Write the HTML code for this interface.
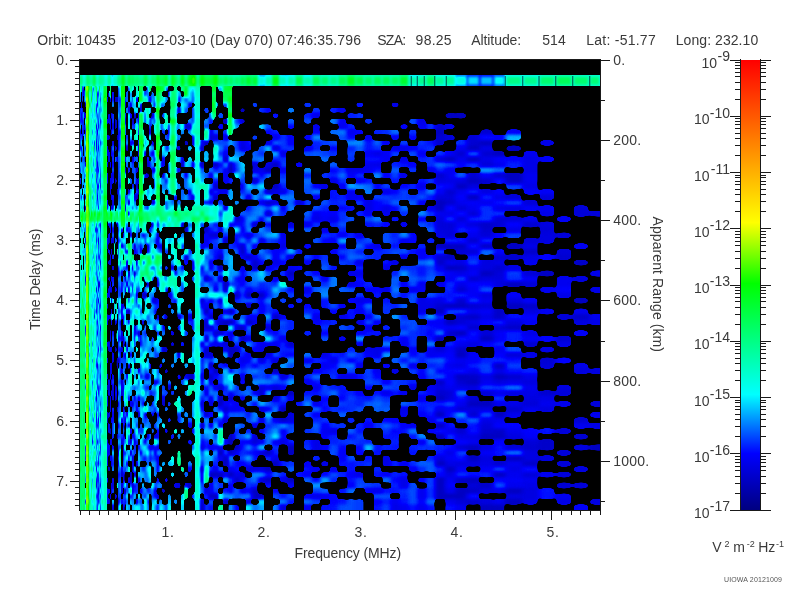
<!DOCTYPE html>
<html><head><meta charset="utf-8"><title>ionogram</title>
<style>html,body{margin:0;padding:0;background:#fff;overflow:hidden}svg{display:block}text{font-family:"Liberation Sans",sans-serif;fill:#3a3a3a;opacity:.999}.t{font-size:14px}.tk{font-size:14px;letter-spacing:.5px}.tr{font-size:14px;letter-spacing:.2px}.s{font-size:9px}.u{font-size:7px;fill:#555}.k{stroke:#1a1a1a;stroke-width:1;shape-rendering:crispEdges;fill:none}</style></head><body>
<svg width="800" height="600" viewBox="0 0 800 600">
<rect width="800" height="600" fill="#fff"/>
<text class="t" x="37.2" y="45.0" textLength="78.5" lengthAdjust="spacing">Orbit: 10435</text>
<text class="t" x="132.5" y="45.0" textLength="228.5" lengthAdjust="spacing">2012-03-10 (Day 070) 07:46:35.796</text>
<text class="t" x="377.2" y="45.0" textLength="29.0" lengthAdjust="spacing">SZA:</text>
<text class="t" x="415.6" y="45.0" textLength="36.0" lengthAdjust="spacing">98.25</text>
<text class="t" x="471.2" y="45.0" textLength="50.0" lengthAdjust="spacing">Altitude:</text>
<text class="t" x="542.2" y="45.0" textLength="23.5" lengthAdjust="spacing">514</text>
<text class="t" x="586.2" y="45.0" textLength="69.5" lengthAdjust="spacing">Lat: -51.77</text>
<text class="t" x="675.7" y="45.0" textLength="82.5" lengthAdjust="spacing">Long: 232.10</text>
<defs>
<filter id="f0" filterUnits="userSpaceOnUse" x="50" y="40" width="120" height="500" color-interpolation-filters="sRGB"><feGaussianBlur stdDeviation="0.45 1.40"/><feComponentTransfer><feFuncR type="table" tableValues="0 0 0 0 0 0 0 0 0 0 0 0 0 0 0 0 0 0.25 0.5 0.75 1"/><feFuncG type="table" tableValues="0 0 0 0 0 0.25 0.5 0.75 1 1 1 1 1 1 1 1 1 1 1 1 1"/><feFuncB type="table" tableValues="0.5 0.625 0.75 0.875 1 1 1 1 1 0.875 0.75 0.625 0.5 0.375 0.25 0.125 0 0 0 0 0"/><feFuncA type="table" tableValues="0 0 0 0 0 0 0 0 0 0 0 0 0 0 0 0 0 0 0 0 0 0 0 0 0.167 0.5 0.833 1 1 1 1 1 1 1 1 1 1 1 1 1 1 1 1 1 1 1 1 1 1 1 1"/></feComponentTransfer></filter>
<clipPath id="c0"><rect x="80" y="60" width="60" height="450"/></clipPath>
<filter id="f1" filterUnits="userSpaceOnUse" x="110" y="40" width="152" height="500" color-interpolation-filters="sRGB"><feGaussianBlur stdDeviation="0.95 1.40"/><feComponentTransfer><feFuncR type="table" tableValues="0 0 0 0 0 0 0 0 0 0 0 0 0 0 0 0 0 0.25 0.5 0.75 1"/><feFuncG type="table" tableValues="0 0 0 0 0 0.25 0.5 0.75 1 1 1 1 1 1 1 1 1 1 1 1 1"/><feFuncB type="table" tableValues="0.5 0.625 0.75 0.875 1 1 1 1 1 0.875 0.75 0.625 0.5 0.375 0.25 0.125 0 0 0 0 0"/><feFuncA type="table" tableValues="0 0 0 0 0 0 0 0 0 0 0 0 0 0 0 0 0 0 0 0 0 0 0 0 0 0 0.167 0.5 0.833 1 1 1 1 1 1 1 1 1 1 1 1 1 1 1 1 1 1 1 1 1 1"/></feComponentTransfer></filter>
<clipPath id="c1"><rect x="140" y="60" width="92" height="450"/></clipPath>
<filter id="f2" filterUnits="userSpaceOnUse" x="202" y="40" width="273" height="500" color-interpolation-filters="sRGB"><feGaussianBlur stdDeviation="1.90 1.40"/><feComponentTransfer><feFuncR type="table" tableValues="0 0 0 0 0 0 0 0 0 0 0 0 0 0 0 0 0 0.25 0.5 0.75 1"/><feFuncG type="table" tableValues="0 0 0 0 0 0.25 0.5 0.75 1 1 1 1 1 1 1 1 1 1 1 1 1"/><feFuncB type="table" tableValues="0.5 0.625 0.75 0.875 1 1 1 1 1 0.875 0.75 0.625 0.5 0.375 0.25 0.125 0 0 0 0 0"/><feFuncA type="table" tableValues="0 0 0 0 0 0 0 0 0 0 0 0 0 0 0 0 0 0 0 0 0 0 0 0 0 0 0 0.167 0.5 0.833 1 1 1 1 1 1 1 1 1 1 1 1 1 1 1 1 1 1 1 1 1"/></feComponentTransfer></filter>
<clipPath id="c2"><rect x="232" y="60" width="213" height="450"/></clipPath>
<filter id="f3" filterUnits="userSpaceOnUse" x="415" y="40" width="215" height="500" color-interpolation-filters="sRGB"><feGaussianBlur stdDeviation="3.00 1.80"/><feComponentTransfer><feFuncR type="table" tableValues="0 0 0 0 0 0 0 0 0 0 0 0 0 0 0 0 0 0.25 0.5 0.75 1"/><feFuncG type="table" tableValues="0 0 0 0 0 0.25 0.5 0.75 1 1 1 1 1 1 1 1 1 1 1 1 1"/><feFuncB type="table" tableValues="0.5 0.625 0.75 0.875 1 1 1 1 1 0.875 0.75 0.625 0.5 0.375 0.25 0.125 0 0 0 0 0"/><feFuncA type="table" tableValues="0 0 0 0 0 0 0 0 0 0 0 0 0 0 0 0 0 0 0 0 0.167 0.5 0.833 1 1 1 1 1 1 1 1 1 1 1 1 1 1 1 1 1 1 1 1 1 1 1 1 1 1 1 1"/></feComponentTransfer></filter>
<clipPath id="c3"><rect x="445" y="60" width="155" height="450"/></clipPath>
</defs>
<rect x="80" y="60" width="521" height="451" fill="#000"/>
<g clip-path="url(#c0)" filter="url(#f0)">
<path fill="rgb(27,27,27)" d="M85.2 102.2h0.8v5.4h-0.8zM85.2 162.0h0.8v5.4h-0.8zM85.2 205.5h0.8v5.4h-0.8zM85.2 238.1h0.8v5.4h-0.8zM85.2 276.2h0.8v5.4h-0.8zM85.2 325.1h0.8v5.4h-0.8zM85.2 444.8h0.8v5.4h-0.8zM85.2 455.6h0.8v5.4h-0.8zM85.2 499.1h0.8v5.4h-0.8zM86.0 107.6h0.8v5.4h-0.8zM86.0 134.8h0.8v5.4h-0.8zM86.0 183.8h0.8v5.4h-0.8zM86.0 352.3h0.8v5.4h-0.8zM86.0 384.9h0.8v5.4h-0.8zM86.0 439.3h0.8v10.9h-0.8zM86.0 455.6h0.8v5.4h-0.8zM86.8 91.3h0.8v5.4h-0.8zM86.8 107.6h0.8v5.4h-0.8zM86.8 194.6h0.8v5.4h-0.8zM86.8 221.8h0.8v5.4h-0.8zM86.8 238.1h0.8v10.9h-0.8zM86.8 287.1h0.8v5.4h-0.8zM86.8 390.4h0.8v5.4h-0.8zM86.8 450.2h0.8v5.4h-0.8zM86.8 482.8h0.8v5.4h-0.8zM87.7 167.4h0.9v5.4h-0.9zM87.7 232.7h0.9v5.4h-0.9zM87.7 265.3h0.9v5.4h-0.9zM87.7 287.1h0.9v5.4h-0.9zM87.7 303.4h0.9v5.4h-0.9zM87.7 341.4h0.9v5.4h-0.9zM87.7 439.3h0.9v5.4h-0.9zM87.7 461.1h0.9v5.4h-0.9zM88.5 91.3h0.9v10.9h-0.9zM88.5 151.1h0.9v5.4h-0.9zM88.5 238.1h0.9v5.4h-0.9zM88.5 276.2h0.9v5.4h-0.9zM88.5 341.4h0.9v10.9h-0.9zM88.5 368.6h0.9v5.4h-0.9zM88.5 406.7h0.9v5.4h-0.9zM101.3 102.2h1.1v5.4h-1.1zM101.3 265.3h1.1v5.4h-1.1zM102.4 319.7h1.1v5.4h-1.1zM103.6 91.3h1.2v5.4h-1.2zM103.6 189.2h1.2v5.4h-1.2zM104.7 357.8h1.2v5.4h-1.2zM105.9 417.6h1.2v5.4h-1.2zM107.2 384.9h1.2v5.4h-1.2zM107.2 417.6h1.2v5.4h-1.2zM108.4 91.3h1.3v5.4h-1.3zM108.4 238.1h1.3v5.4h-1.3zM108.4 384.9h1.3v5.4h-1.3zM108.4 466.5h1.3v5.4h-1.3zM109.7 428.4h1.3v5.4h-1.3zM111.0 145.7h1.3v5.4h-1.3zM115.1 96.8h1.5v5.4h-1.5zM115.1 118.5h1.5v10.9h-1.5zM115.1 145.7h1.5v5.4h-1.5zM115.1 178.3h1.5v5.4h-1.5zM115.1 346.9h1.5v5.4h-1.5zM115.1 384.9h1.5v5.4h-1.5zM115.1 395.8h1.5v5.4h-1.5zM116.5 96.8h1.5v5.4h-1.5zM116.5 134.8h1.5v5.4h-1.5zM116.5 156.6h1.5v5.4h-1.5zM116.5 189.2h1.5v5.4h-1.5zM116.5 221.8h1.5v5.4h-1.5zM116.5 357.8h1.5v5.4h-1.5zM116.5 406.7h1.5v5.4h-1.5zM116.5 433.9h1.5v5.4h-1.5zM118.0 357.8h1.5v5.4h-1.5zM118.0 499.1h1.5v5.4h-1.5zM121.1 162.0h1.6v5.4h-1.6zM121.1 178.3h1.6v5.4h-1.6zM121.1 270.8h1.6v5.4h-1.6zM121.1 390.4h1.6v5.4h-1.6zM121.1 471.9h1.6v5.4h-1.6zM122.8 189.2h1.7v5.4h-1.7zM124.4 102.2h1.7v5.4h-1.7zM124.4 205.5h1.7v5.4h-1.7zM124.4 352.3h1.7v5.4h-1.7zM126.2 145.7h1.8v5.4h-1.8zM128.0 200.1h1.8v5.4h-1.8zM128.0 270.8h1.8v5.4h-1.8zM128.0 308.8h1.8v5.4h-1.8zM129.8 439.3h1.9v5.4h-1.9zM129.8 450.2h1.9v5.4h-1.9zM129.8 471.9h1.9v10.9h-1.9zM131.7 156.6h1.9v5.4h-1.9zM131.7 466.5h1.9v5.4h-1.9zM133.6 194.6h2.0v5.4h-2.0zM133.6 243.6h2.0v5.4h-2.0zM133.6 270.8h2.0v5.4h-2.0zM135.6 183.8h2.1v5.4h-2.1zM135.6 194.6h2.1v5.4h-2.1zM137.7 145.7h2.1v5.4h-2.1zM137.7 189.2h2.1v5.4h-2.1zM137.7 412.1h2.1v5.4h-2.1zM139.8 91.3h2.2v5.4h-2.2zM139.8 249.0h2.2v5.4h-2.2zM139.8 450.2h2.2v5.4h-2.2zM142.0 178.3h2.3v5.4h-2.3zM142.0 205.5h2.3v5.4h-2.3zM142.0 292.5h2.3v5.4h-2.3z"/>
<path fill="rgb(30,30,30)" d="M81.4 102.2h0.7v5.4h-0.7zM81.4 113.1h0.7v5.4h-0.7zM82.1 134.8h0.7v5.4h-0.7zM84.4 113.1h0.8v5.4h-0.8zM84.4 123.9h0.8v5.4h-0.8zM86.8 162.0h0.8v5.4h-0.8zM87.7 249.0h0.9v5.4h-0.9zM88.5 134.8h0.9v5.4h-0.9zM98.0 238.1h1.1v5.4h-1.1zM98.0 281.6h1.1v5.4h-1.1zM99.1 281.6h1.1v5.4h-1.1zM100.2 259.9h1.1v5.4h-1.1zM100.2 325.1h1.1v5.4h-1.1zM102.4 270.8h1.1v5.4h-1.1zM108.4 346.9h1.3v5.4h-1.3zM116.5 363.2h1.5v5.4h-1.5zM121.1 145.7h1.6v5.4h-1.6zM121.1 205.5h1.6v5.4h-1.6zM121.1 439.3h1.6v5.4h-1.6zM124.4 167.4h1.7v5.4h-1.7zM124.4 276.2h1.7v5.4h-1.7zM124.4 488.2h1.7v5.4h-1.7zM131.7 118.5h1.9v5.4h-1.9zM133.6 113.1h2.0v5.4h-2.0zM135.6 499.1h2.1v5.4h-2.1zM137.7 178.3h2.1v5.4h-2.1zM139.8 107.6h2.2v5.4h-2.2z"/>
<path fill="rgb(33,33,33)" d="M86.0 156.6h0.8v5.4h-0.8zM86.8 455.6h0.8v5.4h-0.8zM100.2 444.8h1.1v5.4h-1.1zM101.3 428.4h1.1v5.4h-1.1zM102.4 412.1h1.1v5.4h-1.1zM102.4 444.8h1.1v5.4h-1.1zM102.4 477.4h1.1v5.4h-1.1zM105.9 151.1h1.2v5.4h-1.2zM108.4 134.8h1.3v5.4h-1.3zM108.4 276.2h1.3v5.4h-1.3zM109.7 330.6h1.3v5.4h-1.3zM112.3 172.9h1.4v5.4h-1.4zM112.3 390.4h1.4v10.9h-1.4zM112.3 482.8h1.4v5.4h-1.4zM118.0 270.8h1.5v5.4h-1.5zM121.1 123.9h1.6v5.4h-1.6zM121.1 156.6h1.6v5.4h-1.6zM121.1 243.6h1.6v5.4h-1.6zM121.1 346.9h1.6v5.4h-1.6zM121.1 368.6h1.6v5.4h-1.6zM121.1 417.6h1.6v5.4h-1.6zM121.1 482.8h1.6v10.9h-1.6zM122.8 336.0h1.7v5.4h-1.7zM122.8 444.8h1.7v5.4h-1.7zM124.4 417.6h1.7v5.4h-1.7zM128.0 107.6h1.8v5.4h-1.8zM133.6 325.1h2.0v5.4h-2.0zM133.6 471.9h2.0v5.4h-2.0zM135.6 259.9h2.1v5.4h-2.1zM135.6 461.1h2.1v5.4h-2.1zM137.7 330.6h2.1v5.4h-2.1zM139.8 102.2h2.2v5.4h-2.2zM142.0 91.3h2.3v5.4h-2.3z"/>
<path fill="rgb(36,36,36)" d="M81.4 194.6h0.7v5.4h-0.7zM83.6 123.9h0.8v5.4h-0.8zM85.2 113.1h0.8v5.4h-0.8zM86.8 368.6h0.8v5.4h-0.8zM88.5 232.7h0.9v5.4h-0.9zM96.0 395.8h1.0v5.4h-1.0zM97.0 129.4h1.0v5.4h-1.0zM97.0 162.0h1.0v5.4h-1.0zM97.0 363.2h1.0v5.4h-1.0zM98.0 488.2h1.1v5.4h-1.1zM101.3 151.1h1.1v5.4h-1.1zM112.3 123.9h1.4v5.4h-1.4zM112.3 238.1h1.4v5.4h-1.4zM112.3 384.9h1.4v5.4h-1.4zM118.0 450.2h1.5v5.4h-1.5zM121.1 151.1h1.6v5.4h-1.6zM121.1 379.5h1.6v5.4h-1.6zM124.4 118.5h1.7v5.4h-1.7zM126.2 259.9h1.8v5.4h-1.8zM126.2 281.6h1.8v5.4h-1.8zM126.2 308.8h1.8v5.4h-1.8zM128.0 287.1h1.8v5.4h-1.8zM129.8 102.2h1.9v5.4h-1.9zM137.7 477.4h2.1v5.4h-2.1z"/>
<path fill="rgb(39,39,39)" d="M68.0 91.3h12.7v5.4h-12.7zM80.7 107.6h0.7v5.4h-0.7zM84.4 151.1h0.8v5.4h-0.8zM85.2 330.6h0.8v5.4h-0.8zM85.2 384.9h0.8v5.4h-0.8zM86.0 205.5h0.8v5.4h-0.8zM86.0 428.4h0.8v5.4h-0.8zM86.8 156.6h0.8v5.4h-0.8zM86.8 265.3h0.8v5.4h-0.8zM86.8 374.1h0.8v5.4h-0.8zM87.7 178.3h0.9v5.4h-0.9zM87.7 368.6h0.9v5.4h-0.9zM96.0 287.1h1.0v5.4h-1.0zM98.0 297.9h1.1v5.4h-1.1zM100.2 183.8h1.1v5.4h-1.1zM103.6 423.0h1.2v5.4h-1.2zM105.9 227.2h1.2v5.4h-1.2zM105.9 287.1h1.2v5.4h-1.2zM107.2 412.1h1.2v5.4h-1.2zM109.7 183.8h1.3v5.4h-1.3zM112.3 200.1h1.4v10.9h-1.4zM112.3 265.3h1.4v5.4h-1.4zM112.3 504.6h1.4v17.4h-1.4zM115.1 319.7h1.5v5.4h-1.5zM121.1 303.4h1.6v5.4h-1.6zM121.1 330.6h1.6v5.4h-1.6zM122.8 91.3h1.7v5.4h-1.7zM122.8 107.6h1.7v5.4h-1.7zM122.8 162.0h1.7v5.4h-1.7zM122.8 232.7h1.7v5.4h-1.7zM122.8 303.4h1.7v5.4h-1.7zM128.0 210.9h1.8v5.4h-1.8zM131.7 401.2h1.9v5.4h-1.9zM131.7 455.6h1.9v5.4h-1.9zM131.7 482.8h1.9v5.4h-1.9zM135.6 167.4h2.1v5.4h-2.1zM137.7 113.1h2.1v5.4h-2.1zM139.8 488.2h2.2v5.4h-2.2z"/>
<path fill="rgb(42,42,42)" d="M80.7 118.5h0.7v5.4h-0.7zM83.6 85.9h0.8v5.4h-0.8zM85.2 194.6h0.8v5.4h-0.8zM86.8 401.2h0.8v5.4h-0.8zM87.7 134.8h0.9v5.4h-0.9zM87.7 259.9h0.9v5.4h-0.9zM87.7 428.4h0.9v5.4h-0.9zM88.5 292.5h0.9v5.4h-0.9zM88.5 314.2h0.9v5.4h-0.9zM90.3 428.4h0.9v5.4h-0.9zM92.1 439.3h0.9v5.4h-0.9zM96.0 140.2h1.0v5.4h-1.0zM96.0 482.8h1.0v5.4h-1.0zM97.0 194.6h1.0v5.4h-1.0zM100.2 118.5h1.1v5.4h-1.1zM101.3 113.1h1.1v5.4h-1.1zM101.3 319.7h1.1v5.4h-1.1zM102.4 281.6h1.1v5.4h-1.1zM103.6 96.8h1.2v5.4h-1.2zM103.6 319.7h1.2v5.4h-1.2zM105.9 102.2h1.2v5.4h-1.2zM105.9 379.5h1.2v5.4h-1.2zM105.9 471.9h1.2v5.4h-1.2zM107.2 439.3h1.2v5.4h-1.2zM108.4 118.5h1.3v5.4h-1.3zM108.4 156.6h1.3v5.4h-1.3zM108.4 221.8h1.3v5.4h-1.3zM108.4 232.7h1.3v5.4h-1.3zM108.4 249.0h1.3v5.4h-1.3zM108.4 259.9h1.3v5.4h-1.3zM108.4 292.5h1.3v5.4h-1.3zM108.4 314.2h1.3v5.4h-1.3zM108.4 390.4h1.3v5.4h-1.3zM108.4 412.1h1.3v5.4h-1.3zM108.4 423.0h1.3v10.9h-1.3zM108.4 450.2h1.3v5.4h-1.3zM108.4 488.2h1.3v5.4h-1.3zM108.4 499.1h1.3v5.4h-1.3zM109.7 254.4h1.3v5.4h-1.3zM109.7 368.6h1.3v5.4h-1.3zM111.0 113.1h1.3v5.4h-1.3zM111.0 129.4h1.3v5.4h-1.3zM111.0 151.1h1.3v5.4h-1.3zM111.0 172.9h1.3v16.3h-1.3zM111.0 194.6h1.3v5.4h-1.3zM111.0 205.5h1.3v5.4h-1.3zM111.0 238.1h1.3v5.4h-1.3zM111.0 249.0h1.3v5.4h-1.3zM111.0 276.2h1.3v5.4h-1.3zM111.0 287.1h1.3v5.4h-1.3zM111.0 297.9h1.3v5.4h-1.3zM111.0 308.8h1.3v5.4h-1.3zM111.0 319.7h1.3v5.4h-1.3zM111.0 346.9h1.3v5.4h-1.3zM111.0 363.2h1.3v10.9h-1.3zM111.0 379.5h1.3v5.4h-1.3zM111.0 390.4h1.3v5.4h-1.3zM111.0 439.3h1.3v5.4h-1.3zM111.0 455.6h1.3v10.9h-1.3zM111.0 482.8h1.3v10.9h-1.3zM112.3 140.2h1.4v5.4h-1.4zM112.3 357.8h1.4v5.4h-1.4zM115.1 287.1h1.5v5.4h-1.5zM118.0 461.1h1.5v5.4h-1.5zM121.1 227.2h1.6v5.4h-1.6zM121.1 308.8h1.6v5.4h-1.6zM121.1 336.0h1.6v5.4h-1.6zM121.1 466.5h1.6v5.4h-1.6zM122.8 178.3h1.7v5.4h-1.7zM128.0 189.2h1.8v5.4h-1.8zM128.0 363.2h1.8v5.4h-1.8zM131.7 488.2h1.9v5.4h-1.9zM133.6 439.3h2.0v5.4h-2.0zM135.6 178.3h2.1v5.4h-2.1zM137.7 395.8h2.1v5.4h-2.1zM139.8 374.1h2.2v5.4h-2.2zM142.0 232.7h2.3v5.4h-2.3zM142.0 259.9h2.3v5.4h-2.3zM142.0 319.7h2.3v5.4h-2.3z"/>
<path fill="rgb(45,45,45)" d="M68.0 129.4h12.7v5.4h-12.7zM82.9 91.3h0.8v5.4h-0.8zM85.2 254.4h0.8v5.4h-0.8zM86.0 145.7h0.8v5.4h-0.8zM86.0 178.3h0.8v5.4h-0.8zM86.0 341.4h0.8v5.4h-0.8zM86.8 102.2h0.8v5.4h-0.8zM87.7 172.9h0.9v5.4h-0.9zM88.5 287.1h0.9v5.4h-0.9zM88.5 297.9h0.9v5.4h-0.9zM88.5 444.8h0.9v5.4h-0.9zM96.0 123.9h1.0v5.4h-1.0zM98.0 417.6h1.1v5.4h-1.1zM100.2 412.1h1.1v5.4h-1.1zM100.2 482.8h1.1v5.4h-1.1zM101.3 145.7h1.1v5.4h-1.1zM101.3 357.8h1.1v5.4h-1.1zM101.3 488.2h1.1v5.4h-1.1zM102.4 455.6h1.1v5.4h-1.1zM104.7 259.9h1.2v5.4h-1.2zM105.9 85.9h1.2v5.4h-1.2zM105.9 428.4h1.2v5.4h-1.2zM107.2 96.8h1.2v5.4h-1.2zM107.2 118.5h1.2v5.4h-1.2zM107.2 134.8h1.2v5.4h-1.2zM107.2 145.7h1.2v10.9h-1.2zM107.2 162.0h1.2v5.4h-1.2zM107.2 172.9h1.2v10.9h-1.2zM107.2 200.1h1.2v10.9h-1.2zM107.2 238.1h1.2v10.9h-1.2zM107.2 292.5h1.2v5.4h-1.2zM107.2 303.4h1.2v5.4h-1.2zM107.2 314.2h1.2v10.9h-1.2zM107.2 341.4h1.2v5.4h-1.2zM107.2 357.8h1.2v5.4h-1.2zM107.2 374.1h1.2v5.4h-1.2zM107.2 395.8h1.2v10.9h-1.2zM107.2 444.8h1.2v21.8h-1.2zM107.2 477.4h1.2v5.4h-1.2zM107.2 488.2h1.2v16.3h-1.2zM108.4 113.1h1.3v5.4h-1.3zM108.4 151.1h1.3v5.4h-1.3zM108.4 287.1h1.3v5.4h-1.3zM108.4 341.4h1.3v5.4h-1.3zM108.4 379.5h1.3v5.4h-1.3zM108.4 444.8h1.3v5.4h-1.3zM109.7 96.8h1.3v5.4h-1.3zM109.7 118.5h1.3v10.9h-1.3zM109.7 162.0h1.3v5.4h-1.3zM109.7 178.3h1.3v5.4h-1.3zM109.7 189.2h1.3v5.4h-1.3zM109.7 221.8h1.3v10.9h-1.3zM109.7 259.9h1.3v5.4h-1.3zM109.7 281.6h1.3v10.9h-1.3zM109.7 314.2h1.3v5.4h-1.3zM109.7 336.0h1.3v5.4h-1.3zM109.7 346.9h1.3v5.4h-1.3zM109.7 363.2h1.3v5.4h-1.3zM109.7 374.1h1.3v5.4h-1.3zM109.7 395.8h1.3v16.3h-1.3zM109.7 439.3h1.3v5.4h-1.3zM109.7 455.6h1.3v5.4h-1.3zM109.7 493.7h1.3v5.4h-1.3zM111.0 417.6h1.3v5.4h-1.3zM112.3 227.2h1.4v5.4h-1.4zM112.3 412.1h1.4v5.4h-1.4zM115.1 493.7h1.5v5.4h-1.5zM118.0 145.7h1.5v5.4h-1.5zM118.0 423.0h1.5v5.4h-1.5zM119.5 319.7h1.6v5.4h-1.6zM121.1 314.2h1.6v5.4h-1.6zM121.1 384.9h1.6v5.4h-1.6zM122.8 134.8h1.7v5.4h-1.7zM122.8 319.7h1.7v5.4h-1.7zM122.8 341.4h1.7v5.4h-1.7zM122.8 384.9h1.7v5.4h-1.7zM122.8 471.9h1.7v10.9h-1.7zM126.2 227.2h1.8v5.4h-1.8zM129.8 140.2h1.9v5.4h-1.9zM129.8 401.2h1.9v5.4h-1.9zM131.7 265.3h1.9v5.4h-1.9zM135.6 96.8h2.1v5.4h-2.1zM135.6 406.7h2.1v5.4h-2.1zM139.8 162.0h2.2v5.4h-2.2zM139.8 243.6h2.2v5.4h-2.2zM139.8 336.0h2.2v10.9h-2.2zM142.0 401.2h2.3v5.4h-2.3z"/>
<path fill="rgb(48,48,48)" d="M68.0 178.3h12.7v5.4h-12.7zM82.1 85.9h0.7v5.4h-0.7zM82.9 129.4h0.8v5.4h-0.8zM85.2 281.6h0.8v5.4h-0.8zM85.2 450.2h0.8v5.4h-0.8zM86.0 276.2h0.8v5.4h-0.8zM86.8 346.9h0.8v5.4h-0.8zM87.7 205.5h0.9v5.4h-0.9zM87.7 243.6h0.9v5.4h-0.9zM87.7 504.6h0.9v17.4h-0.9zM88.5 156.6h0.9v5.4h-0.9zM88.5 194.6h0.9v5.4h-0.9zM88.5 319.7h0.9v5.4h-0.9zM88.5 336.0h0.9v5.4h-0.9zM96.0 145.7h1.0v5.4h-1.0zM96.0 417.6h1.0v5.4h-1.0zM96.0 466.5h1.0v5.4h-1.0zM97.0 102.2h1.0v5.4h-1.0zM97.0 330.6h1.0v5.4h-1.0zM98.0 145.7h1.1v5.4h-1.1zM98.0 183.8h1.1v5.4h-1.1zM98.0 287.1h1.1v5.4h-1.1zM100.2 140.2h1.1v5.4h-1.1zM100.2 221.8h1.1v5.4h-1.1zM100.2 346.9h1.1v5.4h-1.1zM101.3 91.3h1.1v5.4h-1.1zM101.3 249.0h1.1v5.4h-1.1zM101.3 292.5h1.1v5.4h-1.1zM102.4 145.7h1.1v5.4h-1.1zM103.6 151.1h1.2v5.4h-1.2zM104.7 194.6h1.2v5.4h-1.2zM104.7 336.0h1.2v5.4h-1.2zM105.9 357.8h1.2v5.4h-1.2zM105.9 406.7h1.2v5.4h-1.2zM112.3 162.0h1.4v5.4h-1.4zM112.3 352.3h1.4v5.4h-1.4zM112.3 374.1h1.4v5.4h-1.4zM112.3 444.8h1.4v5.4h-1.4zM118.0 134.8h1.5v5.4h-1.5zM118.0 401.2h1.5v5.4h-1.5zM119.5 96.8h1.6v5.4h-1.6zM119.5 129.4h1.6v5.4h-1.6zM119.5 183.8h1.6v5.4h-1.6zM119.5 346.9h1.6v5.4h-1.6zM121.1 102.2h1.6v5.4h-1.6zM121.1 189.2h1.6v5.4h-1.6zM122.8 200.1h1.7v5.4h-1.7zM122.8 433.9h1.7v5.4h-1.7zM122.8 504.6h1.7v17.4h-1.7zM124.4 156.6h1.7v5.4h-1.7zM124.4 287.1h1.7v5.4h-1.7zM126.2 346.9h1.8v5.4h-1.8zM128.0 423.0h1.8v5.4h-1.8zM128.0 477.4h1.8v5.4h-1.8zM129.8 232.7h1.9v5.4h-1.9zM129.8 352.3h1.9v5.4h-1.9zM129.8 428.4h1.9v5.4h-1.9zM131.7 140.2h1.9v5.4h-1.9zM131.7 433.9h1.9v5.4h-1.9zM131.7 461.1h1.9v5.4h-1.9zM133.6 249.0h2.0v5.4h-2.0zM137.7 368.6h2.1v5.4h-2.1zM137.7 444.8h2.1v5.4h-2.1zM139.8 189.2h2.2v5.4h-2.2z"/>
<path fill="rgb(51,51,51)" d="M68.0 140.2h12.7v5.4h-12.7zM68.0 167.4h12.7v5.4h-12.7zM80.7 113.1h0.7v5.4h-0.7zM80.7 129.4h0.7v5.4h-0.7zM81.4 145.7h0.7v5.4h-0.7zM83.6 113.1h0.8v5.4h-0.8zM85.2 477.4h0.8v5.4h-0.8zM87.7 123.9h0.9v5.4h-0.9zM88.5 428.4h0.9v5.4h-0.9zM88.5 493.7h0.9v5.4h-0.9zM95.0 227.2h1.0v5.4h-1.0zM96.0 107.6h1.0v5.4h-1.0zM96.0 308.8h1.0v5.4h-1.0zM96.0 390.4h1.0v5.4h-1.0zM97.0 183.8h1.0v5.4h-1.0zM97.0 439.3h1.0v5.4h-1.0zM97.0 493.7h1.0v5.4h-1.0zM98.0 123.9h1.1v5.4h-1.1zM98.0 167.4h1.1v5.4h-1.1zM98.0 346.9h1.1v5.4h-1.1zM98.0 461.1h1.1v5.4h-1.1zM100.2 314.2h1.1v5.4h-1.1zM100.2 374.1h1.1v5.4h-1.1zM100.2 504.6h1.1v17.4h-1.1zM101.3 189.2h1.1v5.4h-1.1zM101.3 254.4h1.1v5.4h-1.1zM101.3 336.0h1.1v5.4h-1.1zM101.3 499.1h1.1v5.4h-1.1zM104.7 384.9h1.2v5.4h-1.2zM112.3 477.4h1.4v5.4h-1.4zM118.0 238.1h1.5v5.4h-1.5zM118.0 336.0h1.5v5.4h-1.5zM118.0 471.9h1.5v5.4h-1.5zM119.5 336.0h1.6v5.4h-1.6zM121.1 200.1h1.6v5.4h-1.6zM121.1 287.1h1.6v5.4h-1.6zM121.1 499.1h1.6v5.4h-1.6zM122.8 129.4h1.7v5.4h-1.7zM122.8 145.7h1.7v5.4h-1.7zM122.8 183.8h1.7v5.4h-1.7zM122.8 205.5h1.7v5.4h-1.7zM122.8 314.2h1.7v5.4h-1.7zM122.8 406.7h1.7v5.4h-1.7zM122.8 423.0h1.7v5.4h-1.7zM122.8 450.2h1.7v5.4h-1.7zM126.2 249.0h1.8v5.4h-1.8zM126.2 265.3h1.8v5.4h-1.8zM126.2 374.1h1.8v5.4h-1.8zM126.2 412.1h1.8v5.4h-1.8zM126.2 461.1h1.8v5.4h-1.8zM128.0 319.7h1.8v5.4h-1.8zM129.8 113.1h1.9v5.4h-1.9zM133.6 330.6h2.0v5.4h-2.0zM133.6 395.8h2.0v5.4h-2.0zM133.6 482.8h2.0v5.4h-2.0zM135.6 292.5h2.1v5.4h-2.1zM137.7 118.5h2.1v5.4h-2.1zM137.7 151.1h2.1v5.4h-2.1zM139.8 118.5h2.2v5.4h-2.2zM139.8 129.4h2.2v5.4h-2.2zM139.8 183.8h2.2v5.4h-2.2zM142.0 151.1h2.3v5.4h-2.3z"/>
<path fill="rgb(54,54,54)" d="M68.0 145.7h12.7v5.4h-12.7zM80.7 96.8h0.7v5.4h-0.7zM81.4 134.8h0.7v5.4h-0.7zM82.1 107.6h0.7v5.4h-0.7zM82.1 118.5h0.7v5.4h-0.7zM83.6 91.3h0.8v5.4h-0.8zM83.6 167.4h0.8v5.4h-0.8zM85.2 433.9h0.8v5.4h-0.8zM86.8 189.2h0.8v5.4h-0.8zM86.8 428.4h0.8v5.4h-0.8zM87.7 96.8h0.9v5.4h-0.9zM87.7 200.1h0.9v5.4h-0.9zM87.7 319.7h0.9v5.4h-0.9zM87.7 363.2h0.9v5.4h-0.9zM94.0 314.2h1.0v5.4h-1.0zM96.0 227.2h1.0v5.4h-1.0zM96.0 363.2h1.0v5.4h-1.0zM96.0 477.4h1.0v5.4h-1.0zM97.0 91.3h1.0v5.4h-1.0zM97.0 227.2h1.0v5.4h-1.0zM97.0 276.2h1.0v5.4h-1.0zM97.0 319.7h1.0v5.4h-1.0zM97.0 471.9h1.0v5.4h-1.0zM98.0 390.4h1.1v5.4h-1.1zM98.0 477.4h1.1v5.4h-1.1zM98.0 499.1h1.1v5.4h-1.1zM99.1 254.4h1.1v5.4h-1.1zM100.2 172.9h1.1v5.4h-1.1zM100.2 227.2h1.1v5.4h-1.1zM100.2 265.3h1.1v5.4h-1.1zM100.2 341.4h1.1v5.4h-1.1zM101.3 123.9h1.1v5.4h-1.1zM102.4 194.6h1.1v5.4h-1.1zM102.4 401.2h1.1v5.4h-1.1zM103.6 259.9h1.2v5.4h-1.2zM103.6 368.6h1.2v5.4h-1.2zM104.7 123.9h1.2v5.4h-1.2zM105.9 189.2h1.2v5.4h-1.2zM105.9 352.3h1.2v5.4h-1.2zM105.9 368.6h1.2v5.4h-1.2zM105.9 395.8h1.2v5.4h-1.2zM105.9 482.8h1.2v5.4h-1.2zM112.3 91.3h1.4v10.9h-1.4zM112.3 151.1h1.4v5.4h-1.4zM112.3 194.6h1.4v5.4h-1.4zM112.3 276.2h1.4v5.4h-1.4zM112.3 330.6h1.4v5.4h-1.4zM112.3 417.6h1.4v5.4h-1.4zM115.1 390.4h1.5v5.4h-1.5zM118.0 129.4h1.5v5.4h-1.5zM118.0 140.2h1.5v5.4h-1.5zM118.0 189.2h1.5v5.4h-1.5zM118.0 265.3h1.5v5.4h-1.5zM118.0 346.9h1.5v5.4h-1.5zM119.5 102.2h1.6v5.4h-1.6zM119.5 113.1h1.6v5.4h-1.6zM119.5 352.3h1.6v5.4h-1.6zM121.1 107.6h1.6v5.4h-1.6zM121.1 140.2h1.6v5.4h-1.6zM121.1 281.6h1.6v5.4h-1.6zM122.8 390.4h1.7v5.4h-1.7zM122.8 412.1h1.7v5.4h-1.7zM122.8 439.3h1.7v5.4h-1.7zM124.4 499.1h1.7v5.4h-1.7zM128.0 395.8h1.8v5.4h-1.8zM128.0 455.6h1.8v5.4h-1.8zM129.8 493.7h1.9v5.4h-1.9zM131.7 183.8h1.9v5.4h-1.9zM133.6 433.9h2.0v5.4h-2.0zM135.6 249.0h2.1v5.4h-2.1zM135.6 330.6h2.1v5.4h-2.1zM142.0 428.4h2.3v5.4h-2.3z"/>
<path fill="rgb(57,57,57)" d="M68.0 118.5h12.7v5.4h-12.7zM82.9 85.9h0.8v5.4h-0.8zM83.6 200.1h0.8v5.4h-0.8zM84.4 156.6h0.8v5.4h-0.8zM85.2 129.4h0.8v5.4h-0.8zM85.2 352.3h0.8v5.4h-0.8zM86.0 238.1h0.8v5.4h-0.8zM86.0 287.1h0.8v5.4h-0.8zM86.0 336.0h0.8v5.4h-0.8zM86.8 118.5h0.8v5.4h-0.8zM86.8 471.9h0.8v5.4h-0.8zM87.7 384.9h0.9v5.4h-0.9zM94.0 140.2h1.0v5.4h-1.0zM96.0 178.3h1.0v5.4h-1.0zM96.0 238.1h1.0v5.4h-1.0zM96.0 412.1h1.0v5.4h-1.0zM97.0 384.9h1.0v5.4h-1.0zM97.0 423.0h1.0v5.4h-1.0zM97.0 477.4h1.0v5.4h-1.0zM98.0 91.3h1.1v5.4h-1.1zM98.0 205.5h1.1v5.4h-1.1zM98.0 384.9h1.1v5.4h-1.1zM98.0 493.7h1.1v5.4h-1.1zM99.1 303.4h1.1v5.4h-1.1zM100.2 249.0h1.1v5.4h-1.1zM100.2 303.4h1.1v5.4h-1.1zM100.2 363.2h1.1v5.4h-1.1zM100.2 401.2h1.1v5.4h-1.1zM101.3 270.8h1.1v5.4h-1.1zM101.3 455.6h1.1v5.4h-1.1zM102.4 428.4h1.1v5.4h-1.1zM103.6 123.9h1.2v5.4h-1.2zM103.6 265.3h1.2v10.9h-1.2zM103.6 281.6h1.2v5.4h-1.2zM103.6 374.1h1.2v5.4h-1.2zM103.6 466.5h1.2v5.4h-1.2zM103.6 482.8h1.2v5.4h-1.2zM103.6 504.6h1.2v17.4h-1.2zM104.7 151.1h1.2v5.4h-1.2zM112.3 178.3h1.4v5.4h-1.4zM112.3 254.4h1.4v5.4h-1.4zM112.3 406.7h1.4v5.4h-1.4zM112.3 433.9h1.4v5.4h-1.4zM112.3 461.1h1.4v5.4h-1.4zM118.0 123.9h1.5v5.4h-1.5zM118.0 390.4h1.5v5.4h-1.5zM119.5 205.5h1.6v5.4h-1.6zM119.5 368.6h1.6v5.4h-1.6zM122.8 102.2h1.7v5.4h-1.7zM122.8 167.4h1.7v10.9h-1.7zM122.8 194.6h1.7v5.4h-1.7zM122.8 243.6h1.7v5.4h-1.7zM122.8 352.3h1.7v5.4h-1.7zM122.8 395.8h1.7v5.4h-1.7zM122.8 455.6h1.7v5.4h-1.7zM124.4 249.0h1.7v5.4h-1.7zM128.0 167.4h1.8v5.4h-1.8zM128.0 227.2h1.8v5.4h-1.8zM128.0 439.3h1.8v5.4h-1.8zM129.8 368.6h1.9v5.4h-1.9zM133.6 488.2h2.0v5.4h-2.0zM135.6 401.2h2.1v5.4h-2.1zM135.6 439.3h2.1v5.4h-2.1zM139.8 221.8h2.2v5.4h-2.2zM139.8 308.8h2.2v5.4h-2.2zM142.0 466.5h2.3v5.4h-2.3z"/>
<path fill="rgb(60,60,60)" d="M68.0 107.6h12.7v5.4h-12.7zM68.0 134.8h12.7v5.4h-12.7zM81.4 118.5h0.7v5.4h-0.7zM82.1 91.3h0.7v5.4h-0.7zM82.1 113.1h0.7v5.4h-0.7zM82.1 129.4h0.7v5.4h-0.7zM82.9 118.5h0.8v5.4h-0.8zM83.6 107.6h0.8v5.4h-0.8zM83.6 129.4h0.8v5.4h-0.8zM83.6 140.2h0.8v5.4h-0.8zM84.4 189.2h0.8v5.4h-0.8zM85.2 145.7h0.8v5.4h-0.8zM86.0 346.9h0.8v5.4h-0.8zM86.0 423.0h0.8v5.4h-0.8zM87.7 281.6h0.9v5.4h-0.9zM87.7 352.3h0.9v5.4h-0.9zM87.7 417.6h0.9v5.4h-0.9zM87.7 499.1h0.9v5.4h-0.9zM88.5 178.3h0.9v5.4h-0.9zM88.5 249.0h0.9v5.4h-0.9zM96.0 167.4h1.0v5.4h-1.0zM96.0 423.0h1.0v5.4h-1.0zM96.0 493.7h1.0v5.4h-1.0zM97.0 167.4h1.0v5.4h-1.0zM97.0 504.6h1.0v17.4h-1.0zM98.0 254.4h1.1v5.4h-1.1zM98.0 471.9h1.1v5.4h-1.1zM99.1 450.2h1.1v5.4h-1.1zM100.2 96.8h1.1v5.4h-1.1zM100.2 417.6h1.1v5.4h-1.1zM101.3 341.4h1.1v5.4h-1.1zM101.3 482.8h1.1v5.4h-1.1zM103.6 249.0h1.2v5.4h-1.2zM103.6 363.2h1.2v5.4h-1.2zM104.7 129.4h1.2v5.4h-1.2zM104.7 183.8h1.2v5.4h-1.2zM104.7 308.8h1.2v5.4h-1.2zM105.9 303.4h1.2v5.4h-1.2zM112.3 113.1h1.4v10.9h-1.4zM112.3 156.6h1.4v5.4h-1.4zM112.3 281.6h1.4v5.4h-1.4zM112.3 423.0h1.4v5.4h-1.4zM118.0 118.5h1.5v5.4h-1.5zM118.0 167.4h1.5v5.4h-1.5zM118.0 227.2h1.5v5.4h-1.5zM118.0 433.9h1.5v5.4h-1.5zM118.0 444.8h1.5v5.4h-1.5zM118.0 477.4h1.5v5.4h-1.5zM119.5 178.3h1.6v5.4h-1.6zM119.5 292.5h1.6v5.4h-1.6zM119.5 325.1h1.6v5.4h-1.6zM119.5 357.8h1.6v5.4h-1.6zM119.5 471.9h1.6v5.4h-1.6zM119.5 493.7h1.6v5.4h-1.6zM122.8 85.9h1.7v5.4h-1.7zM122.8 118.5h1.7v5.4h-1.7zM124.4 113.1h1.7v5.4h-1.7zM124.4 450.2h1.7v5.4h-1.7zM126.2 134.8h1.8v5.4h-1.8zM133.6 123.9h2.0v5.4h-2.0zM133.6 336.0h2.0v5.4h-2.0zM133.6 444.8h2.0v5.4h-2.0zM135.6 297.9h2.1v5.4h-2.1zM135.6 482.8h2.1v10.9h-2.1zM137.7 129.4h2.1v5.4h-2.1zM137.7 140.2h2.1v5.4h-2.1zM137.7 428.4h2.1v5.4h-2.1zM139.8 85.9h2.2v5.4h-2.2zM142.0 194.6h2.3v5.4h-2.3zM142.0 395.8h2.3v5.4h-2.3zM142.0 455.6h2.3v5.4h-2.3z"/>
<path fill="rgb(63,63,63)" d="M80.7 221.8h0.7v5.4h-0.7zM82.1 96.8h0.7v5.4h-0.7zM82.1 156.6h0.7v5.4h-0.7zM82.9 123.9h0.8v5.4h-0.8zM82.9 194.6h0.8v5.4h-0.8zM85.2 471.9h0.8v5.4h-0.8zM86.8 183.8h0.8v5.4h-0.8zM86.8 259.9h0.8v5.4h-0.8zM86.8 281.6h0.8v5.4h-0.8zM86.8 297.9h0.8v5.4h-0.8zM87.7 162.0h0.9v5.4h-0.9zM87.7 390.4h0.9v5.4h-0.9zM90.3 151.1h0.9v5.4h-0.9zM92.1 379.5h0.9v5.4h-0.9zM96.0 102.2h1.0v5.4h-1.0zM96.0 254.4h1.0v5.4h-1.0zM96.0 297.9h1.0v5.4h-1.0zM97.0 172.9h1.0v5.4h-1.0zM97.0 292.5h1.0v5.4h-1.0zM98.0 118.5h1.1v5.4h-1.1zM98.0 423.0h1.1v5.4h-1.1zM98.0 455.6h1.1v5.4h-1.1zM100.2 297.9h1.1v5.4h-1.1zM100.2 493.7h1.1v5.4h-1.1zM101.3 259.9h1.1v5.4h-1.1zM101.3 374.1h1.1v5.4h-1.1zM102.4 140.2h1.1v5.4h-1.1zM102.4 308.8h1.1v5.4h-1.1zM102.4 466.5h1.1v5.4h-1.1zM103.6 134.8h1.2v5.4h-1.2zM103.6 194.6h1.2v5.4h-1.2zM103.6 308.8h1.2v5.4h-1.2zM103.6 488.2h1.2v5.4h-1.2zM104.7 134.8h1.2v5.4h-1.2zM104.7 325.1h1.2v5.4h-1.2zM104.7 482.8h1.2v5.4h-1.2zM105.9 107.6h1.2v5.4h-1.2zM105.9 270.8h1.2v5.4h-1.2zM105.9 374.1h1.2v5.4h-1.2zM112.3 379.5h1.4v5.4h-1.4zM112.3 428.4h1.4v5.4h-1.4zM112.3 455.6h1.4v5.4h-1.4zM118.0 91.3h1.5v10.9h-1.5zM118.0 162.0h1.5v5.4h-1.5zM118.0 172.9h1.5v5.4h-1.5zM118.0 183.8h1.5v5.4h-1.5zM118.0 287.1h1.5v5.4h-1.5zM118.0 308.8h1.5v5.4h-1.5zM118.0 330.6h1.5v5.4h-1.5zM118.0 341.4h1.5v5.4h-1.5zM118.0 412.1h1.5v5.4h-1.5zM118.0 488.2h1.5v5.4h-1.5zM119.5 134.8h1.6v5.4h-1.6zM119.5 287.1h1.6v5.4h-1.6zM119.5 374.1h1.6v10.9h-1.6zM119.5 395.8h1.6v5.4h-1.6zM121.1 433.9h1.6v5.4h-1.6zM122.8 140.2h1.7v5.4h-1.7zM122.8 363.2h1.7v5.4h-1.7zM122.8 379.5h1.7v5.4h-1.7zM122.8 417.6h1.7v5.4h-1.7zM122.8 493.7h1.7v10.9h-1.7zM124.4 96.8h1.7v5.4h-1.7zM124.4 194.6h1.7v5.4h-1.7zM124.4 265.3h1.7v5.4h-1.7zM124.4 357.8h1.7v5.4h-1.7zM124.4 466.5h1.7v5.4h-1.7zM126.2 482.8h1.8v5.4h-1.8zM129.8 227.2h1.9v5.4h-1.9zM129.8 482.8h1.9v5.4h-1.9zM131.7 162.0h1.9v5.4h-1.9zM131.7 281.6h1.9v10.9h-1.9zM131.7 493.7h1.9v5.4h-1.9zM133.6 450.2h2.0v5.4h-2.0zM137.7 287.1h2.1v5.4h-2.1zM139.8 423.0h2.2v5.4h-2.2z"/>
<path fill="rgb(66,66,66)" d="M68.0 113.1h12.7v5.4h-12.7zM82.1 123.9h0.7v5.4h-0.7zM82.1 151.1h0.7v5.4h-0.7zM83.6 102.2h0.8v5.4h-0.8zM83.6 249.0h0.8v5.4h-0.8zM84.4 91.3h0.8v5.4h-0.8zM85.2 134.8h0.8v5.4h-0.8zM86.8 276.2h0.8v5.4h-0.8zM86.8 303.4h0.8v5.4h-0.8zM86.8 319.7h0.8v5.4h-0.8zM86.8 352.3h0.8v5.4h-0.8zM86.8 406.7h0.8v5.4h-0.8zM87.7 330.6h0.9v5.4h-0.9zM88.5 471.9h0.9v5.4h-0.9zM90.3 265.3h0.9v5.4h-0.9zM92.1 341.4h0.9v5.4h-0.9zM93.0 85.9h1.0v5.4h-1.0zM95.0 461.1h1.0v5.4h-1.0zM96.0 156.6h1.0v5.4h-1.0zM97.0 113.1h1.0v5.4h-1.0zM97.0 461.1h1.0v5.4h-1.0zM97.0 488.2h1.0v5.4h-1.0zM97.0 499.1h1.0v5.4h-1.0zM98.0 140.2h1.1v5.4h-1.1zM98.0 243.6h1.1v5.4h-1.1zM99.1 221.8h1.1v5.4h-1.1zM100.2 178.3h1.1v5.4h-1.1zM100.2 238.1h1.1v5.4h-1.1zM100.2 330.6h1.1v5.4h-1.1zM100.2 379.5h1.1v5.4h-1.1zM100.2 477.4h1.1v5.4h-1.1zM101.3 107.6h1.1v5.4h-1.1zM101.3 200.1h1.1v5.4h-1.1zM101.3 227.2h1.1v5.4h-1.1zM101.3 395.8h1.1v5.4h-1.1zM102.4 129.4h1.1v5.4h-1.1zM102.4 189.2h1.1v5.4h-1.1zM102.4 254.4h1.1v5.4h-1.1zM102.4 287.1h1.1v5.4h-1.1zM103.6 493.7h1.2v5.4h-1.2zM104.7 145.7h1.2v5.4h-1.2zM104.7 379.5h1.2v5.4h-1.2zM104.7 466.5h1.2v5.4h-1.2zM105.9 96.8h1.2v5.4h-1.2zM105.9 493.7h1.2v5.4h-1.2zM112.3 167.4h1.4v5.4h-1.4zM112.3 336.0h1.4v10.9h-1.4zM112.3 488.2h1.4v5.4h-1.4zM118.0 178.3h1.5v5.4h-1.5zM118.0 194.6h1.5v5.4h-1.5zM118.0 281.6h1.5v5.4h-1.5zM118.0 292.5h1.5v5.4h-1.5zM118.0 406.7h1.5v5.4h-1.5zM118.0 455.6h1.5v5.4h-1.5zM118.0 493.7h1.5v5.4h-1.5zM119.5 433.9h1.6v5.4h-1.6zM121.1 357.8h1.6v5.4h-1.6zM122.8 113.1h1.7v5.4h-1.7zM122.8 357.8h1.7v5.4h-1.7zM122.8 461.1h1.7v5.4h-1.7zM122.8 482.8h1.7v5.4h-1.7zM126.2 341.4h1.8v5.4h-1.8zM126.2 423.0h1.8v5.4h-1.8zM126.2 488.2h1.8v5.4h-1.8zM128.0 85.9h1.8v5.4h-1.8zM128.0 102.2h1.8v5.4h-1.8zM128.0 276.2h1.8v5.4h-1.8zM129.8 292.5h1.9v5.4h-1.9zM131.7 123.9h1.9v5.4h-1.9zM131.7 167.4h1.9v5.4h-1.9zM131.7 406.7h1.9v5.4h-1.9zM133.6 156.6h2.0v5.4h-2.0zM133.6 172.9h2.0v5.4h-2.0zM133.6 357.8h2.0v5.4h-2.0zM133.6 401.2h2.0v5.4h-2.0zM135.6 189.2h2.1v5.4h-2.1zM135.6 232.7h2.1v5.4h-2.1zM135.6 287.1h2.1v5.4h-2.1zM135.6 395.8h2.1v5.4h-2.1zM135.6 423.0h2.1v5.4h-2.1zM137.7 243.6h2.1v5.4h-2.1zM137.7 303.4h2.1v5.4h-2.1zM137.7 406.7h2.1v5.4h-2.1zM139.8 428.4h2.2v5.4h-2.2zM139.8 499.1h2.2v5.4h-2.2z"/>
<path fill="rgb(69,69,69)" d="M82.1 183.8h0.7v5.4h-0.7zM82.9 156.6h0.8v5.4h-0.8zM83.6 178.3h0.8v5.4h-0.8zM85.2 221.8h0.8v5.4h-0.8zM85.2 259.9h0.8v5.4h-0.8zM85.2 270.8h0.8v5.4h-0.8zM86.0 314.2h0.8v5.4h-0.8zM86.0 466.5h0.8v5.4h-0.8zM86.8 145.7h0.8v5.4h-0.8zM86.8 270.8h0.8v5.4h-0.8zM86.8 292.5h0.8v5.4h-0.8zM86.8 341.4h0.8v5.4h-0.8zM86.8 444.8h0.8v5.4h-0.8zM86.8 477.4h0.8v5.4h-0.8zM87.7 118.5h0.9v5.4h-0.9zM87.7 140.2h0.9v5.4h-0.9zM87.7 227.2h0.9v5.4h-0.9zM87.7 276.2h0.9v5.4h-0.9zM87.7 412.1h0.9v5.4h-0.9zM88.5 200.1h0.9v5.4h-0.9zM88.5 227.2h0.9v5.4h-0.9zM88.5 363.2h0.9v5.4h-0.9zM88.5 417.6h0.9v5.4h-0.9zM88.5 455.6h0.9v5.4h-0.9zM90.3 379.5h0.9v5.4h-0.9zM92.1 129.4h0.9v5.4h-0.9zM92.1 357.8h0.9v5.4h-0.9zM92.1 433.9h0.9v5.4h-0.9zM96.0 134.8h1.0v5.4h-1.0zM96.0 270.8h1.0v5.4h-1.0zM96.0 303.4h1.0v5.4h-1.0zM96.0 357.8h1.0v5.4h-1.0zM96.0 444.8h1.0v5.4h-1.0zM96.0 461.1h1.0v5.4h-1.0zM97.0 96.8h1.0v5.4h-1.0zM97.0 151.1h1.0v5.4h-1.0zM97.0 189.2h1.0v5.4h-1.0zM97.0 303.4h1.0v5.4h-1.0zM97.0 352.3h1.0v5.4h-1.0zM97.0 379.5h1.0v5.4h-1.0zM97.0 406.7h1.0v5.4h-1.0zM98.0 482.8h1.1v5.4h-1.1zM99.1 178.3h1.1v5.4h-1.1zM99.1 384.9h1.1v5.4h-1.1zM100.2 336.0h1.1v5.4h-1.1zM100.2 450.2h1.1v5.4h-1.1zM100.2 461.1h1.1v5.4h-1.1zM101.3 140.2h1.1v5.4h-1.1zM101.3 243.6h1.1v5.4h-1.1zM101.3 314.2h1.1v5.4h-1.1zM101.3 390.4h1.1v5.4h-1.1zM101.3 417.6h1.1v10.9h-1.1zM102.4 336.0h1.1v5.4h-1.1zM102.4 357.8h1.1v5.4h-1.1zM102.4 488.2h1.1v10.9h-1.1zM103.6 232.7h1.2v10.9h-1.2zM103.6 346.9h1.2v5.4h-1.2zM103.6 401.2h1.2v5.4h-1.2zM104.7 102.2h1.2v5.4h-1.2zM104.7 314.2h1.2v5.4h-1.2zM104.7 477.4h1.2v5.4h-1.2zM105.9 167.4h1.2v5.4h-1.2zM115.1 156.6h1.5v5.4h-1.5zM115.1 238.1h1.5v5.4h-1.5zM118.0 85.9h1.5v5.4h-1.5zM118.0 107.6h1.5v5.4h-1.5zM118.0 156.6h1.5v5.4h-1.5zM118.0 243.6h1.5v5.4h-1.5zM119.5 140.2h1.6v5.4h-1.6zM119.5 172.9h1.6v5.4h-1.6zM119.5 194.6h1.6v5.4h-1.6zM119.5 259.9h1.6v5.4h-1.6zM119.5 270.8h1.6v5.4h-1.6zM119.5 308.8h1.6v5.4h-1.6zM119.5 363.2h1.6v5.4h-1.6zM119.5 444.8h1.6v5.4h-1.6zM119.5 466.5h1.6v5.4h-1.6zM119.5 477.4h1.6v5.4h-1.6zM122.8 265.3h1.7v5.4h-1.7zM122.8 281.6h1.7v5.4h-1.7zM122.8 466.5h1.7v5.4h-1.7zM124.4 363.2h1.7v5.4h-1.7zM124.4 412.1h1.7v5.4h-1.7zM124.4 493.7h1.7v5.4h-1.7zM126.2 91.3h1.8v5.4h-1.8zM126.2 194.6h1.8v5.4h-1.8zM128.0 297.9h1.8v5.4h-1.8zM129.8 178.3h1.9v5.4h-1.9zM129.8 308.8h1.9v5.4h-1.9zM133.6 167.4h2.0v5.4h-2.0zM133.6 341.4h2.0v5.4h-2.0zM133.6 384.9h2.0v5.4h-2.0zM133.6 428.4h2.0v5.4h-2.0zM135.6 118.5h2.1v5.4h-2.1zM135.6 156.6h2.1v5.4h-2.1zM135.6 325.1h2.1v5.4h-2.1zM137.7 227.2h2.1v5.4h-2.1zM137.7 265.3h2.1v5.4h-2.1zM137.7 336.0h2.1v5.4h-2.1zM137.7 499.1h2.1v5.4h-2.1zM139.8 140.2h2.2v5.4h-2.2zM139.8 363.2h2.2v5.4h-2.2zM142.0 96.8h2.3v5.4h-2.3zM142.0 330.6h2.3v5.4h-2.3zM142.0 488.2h2.3v5.4h-2.3zM142.0 504.6h2.3v17.4h-2.3z"/>
<path fill="rgb(72,72,72)" d="M68.0 156.6h12.7v5.4h-12.7zM80.7 183.8h0.7v5.4h-0.7zM80.7 200.1h0.7v5.4h-0.7zM81.4 151.1h0.7v5.4h-0.7zM84.4 96.8h0.8v5.4h-0.8zM84.4 145.7h0.8v5.4h-0.8zM84.4 172.9h0.8v5.4h-0.8zM84.4 227.2h0.8v5.4h-0.8zM86.0 172.9h0.8v5.4h-0.8zM86.0 417.6h0.8v5.4h-0.8zM87.7 423.0h0.9v5.4h-0.9zM87.7 450.2h0.9v5.4h-0.9zM90.3 167.4h0.9v5.4h-0.9zM90.3 319.7h0.9v5.4h-0.9zM90.3 488.2h0.9v5.4h-0.9zM92.1 91.3h0.9v5.4h-0.9zM93.0 417.6h1.0v5.4h-1.0zM95.0 167.4h1.0v5.4h-1.0zM95.0 395.8h1.0v5.4h-1.0zM96.0 162.0h1.0v5.4h-1.0zM96.0 232.7h1.0v5.4h-1.0zM96.0 259.9h1.0v5.4h-1.0zM96.0 433.9h1.0v5.4h-1.0zM96.0 455.6h1.0v5.4h-1.0zM97.0 80.4h1.0v5.4h-1.0zM97.0 200.1h1.0v5.4h-1.0zM97.0 482.8h1.0v5.4h-1.0zM98.0 249.0h1.1v5.4h-1.1zM98.0 265.3h1.1v5.4h-1.1zM98.0 325.1h1.1v5.4h-1.1zM99.1 270.8h1.1v5.4h-1.1zM99.1 308.8h1.1v5.4h-1.1zM99.1 488.2h1.1v5.4h-1.1zM99.1 499.1h1.1v5.4h-1.1zM100.2 167.4h1.1v5.4h-1.1zM100.2 384.9h1.1v5.4h-1.1zM102.4 423.0h1.1v5.4h-1.1zM102.4 482.8h1.1v5.4h-1.1zM102.4 504.6h1.1v17.4h-1.1zM103.6 314.2h1.2v5.4h-1.2zM103.6 330.6h1.2v5.4h-1.2zM104.7 178.3h1.2v5.4h-1.2zM104.7 297.9h1.2v5.4h-1.2zM104.7 461.1h1.2v5.4h-1.2zM105.9 134.8h1.2v5.4h-1.2zM105.9 145.7h1.2v5.4h-1.2zM105.9 249.0h1.2v5.4h-1.2zM112.3 129.4h1.4v5.4h-1.4zM112.3 232.7h1.4v5.4h-1.4zM118.0 102.2h1.5v5.4h-1.5zM118.0 303.4h1.5v5.4h-1.5zM118.0 314.2h1.5v10.9h-1.5zM118.0 379.5h1.5v5.4h-1.5zM118.0 466.5h1.5v5.4h-1.5zM119.5 145.7h1.6v5.4h-1.6zM119.5 423.0h1.6v10.9h-1.6zM119.5 499.1h1.6v5.4h-1.6zM122.8 428.4h1.7v5.4h-1.7zM124.4 129.4h1.7v5.4h-1.7zM126.2 96.8h1.8v5.4h-1.8zM126.2 162.0h1.8v5.4h-1.8zM126.2 499.1h1.8v5.4h-1.8zM128.0 433.9h1.8v5.4h-1.8zM129.8 281.6h1.9v5.4h-1.9zM131.7 96.8h1.9v5.4h-1.9zM131.7 395.8h1.9v5.4h-1.9zM135.6 243.6h2.1v5.4h-2.1zM135.6 270.8h2.1v5.4h-2.1zM137.7 162.0h2.1v5.4h-2.1zM137.7 249.0h2.1v5.4h-2.1zM139.8 368.6h2.2v5.4h-2.2zM142.0 346.9h2.3v5.4h-2.3zM142.0 439.3h2.3v5.4h-2.3z"/>
<path fill="rgb(75,75,75)" d="M80.7 123.9h0.7v5.4h-0.7zM80.7 134.8h0.7v5.4h-0.7zM80.7 151.1h0.7v5.4h-0.7zM80.7 178.3h0.7v5.4h-0.7zM81.4 107.6h0.7v5.4h-0.7zM83.6 162.0h0.8v5.4h-0.8zM83.6 172.9h0.8v5.4h-0.8zM84.4 162.0h0.8v5.4h-0.8zM85.2 379.5h0.8v5.4h-0.8zM86.0 297.9h0.8v5.4h-0.8zM86.8 178.3h0.8v5.4h-0.8zM88.5 379.5h0.9v5.4h-0.9zM90.3 412.1h0.9v5.4h-0.9zM92.1 172.9h0.9v5.4h-0.9zM94.0 145.7h1.0v5.4h-1.0zM94.0 308.8h1.0v5.4h-1.0zM96.0 129.4h1.0v5.4h-1.0zM96.0 172.9h1.0v5.4h-1.0zM96.0 221.8h1.0v5.4h-1.0zM96.0 319.7h1.0v5.4h-1.0zM97.0 134.8h1.0v5.4h-1.0zM97.0 156.6h1.0v5.4h-1.0zM97.0 297.9h1.0v5.4h-1.0zM97.0 308.8h1.0v5.4h-1.0zM97.0 325.1h1.0v5.4h-1.0zM97.0 368.6h1.0v10.9h-1.0zM98.0 368.6h1.1v5.4h-1.1zM99.1 107.6h1.1v5.4h-1.1zM99.1 292.5h1.1v5.4h-1.1zM99.1 314.2h1.1v5.4h-1.1zM99.1 482.8h1.1v5.4h-1.1zM100.2 123.9h1.1v5.4h-1.1zM100.2 439.3h1.1v5.4h-1.1zM101.3 276.2h1.1v5.4h-1.1zM101.3 471.9h1.1v5.4h-1.1zM102.4 227.2h1.1v10.9h-1.1zM102.4 292.5h1.1v5.4h-1.1zM102.4 368.6h1.1v5.4h-1.1zM102.4 499.1h1.1v5.4h-1.1zM103.6 243.6h1.2v5.4h-1.2zM103.6 357.8h1.2v5.4h-1.2zM103.6 471.9h1.2v5.4h-1.2zM104.7 227.2h1.2v5.4h-1.2zM104.7 303.4h1.2v5.4h-1.2zM105.9 129.4h1.2v5.4h-1.2zM105.9 140.2h1.2v5.4h-1.2zM105.9 162.0h1.2v5.4h-1.2zM105.9 319.7h1.2v5.4h-1.2zM105.9 433.9h1.2v5.4h-1.2zM105.9 499.1h1.2v5.4h-1.2zM112.3 145.7h1.4v5.4h-1.4zM112.3 221.8h1.4v5.4h-1.4zM112.3 466.5h1.4v5.4h-1.4zM118.0 232.7h1.5v5.4h-1.5zM118.0 249.0h1.5v5.4h-1.5zM118.0 428.4h1.5v5.4h-1.5zM118.0 482.8h1.5v5.4h-1.5zM119.5 107.6h1.6v5.4h-1.6zM119.5 118.5h1.6v5.4h-1.6zM119.5 156.6h1.6v10.9h-1.6zM119.5 200.1h1.6v5.4h-1.6zM119.5 238.1h1.6v5.4h-1.6zM119.5 330.6h1.6v5.4h-1.6zM119.5 406.7h1.6v5.4h-1.6zM122.8 276.2h1.7v5.4h-1.7zM124.4 200.1h1.7v5.4h-1.7zM124.4 243.6h1.7v5.4h-1.7zM126.2 107.6h1.8v5.4h-1.8zM129.8 162.0h1.9v5.4h-1.9zM131.7 205.5h1.9v5.4h-1.9zM131.7 243.6h1.9v5.4h-1.9zM131.7 450.2h1.9v5.4h-1.9zM133.6 406.7h2.0v5.4h-2.0zM137.7 379.5h2.1v5.4h-2.1zM139.8 395.8h2.2v5.4h-2.2zM139.8 455.6h2.2v5.4h-2.2zM142.0 374.1h2.3v5.4h-2.3zM142.0 417.6h2.3v5.4h-2.3zM142.0 493.7h2.3v5.4h-2.3z"/>
<path fill="rgb(78,78,78)" d="M80.7 156.6h0.7v5.4h-0.7zM82.1 167.4h0.7v5.4h-0.7zM82.9 167.4h0.8v5.4h-0.8zM82.9 205.5h0.8v5.4h-0.8zM82.9 221.8h0.8v5.4h-0.8zM85.2 123.9h0.8v5.4h-0.8zM85.2 227.2h0.8v5.4h-0.8zM86.0 140.2h0.8v5.4h-0.8zM86.0 151.1h0.8v5.4h-0.8zM86.8 232.7h0.8v5.4h-0.8zM86.8 412.1h0.8v5.4h-0.8zM87.7 151.1h0.9v5.4h-0.9zM87.7 325.1h0.9v5.4h-0.9zM87.7 406.7h0.9v5.4h-0.9zM88.5 172.9h0.9v5.4h-0.9zM88.5 357.8h0.9v5.4h-0.9zM90.3 471.9h0.9v5.4h-0.9zM92.1 194.6h0.9v5.4h-0.9zM92.1 477.4h0.9v5.4h-0.9zM93.0 162.0h1.0v5.4h-1.0zM93.0 254.4h1.0v5.4h-1.0zM94.0 444.8h1.0v5.4h-1.0zM96.0 200.1h1.0v5.4h-1.0zM96.0 330.6h1.0v5.4h-1.0zM96.0 379.5h1.0v5.4h-1.0zM96.0 406.7h1.0v5.4h-1.0zM96.0 439.3h1.0v5.4h-1.0zM96.0 504.6h1.0v17.4h-1.0zM98.0 113.1h1.1v5.4h-1.1zM98.0 134.8h1.1v5.4h-1.1zM98.0 200.1h1.1v5.4h-1.1zM98.0 406.7h1.1v10.9h-1.1zM98.0 439.3h1.1v5.4h-1.1zM99.1 113.1h1.1v5.4h-1.1zM99.1 390.4h1.1v5.4h-1.1zM99.1 439.3h1.1v5.4h-1.1zM100.2 91.3h1.1v5.4h-1.1zM100.2 194.6h1.1v5.4h-1.1zM100.2 232.7h1.1v5.4h-1.1zM100.2 243.6h1.1v5.4h-1.1zM100.2 352.3h1.1v5.4h-1.1zM100.2 428.4h1.1v5.4h-1.1zM101.3 368.6h1.1v5.4h-1.1zM101.3 439.3h1.1v5.4h-1.1zM102.4 167.4h1.1v5.4h-1.1zM102.4 178.3h1.1v5.4h-1.1zM102.4 221.8h1.1v5.4h-1.1zM103.6 406.7h1.2v5.4h-1.2zM104.7 243.6h1.2v10.9h-1.2zM105.9 113.1h1.2v5.4h-1.2zM105.9 254.4h1.2v5.4h-1.2zM112.3 102.2h1.4v5.4h-1.4zM118.0 151.1h1.5v5.4h-1.5zM118.0 200.1h1.5v5.4h-1.5zM118.0 276.2h1.5v5.4h-1.5zM118.0 325.1h1.5v5.4h-1.5zM118.0 417.6h1.5v5.4h-1.5zM119.5 167.4h1.6v5.4h-1.6zM119.5 276.2h1.6v10.9h-1.6zM119.5 401.2h1.6v5.4h-1.6zM119.5 482.8h1.6v5.4h-1.6zM122.8 151.1h1.7v5.4h-1.7zM122.8 368.6h1.7v5.4h-1.7zM124.4 123.9h1.7v5.4h-1.7zM124.4 336.0h1.7v5.4h-1.7zM124.4 374.1h1.7v5.4h-1.7zM124.4 439.3h1.7v5.4h-1.7zM126.2 140.2h1.8v5.4h-1.8zM126.2 200.1h1.8v5.4h-1.8zM126.2 221.8h1.8v5.4h-1.8zM131.7 384.9h1.9v5.4h-1.9zM131.7 499.1h1.9v5.4h-1.9zM133.6 178.3h2.0v5.4h-2.0zM133.6 200.1h2.0v5.4h-2.0zM133.6 276.2h2.0v5.4h-2.0zM135.6 205.5h2.1v5.4h-2.1zM135.6 265.3h2.1v5.4h-2.1zM135.6 384.9h2.1v5.4h-2.1zM139.8 134.8h2.2v5.4h-2.2zM139.8 145.7h2.2v5.4h-2.2zM139.8 232.7h2.2v5.4h-2.2zM139.8 504.6h2.2v17.4h-2.2zM142.0 341.4h2.3v5.4h-2.3zM142.0 384.9h2.3v5.4h-2.3z"/>
<path fill="rgb(81,81,81)" d="M68.0 96.8h12.7v5.4h-12.7zM68.0 194.6h12.7v5.4h-12.7zM80.7 194.6h0.7v5.4h-0.7zM82.1 75.0h0.7v10.9h-0.7zM82.9 162.0h0.8v5.4h-0.8zM83.6 243.6h0.8v5.4h-0.8zM83.6 265.3h0.8v5.4h-0.8zM84.4 75.0h0.8v10.9h-0.8zM85.2 172.9h0.8v5.4h-0.8zM85.2 183.8h0.8v5.4h-0.8zM85.2 232.7h0.8v5.4h-0.8zM86.0 243.6h0.8v5.4h-0.8zM86.0 368.6h0.8v5.4h-0.8zM86.0 477.4h0.8v5.4h-0.8zM86.0 488.2h0.8v5.4h-0.8zM86.8 325.1h0.8v5.4h-0.8zM87.7 85.9h0.9v10.9h-0.9zM87.7 238.1h0.9v5.4h-0.9zM87.7 270.8h0.9v5.4h-0.9zM87.7 308.8h0.9v5.4h-0.9zM87.7 401.2h0.9v5.4h-0.9zM88.5 270.8h0.9v5.4h-0.9zM88.5 433.9h0.9v5.4h-0.9zM90.3 270.8h0.9v5.4h-0.9zM90.3 450.2h0.9v5.4h-0.9zM92.1 85.9h0.9v5.4h-0.9zM92.1 96.8h0.9v5.4h-0.9zM92.1 140.2h0.9v5.4h-0.9zM92.1 417.6h0.9v5.4h-0.9zM93.0 466.5h1.0v5.4h-1.0zM95.0 308.8h1.0v5.4h-1.0zM96.0 265.3h1.0v5.4h-1.0zM96.0 336.0h1.0v5.4h-1.0zM96.0 401.2h1.0v5.4h-1.0zM96.0 428.4h1.0v5.4h-1.0zM97.0 118.5h1.0v5.4h-1.0zM97.0 238.1h1.0v5.4h-1.0zM97.0 450.2h1.0v5.4h-1.0zM98.0 162.0h1.1v5.4h-1.1zM98.0 336.0h1.1v5.4h-1.1zM98.0 363.2h1.1v5.4h-1.1zM98.0 401.2h1.1v5.4h-1.1zM99.1 123.9h1.1v5.4h-1.1zM99.1 134.8h1.1v5.4h-1.1zM99.1 151.1h1.1v5.4h-1.1zM99.1 330.6h1.1v5.4h-1.1zM99.1 374.1h1.1v5.4h-1.1zM99.1 433.9h1.1v5.4h-1.1zM100.2 102.2h1.1v10.9h-1.1zM100.2 287.1h1.1v5.4h-1.1zM100.2 368.6h1.1v5.4h-1.1zM100.2 406.7h1.1v5.4h-1.1zM100.2 471.9h1.1v5.4h-1.1zM101.3 194.6h1.1v5.4h-1.1zM101.3 232.7h1.1v5.4h-1.1zM102.4 265.3h1.1v5.4h-1.1zM102.4 330.6h1.1v5.4h-1.1zM102.4 439.3h1.1v5.4h-1.1zM102.4 471.9h1.1v5.4h-1.1zM103.6 254.4h1.2v5.4h-1.2zM103.6 352.3h1.2v5.4h-1.2zM103.6 428.4h1.2v5.4h-1.2zM104.7 172.9h1.2v5.4h-1.2zM104.7 189.2h1.2v5.4h-1.2zM104.7 270.8h1.2v5.4h-1.2zM104.7 401.2h1.2v5.4h-1.2zM105.9 314.2h1.2v5.4h-1.2zM105.9 336.0h1.2v5.4h-1.2zM105.9 461.1h1.2v5.4h-1.2zM105.9 488.2h1.2v5.4h-1.2zM111.0 75.0h1.3v10.9h-1.3zM118.0 221.8h1.5v5.4h-1.5zM118.0 254.4h1.5v5.4h-1.5zM118.0 504.6h1.5v17.4h-1.5zM119.5 151.1h1.6v5.4h-1.6zM126.2 319.7h1.8v5.4h-1.8zM126.2 466.5h1.8v5.4h-1.8zM128.0 406.7h1.8v5.4h-1.8zM128.0 488.2h1.8v5.4h-1.8zM129.8 91.3h1.9v5.4h-1.9zM129.8 151.1h1.9v5.4h-1.9zM129.8 189.2h1.9v5.4h-1.9zM129.8 314.2h1.9v5.4h-1.9zM131.7 102.2h1.9v5.4h-1.9zM131.7 270.8h1.9v5.4h-1.9zM131.7 292.5h1.9v5.4h-1.9zM131.7 346.9h1.9v5.4h-1.9zM133.6 314.2h2.0v5.4h-2.0zM133.6 374.1h2.0v5.4h-2.0zM135.6 227.2h2.1v5.4h-2.1zM135.6 238.1h2.1v5.4h-2.1zM135.6 303.4h2.1v5.4h-2.1zM135.6 417.6h2.1v5.4h-2.1zM137.7 450.2h2.1v5.4h-2.1zM139.8 352.3h2.2v5.4h-2.2zM139.8 401.2h2.2v5.4h-2.2zM139.8 466.5h2.2v5.4h-2.2zM142.0 113.1h2.3v5.4h-2.3zM142.0 243.6h2.3v5.4h-2.3zM101.3 189.2h2.1v5.4h-2.1z"/>
<path fill="rgb(84,84,84)" d="M81.4 140.2h0.7v5.4h-0.7zM81.4 162.0h0.7v5.4h-0.7zM81.4 205.5h0.7v5.4h-0.7zM82.1 162.0h0.7v5.4h-0.7zM82.9 178.3h0.8v5.4h-0.8zM85.2 308.8h0.8v5.4h-0.8zM86.0 189.2h0.8v5.4h-0.8zM86.0 270.8h0.8v5.4h-0.8zM86.0 390.4h0.8v5.4h-0.8zM86.0 450.2h0.8v5.4h-0.8zM86.0 482.8h0.8v5.4h-0.8zM88.5 352.3h0.9v5.4h-0.9zM89.4 352.3h0.9v5.4h-0.9zM90.3 287.1h0.9v5.4h-0.9zM90.3 461.1h0.9v5.4h-0.9zM91.2 303.4h0.9v5.4h-0.9zM92.1 183.8h0.9v5.4h-0.9zM92.1 384.9h0.9v5.4h-0.9zM92.1 412.1h0.9v5.4h-0.9zM93.0 439.3h1.0v5.4h-1.0zM94.0 406.7h1.0v5.4h-1.0zM96.0 113.1h1.0v5.4h-1.0zM96.0 189.2h1.0v5.4h-1.0zM96.0 243.6h1.0v5.4h-1.0zM97.0 178.3h1.0v5.4h-1.0zM97.0 270.8h1.0v5.4h-1.0zM97.0 314.2h1.0v5.4h-1.0zM97.0 341.4h1.0v5.4h-1.0zM97.0 357.8h1.0v5.4h-1.0zM97.0 401.2h1.0v5.4h-1.0zM97.0 417.6h1.0v5.4h-1.0zM98.0 276.2h1.1v5.4h-1.1zM98.0 352.3h1.1v5.4h-1.1zM98.0 428.4h1.1v5.4h-1.1zM99.1 194.6h1.1v5.4h-1.1zM99.1 336.0h1.1v5.4h-1.1zM99.1 352.3h1.1v5.4h-1.1zM100.2 200.1h1.1v5.4h-1.1zM101.3 346.9h1.1v5.4h-1.1zM101.3 461.1h1.1v10.9h-1.1zM103.6 118.5h1.2v5.4h-1.2zM103.6 183.8h1.2v5.4h-1.2zM103.6 200.1h1.2v5.4h-1.2zM103.6 395.8h1.2v5.4h-1.2zM104.7 107.6h1.2v5.4h-1.2zM104.7 162.0h1.2v5.4h-1.2zM104.7 254.4h1.2v5.4h-1.2zM104.7 319.7h1.2v5.4h-1.2zM104.7 341.4h1.2v5.4h-1.2zM104.7 423.0h1.2v5.4h-1.2zM105.9 200.1h1.2v5.4h-1.2zM105.9 232.7h1.2v5.4h-1.2zM105.9 308.8h1.2v5.4h-1.2zM105.9 384.9h1.2v5.4h-1.2zM105.9 455.6h1.2v5.4h-1.2zM118.0 352.3h1.5v5.4h-1.5zM118.0 395.8h1.5v5.4h-1.5zM119.5 123.9h1.6v5.4h-1.6zM119.5 412.1h1.6v5.4h-1.6zM119.5 439.3h1.6v5.4h-1.6zM119.5 488.2h1.6v5.4h-1.6zM126.2 276.2h1.8v5.4h-1.8zM126.2 357.8h1.8v5.4h-1.8zM126.2 450.2h1.8v5.4h-1.8zM128.0 156.6h1.8v5.4h-1.8zM128.0 504.6h1.8v17.4h-1.8zM129.8 341.4h1.9v10.9h-1.9zM133.6 297.9h2.0v5.4h-2.0zM133.6 417.6h2.0v5.4h-2.0zM137.7 123.9h2.1v5.4h-2.1zM137.7 221.8h2.1v5.4h-2.1zM137.7 384.9h2.1v5.4h-2.1zM137.7 461.1h2.1v5.4h-2.1zM139.8 238.1h2.2v5.4h-2.2zM139.8 444.8h2.2v5.4h-2.2zM139.8 477.4h2.2v5.4h-2.2zM142.0 412.1h2.3v5.4h-2.3z"/>
<path fill="rgb(87,87,87)" d="M68.0 232.7h12.7v5.4h-12.7zM80.7 172.9h0.7v5.4h-0.7zM81.4 227.2h0.7v5.4h-0.7zM82.1 145.7h0.7v5.4h-0.7zM82.1 172.9h0.7v5.4h-0.7zM82.1 227.2h0.7v10.9h-0.7zM83.6 145.7h0.8v5.4h-0.8zM83.6 303.4h0.8v5.4h-0.8zM85.2 249.0h0.8v5.4h-0.8zM85.2 297.9h0.8v5.4h-0.8zM85.2 341.4h0.8v5.4h-0.8zM85.2 357.8h0.8v5.4h-0.8zM85.2 488.2h0.8v5.4h-0.8zM86.0 113.1h0.8v5.4h-0.8zM86.0 167.4h0.8v5.4h-0.8zM86.8 96.8h0.8v5.4h-0.8zM86.8 423.0h0.8v5.4h-0.8zM86.8 488.2h0.8v5.4h-0.8zM87.7 292.5h0.9v5.4h-0.9zM88.5 107.6h0.9v5.4h-0.9zM88.5 167.4h0.9v5.4h-0.9zM88.5 330.6h0.9v5.4h-0.9zM88.5 401.2h0.9v5.4h-0.9zM90.3 433.9h0.9v5.4h-0.9zM91.2 455.6h0.9v5.4h-0.9zM92.1 221.8h0.9v5.4h-0.9zM92.1 232.7h0.9v10.9h-0.9zM92.1 303.4h0.9v5.4h-0.9zM92.1 368.6h0.9v5.4h-0.9zM92.1 482.8h0.9v5.4h-0.9zM93.0 232.7h1.0v5.4h-1.0zM94.0 118.5h1.0v5.4h-1.0zM94.0 292.5h1.0v5.4h-1.0zM94.0 374.1h1.0v5.4h-1.0zM94.0 401.2h1.0v5.4h-1.0zM95.0 129.4h1.0v5.4h-1.0zM95.0 270.8h1.0v5.4h-1.0zM96.0 325.1h1.0v5.4h-1.0zM96.0 341.4h1.0v5.4h-1.0zM97.0 140.2h1.0v10.9h-1.0zM97.0 259.9h1.0v5.4h-1.0zM97.0 346.9h1.0v5.4h-1.0zM97.0 395.8h1.0v5.4h-1.0zM98.0 221.8h1.1v5.4h-1.1zM98.0 232.7h1.1v5.4h-1.1zM98.0 330.6h1.1v5.4h-1.1zM98.0 374.1h1.1v5.4h-1.1zM98.0 450.2h1.1v5.4h-1.1zM99.1 162.0h1.1v5.4h-1.1zM99.1 189.2h1.1v5.4h-1.1zM99.1 243.6h1.1v5.4h-1.1zM99.1 341.4h1.1v5.4h-1.1zM99.1 363.2h1.1v10.9h-1.1zM99.1 395.8h1.1v5.4h-1.1zM99.1 412.1h1.1v5.4h-1.1zM99.1 461.1h1.1v5.4h-1.1zM99.1 493.7h1.1v5.4h-1.1zM100.2 292.5h1.1v5.4h-1.1zM100.2 395.8h1.1v5.4h-1.1zM100.2 466.5h1.1v5.4h-1.1zM101.3 183.8h1.1v5.4h-1.1zM101.3 379.5h1.1v5.4h-1.1zM101.3 401.2h1.1v5.4h-1.1zM101.3 444.8h1.1v5.4h-1.1zM102.4 85.9h1.1v5.4h-1.1zM102.4 249.0h1.1v5.4h-1.1zM102.4 303.4h1.1v5.4h-1.1zM102.4 346.9h1.1v5.4h-1.1zM102.4 406.7h1.1v5.4h-1.1zM103.6 85.9h1.2v5.4h-1.2zM103.6 156.6h1.2v5.4h-1.2zM103.6 303.4h1.2v5.4h-1.2zM103.6 412.1h1.2v5.4h-1.2zM103.6 455.6h1.2v5.4h-1.2zM104.7 276.2h1.2v5.4h-1.2zM105.9 91.3h1.2v5.4h-1.2zM105.9 183.8h1.2v5.4h-1.2zM113.7 303.4h1.4v10.9h-1.4zM113.7 423.0h1.4v10.9h-1.4zM118.0 113.1h1.5v5.4h-1.5zM118.0 205.5h1.5v5.4h-1.5zM118.0 297.9h1.5v5.4h-1.5zM118.0 384.9h1.5v5.4h-1.5zM118.0 439.3h1.5v5.4h-1.5zM119.5 390.4h1.6v5.4h-1.6zM124.4 281.6h1.7v5.4h-1.7zM124.4 461.1h1.7v5.4h-1.7zM126.2 379.5h1.8v5.4h-1.8zM128.0 281.6h1.8v5.4h-1.8zM128.0 390.4h1.8v5.4h-1.8zM129.8 384.9h1.9v10.9h-1.9zM129.8 455.6h1.9v5.4h-1.9zM131.7 504.6h1.9v17.4h-1.9zM133.6 292.5h2.0v5.4h-2.0zM133.6 303.4h2.0v5.4h-2.0zM133.6 352.3h2.0v5.4h-2.0zM133.6 368.6h2.0v5.4h-2.0zM133.6 493.7h2.0v5.4h-2.0zM135.6 433.9h2.1v5.4h-2.1zM137.7 281.6h2.1v5.4h-2.1zM139.8 390.4h2.2v5.4h-2.2zM139.8 471.9h2.2v5.4h-2.2zM142.0 406.7h2.3v5.4h-2.3zM142.0 482.8h2.3v5.4h-2.3zM101.3 346.9h2.1v5.4h-2.1z"/>
<path fill="rgb(90,90,90)" d="M68.0 162.0h12.7v5.4h-12.7zM80.7 167.4h0.7v5.4h-0.7zM80.7 189.2h0.7v5.4h-0.7zM81.4 167.4h0.7v5.4h-0.7zM81.4 232.7h0.7v5.4h-0.7zM81.4 249.0h0.7v5.4h-0.7zM82.1 249.0h0.7v5.4h-0.7zM82.9 172.9h0.8v5.4h-0.8zM83.6 183.8h0.8v5.4h-0.8zM84.4 183.8h0.8v5.4h-0.8zM85.2 292.5h0.8v5.4h-0.8zM85.2 336.0h0.8v5.4h-0.8zM85.2 346.9h0.8v5.4h-0.8zM85.2 423.0h0.8v5.4h-0.8zM86.0 129.4h0.8v5.4h-0.8zM86.0 412.1h0.8v5.4h-0.8zM86.0 504.6h0.8v17.4h-0.8zM87.7 433.9h0.9v5.4h-0.9zM88.5 183.8h0.9v5.4h-0.9zM88.5 395.8h0.9v5.4h-0.9zM88.5 412.1h0.9v5.4h-0.9zM91.2 243.6h0.9v5.4h-0.9zM92.1 113.1h0.9v5.4h-0.9zM92.1 205.5h0.9v5.4h-0.9zM92.1 254.4h0.9v5.4h-0.9zM92.1 297.9h0.9v5.4h-0.9zM93.0 156.6h1.0v5.4h-1.0zM93.0 297.9h1.0v5.4h-1.0zM94.0 151.1h1.0v5.4h-1.0zM95.0 243.6h1.0v5.4h-1.0zM95.0 259.9h1.0v5.4h-1.0zM95.0 281.6h1.0v5.4h-1.0zM96.0 194.6h1.0v5.4h-1.0zM96.0 276.2h1.0v5.4h-1.0zM96.0 374.1h1.0v5.4h-1.0zM96.0 499.1h1.0v5.4h-1.0zM97.0 232.7h1.0v5.4h-1.0zM97.0 254.4h1.0v5.4h-1.0zM97.0 281.6h1.0v5.4h-1.0zM98.0 151.1h1.1v10.9h-1.1zM98.0 172.9h1.1v10.9h-1.1zM98.0 189.2h1.1v5.4h-1.1zM98.0 308.8h1.1v5.4h-1.1zM98.0 341.4h1.1v5.4h-1.1zM98.0 395.8h1.1v5.4h-1.1zM98.0 444.8h1.1v5.4h-1.1zM99.1 145.7h1.1v5.4h-1.1zM99.1 156.6h1.1v5.4h-1.1zM99.1 319.7h1.1v5.4h-1.1zM99.1 401.2h1.1v5.4h-1.1zM99.1 477.4h1.1v5.4h-1.1zM100.2 145.7h1.1v5.4h-1.1zM100.2 276.2h1.1v5.4h-1.1zM100.2 357.8h1.1v5.4h-1.1zM100.2 433.9h1.1v5.4h-1.1zM101.3 238.1h1.1v5.4h-1.1zM102.4 102.2h1.1v5.4h-1.1zM102.4 276.2h1.1v5.4h-1.1zM102.4 325.1h1.1v5.4h-1.1zM102.4 374.1h1.1v5.4h-1.1zM102.4 417.6h1.1v5.4h-1.1zM103.6 276.2h1.2v5.4h-1.2zM103.6 477.4h1.2v5.4h-1.2zM104.7 118.5h1.2v5.4h-1.2zM104.7 346.9h1.2v5.4h-1.2zM104.7 368.6h1.2v10.9h-1.2zM104.7 412.1h1.2v5.4h-1.2zM104.7 433.9h1.2v5.4h-1.2zM105.9 118.5h1.2v5.4h-1.2zM105.9 156.6h1.2v5.4h-1.2zM105.9 238.1h1.2v5.4h-1.2zM105.9 276.2h1.2v5.4h-1.2zM105.9 297.9h1.2v5.4h-1.2zM105.9 444.8h1.2v5.4h-1.2zM112.3 499.1h1.4v5.4h-1.4zM116.5 205.5h1.5v5.4h-1.5zM118.0 374.1h1.5v5.4h-1.5zM119.5 341.4h1.6v5.4h-1.6zM121.1 265.3h1.6v5.4h-1.6zM122.8 123.9h1.7v5.4h-1.7zM122.8 287.1h1.7v10.9h-1.7zM124.4 189.2h1.7v5.4h-1.7zM124.4 401.2h1.7v5.4h-1.7zM124.4 455.6h1.7v5.4h-1.7zM126.2 156.6h1.8v5.4h-1.8zM126.2 395.8h1.8v5.4h-1.8zM128.0 346.9h1.8v5.4h-1.8zM128.0 417.6h1.8v5.4h-1.8zM129.8 134.8h1.9v5.4h-1.9zM129.8 270.8h1.9v10.9h-1.9zM129.8 499.1h1.9v5.4h-1.9zM131.7 303.4h1.9v5.4h-1.9zM133.6 102.2h2.0v5.4h-2.0zM135.6 368.6h2.1v5.4h-2.1zM137.7 455.6h2.1v5.4h-2.1zM142.0 336.0h2.3v5.4h-2.3zM142.0 471.9h2.3v5.4h-2.3zM101.3 107.6h2.1v5.4h-2.1zM101.3 118.5h2.1v5.4h-2.1zM101.3 140.2h2.1v5.4h-2.1zM101.3 281.6h2.1v5.4h-2.1zM101.3 406.7h2.1v5.4h-2.1z"/>
<path fill="rgb(93,93,93)" d="M68.0 123.9h12.7v5.4h-12.7zM68.0 189.2h12.7v5.4h-12.7zM81.4 270.8h0.7v10.9h-0.7zM82.9 113.1h0.8v5.4h-0.8zM82.9 249.0h0.8v5.4h-0.8zM83.6 259.9h0.8v5.4h-0.8zM84.4 134.8h0.8v5.4h-0.8zM84.4 249.0h0.8v5.4h-0.8zM85.2 243.6h0.8v5.4h-0.8zM86.0 406.7h0.8v5.4h-0.8zM86.8 439.3h0.8v5.4h-0.8zM87.7 113.1h0.9v5.4h-0.9zM87.7 455.6h0.9v5.4h-0.9zM88.5 488.2h0.9v5.4h-0.9zM90.3 178.3h0.9v5.4h-0.9zM90.3 368.6h0.9v5.4h-0.9zM91.2 102.2h0.9v5.4h-0.9zM92.1 107.6h0.9v5.4h-0.9zM92.1 395.8h0.9v5.4h-0.9zM93.0 183.8h1.0v10.9h-1.0zM93.0 504.6h1.0v17.4h-1.0zM94.0 189.2h1.0v5.4h-1.0zM94.0 243.6h1.0v5.4h-1.0zM95.0 107.6h1.0v10.9h-1.0zM95.0 292.5h1.0v5.4h-1.0zM95.0 423.0h1.0v5.4h-1.0zM96.0 151.1h1.0v5.4h-1.0zM97.0 75.0h1.0v5.4h-1.0zM97.0 123.9h1.0v5.4h-1.0zM97.0 265.3h1.0v5.4h-1.0zM97.0 287.1h1.0v5.4h-1.0zM98.0 96.8h1.1v10.9h-1.1zM99.1 96.8h1.1v5.4h-1.1zM99.1 129.4h1.1v5.4h-1.1zM99.1 259.9h1.1v5.4h-1.1zM99.1 287.1h1.1v5.4h-1.1zM99.1 379.5h1.1v5.4h-1.1zM99.1 428.4h1.1v5.4h-1.1zM100.2 162.0h1.1v5.4h-1.1zM100.2 254.4h1.1v5.4h-1.1zM100.2 281.6h1.1v5.4h-1.1zM100.2 499.1h1.1v5.4h-1.1zM101.3 287.1h1.1v5.4h-1.1zM101.3 330.6h1.1v5.4h-1.1zM101.3 384.9h1.1v5.4h-1.1zM101.3 406.7h1.1v5.4h-1.1zM102.4 183.8h1.1v5.4h-1.1zM102.4 200.1h1.1v5.4h-1.1zM102.4 243.6h1.1v5.4h-1.1zM102.4 314.2h1.1v5.4h-1.1zM104.7 140.2h1.2v5.4h-1.2zM104.7 156.6h1.2v5.4h-1.2zM104.7 450.2h1.2v5.4h-1.2zM105.9 292.5h1.2v5.4h-1.2zM105.9 330.6h1.2v5.4h-1.2zM105.9 423.0h1.2v5.4h-1.2zM112.3 450.2h1.4v5.4h-1.4zM121.1 238.1h1.6v5.4h-1.6zM124.4 238.1h1.7v5.4h-1.7zM126.2 504.6h1.8v17.4h-1.8zM128.0 450.2h1.8v5.4h-1.8zM129.8 96.8h1.9v5.4h-1.9zM129.8 357.8h1.9v5.4h-1.9zM129.8 444.8h1.9v5.4h-1.9zM131.7 221.8h1.9v5.4h-1.9zM131.7 259.9h1.9v5.4h-1.9zM131.7 308.8h1.9v5.4h-1.9zM131.7 336.0h1.9v5.4h-1.9zM131.7 357.8h1.9v5.4h-1.9zM131.7 412.1h1.9v5.4h-1.9zM133.6 423.0h2.0v5.4h-2.0zM133.6 466.5h2.0v5.4h-2.0zM137.7 471.9h2.1v5.4h-2.1zM139.8 314.2h2.2v5.4h-2.2zM142.0 129.4h2.3v5.4h-2.3zM142.0 368.6h2.3v5.4h-2.3zM142.0 450.2h2.3v5.4h-2.3zM101.3 129.4h2.1v5.4h-2.1zM101.3 156.6h2.1v5.4h-2.1zM101.3 395.8h2.1v10.9h-2.1z"/>
<path fill="rgb(96,96,96)" d="M68.0 259.9h12.7v5.4h-12.7zM68.0 303.4h12.7v5.4h-12.7zM82.1 178.3h0.7v5.4h-0.7zM82.9 227.2h0.8v5.4h-0.8zM84.4 276.2h0.8v5.4h-0.8zM85.2 406.7h0.8v5.4h-0.8zM86.0 227.2h0.8v5.4h-0.8zM86.0 303.4h0.8v5.4h-0.8zM86.8 167.4h0.8v5.4h-0.8zM86.8 417.6h0.8v5.4h-0.8zM87.7 156.6h0.9v5.4h-0.9zM87.7 395.8h0.9v5.4h-0.9zM89.4 341.4h0.9v5.4h-0.9zM89.4 406.7h0.9v5.4h-0.9zM91.2 113.1h0.9v5.4h-0.9zM91.2 172.9h0.9v5.4h-0.9zM92.1 102.2h0.9v5.4h-0.9zM92.1 259.9h0.9v5.4h-0.9zM92.1 276.2h0.9v10.9h-0.9zM92.1 319.7h0.9v5.4h-0.9zM92.1 450.2h0.9v5.4h-0.9zM92.1 488.2h0.9v5.4h-0.9zM92.1 499.1h0.9v5.4h-0.9zM93.0 221.8h1.0v5.4h-1.0zM93.0 249.0h1.0v5.4h-1.0zM93.0 319.7h1.0v5.4h-1.0zM93.0 346.9h1.0v5.4h-1.0zM93.0 374.1h1.0v5.4h-1.0zM94.0 167.4h1.0v5.4h-1.0zM94.0 183.8h1.0v5.4h-1.0zM94.0 303.4h1.0v5.4h-1.0zM94.0 352.3h1.0v5.4h-1.0zM95.0 200.1h1.0v5.4h-1.0zM95.0 249.0h1.0v5.4h-1.0zM95.0 363.2h1.0v5.4h-1.0zM95.0 401.2h1.0v5.4h-1.0zM96.0 205.5h1.0v5.4h-1.0zM96.0 450.2h1.0v5.4h-1.0zM96.0 471.9h1.0v5.4h-1.0zM96.0 488.2h1.0v5.4h-1.0zM98.0 107.6h1.1v5.4h-1.1zM98.0 194.6h1.1v5.4h-1.1zM98.0 227.2h1.1v5.4h-1.1zM98.0 319.7h1.1v5.4h-1.1zM98.0 466.5h1.1v5.4h-1.1zM99.1 118.5h1.1v5.4h-1.1zM99.1 232.7h1.1v10.9h-1.1zM99.1 249.0h1.1v5.4h-1.1zM100.2 151.1h1.1v5.4h-1.1zM100.2 189.2h1.1v5.4h-1.1zM101.3 297.9h1.1v5.4h-1.1zM101.3 412.1h1.1v5.4h-1.1zM102.4 379.5h1.1v5.4h-1.1zM102.4 395.8h1.1v5.4h-1.1zM102.4 433.9h1.1v5.4h-1.1zM103.6 172.9h1.2v5.4h-1.2zM103.6 439.3h1.2v5.4h-1.2zM103.6 450.2h1.2v5.4h-1.2zM104.7 232.7h1.2v5.4h-1.2zM104.7 330.6h1.2v5.4h-1.2zM104.7 428.4h1.2v5.4h-1.2zM104.7 455.6h1.2v5.4h-1.2zM105.9 265.3h1.2v5.4h-1.2zM105.9 439.3h1.2v5.4h-1.2zM112.3 75.0h1.4v10.9h-1.4zM118.0 368.6h1.5v5.4h-1.5zM119.5 91.3h1.6v5.4h-1.6zM119.5 265.3h1.6v5.4h-1.6zM119.5 384.9h1.6v5.4h-1.6zM124.4 308.8h1.7v10.9h-1.7zM126.2 390.4h1.8v5.4h-1.8zM126.2 493.7h1.8v5.4h-1.8zM128.0 118.5h1.8v5.4h-1.8zM128.0 379.5h1.8v5.4h-1.8zM129.8 221.8h1.9v5.4h-1.9zM131.7 330.6h1.9v5.4h-1.9zM131.7 417.6h1.9v10.9h-1.9zM131.7 439.3h1.9v5.4h-1.9zM133.6 504.6h2.0v17.4h-2.0zM135.6 281.6h2.1v5.4h-2.1zM135.6 314.2h2.1v5.4h-2.1zM137.7 238.1h2.1v5.4h-2.1zM137.7 390.4h2.1v5.4h-2.1zM137.7 433.9h2.1v5.4h-2.1zM139.8 325.1h2.2v5.4h-2.2zM142.0 352.3h2.3v5.4h-2.3zM142.0 433.9h2.3v5.4h-2.3zM142.0 444.8h2.3v5.4h-2.3zM101.3 493.7h2.1v5.4h-2.1z"/>
<path fill="rgb(99,99,99)" d="M80.7 205.5h0.7v5.4h-0.7zM80.7 270.8h0.7v5.4h-0.7zM81.4 221.8h0.7v5.4h-0.7zM82.1 287.1h0.7v5.4h-0.7zM83.6 134.8h0.8v5.4h-0.8zM84.4 140.2h0.8v5.4h-0.8zM85.2 151.1h0.8v5.4h-0.8zM86.8 172.9h0.8v5.4h-0.8zM87.7 254.4h0.9v5.4h-0.9zM87.7 488.2h0.9v5.4h-0.9zM88.5 450.2h0.9v5.4h-0.9zM89.4 276.2h0.9v5.4h-0.9zM90.3 238.1h0.9v5.4h-0.9zM90.3 297.9h0.9v10.9h-0.9zM90.3 363.2h0.9v5.4h-0.9zM90.3 406.7h0.9v5.4h-0.9zM90.3 439.3h0.9v5.4h-0.9zM90.3 482.8h0.9v5.4h-0.9zM91.2 471.9h0.9v5.4h-0.9zM92.1 151.1h0.9v5.4h-0.9zM92.1 292.5h0.9v5.4h-0.9zM92.1 314.2h0.9v5.4h-0.9zM92.1 390.4h0.9v5.4h-0.9zM92.1 461.1h0.9v5.4h-0.9zM93.0 96.8h1.0v5.4h-1.0zM93.0 113.1h1.0v5.4h-1.0zM93.0 140.2h1.0v5.4h-1.0zM93.0 265.3h1.0v5.4h-1.0zM93.0 352.3h1.0v5.4h-1.0zM93.0 384.9h1.0v5.4h-1.0zM94.0 162.0h1.0v5.4h-1.0zM94.0 172.9h1.0v5.4h-1.0zM94.0 232.7h1.0v5.4h-1.0zM94.0 249.0h1.0v5.4h-1.0zM94.0 270.8h1.0v5.4h-1.0zM94.0 297.9h1.0v5.4h-1.0zM94.0 368.6h1.0v5.4h-1.0zM94.0 390.4h1.0v5.4h-1.0zM95.0 102.2h1.0v5.4h-1.0zM95.0 417.6h1.0v5.4h-1.0zM95.0 499.1h1.0v5.4h-1.0zM96.0 183.8h1.0v5.4h-1.0zM96.0 292.5h1.0v5.4h-1.0zM96.0 368.6h1.0v5.4h-1.0zM97.0 249.0h1.0v5.4h-1.0zM98.0 85.9h1.1v5.4h-1.1zM98.0 129.4h1.1v5.4h-1.1zM98.0 303.4h1.1v5.4h-1.1zM98.0 433.9h1.1v5.4h-1.1zM99.1 200.1h1.1v5.4h-1.1zM99.1 297.9h1.1v5.4h-1.1zM99.1 455.6h1.1v5.4h-1.1zM99.1 471.9h1.1v5.4h-1.1zM100.2 85.9h1.1v5.4h-1.1zM100.2 113.1h1.1v5.4h-1.1zM100.2 319.7h1.1v5.4h-1.1zM100.2 455.6h1.1v5.4h-1.1zM101.3 156.6h1.1v5.4h-1.1zM101.3 477.4h1.1v5.4h-1.1zM102.4 134.8h1.1v5.4h-1.1zM102.4 238.1h1.1v5.4h-1.1zM102.4 259.9h1.1v5.4h-1.1zM103.6 325.1h1.2v5.4h-1.2zM104.7 238.1h1.2v5.4h-1.2zM105.9 325.1h1.2v5.4h-1.2zM105.9 341.4h1.2v5.4h-1.2zM105.9 363.2h1.2v5.4h-1.2zM105.9 477.4h1.2v5.4h-1.2zM119.5 189.2h1.6v5.4h-1.6zM124.4 172.9h1.7v5.4h-1.7zM124.4 227.2h1.7v5.4h-1.7zM126.2 336.0h1.8v5.4h-1.8zM128.0 194.6h1.8v5.4h-1.8zM129.8 205.5h1.9v5.4h-1.9zM129.8 265.3h1.9v5.4h-1.9zM133.6 107.6h2.0v5.4h-2.0zM133.6 205.5h2.0v5.4h-2.0zM133.6 238.1h2.0v5.4h-2.0zM135.6 107.6h2.1v5.4h-2.1zM135.6 390.4h2.1v5.4h-2.1zM137.7 270.8h2.1v5.4h-2.1zM137.7 314.2h2.1v5.4h-2.1zM137.7 493.7h2.1v5.4h-2.1zM137.7 504.6h2.1v17.4h-2.1zM139.8 303.4h2.2v5.4h-2.2zM101.3 477.4h2.1v5.4h-2.1z"/>
<path fill="rgb(102,102,102)" d="M83.6 75.0h0.8v10.9h-0.8zM83.6 151.1h0.8v5.4h-0.8zM84.4 238.1h0.8v5.4h-0.8zM86.0 118.5h0.8v10.9h-0.8zM86.8 113.1h0.8v5.4h-0.8zM86.8 254.4h0.8v5.4h-0.8zM87.7 357.8h0.9v5.4h-0.9zM88.5 162.0h0.9v5.4h-0.9zM88.5 325.1h0.9v5.4h-0.9zM88.5 423.0h0.9v5.4h-0.9zM89.4 107.6h0.9v5.4h-0.9zM90.3 91.3h0.9v10.9h-0.9zM90.3 129.4h0.9v5.4h-0.9zM90.3 145.7h0.9v5.4h-0.9zM90.3 336.0h0.9v5.4h-0.9zM90.3 493.7h0.9v5.4h-0.9zM91.2 227.2h0.9v5.4h-0.9zM92.1 118.5h0.9v5.4h-0.9zM92.1 178.3h0.9v5.4h-0.9zM92.1 287.1h0.9v5.4h-0.9zM92.1 336.0h0.9v5.4h-0.9zM92.1 493.7h0.9v5.4h-0.9zM93.0 178.3h1.0v5.4h-1.0zM93.0 461.1h1.0v5.4h-1.0zM94.0 178.3h1.0v5.4h-1.0zM95.0 330.6h1.0v5.4h-1.0zM95.0 357.8h1.0v5.4h-1.0zM95.0 488.2h1.0v5.4h-1.0zM96.0 75.0h1.0v10.9h-1.0zM96.0 118.5h1.0v5.4h-1.0zM96.0 346.9h1.0v5.4h-1.0zM97.0 205.5h1.0v5.4h-1.0zM97.0 336.0h1.0v5.4h-1.0zM97.0 428.4h1.0v5.4h-1.0zM98.0 259.9h1.1v5.4h-1.1zM98.0 379.5h1.1v5.4h-1.1zM98.0 504.6h1.1v17.4h-1.1zM99.1 140.2h1.1v5.4h-1.1zM99.1 167.4h1.1v5.4h-1.1zM99.1 276.2h1.1v5.4h-1.1zM99.1 325.1h1.1v5.4h-1.1zM100.2 129.4h1.1v5.4h-1.1zM100.2 156.6h1.1v5.4h-1.1zM100.2 423.0h1.1v5.4h-1.1zM101.3 281.6h1.1v5.4h-1.1zM103.6 129.4h1.2v5.4h-1.2zM103.6 145.7h1.2v5.4h-1.2zM103.6 461.1h1.2v5.4h-1.2zM104.7 265.3h1.2v5.4h-1.2zM104.7 363.2h1.2v5.4h-1.2zM104.7 444.8h1.2v5.4h-1.2zM108.4 205.5h1.3v5.4h-1.3zM112.3 297.9h1.4v5.4h-1.4zM116.5 308.8h1.5v5.4h-1.5zM116.5 336.0h1.5v5.4h-1.5zM119.5 85.9h1.6v5.4h-1.6zM121.1 254.4h1.6v5.4h-1.6zM124.4 232.7h1.7v5.4h-1.7zM124.4 482.8h1.7v5.4h-1.7zM126.2 352.3h1.8v5.4h-1.8zM126.2 417.6h1.8v5.4h-1.8zM126.2 455.6h1.8v5.4h-1.8zM128.0 113.1h1.8v5.4h-1.8zM128.0 123.9h1.8v5.4h-1.8zM128.0 412.1h1.8v5.4h-1.8zM129.8 200.1h1.9v5.4h-1.9zM133.6 281.6h2.0v5.4h-2.0zM135.6 379.5h2.1v5.4h-2.1zM137.7 325.1h2.1v5.4h-2.1zM139.8 384.9h2.2v5.4h-2.2zM139.8 406.7h2.2v5.4h-2.2zM142.0 221.8h2.3v5.4h-2.3zM142.0 314.2h2.3v5.4h-2.3zM101.3 167.4h2.1v5.4h-2.1zM101.3 488.2h2.1v5.4h-2.1z"/>
<path fill="rgb(105,105,105)" d="M80.7 238.1h0.7v5.4h-0.7zM81.4 243.6h0.7v5.4h-0.7zM82.1 194.6h0.7v5.4h-0.7zM82.1 270.8h0.7v5.4h-0.7zM82.9 243.6h0.8v5.4h-0.8zM83.6 189.2h0.8v5.4h-0.8zM85.2 96.8h0.8v5.4h-0.8zM85.2 140.2h0.8v5.4h-0.8zM86.0 471.9h0.8v5.4h-0.8zM86.0 499.1h0.8v5.4h-0.8zM87.7 183.8h0.9v5.4h-0.9zM88.5 129.4h0.9v5.4h-0.9zM89.4 243.6h0.9v5.4h-0.9zM89.4 395.8h0.9v5.4h-0.9zM90.3 259.9h0.9v5.4h-0.9zM90.3 292.5h0.9v5.4h-0.9zM90.3 417.6h0.9v5.4h-0.9zM90.3 444.8h0.9v5.4h-0.9zM91.2 75.0h0.9v5.4h-0.9zM91.2 390.4h0.9v5.4h-0.9zM91.2 499.1h0.9v5.4h-0.9zM92.1 156.6h0.9v5.4h-0.9zM93.0 91.3h1.0v5.4h-1.0zM93.0 129.4h1.0v5.4h-1.0zM94.0 156.6h1.0v5.4h-1.0zM95.0 91.3h1.0v5.4h-1.0zM95.0 374.1h1.0v5.4h-1.0zM95.0 406.7h1.0v5.4h-1.0zM95.0 433.9h1.0v5.4h-1.0zM96.0 249.0h1.0v5.4h-1.0zM96.0 281.6h1.0v5.4h-1.0zM97.0 433.9h1.0v5.4h-1.0zM97.0 466.5h1.0v5.4h-1.0zM99.1 227.2h1.1v5.4h-1.1zM99.1 417.6h1.1v5.4h-1.1zM100.2 134.8h1.1v5.4h-1.1zM100.2 308.8h1.1v5.4h-1.1zM101.3 134.8h1.1v5.4h-1.1zM101.3 162.0h1.1v5.4h-1.1zM101.3 303.4h1.1v5.4h-1.1zM101.3 433.9h1.1v5.4h-1.1zM102.4 118.5h1.1v5.4h-1.1zM103.6 140.2h1.2v5.4h-1.2zM104.7 395.8h1.2v5.4h-1.2zM104.7 406.7h1.2v5.4h-1.2zM105.9 178.3h1.2v5.4h-1.2zM105.9 281.6h1.2v5.4h-1.2zM105.9 346.9h1.2v5.4h-1.2zM119.5 417.6h1.6v5.4h-1.6zM122.8 308.8h1.7v5.4h-1.7zM124.4 221.8h1.7v5.4h-1.7zM124.4 319.7h1.7v5.4h-1.7zM124.4 384.9h1.7v5.4h-1.7zM126.2 270.8h1.8v5.4h-1.8zM129.8 194.6h1.9v5.4h-1.9zM131.7 85.9h1.9v5.4h-1.9zM135.6 145.7h2.1v5.4h-2.1zM135.6 221.8h2.1v5.4h-2.1zM135.6 504.6h2.1v17.4h-2.1zM137.7 91.3h2.1v5.4h-2.1zM137.7 276.2h2.1v5.4h-2.1zM137.7 374.1h2.1v5.4h-2.1zM139.8 287.1h2.2v5.4h-2.2zM139.8 346.9h2.2v5.4h-2.2zM142.0 265.3h2.3v5.4h-2.3zM142.0 281.6h2.3v5.4h-2.3zM101.3 85.9h2.1v10.9h-2.1zM101.3 162.0h2.1v5.4h-2.1zM101.3 270.8h2.1v5.4h-2.1zM101.3 384.9h2.1v5.4h-2.1zM101.3 450.2h2.1v5.4h-2.1z"/>
<path fill="rgb(108,108,108)" d="M80.7 140.2h0.7v5.4h-0.7zM81.4 189.2h0.7v5.4h-0.7zM82.1 259.9h0.7v5.4h-0.7zM83.6 232.7h0.8v5.4h-0.8zM83.6 254.4h0.8v5.4h-0.8zM84.4 167.4h0.8v5.4h-0.8zM85.2 118.5h0.8v5.4h-0.8zM85.2 504.6h0.8v17.4h-0.8zM86.0 319.7h0.8v5.4h-0.8zM86.0 357.8h0.8v5.4h-0.8zM86.0 401.2h0.8v5.4h-0.8zM86.8 85.9h0.8v5.4h-0.8zM87.7 145.7h0.9v5.4h-0.9zM87.7 379.5h0.9v5.4h-0.9zM88.5 281.6h0.9v5.4h-0.9zM89.4 156.6h0.9v5.4h-0.9zM89.4 401.2h0.9v5.4h-0.9zM90.3 113.1h0.9v10.9h-0.9zM90.3 254.4h0.9v5.4h-0.9zM90.3 276.2h0.9v5.4h-0.9zM91.2 276.2h0.9v5.4h-0.9zM91.2 374.1h0.9v10.9h-0.9zM92.1 134.8h0.9v5.4h-0.9zM92.1 270.8h0.9v5.4h-0.9zM92.1 308.8h0.9v5.4h-0.9zM92.1 444.8h0.9v5.4h-0.9zM93.0 107.6h1.0v5.4h-1.0zM93.0 172.9h1.0v5.4h-1.0zM93.0 238.1h1.0v5.4h-1.0zM93.0 292.5h1.0v5.4h-1.0zM93.0 303.4h1.0v5.4h-1.0zM93.0 412.1h1.0v5.4h-1.0zM94.0 205.5h1.0v5.4h-1.0zM94.0 325.1h1.0v10.9h-1.0zM94.0 395.8h1.0v5.4h-1.0zM94.0 417.6h1.0v5.4h-1.0zM94.0 466.5h1.0v5.4h-1.0zM95.0 96.8h1.0v5.4h-1.0zM95.0 341.4h1.0v5.4h-1.0zM95.0 352.3h1.0v5.4h-1.0zM95.0 379.5h1.0v5.4h-1.0zM95.0 493.7h1.0v5.4h-1.0zM96.0 314.2h1.0v5.4h-1.0zM97.0 455.6h1.0v5.4h-1.0zM98.0 270.8h1.1v5.4h-1.1zM98.0 292.5h1.1v5.4h-1.1zM98.0 314.2h1.1v5.4h-1.1zM99.1 102.2h1.1v5.4h-1.1zM99.1 172.9h1.1v5.4h-1.1zM99.1 205.5h1.1v5.4h-1.1zM99.1 357.8h1.1v5.4h-1.1zM101.3 352.3h1.1v5.4h-1.1zM101.3 493.7h1.1v5.4h-1.1zM102.4 96.8h1.1v5.4h-1.1zM102.4 113.1h1.1v5.4h-1.1zM102.4 123.9h1.1v5.4h-1.1zM102.4 390.4h1.1v5.4h-1.1zM103.6 287.1h1.2v5.4h-1.2zM103.6 336.0h1.2v5.4h-1.2zM103.6 417.6h1.2v5.4h-1.2zM104.7 471.9h1.2v5.4h-1.2zM105.9 75.0h1.2v10.9h-1.2zM105.9 450.2h1.2v5.4h-1.2zM105.9 504.6h1.2v17.4h-1.2zM109.7 297.9h1.3v5.4h-1.3zM111.0 314.2h1.3v5.4h-1.3zM113.7 205.5h1.4v5.4h-1.4zM119.5 75.0h1.6v10.9h-1.6zM119.5 221.8h1.6v10.9h-1.6zM126.2 303.4h1.8v5.4h-1.8zM126.2 325.1h1.8v5.4h-1.8zM126.2 384.9h1.8v5.4h-1.8zM128.0 178.3h1.8v5.4h-1.8zM131.7 314.2h1.9v5.4h-1.9zM135.6 134.8h2.1v5.4h-2.1zM135.6 346.9h2.1v5.4h-2.1zM137.7 102.2h2.1v5.4h-2.1zM139.8 357.8h2.2v5.4h-2.2zM101.3 178.3h2.1v5.4h-2.1zM101.3 303.4h2.1v5.4h-2.1zM101.3 363.2h2.1v5.4h-2.1zM101.3 390.4h2.1v5.4h-2.1zM101.3 428.4h2.1v5.4h-2.1zM101.3 504.6h2.1v17.4h-2.1z"/>
<path fill="rgb(111,111,111)" d="M68.0 151.1h12.7v5.4h-12.7zM82.9 189.2h0.8v5.4h-0.8zM85.2 390.4h0.8v5.4h-0.8zM85.2 401.2h0.8v5.4h-0.8zM85.2 466.5h0.8v5.4h-0.8zM86.0 232.7h0.8v5.4h-0.8zM86.0 395.8h0.8v5.4h-0.8zM86.8 200.1h0.8v5.4h-0.8zM86.8 357.8h0.8v5.4h-0.8zM88.5 374.1h0.9v5.4h-0.9zM90.3 232.7h0.9v5.4h-0.9zM91.2 140.2h0.9v5.4h-0.9zM91.2 194.6h0.9v5.4h-0.9zM91.2 281.6h0.9v5.4h-0.9zM91.2 395.8h0.9v5.4h-0.9zM92.1 401.2h0.9v5.4h-0.9zM93.0 123.9h1.0v5.4h-1.0zM93.0 227.2h1.0v5.4h-1.0zM93.0 428.4h1.0v5.4h-1.0zM93.0 444.8h1.0v5.4h-1.0zM93.0 471.9h1.0v5.4h-1.0zM94.0 96.8h1.0v5.4h-1.0zM94.0 194.6h1.0v5.4h-1.0zM94.0 265.3h1.0v5.4h-1.0zM94.0 341.4h1.0v5.4h-1.0zM94.0 471.9h1.0v5.4h-1.0zM95.0 221.8h1.0v5.4h-1.0zM95.0 254.4h1.0v5.4h-1.0zM95.0 325.1h1.0v5.4h-1.0zM95.0 384.9h1.0v5.4h-1.0zM95.0 428.4h1.0v5.4h-1.0zM95.0 444.8h1.0v5.4h-1.0zM95.0 466.5h1.0v5.4h-1.0zM96.0 384.9h1.0v5.4h-1.0zM97.0 107.6h1.0v5.4h-1.0zM97.0 390.4h1.0v5.4h-1.0zM97.0 444.8h1.0v5.4h-1.0zM99.1 406.7h1.1v5.4h-1.1zM100.2 205.5h1.1v5.4h-1.1zM100.2 390.4h1.1v5.4h-1.1zM100.2 488.2h1.1v5.4h-1.1zM101.3 178.3h1.1v5.4h-1.1zM104.7 75.0h1.2v10.9h-1.2zM104.7 439.3h1.2v5.4h-1.2zM105.9 205.5h1.2v5.4h-1.2zM116.5 297.9h1.5v5.4h-1.5zM119.5 297.9h1.6v5.4h-1.6zM122.8 238.1h1.7v5.4h-1.7zM124.4 210.9h1.7v5.4h-1.7zM126.2 287.1h1.8v5.4h-1.8zM126.2 428.4h1.8v5.4h-1.8zM128.0 384.9h1.8v5.4h-1.8zM133.6 308.8h2.0v5.4h-2.0zM135.6 357.8h2.1v5.4h-2.1zM137.7 205.5h2.1v5.4h-2.1zM137.7 308.8h2.1v5.4h-2.1zM137.7 357.8h2.1v5.4h-2.1zM139.8 412.1h2.2v5.4h-2.2zM101.3 243.6h2.1v5.4h-2.1zM101.3 357.8h2.1v5.4h-2.1zM101.3 439.3h2.1v5.4h-2.1zM101.3 461.1h2.1v5.4h-2.1zM103.4 444.8h3.5v5.4h-3.5z"/>
<path fill="rgb(114,114,114)" d="M68.0 276.2h12.7v5.4h-12.7zM80.7 232.7h0.7v5.4h-0.7zM81.4 75.0h0.7v10.9h-0.7zM81.4 200.1h0.7v5.4h-0.7zM81.4 254.4h0.7v5.4h-0.7zM81.4 281.6h0.7v5.4h-0.7zM82.1 200.1h0.7v5.4h-0.7zM85.2 75.0h0.8v10.9h-0.8zM85.2 319.7h0.8v5.4h-0.8zM86.0 308.8h0.8v5.4h-0.8zM86.0 374.1h0.8v5.4h-0.8zM88.5 189.2h0.9v5.4h-0.9zM88.5 303.4h0.9v10.9h-0.9zM89.4 297.9h0.9v5.4h-0.9zM89.4 450.2h0.9v5.4h-0.9zM90.3 172.9h0.9v5.4h-0.9zM90.3 346.9h0.9v5.4h-0.9zM90.3 466.5h0.9v5.4h-0.9zM90.3 477.4h0.9v5.4h-0.9zM91.2 134.8h0.9v5.4h-0.9zM91.2 292.5h0.9v5.4h-0.9zM91.2 384.9h0.9v5.4h-0.9zM92.1 162.0h0.9v5.4h-0.9zM92.1 200.1h0.9v5.4h-0.9zM92.1 346.9h0.9v5.4h-0.9zM92.1 363.2h0.9v5.4h-0.9zM92.1 428.4h0.9v5.4h-0.9zM93.0 102.2h1.0v5.4h-1.0zM93.0 270.8h1.0v5.4h-1.0zM93.0 287.1h1.0v5.4h-1.0zM93.0 390.4h1.0v5.4h-1.0zM93.0 499.1h1.0v5.4h-1.0zM94.0 227.2h1.0v5.4h-1.0zM94.0 336.0h1.0v5.4h-1.0zM94.0 423.0h1.0v5.4h-1.0zM96.0 352.3h1.0v5.4h-1.0zM99.1 346.9h1.1v5.4h-1.1zM101.3 325.1h1.1v5.4h-1.1zM101.3 450.2h1.1v5.4h-1.1zM102.4 91.3h1.1v5.4h-1.1zM103.6 107.6h1.2v5.4h-1.2zM103.6 162.0h1.2v5.4h-1.2zM103.6 384.9h1.2v5.4h-1.2zM103.6 433.9h1.2v5.4h-1.2zM104.7 113.1h1.2v5.4h-1.2zM104.7 287.1h1.2v5.4h-1.2zM105.9 172.9h1.2v5.4h-1.2zM105.9 194.6h1.2v5.4h-1.2zM116.5 330.6h1.5v5.4h-1.5zM119.5 303.4h1.6v5.4h-1.6zM119.5 314.2h1.6v5.4h-1.6zM128.0 303.4h1.8v5.4h-1.8zM129.8 297.9h1.9v10.9h-1.9zM131.7 189.2h1.9v5.4h-1.9zM131.7 227.2h1.9v5.4h-1.9zM131.7 325.1h1.9v5.4h-1.9zM135.6 428.4h2.1v5.4h-2.1zM139.8 439.3h2.2v5.4h-2.2zM142.0 238.1h2.3v5.4h-2.3zM101.3 96.8h2.1v5.4h-2.1zM101.3 265.3h2.1v5.4h-2.1zM101.3 292.5h2.1v5.4h-2.1zM101.3 308.8h2.1v5.4h-2.1zM101.3 423.0h2.1v5.4h-2.1zM101.3 466.5h2.1v5.4h-2.1z"/>
<path fill="rgb(117,117,117)" d="M68.0 85.9h12.7v5.4h-12.7zM68.0 200.1h12.7v5.4h-12.7zM81.4 238.1h0.7v5.4h-0.7zM81.4 297.9h0.7v5.4h-0.7zM82.1 265.3h0.7v5.4h-0.7zM82.1 281.6h0.7v5.4h-0.7zM82.9 200.1h0.8v5.4h-0.8zM84.4 221.8h0.8v5.4h-0.8zM86.0 259.9h0.8v5.4h-0.8zM86.8 205.5h0.8v5.4h-0.8zM86.8 330.6h0.8v5.4h-0.8zM86.8 384.9h0.8v5.4h-0.8zM86.8 395.8h0.8v5.4h-0.8zM88.5 113.1h0.9v5.4h-0.9zM88.5 145.7h0.9v5.4h-0.9zM88.5 466.5h0.9v5.4h-0.9zM88.5 482.8h0.9v5.4h-0.9zM89.4 134.8h0.9v10.9h-0.9zM89.4 178.3h0.9v5.4h-0.9zM89.4 265.3h0.9v5.4h-0.9zM90.3 281.6h0.9v5.4h-0.9zM90.3 357.8h0.9v5.4h-0.9zM91.2 151.1h0.9v5.4h-0.9zM91.2 221.8h0.9v5.4h-0.9zM91.2 254.4h0.9v5.4h-0.9zM92.1 123.9h0.9v5.4h-0.9zM92.1 325.1h0.9v5.4h-0.9zM93.0 167.4h1.0v5.4h-1.0zM93.0 368.6h1.0v5.4h-1.0zM93.0 477.4h1.0v5.4h-1.0zM93.0 488.2h1.0v5.4h-1.0zM94.0 113.1h1.0v5.4h-1.0zM94.0 129.4h1.0v5.4h-1.0zM94.0 238.1h1.0v5.4h-1.0zM94.0 281.6h1.0v5.4h-1.0zM94.0 363.2h1.0v5.4h-1.0zM94.0 455.6h1.0v5.4h-1.0zM94.0 488.2h1.0v5.4h-1.0zM94.0 504.6h1.0v17.4h-1.0zM95.0 151.1h1.0v5.4h-1.0zM95.0 232.7h1.0v5.4h-1.0zM95.0 297.9h1.0v10.9h-1.0zM95.0 314.2h1.0v10.9h-1.0zM95.0 368.6h1.0v5.4h-1.0zM99.1 183.8h1.1v5.4h-1.1zM101.3 129.4h1.1v5.4h-1.1zM101.3 221.8h1.1v5.4h-1.1zM102.4 156.6h1.1v5.4h-1.1zM103.6 102.2h1.2v5.4h-1.2zM104.7 221.8h1.2v5.4h-1.2zM105.9 221.8h1.2v5.4h-1.2zM105.9 259.9h1.2v5.4h-1.2zM115.1 75.0h1.5v10.9h-1.5zM116.5 75.0h1.5v10.9h-1.5zM118.0 210.9h1.5v5.4h-1.5zM122.8 249.0h1.7v5.4h-1.7zM124.4 330.6h1.7v5.4h-1.7zM126.2 433.9h1.8v5.4h-1.8zM128.0 374.1h1.8v5.4h-1.8zM129.8 287.1h1.9v5.4h-1.9zM131.7 200.1h1.9v5.4h-1.9zM131.7 363.2h1.9v5.4h-1.9zM133.6 259.9h2.0v5.4h-2.0zM133.6 379.5h2.0v5.4h-2.0zM135.6 276.2h2.1v5.4h-2.1zM135.6 336.0h2.1v5.4h-2.1zM142.0 363.2h2.3v5.4h-2.3zM101.3 123.9h2.1v5.4h-2.1zM101.3 200.1h2.1v5.4h-2.1zM101.3 238.1h2.1v5.4h-2.1zM101.3 297.9h2.1v5.4h-2.1zM101.3 471.9h2.1v5.4h-2.1zM101.3 482.8h2.1v5.4h-2.1z"/>
<path fill="rgb(120,120,120)" d="M80.7 276.2h0.7v5.4h-0.7zM82.9 276.2h0.8v5.4h-0.8zM84.4 265.3h0.8v5.4h-0.8zM86.0 96.8h0.8v5.4h-0.8zM87.7 102.2h0.9v5.4h-0.9zM87.7 346.9h0.9v5.4h-0.9zM89.4 363.2h0.9v5.4h-0.9zM89.4 417.6h0.9v5.4h-0.9zM90.3 140.2h0.9v5.4h-0.9zM90.3 183.8h0.9v5.4h-0.9zM90.3 330.6h0.9v5.4h-0.9zM90.3 384.9h0.9v5.4h-0.9zM90.3 401.2h0.9v5.4h-0.9zM91.2 123.9h0.9v5.4h-0.9zM91.2 162.0h0.9v5.4h-0.9zM91.2 183.8h0.9v5.4h-0.9zM91.2 238.1h0.9v5.4h-0.9zM91.2 297.9h0.9v5.4h-0.9zM92.1 227.2h0.9v5.4h-0.9zM93.0 134.8h1.0v5.4h-1.0zM94.0 134.8h1.0v5.4h-1.0zM94.0 200.1h1.0v5.4h-1.0zM94.0 346.9h1.0v5.4h-1.0zM94.0 379.5h1.0v5.4h-1.0zM94.0 433.9h1.0v5.4h-1.0zM94.0 482.8h1.0v5.4h-1.0zM94.0 499.1h1.0v5.4h-1.0zM95.0 238.1h1.0v5.4h-1.0zM95.0 276.2h1.0v5.4h-1.0zM95.0 346.9h1.0v5.4h-1.0zM95.0 471.9h1.0v5.4h-1.0zM95.0 504.6h1.0v17.4h-1.0zM97.0 85.9h1.0v5.4h-1.0zM98.0 357.8h1.1v5.4h-1.1zM99.1 466.5h1.1v5.4h-1.1zM99.1 504.6h1.1v17.4h-1.1zM100.2 270.8h1.1v5.4h-1.1zM101.3 167.4h1.1v5.4h-1.1zM102.4 107.6h1.1v5.4h-1.1zM103.6 227.2h1.2v5.4h-1.2zM115.1 314.2h1.5v5.4h-1.5zM116.5 482.8h1.5v5.4h-1.5zM119.5 232.7h1.6v5.4h-1.6zM119.5 461.1h1.6v5.4h-1.6zM119.5 504.6h1.6v17.4h-1.6zM122.8 221.8h1.7v5.4h-1.7zM126.2 232.7h1.8v5.4h-1.8zM126.2 439.3h1.8v5.4h-1.8zM128.0 466.5h1.8v5.4h-1.8zM129.8 319.7h1.9v5.4h-1.9zM131.7 194.6h1.9v5.4h-1.9zM133.6 227.2h2.0v5.4h-2.0zM135.6 123.9h2.1v5.4h-2.1zM137.7 259.9h2.1v5.4h-2.1zM139.8 379.5h2.2v5.4h-2.2zM101.3 134.8h2.1v5.4h-2.1zM101.3 210.9h2.1v10.9h-2.1zM101.3 249.0h2.1v5.4h-2.1zM101.3 287.1h2.1v5.4h-2.1zM101.3 325.1h2.1v5.4h-2.1zM101.3 341.4h2.1v5.4h-2.1zM101.3 412.1h2.1v5.4h-2.1zM101.3 444.8h2.1v5.4h-2.1zM103.4 499.1h3.5v5.4h-3.5z"/>
<path fill="rgb(123,123,123)" d="M68.0 205.5h12.7v5.4h-12.7zM68.0 281.6h12.7v5.4h-12.7zM80.7 287.1h0.7v5.4h-0.7zM80.7 303.4h0.7v5.4h-0.7zM85.2 189.2h0.8v5.4h-0.8zM85.2 363.2h0.8v5.4h-0.8zM86.0 265.3h0.8v5.4h-0.8zM87.7 194.6h0.9v5.4h-0.9zM87.7 477.4h0.9v5.4h-0.9zM89.4 281.6h0.9v5.4h-0.9zM89.4 461.1h0.9v5.4h-0.9zM89.4 482.8h0.9v5.4h-0.9zM93.0 243.6h1.0v5.4h-1.0zM93.0 308.8h1.0v5.4h-1.0zM93.0 325.1h1.0v5.4h-1.0zM94.0 123.9h1.0v5.4h-1.0zM95.0 287.1h1.0v5.4h-1.0zM95.0 390.4h1.0v5.4h-1.0zM95.0 412.1h1.0v5.4h-1.0zM95.0 455.6h1.0v5.4h-1.0zM95.0 477.4h1.0v5.4h-1.0zM99.1 91.3h1.1v5.4h-1.1zM102.4 151.1h1.1v5.4h-1.1zM102.4 162.0h1.1v5.4h-1.1zM103.6 113.1h1.2v5.4h-1.2zM103.6 167.4h1.2v5.4h-1.2zM104.7 493.7h1.2v5.4h-1.2zM107.2 75.0h1.2v10.9h-1.2zM112.3 314.2h1.4v5.4h-1.4zM113.7 243.6h1.4v5.4h-1.4zM121.1 412.1h1.6v5.4h-1.6zM128.0 259.9h1.8v5.4h-1.8zM128.0 330.6h1.8v5.4h-1.8zM129.8 412.1h1.9v5.4h-1.9zM131.7 341.4h1.9v5.4h-1.9zM135.6 91.3h2.1v5.4h-2.1zM137.7 319.7h2.1v5.4h-2.1zM101.3 75.0h2.1v5.4h-2.1zM101.3 102.2h2.1v5.4h-2.1zM101.3 151.1h2.1v5.4h-2.1zM101.3 254.4h2.1v5.4h-2.1zM101.3 314.2h2.1v5.4h-2.1zM101.3 368.6h2.1v5.4h-2.1zM101.3 417.6h2.1v5.4h-2.1zM101.3 455.6h2.1v5.4h-2.1zM103.4 488.2h3.5v5.4h-3.5z"/>
<path fill="rgb(126,126,126)" d="M68.0 75.0h12.7v10.9h-12.7zM68.0 249.0h12.7v5.4h-12.7zM68.0 265.3h12.7v10.9h-12.7zM82.1 254.4h0.7v5.4h-0.7zM82.1 308.8h0.7v5.4h-0.7zM82.9 270.8h0.8v5.4h-0.8zM84.4 287.1h0.8v5.4h-0.8zM84.4 303.4h0.8v5.4h-0.8zM85.2 265.3h0.8v5.4h-0.8zM85.2 368.6h0.8v5.4h-0.8zM85.2 493.7h0.8v5.4h-0.8zM86.0 162.0h0.8v5.4h-0.8zM86.8 433.9h0.8v5.4h-0.8zM87.7 297.9h0.9v5.4h-0.9zM89.4 412.1h0.9v5.4h-0.9zM90.3 75.0h0.9v10.9h-0.9zM90.3 123.9h0.9v5.4h-0.9zM90.3 134.8h0.9v5.4h-0.9zM90.3 200.1h0.9v5.4h-0.9zM90.3 210.9h0.9v5.4h-0.9zM90.3 221.8h0.9v5.4h-0.9zM90.3 341.4h0.9v5.4h-0.9zM90.3 395.8h0.9v5.4h-0.9zM91.2 259.9h0.9v10.9h-0.9zM91.2 314.2h0.9v5.4h-0.9zM91.2 433.9h0.9v21.8h-0.9zM92.1 330.6h0.9v5.4h-0.9zM92.1 455.6h0.9v5.4h-0.9zM92.1 504.6h0.9v17.4h-0.9zM93.0 118.5h1.0v5.4h-1.0zM93.0 205.5h1.0v5.4h-1.0zM93.0 281.6h1.0v5.4h-1.0zM93.0 336.0h1.0v5.4h-1.0zM93.0 406.7h1.0v5.4h-1.0zM94.0 91.3h1.0v5.4h-1.0zM94.0 319.7h1.0v5.4h-1.0zM95.0 134.8h1.0v10.9h-1.0zM95.0 178.3h1.0v5.4h-1.0zM95.0 265.3h1.0v5.4h-1.0zM97.0 412.1h1.0v5.4h-1.0zM99.1 423.0h1.1v5.4h-1.1zM101.3 85.9h1.1v5.4h-1.1zM102.4 205.5h1.1v5.4h-1.1zM102.4 363.2h1.1v5.4h-1.1zM102.4 461.1h1.1v5.4h-1.1zM103.6 75.0h1.2v10.9h-1.2zM104.7 292.5h1.2v5.4h-1.2zM105.9 401.2h1.2v5.4h-1.2zM121.1 172.9h1.6v5.4h-1.6zM126.2 205.5h1.8v5.4h-1.8zM128.0 254.4h1.8v5.4h-1.8zM129.8 129.4h1.9v5.4h-1.9zM133.6 96.8h2.0v5.4h-2.0zM133.6 265.3h2.0v5.4h-2.0zM133.6 287.1h2.0v5.4h-2.0zM133.6 477.4h2.0v5.4h-2.0zM139.8 167.4h2.2v5.4h-2.2zM139.8 297.9h2.2v5.4h-2.2zM101.3 80.4h2.1v5.4h-2.1zM101.3 145.7h2.1v5.4h-2.1zM101.3 227.2h2.1v5.4h-2.1zM101.3 319.7h2.1v5.4h-2.1zM101.3 336.0h2.1v5.4h-2.1zM101.3 374.1h2.1v10.9h-2.1zM103.4 482.8h3.5v5.4h-3.5z"/>
<path fill="rgb(129,129,129)" d="M68.0 227.2h12.7v5.4h-12.7zM68.0 243.6h12.7v5.4h-12.7zM80.7 249.0h0.7v5.4h-0.7zM80.7 265.3h0.7v5.4h-0.7zM82.1 276.2h0.7v5.4h-0.7zM82.1 292.5h0.7v5.4h-0.7zM86.8 134.8h0.8v5.4h-0.8zM86.8 249.0h0.8v5.4h-0.8zM86.8 336.0h0.8v5.4h-0.8zM89.4 113.1h0.9v5.4h-0.9zM89.4 172.9h0.9v5.4h-0.9zM89.4 504.6h0.9v17.4h-0.9zM90.3 107.6h0.9v5.4h-0.9zM90.3 249.0h0.9v5.4h-0.9zM90.3 455.6h0.9v5.4h-0.9zM90.3 499.1h0.9v5.4h-0.9zM91.2 357.8h0.9v5.4h-0.9zM91.2 412.1h0.9v5.4h-0.9zM91.2 504.6h0.9v17.4h-0.9zM92.1 167.4h0.9v5.4h-0.9zM92.1 466.5h0.9v5.4h-0.9zM93.0 200.1h1.0v5.4h-1.0zM93.0 379.5h1.0v5.4h-1.0zM93.0 423.0h1.0v5.4h-1.0zM93.0 433.9h1.0v5.4h-1.0zM93.0 450.2h1.0v5.4h-1.0zM93.0 482.8h1.0v5.4h-1.0zM94.0 102.2h1.0v5.4h-1.0zM94.0 477.4h1.0v5.4h-1.0zM95.0 194.6h1.0v5.4h-1.0zM95.0 336.0h1.0v5.4h-1.0zM101.3 75.0h1.1v10.9h-1.1zM101.3 308.8h1.1v5.4h-1.1zM102.4 297.9h1.1v5.4h-1.1zM103.6 292.5h1.2v5.4h-1.2zM104.7 488.2h1.2v5.4h-1.2zM118.0 259.9h1.5v5.4h-1.5zM121.1 259.9h1.6v5.4h-1.6zM124.4 395.8h1.7v5.4h-1.7zM124.4 444.8h1.7v5.4h-1.7zM126.2 254.4h1.8v5.4h-1.8zM129.8 238.1h1.9v5.4h-1.9zM129.8 374.1h1.9v5.4h-1.9zM131.7 145.7h1.9v5.4h-1.9zM133.6 210.9h2.0v5.4h-2.0zM135.6 85.9h2.1v5.4h-2.1zM135.6 129.4h2.1v5.4h-2.1zM137.7 216.4h2.1v5.4h-2.1zM142.0 227.2h2.3v5.4h-2.3zM101.3 221.8h2.1v5.4h-2.1zM101.3 259.9h2.1v5.4h-2.1zM101.3 276.2h2.1v5.4h-2.1zM101.3 330.6h2.1v5.4h-2.1zM103.4 466.5h3.5v5.4h-3.5zM103.4 477.4h3.5v5.4h-3.5zM103.4 493.7h3.5v5.4h-3.5zM103.4 504.6h3.5v17.4h-3.5z"/>
<path fill="rgb(132,132,132)" d="M82.9 292.5h0.8v5.4h-0.8zM84.4 270.8h0.8v5.4h-0.8zM85.2 395.8h0.8v5.4h-0.8zM85.2 439.3h0.8v5.4h-0.8zM86.8 123.9h0.8v5.4h-0.8zM88.5 461.1h0.9v5.4h-0.9zM89.4 123.9h0.9v5.4h-0.9zM89.4 194.6h0.9v5.4h-0.9zM89.4 325.1h0.9v5.4h-0.9zM90.3 162.0h0.9v5.4h-0.9zM90.3 227.2h0.9v5.4h-0.9zM90.3 243.6h0.9v5.4h-0.9zM90.3 325.1h0.9v5.4h-0.9zM90.3 504.6h0.9v17.4h-0.9zM91.2 200.1h0.9v5.4h-0.9zM91.2 270.8h0.9v5.4h-0.9zM91.2 319.7h0.9v5.4h-0.9zM91.2 336.0h0.9v5.4h-0.9zM91.2 363.2h0.9v5.4h-0.9zM91.2 477.4h0.9v5.4h-0.9zM92.1 145.7h0.9v5.4h-0.9zM92.1 406.7h0.9v5.4h-0.9zM93.0 401.2h1.0v5.4h-1.0zM93.0 493.7h1.0v5.4h-1.0zM94.0 85.9h1.0v5.4h-1.0zM95.0 183.8h1.0v5.4h-1.0zM95.0 205.5h1.0v5.4h-1.0zM97.0 221.8h1.0v5.4h-1.0zM99.1 265.3h1.1v5.4h-1.1zM101.3 96.8h1.1v5.4h-1.1zM102.4 172.9h1.1v5.4h-1.1zM105.9 390.4h1.2v5.4h-1.2zM113.7 75.0h1.4v10.9h-1.4zM115.1 303.4h1.5v5.4h-1.5zM116.5 249.0h1.5v5.4h-1.5zM119.5 254.4h1.6v5.4h-1.6zM126.2 75.0h1.8v10.9h-1.8zM128.0 205.5h1.8v5.4h-1.8zM129.8 254.4h1.9v5.4h-1.9zM129.8 379.5h1.9v5.4h-1.9zM131.7 276.2h1.9v5.4h-1.9zM131.7 319.7h1.9v5.4h-1.9zM131.7 368.6h1.9v5.4h-1.9zM135.6 308.8h2.1v5.4h-2.1zM142.0 357.8h2.3v5.4h-2.3zM101.3 183.8h2.1v5.4h-2.1zM101.3 205.5h2.1v5.4h-2.1zM103.4 471.9h3.5v5.4h-3.5z"/>
<path fill="rgb(135,135,135)" d="M80.7 243.6h0.7v5.4h-0.7zM80.7 314.2h0.7v5.4h-0.7zM81.4 287.1h0.7v10.9h-0.7zM82.9 232.7h0.8v5.4h-0.8zM82.9 281.6h0.8v5.4h-0.8zM82.9 297.9h0.8v5.4h-0.8zM84.4 297.9h0.8v5.4h-0.8zM89.4 145.7h0.9v10.9h-0.9zM89.4 221.8h0.9v5.4h-0.9zM89.4 254.4h0.9v5.4h-0.9zM89.4 314.2h0.9v5.4h-0.9zM89.4 357.8h0.9v5.4h-0.9zM90.3 308.8h0.9v10.9h-0.9zM90.3 352.3h0.9v5.4h-0.9zM90.3 374.1h0.9v5.4h-0.9zM91.2 205.5h0.9v5.4h-0.9zM91.2 249.0h0.9v5.4h-0.9zM91.2 308.8h0.9v5.4h-0.9zM91.2 330.6h0.9v5.4h-0.9zM91.2 401.2h0.9v5.4h-0.9zM91.2 417.6h0.9v5.4h-0.9zM92.1 374.1h0.9v5.4h-0.9zM92.1 471.9h0.9v5.4h-0.9zM93.0 314.2h1.0v5.4h-1.0zM93.0 341.4h1.0v5.4h-1.0zM94.0 75.0h1.0v10.9h-1.0zM94.0 287.1h1.0v5.4h-1.0zM94.0 384.9h1.0v5.4h-1.0zM94.0 493.7h1.0v5.4h-1.0zM95.0 118.5h1.0v5.4h-1.0zM95.0 145.7h1.0v5.4h-1.0zM95.0 156.6h1.0v5.4h-1.0zM97.0 243.6h1.0v5.4h-1.0zM104.7 96.8h1.2v5.4h-1.2zM104.7 205.5h1.2v5.4h-1.2zM113.7 210.9h1.4v5.4h-1.4zM126.2 297.9h1.8v5.4h-1.8zM128.0 325.1h1.8v5.4h-1.8zM128.0 357.8h1.8v5.4h-1.8zM133.6 134.8h2.0v5.4h-2.0zM133.6 221.8h2.0v5.4h-2.0zM137.7 297.9h2.1v5.4h-2.1zM101.3 172.9h2.1v5.4h-2.1zM101.3 232.7h2.1v5.4h-2.1zM103.4 390.4h3.5v5.4h-3.5zM103.4 439.3h3.5v5.4h-3.5zM103.4 450.2h3.5v5.4h-3.5z"/>
<path fill="rgb(138,138,138)" d="M68.0 297.9h12.7v5.4h-12.7zM68.0 314.2h12.7v10.9h-12.7zM80.7 297.9h0.7v5.4h-0.7zM82.1 205.5h0.7v5.4h-0.7zM83.6 314.2h0.8v5.4h-0.8zM84.4 254.4h0.8v10.9h-0.8zM84.4 281.6h0.8v5.4h-0.8zM85.2 303.4h0.8v5.4h-0.8zM86.0 194.6h0.8v5.4h-0.8zM86.0 254.4h0.8v5.4h-0.8zM86.0 281.6h0.8v5.4h-0.8zM86.8 140.2h0.8v5.4h-0.8zM88.5 439.3h0.9v5.4h-0.9zM89.4 205.5h0.9v5.4h-0.9zM89.4 270.8h0.9v5.4h-0.9zM89.4 292.5h0.9v5.4h-0.9zM89.4 439.3h0.9v5.4h-0.9zM89.4 471.9h0.9v10.9h-0.9zM90.3 156.6h0.9v5.4h-0.9zM90.3 423.0h0.9v5.4h-0.9zM91.2 118.5h0.9v5.4h-0.9zM91.2 129.4h0.9v5.4h-0.9zM91.2 145.7h0.9v5.4h-0.9zM91.2 423.0h0.9v5.4h-0.9zM91.2 461.1h0.9v5.4h-0.9zM92.1 189.2h0.9v5.4h-0.9zM93.0 151.1h1.0v5.4h-1.0zM93.0 455.6h1.0v5.4h-1.0zM94.0 254.4h1.0v5.4h-1.0zM94.0 439.3h1.0v5.4h-1.0zM95.0 123.9h1.0v5.4h-1.0zM95.0 162.0h1.0v5.4h-1.0zM99.1 444.8h1.1v5.4h-1.1zM103.6 178.3h1.2v5.4h-1.2zM119.5 243.6h1.6v10.9h-1.6zM119.5 455.6h1.6v5.4h-1.6zM139.8 75.0h2.2v10.9h-2.2zM139.8 205.5h2.2v5.4h-2.2zM101.3 194.6h2.1v5.4h-2.1zM101.3 352.3h2.1v5.4h-2.1zM103.4 417.6h3.5v5.4h-3.5zM103.4 428.4h3.5v5.4h-3.5z"/>
<path fill="rgb(141,141,141)" d="M80.7 319.7h0.7v5.4h-0.7zM82.1 243.6h0.7v5.4h-0.7zM82.1 319.7h0.7v5.4h-0.7zM83.6 297.9h0.8v5.4h-0.8zM85.2 200.1h0.8v5.4h-0.8zM86.8 314.2h0.8v5.4h-0.8zM86.8 379.5h0.8v5.4h-0.8zM87.7 75.0h0.9v10.9h-0.9zM88.5 221.8h0.9v5.4h-0.9zM89.4 118.5h0.9v5.4h-0.9zM89.4 162.0h0.9v5.4h-0.9zM89.4 232.7h0.9v5.4h-0.9zM89.4 374.1h0.9v5.4h-0.9zM89.4 384.9h0.9v5.4h-0.9zM90.3 102.2h0.9v5.4h-0.9zM90.3 205.5h0.9v5.4h-0.9zM91.2 107.6h0.9v5.4h-0.9zM91.2 189.2h0.9v5.4h-0.9zM91.2 232.7h0.9v5.4h-0.9zM91.2 352.3h0.9v5.4h-0.9zM92.1 352.3h0.9v5.4h-0.9zM93.0 276.2h1.0v5.4h-1.0zM93.0 363.2h1.0v5.4h-1.0zM94.0 107.6h1.0v5.4h-1.0zM94.0 259.9h1.0v5.4h-1.0zM94.0 276.2h1.0v5.4h-1.0zM95.0 85.9h1.0v5.4h-1.0zM99.1 75.0h1.1v10.9h-1.1zM109.7 75.0h1.3v10.9h-1.3zM113.7 249.0h1.4v5.4h-1.4zM119.5 450.2h1.6v5.4h-1.6zM124.4 216.4h1.7v5.4h-1.7zM124.4 254.4h1.7v5.4h-1.7zM124.4 346.9h1.7v5.4h-1.7zM129.8 249.0h1.9v5.4h-1.9zM139.8 265.3h2.2v5.4h-2.2zM101.3 433.9h2.1v5.4h-2.1zM101.3 499.1h2.1v5.4h-2.1zM103.4 433.9h3.5v5.4h-3.5zM103.4 455.6h3.5v10.9h-3.5z"/>
<path fill="rgb(144,144,144)" d="M68.0 287.1h12.7v5.4h-12.7zM68.0 390.4h12.7v10.9h-12.7zM68.0 450.2h12.7v5.4h-12.7zM68.0 504.6h12.7v17.4h-12.7zM80.7 254.4h0.7v5.4h-0.7zM80.7 292.5h0.7v5.4h-0.7zM81.4 259.9h0.7v5.4h-0.7zM81.4 308.8h0.7v5.4h-0.7zM81.4 319.7h0.7v5.4h-0.7zM81.4 368.6h0.7v5.4h-0.7zM82.1 221.8h0.7v5.4h-0.7zM82.1 499.1h0.7v5.4h-0.7zM82.9 287.1h0.8v5.4h-0.8zM82.9 357.8h0.8v5.4h-0.8zM82.9 423.0h0.8v5.4h-0.8zM83.6 281.6h0.8v5.4h-0.8zM83.6 292.5h0.8v5.4h-0.8zM84.4 319.7h0.8v10.9h-0.8zM85.2 178.3h0.8v5.4h-0.8zM86.8 151.1h0.8v5.4h-0.8zM86.8 504.6h0.8v17.4h-0.8zM87.7 482.8h0.9v5.4h-0.9zM89.4 91.3h0.9v5.4h-0.9zM89.4 319.7h0.9v5.4h-0.9zM89.4 346.9h0.9v5.4h-0.9zM89.4 433.9h0.9v5.4h-0.9zM91.2 178.3h0.9v5.4h-0.9zM91.2 346.9h0.9v5.4h-0.9zM92.1 75.0h0.9v10.9h-0.9zM92.1 243.6h0.9v10.9h-0.9zM92.1 423.0h0.9v5.4h-0.9zM93.0 259.9h1.0v5.4h-1.0zM93.0 330.6h1.0v5.4h-1.0zM93.0 357.8h1.0v5.4h-1.0zM94.0 428.4h1.0v5.4h-1.0zM94.0 461.1h1.0v5.4h-1.0zM95.0 439.3h1.0v5.4h-1.0zM95.0 450.2h1.0v5.4h-1.0zM95.0 482.8h1.0v5.4h-1.0zM102.4 210.9h1.1v5.4h-1.1zM103.6 221.8h1.2v5.4h-1.2zM103.6 379.5h1.2v5.4h-1.2zM104.7 499.1h1.2v5.4h-1.2zM108.4 210.9h1.3v5.4h-1.3zM124.4 390.4h1.7v5.4h-1.7zM128.0 249.0h1.8v5.4h-1.8zM128.0 428.4h1.8v5.4h-1.8zM133.6 75.0h2.0v10.9h-2.0zM139.8 216.4h2.2v5.4h-2.2zM139.8 281.6h2.2v5.4h-2.2zM103.4 384.9h3.5v5.4h-3.5zM103.4 406.7h3.5v5.4h-3.5zM103.4 423.0h3.5v5.4h-3.5z"/>
<path fill="rgb(147,147,147)" d="M68.0 308.8h12.7v5.4h-12.7zM68.0 336.0h12.7v5.4h-12.7zM80.7 471.9h0.7v5.4h-0.7zM82.1 303.4h0.7v5.4h-0.7zM82.1 384.9h0.7v5.4h-0.7zM82.1 412.1h0.7v5.4h-0.7zM82.9 368.6h0.8v5.4h-0.8zM82.9 455.6h0.8v5.4h-0.8zM83.6 270.8h0.8v5.4h-0.8zM83.6 325.1h0.8v5.4h-0.8zM83.6 357.8h0.8v5.4h-0.8zM84.4 314.2h0.8v5.4h-0.8zM84.4 423.0h0.8v5.4h-0.8zM86.0 216.4h0.8v5.4h-0.8zM86.0 330.6h0.8v5.4h-0.8zM89.4 249.0h0.9v5.4h-0.9zM89.4 308.8h0.9v5.4h-0.9zM91.2 287.1h0.9v5.4h-0.9zM91.2 488.2h0.9v10.9h-0.9zM94.0 221.8h1.0v5.4h-1.0zM94.0 357.8h1.0v5.4h-1.0zM94.0 450.2h1.0v5.4h-1.0zM95.0 189.2h1.0v5.4h-1.0zM96.0 210.9h1.0v5.4h-1.0zM98.0 75.0h1.1v10.9h-1.1zM102.4 75.0h1.1v10.9h-1.1zM103.6 297.9h1.2v5.4h-1.2zM104.7 200.1h1.2v5.4h-1.2zM112.3 216.4h1.4v5.4h-1.4zM121.1 210.9h1.6v5.4h-1.6zM126.2 243.6h1.8v5.4h-1.8zM129.8 75.0h1.9v16.3h-1.9zM135.6 210.9h2.1v5.4h-2.1zM142.0 210.9h2.3v5.4h-2.3zM142.0 390.4h2.3v5.4h-2.3zM101.3 113.1h2.1v5.4h-2.1zM103.4 379.5h3.5v5.4h-3.5z"/>
<path fill="rgb(150,150,150)" d="M68.0 325.1h12.7v5.4h-12.7zM68.0 368.6h12.7v5.4h-12.7zM80.7 85.9h0.7v5.4h-0.7zM80.7 325.1h0.7v5.4h-0.7zM80.7 357.8h0.7v5.4h-0.7zM80.7 390.4h0.7v5.4h-0.7zM81.4 303.4h0.7v5.4h-0.7zM81.4 325.1h0.7v5.4h-0.7zM81.4 336.0h0.7v5.4h-0.7zM81.4 395.8h0.7v5.4h-0.7zM81.4 423.0h0.7v5.4h-0.7zM81.4 471.9h0.7v10.9h-0.7zM81.4 488.2h0.7v5.4h-0.7zM82.1 368.6h0.7v5.4h-0.7zM82.1 401.2h0.7v5.4h-0.7zM82.1 417.6h0.7v5.4h-0.7zM82.9 384.9h0.8v5.4h-0.8zM82.9 499.1h0.8v5.4h-0.8zM83.6 368.6h0.8v5.4h-0.8zM84.4 292.5h0.8v5.4h-0.8zM84.4 330.6h0.8v5.4h-0.8zM84.4 352.3h0.8v5.4h-0.8zM84.4 417.6h0.8v5.4h-0.8zM84.4 444.8h0.8v5.4h-0.8zM84.4 466.5h0.8v5.4h-0.8zM85.2 287.1h0.8v5.4h-0.8zM86.0 210.9h0.8v5.4h-0.8zM86.8 216.4h0.8v5.4h-0.8zM88.5 75.0h0.9v10.9h-0.9zM88.5 205.5h0.9v5.4h-0.9zM89.4 330.6h0.9v5.4h-0.9zM89.4 368.6h0.9v5.4h-0.9zM89.4 455.6h0.9v5.4h-0.9zM89.4 488.2h0.9v5.4h-0.9zM91.2 80.4h0.9v5.4h-0.9zM91.2 325.1h0.9v5.4h-0.9zM91.2 368.6h0.9v5.4h-0.9zM91.2 406.7h0.9v5.4h-0.9zM92.1 265.3h0.9v5.4h-0.9zM112.3 210.9h1.4v5.4h-1.4zM124.4 259.9h1.7v5.4h-1.7zM126.2 401.2h1.8v5.4h-1.8zM129.8 488.2h1.9v5.4h-1.9zM131.7 216.4h1.9v5.4h-1.9zM137.7 75.0h2.1v10.9h-2.1zM142.0 75.0h2.3v10.9h-2.3z"/>
<path fill="rgb(153,153,153)" d="M68.0 292.5h12.7v5.4h-12.7zM68.0 357.8h12.7v5.4h-12.7zM68.0 374.1h12.7v5.4h-12.7zM68.0 401.2h12.7v5.4h-12.7zM68.0 412.1h12.7v5.4h-12.7zM68.0 428.4h12.7v5.4h-12.7zM80.7 281.6h0.7v5.4h-0.7zM80.7 341.4h0.7v5.4h-0.7zM80.7 374.1h0.7v5.4h-0.7zM80.7 450.2h0.7v10.9h-0.7zM81.4 314.2h0.7v5.4h-0.7zM81.4 346.9h0.7v5.4h-0.7zM81.4 357.8h0.7v5.4h-0.7zM81.4 390.4h0.7v5.4h-0.7zM81.4 417.6h0.7v5.4h-0.7zM82.1 325.1h0.7v10.9h-0.7zM82.1 352.3h0.7v5.4h-0.7zM82.1 423.0h0.7v5.4h-0.7zM82.1 482.8h0.7v5.4h-0.7zM82.1 504.6h0.7v17.4h-0.7zM82.9 352.3h0.8v5.4h-0.8zM82.9 379.5h0.8v5.4h-0.8zM82.9 390.4h0.8v10.9h-0.8zM82.9 412.1h0.8v5.4h-0.8zM82.9 466.5h0.8v10.9h-0.8zM82.9 482.8h0.8v5.4h-0.8zM83.6 308.8h0.8v5.4h-0.8zM83.6 346.9h0.8v5.4h-0.8zM83.6 363.2h0.8v5.4h-0.8zM83.6 390.4h0.8v5.4h-0.8zM83.6 493.7h0.8v5.4h-0.8zM84.4 357.8h0.8v5.4h-0.8zM84.4 374.1h0.8v5.4h-0.8zM84.4 390.4h0.8v10.9h-0.8zM84.4 461.1h0.8v5.4h-0.8zM84.4 499.1h0.8v5.4h-0.8zM85.2 167.4h0.8v5.4h-0.8zM86.0 249.0h0.8v5.4h-0.8zM86.0 292.5h0.8v5.4h-0.8zM86.0 433.9h0.8v5.4h-0.8zM89.4 129.4h0.9v5.4h-0.9zM89.4 200.1h0.9v5.4h-0.9zM89.4 238.1h0.9v5.4h-0.9zM89.4 259.9h0.9v5.4h-0.9zM89.4 444.8h0.9v5.4h-0.9zM90.3 85.9h0.9v5.4h-0.9zM90.3 189.2h0.9v5.4h-0.9zM91.2 91.3h0.9v5.4h-0.9zM100.2 75.0h1.1v10.9h-1.1zM118.0 216.4h1.5v5.4h-1.5zM124.4 75.0h1.7v10.9h-1.7zM133.6 216.4h2.0v5.4h-2.0zM103.4 395.8h3.5v5.4h-3.5zM103.4 412.1h3.5v5.4h-3.5z"/>
<path fill="rgb(156,156,156)" d="M68.0 423.0h12.7v5.4h-12.7zM68.0 471.9h12.7v5.4h-12.7zM80.7 210.9h0.7v5.4h-0.7zM80.7 352.3h0.7v5.4h-0.7zM80.7 406.7h0.7v5.4h-0.7zM80.7 433.9h0.7v5.4h-0.7zM80.7 444.8h0.7v5.4h-0.7zM80.7 493.7h0.7v5.4h-0.7zM81.4 374.1h0.7v5.4h-0.7zM81.4 384.9h0.7v5.4h-0.7zM81.4 406.7h0.7v10.9h-0.7zM81.4 455.6h0.7v5.4h-0.7zM81.4 499.1h0.7v5.4h-0.7zM82.1 238.1h0.7v5.4h-0.7zM82.1 314.2h0.7v5.4h-0.7zM82.1 439.3h0.7v5.4h-0.7zM82.1 466.5h0.7v5.4h-0.7zM82.9 75.0h0.8v10.9h-0.8zM82.9 319.7h0.8v10.9h-0.8zM82.9 346.9h0.8v5.4h-0.8zM82.9 488.2h0.8v5.4h-0.8zM83.6 384.9h0.8v5.4h-0.8zM83.6 395.8h0.8v5.4h-0.8zM83.6 412.1h0.8v5.4h-0.8zM83.6 439.3h0.8v5.4h-0.8zM83.6 450.2h0.8v5.4h-0.8zM83.6 499.1h0.8v5.4h-0.8zM84.4 308.8h0.8v5.4h-0.8zM84.4 363.2h0.8v5.4h-0.8zM84.4 504.6h0.8v17.4h-0.8zM86.8 493.7h0.8v5.4h-0.8zM87.7 493.7h0.9v5.4h-0.9zM89.4 96.8h0.9v10.9h-0.9zM89.4 379.5h0.9v5.4h-0.9zM91.2 156.6h0.9v5.4h-0.9zM93.0 194.6h1.0v5.4h-1.0zM93.0 395.8h1.0v5.4h-1.0zM103.6 205.5h1.2v5.4h-1.2zM108.4 75.0h1.3v10.9h-1.3zM115.1 210.9h1.5v5.4h-1.5zM119.5 216.4h1.6v5.4h-1.6zM122.8 259.9h1.7v5.4h-1.7zM126.2 216.4h1.8v5.4h-1.8zM129.8 243.6h1.9v5.4h-1.9zM131.7 297.9h1.9v5.4h-1.9zM135.6 75.0h2.1v10.9h-2.1zM139.8 270.8h2.2v5.4h-2.2zM142.0 270.8h2.3v5.4h-2.3z"/>
<path fill="rgb(159,159,159)" d="M68.0 341.4h12.7v10.9h-12.7zM68.0 363.2h12.7v5.4h-12.7zM68.0 439.3h12.7v10.9h-12.7zM68.0 455.6h12.7v10.9h-12.7zM68.0 477.4h12.7v5.4h-12.7zM80.7 363.2h0.7v10.9h-0.7zM81.4 330.6h0.7v5.4h-0.7zM81.4 379.5h0.7v5.4h-0.7zM81.4 401.2h0.7v5.4h-0.7zM81.4 444.8h0.7v10.9h-0.7zM81.4 461.1h0.7v10.9h-0.7zM81.4 482.8h0.7v5.4h-0.7zM82.1 341.4h0.7v5.4h-0.7zM82.1 357.8h0.7v5.4h-0.7zM82.1 379.5h0.7v5.4h-0.7zM82.1 395.8h0.7v5.4h-0.7zM82.1 450.2h0.7v5.4h-0.7zM82.9 406.7h0.8v5.4h-0.8zM82.9 428.4h0.8v5.4h-0.8zM82.9 450.2h0.8v5.4h-0.8zM83.6 276.2h0.8v5.4h-0.8zM83.6 319.7h0.8v5.4h-0.8zM83.6 330.6h0.8v5.4h-0.8zM83.6 341.4h0.8v5.4h-0.8zM83.6 417.6h0.8v5.4h-0.8zM83.6 433.9h0.8v5.4h-0.8zM83.6 471.9h0.8v5.4h-0.8zM83.6 488.2h0.8v5.4h-0.8zM84.4 428.4h0.8v5.4h-0.8zM85.2 85.9h0.8v10.9h-0.8zM87.7 107.6h0.9v5.4h-0.9zM88.5 265.3h0.9v5.4h-0.9zM89.4 303.4h0.9v5.4h-0.9zM89.4 390.4h0.9v5.4h-0.9zM89.4 428.4h0.9v5.4h-0.9zM89.4 493.7h0.9v5.4h-0.9zM91.2 167.4h0.9v5.4h-0.9zM91.2 341.4h0.9v5.4h-0.9zM91.2 466.5h0.9v5.4h-0.9zM95.0 172.9h1.0v5.4h-1.0zM96.0 91.3h1.0v5.4h-1.0zM100.2 216.4h1.1v5.4h-1.1zM103.6 216.4h1.2v5.4h-1.2zM103.6 390.4h1.2v5.4h-1.2zM121.1 249.0h1.6v5.4h-1.6zM128.0 216.4h1.8v5.4h-1.8zM129.8 210.9h1.9v5.4h-1.9zM139.8 254.4h2.2v5.4h-2.2zM142.0 216.4h2.3v5.4h-2.3zM103.4 281.6h3.5v5.4h-3.5zM103.4 374.1h3.5v5.4h-3.5zM103.4 401.2h3.5v5.4h-3.5z"/>
<path fill="rgb(162,162,162)" d="M68.0 379.5h12.7v5.4h-12.7zM68.0 433.9h12.7v5.4h-12.7zM68.0 493.7h12.7v5.4h-12.7zM80.7 91.3h0.7v5.4h-0.7zM80.7 346.9h0.7v5.4h-0.7zM80.7 401.2h0.7v5.4h-0.7zM80.7 439.3h0.7v5.4h-0.7zM80.7 461.1h0.7v5.4h-0.7zM80.7 482.8h0.7v5.4h-0.7zM80.7 499.1h0.7v22.9h-0.7zM81.4 341.4h0.7v5.4h-0.7zM81.4 363.2h0.7v5.4h-0.7zM81.4 504.6h0.7v17.4h-0.7zM82.1 336.0h0.7v5.4h-0.7zM82.1 346.9h0.7v5.4h-0.7zM82.1 390.4h0.7v5.4h-0.7zM82.1 406.7h0.7v5.4h-0.7zM82.1 428.4h0.7v5.4h-0.7zM82.1 444.8h0.7v5.4h-0.7zM82.1 455.6h0.7v5.4h-0.7zM82.1 471.9h0.7v10.9h-0.7zM82.1 488.2h0.7v5.4h-0.7zM82.9 308.8h0.8v5.4h-0.8zM82.9 330.6h0.8v10.9h-0.8zM82.9 401.2h0.8v5.4h-0.8zM82.9 433.9h0.8v10.9h-0.8zM82.9 477.4h0.8v5.4h-0.8zM82.9 493.7h0.8v5.4h-0.8zM82.9 504.6h0.8v17.4h-0.8zM83.6 210.9h0.8v5.4h-0.8zM83.6 336.0h0.8v5.4h-0.8zM83.6 444.8h0.8v5.4h-0.8zM83.6 455.6h0.8v16.3h-0.8zM84.4 368.6h0.8v5.4h-0.8zM84.4 401.2h0.8v5.4h-0.8zM84.4 412.1h0.8v5.4h-0.8zM84.4 450.2h0.8v10.9h-0.8zM84.4 477.4h0.8v5.4h-0.8zM84.4 493.7h0.8v5.4h-0.8zM87.7 221.8h0.9v5.4h-0.9zM89.4 167.4h0.9v5.4h-0.9zM89.4 287.1h0.9v5.4h-0.9zM93.0 145.7h1.0v5.4h-1.0zM94.0 412.1h1.0v5.4h-1.0zM95.0 216.4h1.0v5.4h-1.0zM100.2 210.9h1.1v5.4h-1.1zM101.3 216.4h1.1v5.4h-1.1zM105.9 466.5h1.2v5.4h-1.2zM115.1 216.4h1.5v5.4h-1.5zM139.8 210.9h2.2v5.4h-2.2zM103.4 238.1h3.5v5.4h-3.5zM139.0 221.8h4.0v5.4h-4.0z"/>
<path fill="rgb(165,165,165)" d="M68.0 384.9h12.7v5.4h-12.7zM68.0 406.7h12.7v5.4h-12.7zM68.0 417.6h12.7v5.4h-12.7zM68.0 482.8h12.7v10.9h-12.7zM68.0 499.1h12.7v5.4h-12.7zM80.7 330.6h0.7v5.4h-0.7zM80.7 379.5h0.7v10.9h-0.7zM80.7 417.6h0.7v16.3h-0.7zM80.7 466.5h0.7v5.4h-0.7zM80.7 488.2h0.7v5.4h-0.7zM81.4 428.4h0.7v5.4h-0.7zM81.4 439.3h0.7v5.4h-0.7zM82.1 363.2h0.7v5.4h-0.7zM82.1 374.1h0.7v5.4h-0.7zM82.1 461.1h0.7v5.4h-0.7zM82.9 303.4h0.8v5.4h-0.8zM82.9 341.4h0.8v5.4h-0.8zM82.9 363.2h0.8v5.4h-0.8zM83.6 287.1h0.8v5.4h-0.8zM83.6 379.5h0.8v5.4h-0.8zM83.6 401.2h0.8v5.4h-0.8zM83.6 477.4h0.8v10.9h-0.8zM84.4 210.9h0.8v5.4h-0.8zM84.4 336.0h0.8v5.4h-0.8zM84.4 346.9h0.8v5.4h-0.8zM84.4 379.5h0.8v10.9h-0.8zM84.4 406.7h0.8v5.4h-0.8zM84.4 433.9h0.8v10.9h-0.8zM84.4 482.8h0.8v5.4h-0.8zM86.0 102.2h0.8v5.4h-0.8zM86.8 75.0h0.8v10.9h-0.8zM87.7 466.5h0.9v5.4h-0.9zM89.4 75.0h0.9v10.9h-0.9zM89.4 423.0h0.9v5.4h-0.9zM89.4 499.1h0.9v5.4h-0.9zM90.3 194.6h0.9v5.4h-0.9zM90.3 390.4h0.9v5.4h-0.9zM91.2 482.8h0.9v5.4h-0.9zM96.0 216.4h1.0v5.4h-1.0zM109.7 85.9h1.3v5.4h-1.3zM116.5 216.4h1.5v5.4h-1.5zM122.8 210.9h1.7v10.9h-1.7zM129.8 259.9h1.9v5.4h-1.9zM103.4 183.8h3.5v5.4h-3.5zM103.4 368.6h3.5v5.4h-3.5z"/>
<path fill="rgb(168,168,168)" d="M68.0 216.4h12.7v5.4h-12.7zM68.0 330.6h12.7v5.4h-12.7zM68.0 352.3h12.7v5.4h-12.7zM80.7 336.0h0.7v5.4h-0.7zM80.7 412.1h0.7v5.4h-0.7zM81.4 85.9h0.7v5.4h-0.7zM81.4 433.9h0.7v5.4h-0.7zM81.4 493.7h0.7v5.4h-0.7zM82.1 493.7h0.7v5.4h-0.7zM82.9 374.1h0.8v5.4h-0.8zM82.9 461.1h0.8v5.4h-0.8zM83.6 374.1h0.8v5.4h-0.8zM83.6 406.7h0.8v5.4h-0.8zM86.0 75.0h0.8v10.9h-0.8zM89.4 216.4h0.9v5.4h-0.9zM89.4 227.2h0.9v5.4h-0.9zM91.2 428.4h0.9v5.4h-0.9zM93.0 210.9h1.0v5.4h-1.0zM94.0 216.4h1.0v5.4h-1.0zM113.7 216.4h1.4v5.4h-1.4zM131.7 210.9h1.9v5.4h-1.9zM131.7 254.4h1.9v5.4h-1.9zM103.4 113.1h3.5v5.4h-3.5zM103.4 297.9h3.5v5.4h-3.5zM103.4 346.9h3.5v5.4h-3.5zM139.0 129.4h4.0v5.4h-4.0z"/>
<path fill="rgb(171,171,171)" d="M80.7 216.4h0.7v5.4h-0.7zM80.7 395.8h0.7v5.4h-0.7zM80.7 477.4h0.7v5.4h-0.7zM81.4 352.3h0.7v5.4h-0.7zM82.1 433.9h0.7v5.4h-0.7zM82.9 210.9h0.8v5.4h-0.8zM82.9 314.2h0.8v5.4h-0.8zM82.9 444.8h0.8v5.4h-0.8zM83.6 216.4h0.8v5.4h-0.8zM83.6 428.4h0.8v5.4h-0.8zM83.6 504.6h0.8v17.4h-0.8zM84.4 216.4h0.8v5.4h-0.8zM84.4 341.4h0.8v5.4h-0.8zM89.4 466.5h0.9v5.4h-0.9zM96.0 96.8h1.0v5.4h-1.0zM102.4 216.4h1.1v5.4h-1.1zM105.9 216.4h1.2v5.4h-1.2zM119.5 210.9h1.6v5.4h-1.6zM131.7 75.0h1.9v10.9h-1.9zM135.6 216.4h2.1v5.4h-2.1zM139.8 276.2h2.2v5.4h-2.2zM103.4 107.6h3.5v5.4h-3.5zM103.4 243.6h3.5v5.4h-3.5zM103.4 363.2h3.5v5.4h-3.5zM120.9 140.2h4.1v5.4h-4.1z"/>
<path fill="rgb(174,174,174)" d="M82.9 216.4h0.8v5.4h-0.8zM82.9 417.6h0.8v5.4h-0.8zM83.6 423.0h0.8v5.4h-0.8zM84.4 471.9h0.8v5.4h-0.8zM84.4 488.2h0.8v5.4h-0.8zM87.7 210.9h0.9v5.4h-0.9zM88.5 216.4h0.9v5.4h-0.9zM89.4 85.9h0.9v5.4h-0.9zM89.4 183.8h0.9v5.4h-0.9zM89.4 336.0h0.9v5.4h-0.9zM99.1 216.4h1.1v5.4h-1.1zM116.5 210.9h1.5v5.4h-1.5zM129.8 216.4h1.9v5.4h-1.9zM103.4 129.4h3.5v5.4h-3.5zM103.4 178.3h3.5v5.4h-3.5zM103.4 259.9h3.5v5.4h-3.5zM103.4 352.3h3.5v5.4h-3.5zM139.0 85.9h4.0v5.4h-4.0zM139.0 162.0h4.0v5.4h-4.0zM139.0 210.9h4.0v5.4h-4.0z"/>
<path fill="rgb(177,177,177)" d="M68.0 210.9h12.7v5.4h-12.7zM85.2 210.9h0.8v5.4h-0.8zM86.8 466.5h0.8v5.4h-0.8zM89.4 189.2h0.9v5.4h-0.9zM92.1 210.9h0.9v5.4h-0.9zM93.0 216.4h1.0v5.4h-1.0zM96.0 85.9h1.0v5.4h-1.0zM97.0 210.9h1.0v5.4h-1.0zM104.7 210.9h1.2v5.4h-1.2zM118.0 75.0h1.5v10.9h-1.5zM121.1 216.4h1.6v5.4h-1.6zM126.2 210.9h1.8v5.4h-1.8zM103.4 80.4h3.5v5.4h-3.5zM103.4 319.7h3.5v10.9h-3.5zM120.9 194.6h4.1v5.4h-4.1zM139.0 118.5h4.0v5.4h-4.0z"/>
<path fill="rgb(180,180,180)" d="M68.0 466.5h12.7v5.4h-12.7zM80.7 308.8h0.7v5.4h-0.7zM81.4 210.9h0.7v5.4h-0.7zM82.1 297.9h0.7v5.4h-0.7zM83.6 352.3h0.8v5.4h-0.8zM86.0 91.3h0.8v5.4h-0.8zM88.5 504.6h0.9v17.4h-0.9zM89.4 210.9h0.9v5.4h-0.9zM92.1 216.4h0.9v5.4h-0.9zM99.1 85.9h1.1v5.4h-1.1zM101.3 210.9h1.1v5.4h-1.1zM104.7 216.4h1.2v5.4h-1.2zM108.4 216.4h1.3v5.4h-1.3zM128.0 243.6h1.8v5.4h-1.8zM137.7 210.9h2.1v5.4h-2.1zM103.4 189.2h3.5v5.4h-3.5zM103.4 200.1h3.5v5.4h-3.5zM103.4 210.9h3.5v5.4h-3.5zM103.4 270.8h3.5v5.4h-3.5zM103.4 357.8h3.5v5.4h-3.5zM120.9 113.1h4.1v5.4h-4.1zM120.9 189.2h4.1v5.4h-4.1zM120.9 205.5h4.1v5.4h-4.1zM139.0 80.4h4.0v5.4h-4.0zM139.0 183.8h4.0v5.4h-4.0zM139.0 194.6h4.0v5.4h-4.0z"/>
<path fill="rgb(183,183,183)" d="M82.1 216.4h0.7v5.4h-0.7zM88.5 499.1h0.9v5.4h-0.9zM91.2 216.4h0.9v5.4h-0.9zM98.0 216.4h1.1v5.4h-1.1zM107.2 216.4h1.2v5.4h-1.2zM128.0 75.0h1.8v10.9h-1.8zM103.4 85.9h3.5v5.4h-3.5zM103.4 102.2h3.5v5.4h-3.5zM103.4 134.8h3.5v16.3h-3.5zM103.4 172.9h3.5v5.4h-3.5zM103.4 216.4h3.5v5.4h-3.5zM103.4 227.2h3.5v5.4h-3.5zM103.4 336.0h3.5v5.4h-3.5zM139.0 75.0h4.0v5.4h-4.0zM139.0 172.9h4.0v5.4h-4.0z"/>
<path fill="rgb(186,186,186)" d="M91.2 85.9h0.9v5.4h-0.9zM95.0 210.9h1.0v5.4h-1.0zM103.6 210.9h1.2v5.4h-1.2zM104.7 85.9h1.2v5.4h-1.2zM107.2 210.9h1.2v5.4h-1.2zM109.7 91.3h1.3v5.4h-1.3zM109.7 216.4h1.3v5.4h-1.3zM111.0 216.4h1.3v5.4h-1.3zM122.8 75.0h1.7v10.9h-1.7zM142.0 254.4h2.3v5.4h-2.3zM103.4 249.0h3.5v5.4h-3.5zM103.4 265.3h3.5v5.4h-3.5zM103.4 287.1h3.5v5.4h-3.5zM103.4 330.6h3.5v5.4h-3.5zM120.9 75.0h4.1v5.4h-4.1zM120.9 107.6h4.1v5.4h-4.1zM120.9 221.8h4.1v5.4h-4.1zM139.0 113.1h4.0v5.4h-4.0zM139.0 123.9h4.0v5.4h-4.0zM139.0 167.4h4.0v5.4h-4.0z"/>
<path fill="rgb(189,189,189)" d="M87.7 216.4h0.9v5.4h-0.9zM97.0 216.4h1.0v5.4h-1.0zM98.0 210.9h1.1v5.4h-1.1zM103.4 151.1h3.5v5.4h-3.5zM103.4 232.7h3.5v5.4h-3.5zM103.4 303.4h3.5v10.9h-3.5zM120.9 118.5h4.1v5.4h-4.1zM120.9 156.6h4.1v5.4h-4.1zM120.9 172.9h4.1v5.4h-4.1zM139.0 134.8h4.0v5.4h-4.0z"/>
<path fill="rgb(192,192,192)" d="M85.2 216.4h0.8v5.4h-0.8zM86.8 210.9h0.8v5.4h-0.8zM90.3 216.4h0.9v5.4h-0.9zM104.7 91.3h1.2v5.4h-1.2zM105.9 210.9h1.2v5.4h-1.2zM109.7 210.9h1.3v5.4h-1.3zM103.4 75.0h3.5v5.4h-3.5zM103.4 91.3h3.5v5.4h-3.5zM103.4 254.4h3.5v5.4h-3.5zM103.4 314.2h3.5v5.4h-3.5zM103.4 341.4h3.5v5.4h-3.5zM120.9 183.8h4.1v5.4h-4.1zM139.0 145.7h4.0v5.4h-4.0zM139.0 200.1h4.0v5.4h-4.0zM139.0 216.4h4.0v5.4h-4.0z"/>
<path fill="rgb(195,195,195)" d="M82.1 210.9h0.7v5.4h-0.7zM103.4 276.2h3.5v5.4h-3.5zM120.9 145.7h4.1v5.4h-4.1zM120.9 216.4h4.1v5.4h-4.1zM139.0 96.8h4.0v5.4h-4.0z"/>
<path fill="rgb(198,198,198)" d="M93.0 75.0h1.0v10.9h-1.0zM94.0 210.9h1.0v5.4h-1.0zM99.1 210.9h1.1v5.4h-1.1zM121.1 75.0h1.6v10.9h-1.6zM103.4 118.5h3.5v5.4h-3.5zM103.4 156.6h3.5v5.4h-3.5zM103.4 194.6h3.5v5.4h-3.5zM103.4 205.5h3.5v5.4h-3.5zM103.4 292.5h3.5v5.4h-3.5zM120.9 96.8h4.1v5.4h-4.1zM120.9 129.4h4.1v5.4h-4.1zM120.9 178.3h4.1v5.4h-4.1zM139.0 91.3h4.0v5.4h-4.0z"/>
<path fill="rgb(201,201,201)" d="M86.0 85.9h0.8v5.4h-0.8zM91.2 96.8h0.9v5.4h-0.9zM103.4 123.9h3.5v5.4h-3.5zM103.4 162.0h3.5v10.9h-3.5zM103.4 221.8h3.5v5.4h-3.5zM120.9 85.9h4.1v5.4h-4.1zM120.9 102.2h4.1v5.4h-4.1zM120.9 210.9h4.1v5.4h-4.1zM139.0 178.3h4.0v5.4h-4.0z"/>
<path fill="rgb(204,204,204)" d="M91.2 210.9h0.9v5.4h-0.9zM95.0 75.0h1.0v10.9h-1.0zM111.0 210.9h1.3v5.4h-1.3zM139.8 259.9h2.2v5.4h-2.2zM120.9 80.4h4.1v5.4h-4.1zM120.9 134.8h4.1v5.4h-4.1zM120.9 200.1h4.1v5.4h-4.1zM139.0 156.6h4.0v5.4h-4.0zM139.0 189.2h4.0v5.4h-4.0z"/>
<path fill="rgb(207,207,207)" d="M120.9 91.3h4.1v5.4h-4.1zM120.9 151.1h4.1v5.4h-4.1zM120.9 167.4h4.1v5.4h-4.1z"/>
<path fill="rgb(210,210,210)" d="M88.5 210.9h0.9v5.4h-0.9zM120.9 123.9h4.1v5.4h-4.1zM120.9 162.0h4.1v5.4h-4.1z"/>
<path fill="rgb(213,213,213)" d="M80.7 75.0h0.7v10.9h-0.7zM139.0 140.2h4.0v5.4h-4.0zM139.0 205.5h4.0v5.4h-4.0z"/>
<path fill="rgb(216,216,216)" d="M86.0 200.1h0.8v5.4h-0.8zM86.0 91.3h2.8v5.4h-2.8zM86.0 123.9h2.8v5.4h-2.8zM103.4 96.8h3.5v5.4h-3.5zM139.0 151.1h4.0v5.4h-4.0z"/>
<path fill="rgb(219,219,219)" d="M86.0 368.6h2.8v5.4h-2.8zM86.0 390.4h2.8v5.4h-2.8zM86.0 439.3h2.8v5.4h-2.8zM86.0 504.6h2.8v17.4h-2.8z"/>
<path fill="rgb(222,222,222)" d="M86.0 162.0h2.8v5.4h-2.8zM86.0 210.9h2.8v5.4h-2.8zM86.0 346.9h2.8v5.4h-2.8zM86.0 482.8h2.8v5.4h-2.8z"/>
<path fill="rgb(225,225,225)" d="M86.0 172.9h2.8v5.4h-2.8zM86.0 200.1h2.8v5.4h-2.8zM86.0 216.4h2.8v5.4h-2.8zM86.0 238.1h2.8v5.4h-2.8zM86.0 303.4h2.8v5.4h-2.8zM86.0 319.7h2.8v5.4h-2.8zM86.0 341.4h2.8v5.4h-2.8zM86.0 401.2h2.8v5.4h-2.8zM86.0 466.5h2.8v10.9h-2.8zM86.0 493.7h2.8v5.4h-2.8z"/>
<path fill="rgb(228,228,228)" d="M88.5 102.2h0.9v5.4h-0.9zM86.0 80.4h2.8v5.4h-2.8zM86.0 102.2h2.8v10.9h-2.8zM86.0 118.5h2.8v5.4h-2.8zM86.0 129.4h2.8v10.9h-2.8zM86.0 151.1h2.8v10.9h-2.8zM86.0 243.6h2.8v5.4h-2.8zM86.0 265.3h2.8v10.9h-2.8zM86.0 281.6h2.8v21.8h-2.8zM86.0 308.8h2.8v5.4h-2.8zM86.0 330.6h2.8v5.4h-2.8zM86.0 357.8h2.8v10.9h-2.8zM86.0 379.5h2.8v10.9h-2.8zM86.0 406.7h2.8v5.4h-2.8zM86.0 488.2h2.8v5.4h-2.8z"/>
<path fill="rgb(231,231,231)" d="M81.4 216.4h0.7v5.4h-0.7zM86.0 75.0h2.8v5.4h-2.8zM86.0 113.1h2.8v5.4h-2.8zM86.0 140.2h2.8v10.9h-2.8zM86.0 183.8h2.8v5.4h-2.8zM86.0 194.6h2.8v5.4h-2.8zM86.0 227.2h2.8v10.9h-2.8zM86.0 254.4h2.8v5.4h-2.8zM86.0 325.1h2.8v5.4h-2.8zM86.0 336.0h2.8v5.4h-2.8zM86.0 374.1h2.8v5.4h-2.8zM86.0 423.0h2.8v5.4h-2.8zM86.0 444.8h2.8v5.4h-2.8zM86.0 461.1h2.8v5.4h-2.8zM86.0 477.4h2.8v5.4h-2.8z"/>
<path fill="rgb(234,234,234)" d="M86.0 85.9h2.8v5.4h-2.8zM86.0 178.3h2.8v5.4h-2.8zM86.0 259.9h2.8v5.4h-2.8zM86.0 314.2h2.8v5.4h-2.8zM86.0 352.3h2.8v5.4h-2.8zM86.0 395.8h2.8v5.4h-2.8zM86.0 455.6h2.8v5.4h-2.8zM86.0 499.1h2.8v5.4h-2.8z"/>
<path fill="rgb(237,237,237)" d="M86.0 96.8h2.8v5.4h-2.8zM86.0 167.4h2.8v5.4h-2.8zM86.0 205.5h2.8v5.4h-2.8zM86.0 249.0h2.8v5.4h-2.8zM86.0 412.1h2.8v10.9h-2.8zM86.0 428.4h2.8v10.9h-2.8zM86.0 450.2h2.8v5.4h-2.8z"/>
<path fill="rgb(240,240,240)" d="M86.0 189.2h2.8v5.4h-2.8zM86.0 221.8h2.8v5.4h-2.8zM86.0 276.2h2.8v5.4h-2.8z"/>
</g>
<g clip-path="url(#c1)" filter="url(#f1)">
<path fill="rgb(27,27,27)" d="M133.6 194.6h2.0v5.4h-2.0zM133.6 243.6h2.0v5.4h-2.0zM133.6 270.8h2.0v5.4h-2.0zM135.6 183.8h2.1v5.4h-2.1zM135.6 194.6h2.1v5.4h-2.1zM137.7 145.7h2.1v5.4h-2.1zM137.7 189.2h2.1v5.4h-2.1zM137.7 412.1h2.1v5.4h-2.1zM139.8 91.3h2.2v5.4h-2.2zM139.8 249.0h2.2v5.4h-2.2zM139.8 450.2h2.2v5.4h-2.2zM142.0 178.3h2.3v5.4h-2.3zM142.0 205.5h2.3v5.4h-2.3zM142.0 292.5h2.3v5.4h-2.3zM144.3 292.5h2.3v5.4h-2.3zM144.3 412.1h2.3v5.4h-2.3zM146.6 162.0h2.4v5.4h-2.4zM146.6 172.9h2.4v5.4h-2.4zM146.6 243.6h2.4v5.4h-2.4zM146.6 281.6h2.4v5.4h-2.4zM146.6 374.1h2.4v5.4h-2.4zM146.6 433.9h2.4v5.4h-2.4zM151.4 113.1h2.5v5.4h-2.5zM151.4 221.8h2.5v5.4h-2.5zM154.0 102.2h2.6v5.4h-2.6zM154.0 167.4h2.6v5.4h-2.6zM154.0 297.9h2.6v5.4h-2.6zM154.0 433.9h2.6v5.4h-2.6zM156.6 167.4h2.7v5.4h-2.7zM156.6 189.2h2.7v5.4h-2.7zM156.6 221.8h2.7v5.4h-2.7zM156.6 232.7h2.7v10.9h-2.7zM156.6 281.6h2.7v5.4h-2.7zM156.6 314.2h2.7v5.4h-2.7zM162.1 488.2h2.9v5.4h-2.9zM164.9 314.2h2.9v5.4h-2.9zM167.8 123.9h3.0v5.4h-3.0zM170.9 113.1h3.2v5.4h-3.2zM174.0 140.2h3.3v5.4h-3.3zM177.3 107.6h3.4v5.4h-3.4zM180.7 162.0h3.5v5.4h-3.5zM180.7 221.8h3.5v5.4h-3.5zM184.3 140.2h3.7v5.4h-3.7zM184.3 227.2h3.7v5.4h-3.7zM184.3 254.4h3.7v5.4h-3.7zM188.0 123.9h3.8v5.4h-3.8zM188.0 482.8h3.8v5.4h-3.8zM191.8 140.2h4.0v5.4h-4.0zM191.8 162.0h4.0v5.4h-4.0zM191.8 194.6h4.0v5.4h-4.0zM191.8 374.1h4.0v5.4h-4.0zM199.9 162.0h4.3v5.4h-4.3zM199.9 423.0h4.3v5.4h-4.3zM199.9 504.6h4.3v17.4h-4.3zM204.2 140.2h4.5v5.4h-4.5zM204.2 276.2h4.5v5.4h-4.5zM204.2 308.8h4.5v5.4h-4.5zM204.2 346.9h4.5v5.4h-4.5zM208.7 363.2h4.7v5.4h-4.7zM208.7 471.9h4.7v5.4h-4.7zM208.7 493.7h4.7v5.4h-4.7zM213.3 162.0h4.8v5.4h-4.8zM213.3 183.8h4.8v5.4h-4.8zM213.3 368.6h4.8v5.4h-4.8zM213.3 471.9h4.8v5.4h-4.8zM213.3 493.7h4.8v5.4h-4.8zM218.2 254.4h5.0v5.4h-5.0zM218.2 265.3h5.0v5.4h-5.0zM218.2 395.8h5.0v5.4h-5.0zM218.2 450.2h5.0v5.4h-5.0zM218.2 471.9h5.0v5.4h-5.0zM223.2 118.5h5.2v5.4h-5.2zM223.2 156.6h5.2v5.4h-5.2zM223.2 238.1h5.2v5.4h-5.2zM223.2 281.6h5.2v5.4h-5.2zM223.2 319.7h5.2v5.4h-5.2zM223.2 461.1h5.2v5.4h-5.2zM228.4 118.5h5.4v5.4h-5.4zM228.4 167.4h5.4v5.4h-5.4zM228.4 308.8h5.4v5.4h-5.4zM228.4 319.7h5.4v5.4h-5.4zM228.4 346.9h5.4v10.9h-5.4zM228.4 433.9h5.4v10.9h-5.4zM228.4 471.9h5.4v5.4h-5.4zM233.9 216.4h5.7v5.4h-5.7zM233.9 292.5h5.7v5.4h-5.7zM233.9 346.9h5.7v5.4h-5.7zM233.9 444.8h5.7v5.4h-5.7zM233.9 477.4h5.7v5.4h-5.7z"/>
<path fill="rgb(30,30,30)" d="M133.6 113.1h2.0v5.4h-2.0zM135.6 499.1h2.1v5.4h-2.1zM137.7 178.3h2.1v5.4h-2.1zM139.8 107.6h2.2v5.4h-2.2zM144.3 151.1h2.3v5.4h-2.3zM149.0 96.8h2.5v5.4h-2.5zM151.4 151.1h2.5v5.4h-2.5zM154.0 156.6h2.6v5.4h-2.6zM162.1 346.9h2.9v5.4h-2.9zM162.1 401.2h2.9v5.4h-2.9zM167.8 292.5h3.0v5.4h-3.0zM177.3 314.2h3.4v5.4h-3.4zM184.3 123.9h3.7v5.4h-3.7zM188.0 314.2h3.8v5.4h-3.8zM188.0 374.1h3.8v5.4h-3.8zM191.8 259.9h4.0v5.4h-4.0zM199.9 466.5h4.3v5.4h-4.3zM204.2 227.2h4.5v5.4h-4.5zM204.2 336.0h4.5v5.4h-4.5zM208.7 314.2h4.7v5.4h-4.7zM208.7 374.1h4.7v5.4h-4.7zM213.3 194.6h4.8v5.4h-4.8zM218.2 401.2h5.0v5.4h-5.0zM223.2 287.1h5.2v5.4h-5.2zM223.2 455.6h5.2v5.4h-5.2zM223.2 499.1h5.2v5.4h-5.2zM228.4 162.0h5.4v5.4h-5.4zM228.4 450.2h5.4v5.4h-5.4z"/>
<path fill="rgb(33,33,33)" d="M133.6 325.1h2.0v5.4h-2.0zM133.6 471.9h2.0v5.4h-2.0zM135.6 259.9h2.1v5.4h-2.1zM135.6 461.1h2.1v5.4h-2.1zM137.7 330.6h2.1v5.4h-2.1zM139.8 102.2h2.2v5.4h-2.2zM142.0 91.3h2.3v5.4h-2.3zM144.3 439.3h2.3v5.4h-2.3zM151.4 254.4h2.5v5.4h-2.5zM156.6 444.8h2.7v5.4h-2.7zM156.6 493.7h2.7v5.4h-2.7zM164.9 368.6h2.9v5.4h-2.9zM167.8 384.9h3.0v5.4h-3.0zM177.3 352.3h3.4v5.4h-3.4zM191.8 265.3h4.0v5.4h-4.0zM199.9 145.7h4.3v5.4h-4.3zM204.2 319.7h4.5v10.9h-4.5zM204.2 412.1h4.5v5.4h-4.5zM208.7 325.1h4.7v5.4h-4.7zM213.3 232.7h4.8v5.4h-4.8zM213.3 330.6h4.8v5.4h-4.8zM218.2 276.2h5.0v5.4h-5.0zM218.2 330.6h5.0v5.4h-5.0zM218.2 384.9h5.0v5.4h-5.0zM223.2 406.7h5.2v5.4h-5.2z"/>
<path fill="rgb(36,36,36)" d="M137.7 477.4h2.1v5.4h-2.1zM151.4 200.1h2.5v5.4h-2.5zM154.0 379.5h2.6v5.4h-2.6zM154.0 450.2h2.6v5.4h-2.6zM154.0 488.2h2.6v5.4h-2.6zM156.6 455.6h2.7v5.4h-2.7zM162.1 172.9h2.9v5.4h-2.9zM164.9 346.9h2.9v5.4h-2.9zM167.8 129.4h3.0v5.4h-3.0zM170.9 189.2h3.2v5.4h-3.2zM170.9 341.4h3.2v5.4h-3.2zM199.9 297.9h4.3v5.4h-4.3zM199.9 341.4h4.3v5.4h-4.3zM199.9 374.1h4.3v5.4h-4.3zM199.9 401.2h4.3v5.4h-4.3zM199.9 499.1h4.3v5.4h-4.3zM204.2 352.3h4.5v5.4h-4.5zM208.7 134.8h4.7v5.4h-4.7zM208.7 232.7h4.7v5.4h-4.7zM208.7 352.3h4.7v5.4h-4.7zM213.3 134.8h4.8v5.4h-4.8zM218.2 319.7h5.0v5.4h-5.0zM223.2 205.5h5.2v5.4h-5.2zM223.2 341.4h5.2v5.4h-5.2zM223.2 417.6h5.2v5.4h-5.2zM228.4 395.8h5.4v5.4h-5.4zM233.9 325.1h5.7v5.4h-5.7z"/>
<path fill="rgb(39,39,39)" d="M135.6 167.4h2.1v5.4h-2.1zM137.7 113.1h2.1v5.4h-2.1zM139.8 488.2h2.2v5.4h-2.2zM149.0 129.4h2.5v5.4h-2.5zM151.4 444.8h2.5v5.4h-2.5zM154.0 183.8h2.6v5.4h-2.6zM156.6 466.5h2.7v5.4h-2.7zM170.9 96.8h3.2v5.4h-3.2zM170.9 265.3h3.2v5.4h-3.2zM177.3 482.8h3.4v5.4h-3.4zM180.7 156.6h3.5v5.4h-3.5zM184.3 374.1h3.7v5.4h-3.7zM188.0 423.0h3.8v5.4h-3.8zM199.9 444.8h4.3v5.4h-4.3zM204.2 488.2h4.5v5.4h-4.5zM208.7 189.2h4.7v5.4h-4.7zM208.7 401.2h4.7v5.4h-4.7zM223.2 134.8h5.2v5.4h-5.2zM223.2 308.8h5.2v5.4h-5.2z"/>
<path fill="rgb(42,42,42)" d="M133.6 439.3h2.0v5.4h-2.0zM135.6 178.3h2.1v5.4h-2.1zM137.7 395.8h2.1v5.4h-2.1zM139.8 374.1h2.2v5.4h-2.2zM142.0 232.7h2.3v5.4h-2.3zM142.0 259.9h2.3v5.4h-2.3zM142.0 319.7h2.3v5.4h-2.3zM149.0 363.2h2.5v5.4h-2.5zM149.0 444.8h2.5v5.4h-2.5zM151.4 276.2h2.5v5.4h-2.5zM151.4 297.9h2.5v5.4h-2.5zM162.1 395.8h2.9v5.4h-2.9zM170.9 330.6h3.2v5.4h-3.2zM174.0 270.8h3.3v5.4h-3.3zM174.0 482.8h3.3v5.4h-3.3zM177.3 145.7h3.4v5.4h-3.4zM188.0 102.2h3.8v5.4h-3.8zM188.0 189.2h3.8v5.4h-3.8zM191.8 134.8h4.0v5.4h-4.0zM191.8 428.4h4.0v5.4h-4.0zM199.9 243.6h4.3v5.4h-4.3zM204.2 390.4h4.5v5.4h-4.5zM208.7 172.9h4.7v5.4h-4.7zM208.7 379.5h4.7v5.4h-4.7zM208.7 423.0h4.7v5.4h-4.7zM213.3 287.1h4.8v5.4h-4.8zM213.3 384.9h4.8v5.4h-4.8zM218.2 297.9h5.0v5.4h-5.0zM218.2 423.0h5.0v5.4h-5.0zM223.2 471.9h5.2v5.4h-5.2zM228.4 129.4h5.4v5.4h-5.4zM228.4 330.6h5.4v5.4h-5.4z"/>
<path fill="rgb(45,45,45)" d="M135.6 96.8h2.1v5.4h-2.1zM135.6 406.7h2.1v5.4h-2.1zM139.8 162.0h2.2v5.4h-2.2zM139.8 243.6h2.2v5.4h-2.2zM139.8 336.0h2.2v10.9h-2.2zM142.0 401.2h2.3v5.4h-2.3zM144.3 238.1h2.3v5.4h-2.3zM146.6 205.5h2.4v5.4h-2.4zM146.6 249.0h2.4v5.4h-2.4zM149.0 118.5h2.5v5.4h-2.5zM151.4 140.2h2.5v5.4h-2.5zM154.0 200.1h2.6v5.4h-2.6zM156.6 118.5h2.7v5.4h-2.7zM156.6 433.9h2.7v5.4h-2.7zM156.6 461.1h2.7v5.4h-2.7zM159.3 243.6h2.8v5.4h-2.8zM162.1 156.6h2.9v10.9h-2.9zM162.1 325.1h2.9v5.4h-2.9zM167.8 91.3h3.0v5.4h-3.0zM174.0 167.4h3.3v5.4h-3.3zM177.3 96.8h3.4v5.4h-3.4zM184.3 172.9h3.7v5.4h-3.7zM184.3 482.8h3.7v5.4h-3.7zM188.0 466.5h3.8v5.4h-3.8zM199.9 477.4h4.3v5.4h-4.3zM204.2 238.1h4.5v5.4h-4.5zM204.2 303.4h4.5v5.4h-4.5zM208.7 129.4h4.7v5.4h-4.7zM208.7 259.9h4.7v5.4h-4.7zM208.7 395.8h4.7v5.4h-4.7zM208.7 444.8h4.7v5.4h-4.7zM208.7 482.8h4.7v5.4h-4.7zM213.3 341.4h4.8v5.4h-4.8zM213.3 444.8h4.8v5.4h-4.8zM213.3 466.5h4.8v5.4h-4.8zM218.2 189.2h5.0v5.4h-5.0zM218.2 227.2h5.0v5.4h-5.0zM218.2 341.4h5.0v5.4h-5.0zM218.2 444.8h5.0v5.4h-5.0zM218.2 455.6h5.0v5.4h-5.0zM223.2 151.1h5.2v5.4h-5.2zM223.2 172.9h5.2v5.4h-5.2zM223.2 189.2h5.2v5.4h-5.2zM223.2 346.9h5.2v5.4h-5.2zM228.4 406.7h5.4v5.4h-5.4zM233.9 401.2h5.7v10.9h-5.7zM233.9 471.9h5.7v5.4h-5.7z"/>
<path fill="rgb(48,48,48)" d="M133.6 249.0h2.0v5.4h-2.0zM137.7 368.6h2.1v5.4h-2.1zM137.7 444.8h2.1v5.4h-2.1zM139.8 189.2h2.2v5.4h-2.2zM144.3 374.1h2.3v5.4h-2.3zM144.3 455.6h2.3v5.4h-2.3zM146.6 499.1h2.4v5.4h-2.4zM149.0 227.2h2.5v5.4h-2.5zM151.4 167.4h2.5v5.4h-2.5zM151.4 412.1h2.5v5.4h-2.5zM154.0 118.5h2.6v5.4h-2.6zM154.0 325.1h2.6v5.4h-2.6zM154.0 493.7h2.6v5.4h-2.6zM156.6 276.2h2.7v5.4h-2.7zM156.6 428.4h2.7v5.4h-2.7zM156.6 477.4h2.7v5.4h-2.7zM164.9 178.3h2.9v5.4h-2.9zM164.9 287.1h2.9v5.4h-2.9zM164.9 428.4h2.9v5.4h-2.9zM167.8 134.8h3.0v5.4h-3.0zM199.9 140.2h4.3v5.4h-4.3zM199.9 303.4h4.3v5.4h-4.3zM199.9 471.9h4.3v5.4h-4.3zM204.2 232.7h4.5v5.4h-4.5zM208.7 200.1h4.7v5.4h-4.7zM208.7 265.3h4.7v5.4h-4.7zM208.7 297.9h4.7v5.4h-4.7zM208.7 488.2h4.7v5.4h-4.7zM223.2 167.4h5.2v5.4h-5.2zM223.2 178.3h5.2v5.4h-5.2zM223.2 401.2h5.2v5.4h-5.2zM223.2 439.3h5.2v5.4h-5.2zM228.4 221.8h5.4v5.4h-5.4zM228.4 336.0h5.4v5.4h-5.4zM228.4 466.5h5.4v5.4h-5.4zM228.4 488.2h5.4v5.4h-5.4zM233.9 450.2h5.7v5.4h-5.7zM233.9 504.6h5.7v17.4h-5.7z"/>
<path fill="rgb(51,51,51)" d="M133.6 330.6h2.0v5.4h-2.0zM133.6 395.8h2.0v5.4h-2.0zM133.6 482.8h2.0v5.4h-2.0zM135.6 292.5h2.1v5.4h-2.1zM137.7 118.5h2.1v5.4h-2.1zM137.7 151.1h2.1v5.4h-2.1zM139.8 118.5h2.2v5.4h-2.2zM139.8 129.4h2.2v5.4h-2.2zM139.8 183.8h2.2v5.4h-2.2zM142.0 151.1h2.3v5.4h-2.3zM144.3 172.9h2.3v5.4h-2.3zM144.3 493.7h2.3v5.4h-2.3zM146.6 488.2h2.4v5.4h-2.4zM149.0 390.4h2.5v5.4h-2.5zM149.0 450.2h2.5v10.9h-2.5zM151.4 401.2h2.5v5.4h-2.5zM154.0 308.8h2.6v5.4h-2.6zM154.0 406.7h2.6v5.4h-2.6zM156.6 243.6h2.7v5.4h-2.7zM156.6 379.5h2.7v5.4h-2.7zM156.6 412.1h2.7v5.4h-2.7zM156.6 504.6h2.7v17.4h-2.7zM159.3 363.2h2.8v5.4h-2.8zM164.9 477.4h2.9v5.4h-2.9zM167.8 167.4h3.0v5.4h-3.0zM174.0 194.6h3.3v5.4h-3.3zM174.0 297.9h3.3v5.4h-3.3zM177.3 325.1h3.4v5.4h-3.4zM177.3 374.1h3.4v5.4h-3.4zM180.7 265.3h3.5v5.4h-3.5zM184.3 259.9h3.7v5.4h-3.7zM191.8 319.7h4.0v10.9h-4.0zM191.8 493.7h4.0v5.4h-4.0zM199.9 265.3h4.3v5.4h-4.3zM199.9 379.5h4.3v5.4h-4.3zM199.9 406.7h4.3v5.4h-4.3zM199.9 439.3h4.3v5.4h-4.3zM204.2 243.6h4.5v5.4h-4.5zM204.2 384.9h4.5v5.4h-4.5zM208.7 276.2h4.7v5.4h-4.7zM208.7 341.4h4.7v5.4h-4.7zM208.7 368.6h4.7v5.4h-4.7zM208.7 412.1h4.7v5.4h-4.7zM213.3 254.4h4.8v5.4h-4.8zM213.3 374.1h4.8v5.4h-4.8zM218.2 123.9h5.0v5.4h-5.0zM218.2 162.0h5.0v5.4h-5.0zM218.2 249.0h5.0v5.4h-5.0zM223.2 363.2h5.2v5.4h-5.2zM223.2 412.1h5.2v5.4h-5.2zM228.4 390.4h5.4v5.4h-5.4zM228.4 482.8h5.4v5.4h-5.4zM233.9 221.8h5.7v5.4h-5.7zM233.9 238.1h5.7v5.4h-5.7zM233.9 276.2h5.7v5.4h-5.7zM233.9 287.1h5.7v5.4h-5.7zM233.9 461.1h5.7v5.4h-5.7z"/>
<path fill="rgb(54,54,54)" d="M133.6 433.9h2.0v5.4h-2.0zM135.6 249.0h2.1v5.4h-2.1zM135.6 330.6h2.1v5.4h-2.1zM142.0 428.4h2.3v5.4h-2.3zM144.3 390.4h2.3v5.4h-2.3zM146.6 156.6h2.4v5.4h-2.4zM146.6 384.9h2.4v5.4h-2.4zM154.0 444.8h2.6v5.4h-2.6zM156.6 297.9h2.7v5.4h-2.7zM156.6 330.6h2.7v5.4h-2.7zM159.3 123.9h2.8v5.4h-2.8zM159.3 162.0h2.8v5.4h-2.8zM170.9 433.9h3.2v5.4h-3.2zM174.0 113.1h3.3v5.4h-3.3zM174.0 129.4h3.3v5.4h-3.3zM177.3 167.4h3.4v5.4h-3.4zM180.7 341.4h3.5v5.4h-3.5zM188.0 439.3h3.8v5.4h-3.8zM204.2 200.1h4.5v5.4h-4.5zM204.2 444.8h4.5v5.4h-4.5zM208.7 118.5h4.7v5.4h-4.7zM208.7 227.2h4.7v5.4h-4.7zM208.7 308.8h4.7v5.4h-4.7zM208.7 504.6h4.7v17.4h-4.7zM213.3 178.3h4.8v5.4h-4.8zM213.3 221.8h4.8v5.4h-4.8zM213.3 249.0h4.8v5.4h-4.8zM213.3 281.6h4.8v5.4h-4.8zM213.3 319.7h4.8v5.4h-4.8zM218.2 314.2h5.0v5.4h-5.0zM218.2 406.7h5.0v5.4h-5.0zM223.2 330.6h5.2v5.4h-5.2zM223.2 488.2h5.2v5.4h-5.2zM228.4 368.6h5.4v5.4h-5.4zM228.4 401.2h5.4v5.4h-5.4zM233.9 232.7h5.7v5.4h-5.7zM233.9 243.6h5.7v5.4h-5.7zM233.9 466.5h5.7v5.4h-5.7z"/>
<path fill="rgb(57,57,57)" d="M133.6 488.2h2.0v5.4h-2.0zM135.6 401.2h2.1v5.4h-2.1zM135.6 439.3h2.1v5.4h-2.1zM139.8 221.8h2.2v5.4h-2.2zM139.8 308.8h2.2v5.4h-2.2zM142.0 466.5h2.3v5.4h-2.3zM144.3 113.1h2.3v10.9h-2.3zM144.3 330.6h2.3v10.9h-2.3zM144.3 417.6h2.3v5.4h-2.3zM146.6 85.9h2.4v5.4h-2.4zM149.0 162.0h2.5v5.4h-2.5zM154.0 96.8h2.6v5.4h-2.6zM154.0 455.6h2.6v5.4h-2.6zM156.6 123.9h2.7v5.4h-2.7zM156.6 303.4h2.7v5.4h-2.7zM162.1 129.4h2.9v5.4h-2.9zM164.9 145.7h2.9v5.4h-2.9zM167.8 417.6h3.0v5.4h-3.0zM177.3 417.6h3.4v5.4h-3.4zM188.0 194.6h3.8v5.4h-3.8zM199.9 270.8h4.3v5.4h-4.3zM199.9 357.8h4.3v5.4h-4.3zM199.9 368.6h4.3v5.4h-4.3zM199.9 395.8h4.3v5.4h-4.3zM204.2 297.9h4.5v5.4h-4.5zM204.2 314.2h4.5v5.4h-4.5zM204.2 439.3h4.5v5.4h-4.5zM204.2 493.7h4.5v5.4h-4.5zM208.7 238.1h4.7v5.4h-4.7zM208.7 466.5h4.7v5.4h-4.7zM213.3 167.4h4.8v5.4h-4.8zM213.3 189.2h4.8v5.4h-4.8zM213.3 336.0h4.8v5.4h-4.8zM213.3 461.1h4.8v5.4h-4.8zM218.2 303.4h5.0v5.4h-5.0zM218.2 363.2h5.0v5.4h-5.0zM218.2 417.6h5.0v5.4h-5.0zM223.2 145.7h5.2v5.4h-5.2zM223.2 384.9h5.2v5.4h-5.2zM228.4 178.3h5.4v5.4h-5.4zM233.9 281.6h5.7v5.4h-5.7zM233.9 297.9h5.7v5.4h-5.7z"/>
<path fill="rgb(60,60,60)" d="M133.6 123.9h2.0v5.4h-2.0zM133.6 336.0h2.0v5.4h-2.0zM133.6 444.8h2.0v5.4h-2.0zM135.6 297.9h2.1v5.4h-2.1zM135.6 482.8h2.1v10.9h-2.1zM137.7 129.4h2.1v5.4h-2.1zM137.7 140.2h2.1v5.4h-2.1zM137.7 428.4h2.1v5.4h-2.1zM139.8 85.9h2.2v5.4h-2.2zM142.0 194.6h2.3v5.4h-2.3zM142.0 395.8h2.3v5.4h-2.3zM142.0 455.6h2.3v5.4h-2.3zM144.3 232.7h2.3v5.4h-2.3zM146.6 314.2h2.4v5.4h-2.4zM149.0 123.9h2.5v5.4h-2.5zM151.4 336.0h2.5v5.4h-2.5zM154.0 423.0h2.6v5.4h-2.6zM154.0 482.8h2.6v5.4h-2.6zM156.6 200.1h2.7v5.4h-2.7zM162.1 113.1h2.9v5.4h-2.9zM164.9 205.5h2.9v5.4h-2.9zM164.9 249.0h2.9v5.4h-2.9zM164.9 265.3h2.9v5.4h-2.9zM164.9 504.6h2.9v17.4h-2.9zM167.8 162.0h3.0v5.4h-3.0zM167.8 189.2h3.0v5.4h-3.0zM167.8 401.2h3.0v5.4h-3.0zM170.9 292.5h3.2v5.4h-3.2zM170.9 390.4h3.2v5.4h-3.2zM174.0 123.9h3.3v5.4h-3.3zM177.3 412.1h3.4v5.4h-3.4zM180.7 243.6h3.5v5.4h-3.5zM184.3 330.6h3.7v5.4h-3.7zM188.0 249.0h3.8v5.4h-3.8zM188.0 319.7h3.8v5.4h-3.8zM191.8 107.6h4.0v10.9h-4.0zM191.8 276.2h4.0v5.4h-4.0zM199.9 363.2h4.3v5.4h-4.3zM199.9 461.1h4.3v5.4h-4.3zM204.2 504.6h4.5v17.4h-4.5zM213.3 243.6h4.8v5.4h-4.8zM213.3 325.1h4.8v5.4h-4.8zM218.2 151.1h5.0v5.4h-5.0zM218.2 200.1h5.0v5.4h-5.0zM218.2 374.1h5.0v10.9h-5.0zM218.2 482.8h5.0v5.4h-5.0zM223.2 129.4h5.2v5.4h-5.2zM223.2 232.7h5.2v5.4h-5.2zM223.2 390.4h5.2v5.4h-5.2zM223.2 450.2h5.2v5.4h-5.2zM228.4 243.6h5.4v5.4h-5.4zM228.4 477.4h5.4v5.4h-5.4zM233.9 319.7h5.7v5.4h-5.7zM233.9 341.4h5.7v5.4h-5.7zM233.9 384.9h5.7v5.4h-5.7zM233.9 428.4h5.7v5.4h-5.7z"/>
<path fill="rgb(63,63,63)" d="M133.6 450.2h2.0v5.4h-2.0zM137.7 287.1h2.1v5.4h-2.1zM139.8 423.0h2.2v5.4h-2.2zM144.3 368.6h2.3v5.4h-2.3zM144.3 384.9h2.3v5.4h-2.3zM151.4 390.4h2.5v5.4h-2.5zM151.4 455.6h2.5v5.4h-2.5zM154.0 178.3h2.6v5.4h-2.6zM154.0 303.4h2.6v5.4h-2.6zM154.0 352.3h2.6v5.4h-2.6zM156.6 129.4h2.7v5.4h-2.7zM156.6 140.2h2.7v5.4h-2.7zM156.6 352.3h2.7v5.4h-2.7zM159.3 249.0h2.8v5.4h-2.8zM162.1 384.9h2.9v5.4h-2.9zM164.9 390.4h2.9v5.4h-2.9zM167.8 303.4h3.0v5.4h-3.0zM170.9 145.7h3.2v5.4h-3.2zM170.9 297.9h3.2v5.4h-3.2zM174.0 156.6h3.3v5.4h-3.3zM174.0 178.3h3.3v5.4h-3.3zM180.7 287.1h3.5v5.4h-3.5zM180.7 314.2h3.5v5.4h-3.5zM180.7 379.5h3.5v5.4h-3.5zM191.8 96.8h4.0v5.4h-4.0zM191.8 118.5h4.0v5.4h-4.0zM191.8 444.8h4.0v5.4h-4.0zM199.9 221.8h4.3v5.4h-4.3zM199.9 482.8h4.3v5.4h-4.3zM204.2 107.6h4.5v5.4h-4.5zM204.2 270.8h4.5v5.4h-4.5zM204.2 330.6h4.5v5.4h-4.5zM208.7 194.6h4.7v5.4h-4.7zM208.7 249.0h4.7v5.4h-4.7zM208.7 281.6h4.7v5.4h-4.7zM208.7 330.6h4.7v5.4h-4.7zM208.7 357.8h4.7v5.4h-4.7zM213.3 102.2h4.8v5.4h-4.8zM213.3 227.2h4.8v5.4h-4.8zM213.3 238.1h4.8v5.4h-4.8zM213.3 297.9h4.8v5.4h-4.8zM213.3 417.6h4.8v5.4h-4.8zM213.3 433.9h4.8v5.4h-4.8zM213.3 455.6h4.8v5.4h-4.8zM213.3 477.4h4.8v5.4h-4.8zM213.3 488.2h4.8v5.4h-4.8zM218.2 167.4h5.0v5.4h-5.0zM218.2 210.9h5.0v5.4h-5.0zM223.2 102.2h5.2v5.4h-5.2zM228.4 281.6h5.4v5.4h-5.4zM228.4 461.1h5.4v5.4h-5.4zM233.9 140.2h5.7v5.4h-5.7zM233.9 167.4h5.7v5.4h-5.7zM233.9 357.8h5.7v5.4h-5.7zM233.9 390.4h5.7v5.4h-5.7z"/>
<path fill="rgb(66,66,66)" d="M133.6 156.6h2.0v5.4h-2.0zM133.6 172.9h2.0v5.4h-2.0zM133.6 357.8h2.0v5.4h-2.0zM133.6 401.2h2.0v5.4h-2.0zM135.6 189.2h2.1v5.4h-2.1zM135.6 232.7h2.1v5.4h-2.1zM135.6 287.1h2.1v5.4h-2.1zM135.6 395.8h2.1v5.4h-2.1zM135.6 423.0h2.1v5.4h-2.1zM137.7 243.6h2.1v5.4h-2.1zM137.7 303.4h2.1v5.4h-2.1zM137.7 406.7h2.1v5.4h-2.1zM139.8 428.4h2.2v5.4h-2.2zM139.8 499.1h2.2v5.4h-2.2zM144.3 91.3h2.3v5.4h-2.3zM144.3 466.5h2.3v10.9h-2.3zM146.6 444.8h2.4v5.4h-2.4zM149.0 488.2h2.5v5.4h-2.5zM151.4 172.9h2.5v5.4h-2.5zM151.4 265.3h2.5v5.4h-2.5zM151.4 493.7h2.5v5.4h-2.5zM154.0 238.1h2.6v5.4h-2.6zM154.0 270.8h2.6v5.4h-2.6zM154.0 346.9h2.6v5.4h-2.6zM154.0 390.4h2.6v5.4h-2.6zM156.6 368.6h2.7v5.4h-2.7zM159.3 265.3h2.8v5.4h-2.8zM164.9 85.9h2.9v5.4h-2.9zM174.0 134.8h3.3v5.4h-3.3zM184.3 107.6h3.7v5.4h-3.7zM199.9 281.6h4.3v5.4h-4.3zM199.9 308.8h4.3v5.4h-4.3zM199.9 346.9h4.3v5.4h-4.3zM199.9 433.9h4.3v5.4h-4.3zM204.2 123.9h4.5v5.4h-4.5zM204.2 395.8h4.5v5.4h-4.5zM208.7 384.9h4.7v5.4h-4.7zM208.7 499.1h4.7v5.4h-4.7zM213.3 129.4h4.8v5.4h-4.8zM213.3 265.3h4.8v5.4h-4.8zM218.2 113.1h5.0v5.4h-5.0zM218.2 140.2h5.0v5.4h-5.0zM218.2 270.8h5.0v5.4h-5.0zM218.2 466.5h5.0v5.4h-5.0zM223.2 140.2h5.2v5.4h-5.2zM233.9 118.5h5.7v5.4h-5.7zM233.9 145.7h5.7v5.4h-5.7zM233.9 162.0h5.7v5.4h-5.7zM233.9 433.9h5.7v5.4h-5.7zM233.9 493.7h5.7v5.4h-5.7z"/>
<path fill="rgb(69,69,69)" d="M133.6 167.4h2.0v5.4h-2.0zM133.6 341.4h2.0v5.4h-2.0zM133.6 384.9h2.0v5.4h-2.0zM133.6 428.4h2.0v5.4h-2.0zM135.6 118.5h2.1v5.4h-2.1zM135.6 156.6h2.1v5.4h-2.1zM135.6 325.1h2.1v5.4h-2.1zM137.7 227.2h2.1v5.4h-2.1zM137.7 265.3h2.1v5.4h-2.1zM137.7 336.0h2.1v5.4h-2.1zM137.7 499.1h2.1v5.4h-2.1zM139.8 140.2h2.2v5.4h-2.2zM139.8 363.2h2.2v5.4h-2.2zM142.0 96.8h2.3v5.4h-2.3zM142.0 330.6h2.3v5.4h-2.3zM142.0 488.2h2.3v5.4h-2.3zM142.0 504.6h2.3v17.4h-2.3zM144.3 287.1h2.3v5.4h-2.3zM146.6 189.2h2.4v5.4h-2.4zM146.6 461.1h2.4v5.4h-2.4zM146.6 477.4h2.4v5.4h-2.4zM146.6 504.6h2.4v17.4h-2.4zM149.0 151.1h2.5v5.4h-2.5zM149.0 406.7h2.5v5.4h-2.5zM149.0 423.0h2.5v5.4h-2.5zM151.4 341.4h2.5v5.4h-2.5zM151.4 428.4h2.5v5.4h-2.5zM162.1 314.2h2.9v5.4h-2.9zM162.1 390.4h2.9v5.4h-2.9zM164.9 134.8h2.9v5.4h-2.9zM164.9 200.1h2.9v5.4h-2.9zM164.9 276.2h2.9v5.4h-2.9zM167.8 145.7h3.0v5.4h-3.0zM167.8 439.3h3.0v5.4h-3.0zM177.3 200.1h3.4v5.4h-3.4zM180.7 189.2h3.5v5.4h-3.5zM180.7 281.6h3.5v5.4h-3.5zM184.3 96.8h3.7v5.4h-3.7zM184.3 471.9h3.7v5.4h-3.7zM188.0 417.6h3.8v5.4h-3.8zM191.8 232.7h4.0v5.4h-4.0zM199.9 167.4h4.3v5.4h-4.3zM199.9 450.2h4.3v5.4h-4.3zM204.2 172.9h4.5v5.4h-4.5zM204.2 254.4h4.5v5.4h-4.5zM204.2 357.8h4.5v5.4h-4.5zM208.7 113.1h4.7v5.4h-4.7zM208.7 221.8h4.7v5.4h-4.7zM208.7 254.4h4.7v5.4h-4.7zM213.3 303.4h4.8v5.4h-4.8zM213.3 482.8h4.8v5.4h-4.8zM218.2 281.6h5.0v5.4h-5.0zM228.4 412.1h5.4v5.4h-5.4zM233.9 308.8h5.7v5.4h-5.7zM233.9 412.1h5.7v5.4h-5.7z"/>
<path fill="rgb(72,72,72)" d="M135.6 243.6h2.1v5.4h-2.1zM135.6 270.8h2.1v5.4h-2.1zM137.7 162.0h2.1v5.4h-2.1zM137.7 249.0h2.1v5.4h-2.1zM139.8 368.6h2.2v5.4h-2.2zM142.0 346.9h2.3v5.4h-2.3zM142.0 439.3h2.3v5.4h-2.3zM146.6 417.6h2.4v5.4h-2.4zM149.0 249.0h2.5v5.4h-2.5zM149.0 319.7h2.5v5.4h-2.5zM149.0 346.9h2.5v5.4h-2.5zM149.0 374.1h2.5v5.4h-2.5zM151.4 91.3h2.5v5.4h-2.5zM154.0 287.1h2.6v5.4h-2.6zM154.0 384.9h2.6v5.4h-2.6zM154.0 395.8h2.6v5.4h-2.6zM156.6 374.1h2.7v5.4h-2.7zM156.6 417.6h2.7v5.4h-2.7zM159.3 102.2h2.8v5.4h-2.8zM159.3 450.2h2.8v5.4h-2.8zM162.1 221.8h2.9v5.4h-2.9zM162.1 330.6h2.9v5.4h-2.9zM164.9 406.7h2.9v5.4h-2.9zM167.8 379.5h3.0v5.4h-3.0zM170.9 200.1h3.2v5.4h-3.2zM180.7 194.6h3.5v5.4h-3.5zM184.3 178.3h3.7v10.9h-3.7zM188.0 221.8h3.8v5.4h-3.8zM191.8 91.3h4.0v5.4h-4.0zM191.8 336.0h4.0v5.4h-4.0zM199.9 412.1h4.3v5.4h-4.3zM199.9 488.2h4.3v5.4h-4.3zM204.2 341.4h4.5v5.4h-4.5zM208.7 167.4h4.7v5.4h-4.7zM208.7 183.8h4.7v5.4h-4.7zM213.3 140.2h4.8v5.4h-4.8zM213.3 276.2h4.8v5.4h-4.8zM213.3 390.4h4.8v5.4h-4.8zM213.3 406.7h4.8v5.4h-4.8zM218.2 287.1h5.0v5.4h-5.0zM233.9 249.0h5.7v5.4h-5.7zM233.9 488.2h5.7v5.4h-5.7z"/>
<path fill="rgb(75,75,75)" d="M133.6 406.7h2.0v5.4h-2.0zM137.7 379.5h2.1v5.4h-2.1zM139.8 395.8h2.2v5.4h-2.2zM139.8 455.6h2.2v5.4h-2.2zM142.0 374.1h2.3v5.4h-2.3zM142.0 417.6h2.3v5.4h-2.3zM142.0 493.7h2.3v5.4h-2.3zM144.3 341.4h2.3v5.4h-2.3zM144.3 423.0h2.3v5.4h-2.3zM146.6 91.3h2.4v5.4h-2.4zM151.4 292.5h2.5v5.4h-2.5zM156.6 216.4h2.7v5.4h-2.7zM159.3 346.9h2.8v5.4h-2.8zM159.3 482.8h2.8v5.4h-2.8zM159.3 499.1h2.8v5.4h-2.8zM162.1 102.2h2.9v5.4h-2.9zM162.1 183.8h2.9v5.4h-2.9zM164.9 96.8h2.9v5.4h-2.9zM164.9 183.8h2.9v5.4h-2.9zM170.9 363.2h3.2v5.4h-3.2zM177.3 265.3h3.4v5.4h-3.4zM180.7 232.7h3.5v5.4h-3.5zM188.0 254.4h3.8v5.4h-3.8zM188.0 308.8h3.8v5.4h-3.8zM188.0 461.1h3.8v5.4h-3.8zM199.9 276.2h4.3v5.4h-4.3zM199.9 314.2h4.3v5.4h-4.3zM199.9 390.4h4.3v5.4h-4.3zM199.9 455.6h4.3v5.4h-4.3zM208.7 270.8h4.7v5.4h-4.7zM208.7 390.4h4.7v5.4h-4.7zM213.3 395.8h4.8v5.4h-4.8zM213.3 439.3h4.8v5.4h-4.8zM218.2 145.7h5.0v5.4h-5.0zM218.2 238.1h5.0v5.4h-5.0zM223.2 162.0h5.2v5.4h-5.2zM223.2 249.0h5.2v5.4h-5.2zM223.2 259.9h5.2v5.4h-5.2zM228.4 314.2h5.4v5.4h-5.4zM228.4 455.6h5.4v5.4h-5.4zM233.9 368.6h5.7v5.4h-5.7zM233.9 423.0h5.7v5.4h-5.7z"/>
<path fill="rgb(78,78,78)" d="M133.6 178.3h2.0v5.4h-2.0zM133.6 200.1h2.0v5.4h-2.0zM133.6 276.2h2.0v5.4h-2.0zM135.6 205.5h2.1v5.4h-2.1zM135.6 265.3h2.1v5.4h-2.1zM135.6 384.9h2.1v5.4h-2.1zM139.8 134.8h2.2v5.4h-2.2zM139.8 145.7h2.2v5.4h-2.2zM139.8 232.7h2.2v5.4h-2.2zM139.8 504.6h2.2v17.4h-2.2zM142.0 341.4h2.3v5.4h-2.3zM142.0 384.9h2.3v5.4h-2.3zM144.3 477.4h2.3v5.4h-2.3zM146.6 319.7h2.4v5.4h-2.4zM146.6 368.6h2.4v5.4h-2.4zM149.0 238.1h2.5v5.4h-2.5zM149.0 292.5h2.5v5.4h-2.5zM149.0 308.8h2.5v5.4h-2.5zM149.0 379.5h2.5v5.4h-2.5zM149.0 433.9h2.5v5.4h-2.5zM151.4 145.7h2.5v5.4h-2.5zM151.4 406.7h2.5v5.4h-2.5zM151.4 488.2h2.5v5.4h-2.5zM154.0 461.1h2.6v16.3h-2.6zM154.0 504.6h2.6v17.4h-2.6zM156.6 319.7h2.7v5.4h-2.7zM156.6 482.8h2.7v5.4h-2.7zM162.1 357.8h2.9v5.4h-2.9zM170.9 259.9h3.2v5.4h-3.2zM170.9 308.8h3.2v5.4h-3.2zM174.0 499.1h3.3v5.4h-3.3zM177.3 134.8h3.4v5.4h-3.4zM177.3 433.9h3.4v5.4h-3.4zM180.7 129.4h3.5v5.4h-3.5zM180.7 406.7h3.5v5.4h-3.5zM184.3 390.4h3.7v5.4h-3.7zM184.3 412.1h3.7v5.4h-3.7zM188.0 118.5h3.8v5.4h-3.8zM188.0 129.4h3.8v5.4h-3.8zM191.8 346.9h4.0v5.4h-4.0zM191.8 412.1h4.0v5.4h-4.0zM204.2 118.5h4.5v5.4h-4.5zM204.2 259.9h4.5v5.4h-4.5zM204.2 281.6h4.5v5.4h-4.5zM204.2 417.6h4.5v10.9h-4.5zM204.2 433.9h4.5v5.4h-4.5zM213.3 450.2h4.8v5.4h-4.8zM228.4 493.7h5.4v5.4h-5.4zM228.4 504.6h5.4v17.4h-5.4zM233.9 151.1h5.7v5.4h-5.7zM233.9 200.1h5.7v5.4h-5.7z"/>
<path fill="rgb(81,81,81)" d="M133.6 314.2h2.0v5.4h-2.0zM133.6 374.1h2.0v5.4h-2.0zM135.6 227.2h2.1v5.4h-2.1zM135.6 238.1h2.1v5.4h-2.1zM135.6 303.4h2.1v5.4h-2.1zM135.6 417.6h2.1v5.4h-2.1zM137.7 450.2h2.1v5.4h-2.1zM139.8 352.3h2.2v5.4h-2.2zM139.8 401.2h2.2v5.4h-2.2zM139.8 466.5h2.2v5.4h-2.2zM142.0 113.1h2.3v5.4h-2.3zM142.0 243.6h2.3v5.4h-2.3zM144.3 140.2h2.3v5.4h-2.3zM144.3 325.1h2.3v5.4h-2.3zM144.3 379.5h2.3v5.4h-2.3zM144.3 450.2h2.3v5.4h-2.3zM146.6 423.0h2.4v5.4h-2.4zM146.6 455.6h2.4v5.4h-2.4zM149.0 107.6h2.5v5.4h-2.5zM149.0 352.3h2.5v5.4h-2.5zM151.4 227.2h2.5v5.4h-2.5zM151.4 308.8h2.5v5.4h-2.5zM154.0 151.1h2.6v5.4h-2.6zM154.0 265.3h2.6v5.4h-2.6zM156.6 450.2h2.7v5.4h-2.7zM159.3 178.3h2.8v5.4h-2.8zM159.3 379.5h2.8v5.4h-2.8zM162.1 178.3h2.9v5.4h-2.9zM167.8 216.4h3.0v5.4h-3.0zM167.8 493.7h3.0v5.4h-3.0zM174.0 183.8h3.3v5.4h-3.3zM177.3 123.9h3.4v5.4h-3.4zM177.3 183.8h3.4v5.4h-3.4zM180.7 172.9h3.5v5.4h-3.5zM180.7 270.8h3.5v5.4h-3.5zM180.7 417.6h3.5v5.4h-3.5zM184.3 194.6h3.7v5.4h-3.7zM191.8 357.8h4.0v5.4h-4.0zM191.8 401.2h4.0v10.9h-4.0zM195.8 292.5h4.1v5.4h-4.1zM199.9 172.9h4.3v5.4h-4.3zM204.2 363.2h4.5v5.4h-4.5zM208.7 287.1h4.7v5.4h-4.7zM213.3 357.8h4.8v5.4h-4.8zM218.2 156.6h5.0v5.4h-5.0zM218.2 216.4h5.0v5.4h-5.0zM223.2 227.2h5.2v5.4h-5.2zM223.2 254.4h5.2v5.4h-5.2zM223.2 314.2h5.2v5.4h-5.2zM223.2 352.3h5.2v5.4h-5.2zM223.2 493.7h5.2v5.4h-5.2zM228.4 140.2h5.4v5.4h-5.4zM228.4 270.8h5.4v10.9h-5.4zM233.9 123.9h5.7v5.4h-5.7zM233.9 270.8h5.7v5.4h-5.7zM233.9 336.0h5.7v5.4h-5.7z"/>
<path fill="rgb(84,84,84)" d="M133.6 297.9h2.0v5.4h-2.0zM133.6 417.6h2.0v5.4h-2.0zM137.7 123.9h2.1v5.4h-2.1zM137.7 221.8h2.1v5.4h-2.1zM137.7 384.9h2.1v5.4h-2.1zM137.7 461.1h2.1v5.4h-2.1zM139.8 238.1h2.2v5.4h-2.2zM139.8 444.8h2.2v5.4h-2.2zM139.8 477.4h2.2v5.4h-2.2zM142.0 412.1h2.3v5.4h-2.3zM144.3 297.9h2.3v5.4h-2.3zM144.3 488.2h2.3v5.4h-2.3zM146.6 232.7h2.4v5.4h-2.4zM146.6 346.9h2.4v5.4h-2.4zM146.6 357.8h2.4v5.4h-2.4zM146.6 379.5h2.4v5.4h-2.4zM146.6 471.9h2.4v5.4h-2.4zM149.0 243.6h2.5v5.4h-2.5zM151.4 162.0h2.5v5.4h-2.5zM151.4 303.4h2.5v5.4h-2.5zM151.4 368.6h2.5v5.4h-2.5zM151.4 461.1h2.5v5.4h-2.5zM151.4 499.1h2.5v5.4h-2.5zM154.0 129.4h2.6v5.4h-2.6zM154.0 319.7h2.6v5.4h-2.6zM156.6 249.0h2.7v5.4h-2.7zM156.6 439.3h2.7v5.4h-2.7zM159.3 417.6h2.8v5.4h-2.8zM162.1 461.1h2.9v5.4h-2.9zM167.8 238.1h3.0v5.4h-3.0zM170.9 123.9h3.2v5.4h-3.2zM170.9 134.8h3.2v5.4h-3.2zM170.9 287.1h3.2v5.4h-3.2zM174.0 357.8h3.3v5.4h-3.3zM177.3 91.3h3.4v5.4h-3.4zM184.3 363.2h3.7v5.4h-3.7zM191.8 341.4h4.0v5.4h-4.0zM204.2 265.3h4.5v5.4h-4.5zM208.7 336.0h4.7v5.4h-4.7zM208.7 433.9h4.7v5.4h-4.7zM223.2 477.4h5.2v5.4h-5.2zM228.4 189.2h5.4v10.9h-5.4z"/>
<path fill="rgb(87,87,87)" d="M133.6 292.5h2.0v5.4h-2.0zM133.6 303.4h2.0v5.4h-2.0zM133.6 352.3h2.0v5.4h-2.0zM133.6 368.6h2.0v5.4h-2.0zM133.6 493.7h2.0v5.4h-2.0zM135.6 433.9h2.1v5.4h-2.1zM137.7 281.6h2.1v5.4h-2.1zM139.8 390.4h2.2v5.4h-2.2zM139.8 471.9h2.2v5.4h-2.2zM142.0 406.7h2.3v5.4h-2.3zM142.0 482.8h2.3v5.4h-2.3zM144.3 205.5h2.3v5.4h-2.3zM144.3 363.2h2.3v5.4h-2.3zM146.6 96.8h2.4v5.4h-2.4zM146.6 401.2h2.4v5.4h-2.4zM149.0 265.3h2.5v5.4h-2.5zM149.0 297.9h2.5v5.4h-2.5zM149.0 314.2h2.5v5.4h-2.5zM149.0 341.4h2.5v5.4h-2.5zM151.4 325.1h2.5v5.4h-2.5zM154.0 113.1h2.6v5.4h-2.6zM154.0 232.7h2.6v5.4h-2.6zM156.6 145.7h2.7v5.4h-2.7zM156.6 183.8h2.7v5.4h-2.7zM156.6 423.0h2.7v5.4h-2.7zM162.1 189.2h2.9v5.4h-2.9zM162.1 504.6h2.9v17.4h-2.9zM167.8 200.1h3.0v5.4h-3.0zM167.8 461.1h3.0v5.4h-3.0zM170.9 129.4h3.2v5.4h-3.2zM174.0 352.3h3.3v5.4h-3.3zM180.7 428.4h3.5v5.4h-3.5zM180.7 493.7h3.5v5.4h-3.5zM188.0 162.0h3.8v5.4h-3.8zM199.9 178.3h4.3v5.4h-4.3zM204.2 151.1h4.5v5.4h-4.5zM204.2 292.5h4.5v5.4h-4.5zM204.2 455.6h4.5v10.9h-4.5zM208.7 428.4h4.7v5.4h-4.7zM208.7 455.6h4.7v5.4h-4.7zM213.3 423.0h4.8v5.4h-4.8zM218.2 85.9h5.0v5.4h-5.0zM223.2 368.6h5.2v10.9h-5.2zM228.4 254.4h5.4v5.4h-5.4zM228.4 265.3h5.4v5.4h-5.4z"/>
<path fill="rgb(90,90,90)" d="M133.6 102.2h2.0v5.4h-2.0zM135.6 368.6h2.1v5.4h-2.1zM137.7 455.6h2.1v5.4h-2.1zM142.0 336.0h2.3v5.4h-2.3zM142.0 471.9h2.3v5.4h-2.3zM144.3 346.9h2.3v5.4h-2.3zM146.6 194.6h2.4v5.4h-2.4zM146.6 341.4h2.4v5.4h-2.4zM146.6 406.7h2.4v5.4h-2.4zM146.6 439.3h2.4v5.4h-2.4zM151.4 156.6h2.5v5.4h-2.5zM151.4 189.2h2.5v5.4h-2.5zM151.4 238.1h2.5v5.4h-2.5zM151.4 319.7h2.5v5.4h-2.5zM151.4 352.3h2.5v5.4h-2.5zM151.4 384.9h2.5v5.4h-2.5zM156.6 91.3h2.7v5.4h-2.7zM159.3 238.1h2.8v5.4h-2.8zM162.1 123.9h2.9v5.4h-2.9zM162.1 151.1h2.9v5.4h-2.9zM167.8 499.1h3.0v5.4h-3.0zM174.0 107.6h3.3v5.4h-3.3zM174.0 384.9h3.3v5.4h-3.3zM177.3 270.8h3.4v5.4h-3.4zM180.7 254.4h3.5v5.4h-3.5zM184.3 102.2h3.7v5.4h-3.7zM188.0 145.7h3.8v5.4h-3.8zM188.0 172.9h3.8v5.4h-3.8zM188.0 183.8h3.8v5.4h-3.8zM195.8 493.7h4.1v5.4h-4.1zM204.2 156.6h4.5v5.4h-4.5zM204.2 379.5h4.5v5.4h-4.5zM204.2 428.4h4.5v5.4h-4.5zM213.3 172.9h4.8v5.4h-4.8zM218.2 205.5h5.0v5.4h-5.0zM223.2 292.5h5.2v5.4h-5.2zM223.2 379.5h5.2v5.4h-5.2zM228.4 259.9h5.4v5.4h-5.4zM228.4 303.4h5.4v5.4h-5.4zM228.4 379.5h5.4v10.9h-5.4zM233.9 156.6h5.7v5.4h-5.7z"/>
<path fill="rgb(93,93,93)" d="M133.6 423.0h2.0v5.4h-2.0zM133.6 466.5h2.0v5.4h-2.0zM137.7 471.9h2.1v5.4h-2.1zM139.8 314.2h2.2v5.4h-2.2zM142.0 129.4h2.3v5.4h-2.3zM142.0 368.6h2.3v5.4h-2.3zM142.0 450.2h2.3v5.4h-2.3zM144.3 395.8h2.3v5.4h-2.3zM151.4 96.8h2.5v5.4h-2.5zM151.4 118.5h2.5v5.4h-2.5zM151.4 314.2h2.5v5.4h-2.5zM151.4 450.2h2.5v5.4h-2.5zM156.6 178.3h2.7v5.4h-2.7zM156.6 341.4h2.7v5.4h-2.7zM159.3 325.1h2.8v5.4h-2.8zM177.3 238.1h3.4v5.4h-3.4zM180.7 96.8h3.5v5.4h-3.5zM180.7 504.6h3.5v17.4h-3.5zM188.0 156.6h3.8v5.4h-3.8zM191.8 85.9h4.0v5.4h-4.0zM191.8 352.3h4.0v5.4h-4.0zM195.8 162.0h4.1v5.4h-4.1z"/>
<path fill="rgb(96,96,96)" d="M133.6 504.6h2.0v17.4h-2.0zM135.6 281.6h2.1v5.4h-2.1zM135.6 314.2h2.1v5.4h-2.1zM137.7 238.1h2.1v5.4h-2.1zM137.7 390.4h2.1v5.4h-2.1zM137.7 433.9h2.1v5.4h-2.1zM139.8 325.1h2.2v5.4h-2.2zM142.0 352.3h2.3v5.4h-2.3zM142.0 433.9h2.3v5.4h-2.3zM142.0 444.8h2.3v5.4h-2.3zM144.3 107.6h2.3v5.4h-2.3zM144.3 303.4h2.3v5.4h-2.3zM146.6 336.0h2.4v5.4h-2.4zM146.6 390.4h2.4v5.4h-2.4zM149.0 477.4h2.5v5.4h-2.5zM154.0 189.2h2.6v5.4h-2.6zM156.6 194.6h2.7v5.4h-2.7zM159.3 466.5h2.8v5.4h-2.8zM167.8 205.5h3.0v5.4h-3.0zM167.8 325.1h3.0v5.4h-3.0zM170.9 461.1h3.2v5.4h-3.2zM170.9 471.9h3.2v5.4h-3.2zM177.3 287.1h3.4v5.4h-3.4zM177.3 308.8h3.4v5.4h-3.4zM184.3 162.0h3.7v5.4h-3.7zM188.0 91.3h3.8v10.9h-3.8zM188.0 227.2h3.8v5.4h-3.8zM191.8 183.8h4.0v5.4h-4.0zM195.8 113.1h4.1v5.4h-4.1zM204.2 249.0h4.5v5.4h-4.5zM228.4 156.6h5.4v5.4h-5.4zM194.6 384.9h4.4v5.4h-4.4z"/>
<path fill="rgb(99,99,99)" d="M133.6 107.6h2.0v5.4h-2.0zM133.6 205.5h2.0v5.4h-2.0zM133.6 238.1h2.0v5.4h-2.0zM135.6 107.6h2.1v5.4h-2.1zM135.6 390.4h2.1v5.4h-2.1zM137.7 270.8h2.1v5.4h-2.1zM137.7 314.2h2.1v5.4h-2.1zM137.7 493.7h2.1v5.4h-2.1zM137.7 504.6h2.1v17.4h-2.1zM139.8 303.4h2.2v5.4h-2.2zM144.3 259.9h2.3v5.4h-2.3zM146.6 493.7h2.4v5.4h-2.4zM149.0 145.7h2.5v5.4h-2.5zM151.4 102.2h2.5v5.4h-2.5zM154.0 123.9h2.6v5.4h-2.6zM154.0 401.2h2.6v5.4h-2.6zM156.6 346.9h2.7v5.4h-2.7zM156.6 406.7h2.7v5.4h-2.7zM159.3 227.2h2.8v5.4h-2.8zM159.3 374.1h2.8v5.4h-2.8zM162.1 276.2h2.9v5.4h-2.9zM162.1 423.0h2.9v5.4h-2.9zM164.9 151.1h2.9v5.4h-2.9zM170.9 249.0h3.2v5.4h-3.2zM174.0 102.2h3.3v5.4h-3.3zM177.3 156.6h3.4v5.4h-3.4zM177.3 395.8h3.4v5.4h-3.4zM188.0 178.3h3.8v5.4h-3.8zM195.8 189.2h4.1v5.4h-4.1zM199.9 259.9h4.3v5.4h-4.3zM199.9 336.0h4.3v5.4h-4.3zM204.2 450.2h4.5v5.4h-4.5zM194.6 145.7h4.4v5.4h-4.4zM194.6 477.4h4.4v5.4h-4.4z"/>
<path fill="rgb(102,102,102)" d="M133.6 281.6h2.0v5.4h-2.0zM135.6 379.5h2.1v5.4h-2.1zM137.7 325.1h2.1v5.4h-2.1zM139.8 384.9h2.2v5.4h-2.2zM139.8 406.7h2.2v5.4h-2.2zM142.0 221.8h2.3v5.4h-2.3zM142.0 314.2h2.3v5.4h-2.3zM144.3 276.2h2.3v5.4h-2.3zM144.3 444.8h2.3v5.4h-2.3zM146.6 466.5h2.4v5.4h-2.4zM149.0 134.8h2.5v5.4h-2.5zM151.4 243.6h2.5v5.4h-2.5zM154.0 172.9h2.6v5.4h-2.6zM154.0 499.1h2.6v5.4h-2.6zM159.3 336.0h2.8v5.4h-2.8zM164.9 172.9h2.9v5.4h-2.9zM167.8 178.3h3.0v5.4h-3.0zM167.8 254.4h3.0v5.4h-3.0zM170.9 156.6h3.2v5.4h-3.2zM170.9 238.1h3.2v5.4h-3.2zM174.0 118.5h3.3v5.4h-3.3zM177.3 303.4h3.4v5.4h-3.4zM180.7 102.2h3.5v5.4h-3.5zM180.7 499.1h3.5v5.4h-3.5zM184.3 379.5h3.7v5.4h-3.7zM191.8 189.2h4.0v5.4h-4.0zM191.8 254.4h4.0v5.4h-4.0zM195.8 96.8h4.1v5.4h-4.1zM195.8 145.7h4.1v5.4h-4.1zM195.8 221.8h4.1v5.4h-4.1zM195.8 243.6h4.1v5.4h-4.1zM195.8 281.6h4.1v10.9h-4.1zM195.8 346.9h4.1v5.4h-4.1zM195.8 395.8h4.1v10.9h-4.1zM218.2 292.5h5.0v5.4h-5.0zM218.2 412.1h5.0v5.4h-5.0zM218.2 493.7h5.0v5.4h-5.0zM223.2 303.4h5.2v5.4h-5.2zM228.4 325.1h5.4v5.4h-5.4zM194.6 297.9h4.4v5.4h-4.4zM194.6 363.2h4.4v10.9h-4.4zM194.6 395.8h4.4v5.4h-4.4zM194.6 499.1h4.4v5.4h-4.4z"/>
<path fill="rgb(105,105,105)" d="M135.6 145.7h2.1v5.4h-2.1zM135.6 221.8h2.1v5.4h-2.1zM135.6 504.6h2.1v17.4h-2.1zM137.7 91.3h2.1v5.4h-2.1zM137.7 276.2h2.1v5.4h-2.1zM137.7 374.1h2.1v5.4h-2.1zM139.8 287.1h2.2v5.4h-2.2zM139.8 346.9h2.2v5.4h-2.2zM142.0 265.3h2.3v5.4h-2.3zM142.0 281.6h2.3v5.4h-2.3zM144.3 134.8h2.3v5.4h-2.3zM146.6 287.1h2.4v5.4h-2.4zM149.0 189.2h2.5v5.4h-2.5zM149.0 466.5h2.5v5.4h-2.5zM151.4 232.7h2.5v5.4h-2.5zM151.4 287.1h2.5v5.4h-2.5zM154.0 368.6h2.6v10.9h-2.6zM159.3 504.6h2.8v17.4h-2.8zM162.1 145.7h2.9v5.4h-2.9zM164.9 221.8h2.9v5.4h-2.9zM164.9 243.6h2.9v5.4h-2.9zM180.7 107.6h3.5v5.4h-3.5zM180.7 297.9h3.5v5.4h-3.5zM191.8 450.2h4.0v5.4h-4.0zM195.8 232.7h4.1v10.9h-4.1zM195.8 336.0h4.1v5.4h-4.1zM195.8 423.0h4.1v5.4h-4.1zM195.8 488.2h4.1v5.4h-4.1zM195.8 499.1h4.1v5.4h-4.1zM199.9 292.5h4.3v5.4h-4.3zM213.3 156.6h4.8v5.4h-4.8zM194.6 172.9h4.4v5.4h-4.4zM194.6 205.5h4.4v5.4h-4.4zM194.6 265.3h4.4v5.4h-4.4zM194.6 314.2h4.4v5.4h-4.4zM194.6 357.8h4.4v5.4h-4.4zM194.6 433.9h4.4v5.4h-4.4zM194.6 461.1h4.4v5.4h-4.4z"/>
<path fill="rgb(108,108,108)" d="M135.6 134.8h2.1v5.4h-2.1zM135.6 346.9h2.1v5.4h-2.1zM137.7 102.2h2.1v5.4h-2.1zM139.8 357.8h2.2v5.4h-2.2zM144.3 314.2h2.3v5.4h-2.3zM149.0 183.8h2.5v5.4h-2.5zM154.0 249.0h2.6v5.4h-2.6zM154.0 341.4h2.6v5.4h-2.6zM156.6 390.4h2.7v5.4h-2.7zM164.9 238.1h2.9v5.4h-2.9zM170.9 205.5h3.2v5.4h-3.2zM180.7 238.1h3.5v5.4h-3.5zM195.8 194.6h4.1v5.4h-4.1zM195.8 270.8h4.1v5.4h-4.1zM195.8 297.9h4.1v5.4h-4.1zM195.8 330.6h4.1v5.4h-4.1zM195.8 384.9h4.1v10.9h-4.1zM233.9 172.9h5.7v5.4h-5.7zM233.9 227.2h5.7v5.4h-5.7zM194.6 227.2h4.4v5.4h-4.4zM194.6 336.0h4.4v5.4h-4.4zM194.6 374.1h4.4v5.4h-4.4zM194.6 471.9h4.4v5.4h-4.4zM194.6 504.6h4.4v17.4h-4.4z"/>
<path fill="rgb(111,111,111)" d="M133.6 308.8h2.0v5.4h-2.0zM135.6 357.8h2.1v5.4h-2.1zM137.7 205.5h2.1v5.4h-2.1zM137.7 308.8h2.1v5.4h-2.1zM137.7 357.8h2.1v5.4h-2.1zM139.8 412.1h2.2v5.4h-2.2zM144.3 145.7h2.3v5.4h-2.3zM151.4 259.9h2.5v5.4h-2.5zM151.4 504.6h2.5v17.4h-2.5zM159.3 287.1h2.8v5.4h-2.8zM164.9 281.6h2.9v5.4h-2.9zM167.8 183.8h3.0v5.4h-3.0zM167.8 504.6h3.0v17.4h-3.0zM174.0 232.7h3.3v5.4h-3.3zM174.0 254.4h3.3v5.4h-3.3zM177.3 297.9h3.4v5.4h-3.4zM180.7 330.6h3.5v5.4h-3.5zM188.0 85.9h3.8v5.4h-3.8zM188.0 357.8h3.8v5.4h-3.8zM195.8 172.9h4.1v5.4h-4.1zM195.8 200.1h4.1v5.4h-4.1zM195.8 319.7h4.1v5.4h-4.1zM195.8 417.6h4.1v5.4h-4.1zM195.8 471.9h4.1v5.4h-4.1zM208.7 210.9h4.7v5.4h-4.7zM208.7 292.5h4.7v5.4h-4.7zM213.3 151.1h4.8v5.4h-4.8zM194.6 162.0h4.4v5.4h-4.4zM194.6 200.1h4.4v5.4h-4.4zM194.6 232.7h4.4v5.4h-4.4zM194.6 303.4h4.4v5.4h-4.4zM194.6 341.4h4.4v5.4h-4.4zM194.6 390.4h4.4v5.4h-4.4zM194.6 412.1h4.4v5.4h-4.4z"/>
<path fill="rgb(114,114,114)" d="M135.6 428.4h2.1v5.4h-2.1zM139.8 439.3h2.2v5.4h-2.2zM142.0 238.1h2.3v5.4h-2.3zM146.6 140.2h2.4v5.4h-2.4zM149.0 194.6h2.5v5.4h-2.5zM149.0 471.9h2.5v5.4h-2.5zM154.0 227.2h2.6v5.4h-2.6zM159.3 281.6h2.8v5.4h-2.8zM170.9 221.8h3.2v5.4h-3.2zM170.9 455.6h3.2v5.4h-3.2zM174.0 259.9h3.3v5.4h-3.3zM180.7 123.9h3.5v5.4h-3.5zM180.7 276.2h3.5v5.4h-3.5zM188.0 384.9h3.8v5.4h-3.8zM195.8 91.3h4.1v5.4h-4.1zM195.8 156.6h4.1v5.4h-4.1zM195.8 167.4h4.1v5.4h-4.1zM195.8 341.4h4.1v5.4h-4.1zM195.8 466.5h4.1v5.4h-4.1zM195.8 504.6h4.1v17.4h-4.1zM208.7 205.5h4.7v5.4h-4.7zM213.3 292.5h4.8v5.4h-4.8zM223.2 221.8h5.2v5.4h-5.2zM228.4 374.1h5.4v5.4h-5.4zM194.6 118.5h4.4v5.4h-4.4zM194.6 167.4h4.4v5.4h-4.4zM194.6 238.1h4.4v5.4h-4.4zM194.6 249.0h4.4v5.4h-4.4zM194.6 330.6h4.4v5.4h-4.4zM194.6 428.4h4.4v5.4h-4.4z"/>
<path fill="rgb(117,117,117)" d="M133.6 259.9h2.0v5.4h-2.0zM133.6 379.5h2.0v5.4h-2.0zM135.6 276.2h2.1v5.4h-2.1zM135.6 336.0h2.1v5.4h-2.1zM142.0 363.2h2.3v5.4h-2.3zM144.3 504.6h2.3v17.4h-2.3zM146.6 308.8h2.4v5.4h-2.4zM146.6 363.2h2.4v5.4h-2.4zM149.0 270.8h2.5v5.4h-2.5zM151.4 482.8h2.5v5.4h-2.5zM156.6 134.8h2.7v5.4h-2.7zM156.6 336.0h2.7v5.4h-2.7zM162.1 96.8h2.9v5.4h-2.9zM174.0 428.4h3.3v5.4h-3.3zM177.3 401.2h3.4v10.9h-3.4zM184.3 205.5h3.7v5.4h-3.7zM191.8 123.9h4.0v5.4h-4.0zM195.8 178.3h4.1v5.4h-4.1zM195.8 428.4h4.1v5.4h-4.1zM195.8 450.2h4.1v5.4h-4.1zM194.6 96.8h4.4v5.4h-4.4zM194.6 113.1h4.4v5.4h-4.4zM194.6 134.8h4.4v5.4h-4.4zM194.6 151.1h4.4v5.4h-4.4zM194.6 183.8h4.4v5.4h-4.4zM194.6 194.6h4.4v5.4h-4.4zM194.6 210.9h4.4v5.4h-4.4zM194.6 401.2h4.4v5.4h-4.4zM194.6 423.0h4.4v5.4h-4.4zM194.6 450.2h4.4v10.9h-4.4z"/>
<path fill="rgb(120,120,120)" d="M133.6 227.2h2.0v5.4h-2.0zM135.6 123.9h2.1v5.4h-2.1zM137.7 259.9h2.1v5.4h-2.1zM139.8 379.5h2.2v5.4h-2.2zM144.3 221.8h2.3v5.4h-2.3zM146.6 450.2h2.4v5.4h-2.4zM151.4 205.5h2.5v5.4h-2.5zM156.6 395.8h2.7v5.4h-2.7zM180.7 325.1h3.5v5.4h-3.5zM195.8 107.6h4.1v5.4h-4.1zM195.8 151.1h4.1v5.4h-4.1zM195.8 210.9h4.1v5.4h-4.1zM195.8 227.2h4.1v5.4h-4.1zM195.8 303.4h4.1v5.4h-4.1zM195.8 352.3h4.1v5.4h-4.1zM195.8 406.7h4.1v5.4h-4.1zM195.8 433.9h4.1v5.4h-4.1zM204.2 189.2h4.5v10.9h-4.5zM213.3 210.9h4.8v5.4h-4.8zM218.2 336.0h5.0v5.4h-5.0zM223.2 210.9h5.2v5.4h-5.2zM223.2 270.8h5.2v5.4h-5.2zM228.4 210.9h5.4v10.9h-5.4zM194.6 123.9h4.4v5.4h-4.4zM194.6 325.1h4.4v5.4h-4.4zM194.6 352.3h4.4v5.4h-4.4zM194.6 379.5h4.4v5.4h-4.4zM194.6 406.7h4.4v5.4h-4.4zM194.6 439.3h4.4v5.4h-4.4zM194.6 466.5h4.4v5.4h-4.4zM194.6 482.8h4.4v5.4h-4.4z"/>
<path fill="rgb(123,123,123)" d="M135.6 91.3h2.1v5.4h-2.1zM137.7 319.7h2.1v5.4h-2.1zM149.0 325.1h2.5v5.4h-2.5zM159.3 140.2h2.8v5.4h-2.8zM159.3 276.2h2.8v5.4h-2.8zM170.9 270.8h3.2v5.4h-3.2zM177.3 205.5h3.4v5.4h-3.4zM180.7 357.8h3.5v5.4h-3.5zM184.3 270.8h3.7v5.4h-3.7zM195.8 102.2h4.1v5.4h-4.1zM195.8 123.9h4.1v5.4h-4.1zM195.8 183.8h4.1v5.4h-4.1zM195.8 357.8h4.1v10.9h-4.1zM195.8 444.8h4.1v5.4h-4.1zM195.8 482.8h4.1v5.4h-4.1zM199.9 254.4h4.3v5.4h-4.3zM208.7 319.7h4.7v5.4h-4.7zM213.3 216.4h4.8v5.4h-4.8zM223.2 216.4h5.2v5.4h-5.2zM194.6 102.2h4.4v10.9h-4.4zM194.6 189.2h4.4v5.4h-4.4zM194.6 216.4h4.4v5.4h-4.4zM194.6 276.2h4.4v10.9h-4.4zM194.6 444.8h4.4v5.4h-4.4zM194.6 493.7h4.4v5.4h-4.4z"/>
<path fill="rgb(126,126,126)" d="M133.6 96.8h2.0v5.4h-2.0zM133.6 265.3h2.0v5.4h-2.0zM133.6 287.1h2.0v5.4h-2.0zM133.6 477.4h2.0v5.4h-2.0zM139.8 167.4h2.2v5.4h-2.2zM139.8 297.9h2.2v5.4h-2.2zM144.3 189.2h2.3v5.4h-2.3zM144.3 308.8h2.3v5.4h-2.3zM144.3 352.3h2.3v5.4h-2.3zM146.6 238.1h2.4v5.4h-2.4zM156.6 325.1h2.7v5.4h-2.7zM167.8 75.0h3.0v10.9h-3.0zM180.7 319.7h3.5v5.4h-3.5zM180.7 352.3h3.5v5.4h-3.5zM195.8 118.5h4.1v5.4h-4.1zM195.8 134.8h4.1v5.4h-4.1zM195.8 265.3h4.1v5.4h-4.1zM195.8 314.2h4.1v5.4h-4.1zM195.8 379.5h4.1v5.4h-4.1zM195.8 412.1h4.1v5.4h-4.1zM195.8 477.4h4.1v5.4h-4.1zM204.2 466.5h4.5v5.4h-4.5zM213.3 205.5h4.8v5.4h-4.8zM194.6 91.3h4.4v5.4h-4.4zM194.6 129.4h4.4v5.4h-4.4zM194.6 156.6h4.4v5.4h-4.4zM194.6 308.8h4.4v5.4h-4.4zM194.6 319.7h4.4v5.4h-4.4zM194.6 346.9h4.4v5.4h-4.4zM194.6 417.6h4.4v5.4h-4.4zM194.6 488.2h4.4v5.4h-4.4z"/>
<path fill="rgb(129,129,129)" d="M133.6 210.9h2.0v5.4h-2.0zM135.6 85.9h2.1v5.4h-2.1zM135.6 129.4h2.1v5.4h-2.1zM137.7 216.4h2.1v5.4h-2.1zM142.0 227.2h2.3v5.4h-2.3zM144.3 227.2h2.3v5.4h-2.3zM146.6 118.5h2.4v5.4h-2.4zM149.0 75.0h2.5v10.9h-2.5zM149.0 205.5h2.5v5.4h-2.5zM156.6 102.2h2.7v5.4h-2.7zM156.6 384.9h2.7v5.4h-2.7zM159.3 221.8h2.8v5.4h-2.8zM162.1 287.1h2.9v5.4h-2.9zM170.9 243.6h3.2v5.4h-3.2zM170.9 281.6h3.2v5.4h-3.2zM174.0 249.0h3.3v5.4h-3.3zM174.0 292.5h3.3v5.4h-3.3zM177.3 221.8h3.4v5.4h-3.4zM184.3 249.0h3.7v5.4h-3.7zM184.3 281.6h3.7v5.4h-3.7zM191.8 129.4h4.0v5.4h-4.0zM191.8 384.9h4.0v5.4h-4.0zM195.8 85.9h4.1v5.4h-4.1zM195.8 249.0h4.1v10.9h-4.1zM195.8 276.2h4.1v5.4h-4.1zM195.8 308.8h4.1v5.4h-4.1zM195.8 368.6h4.1v10.9h-4.1zM195.8 439.3h4.1v5.4h-4.1zM204.2 183.8h4.5v5.4h-4.5zM204.2 210.9h4.5v5.4h-4.5zM213.3 145.7h4.8v5.4h-4.8zM228.4 205.5h5.4v5.4h-5.4zM194.6 85.9h4.4v5.4h-4.4zM194.6 254.4h4.4v5.4h-4.4zM194.6 287.1h4.4v5.4h-4.4z"/>
<path fill="rgb(132,132,132)" d="M135.6 308.8h2.1v5.4h-2.1zM142.0 357.8h2.3v5.4h-2.3zM144.3 499.1h2.3v5.4h-2.3zM146.6 297.9h2.4v5.4h-2.4zM154.0 205.5h2.6v5.4h-2.6zM164.9 123.9h2.9v5.4h-2.9zM167.8 281.6h3.0v5.4h-3.0zM174.0 91.3h3.3v5.4h-3.3zM174.0 287.1h3.3v5.4h-3.3zM195.8 140.2h4.1v5.4h-4.1zM199.9 205.5h4.3v5.4h-4.3zM223.2 297.9h5.2v5.4h-5.2zM194.6 270.8h4.4v5.4h-4.4zM194.6 292.5h4.4v5.4h-4.4z"/>
<path fill="rgb(135,135,135)" d="M133.6 134.8h2.0v5.4h-2.0zM133.6 221.8h2.0v5.4h-2.0zM137.7 297.9h2.1v5.4h-2.1zM149.0 210.9h2.5v5.4h-2.5zM151.4 216.4h2.5v5.4h-2.5zM151.4 249.0h2.5v5.4h-2.5zM154.0 221.8h2.6v5.4h-2.6zM162.1 281.6h2.9v5.4h-2.9zM164.9 113.1h2.9v5.4h-2.9zM167.8 221.8h3.0v5.4h-3.0zM170.9 276.2h3.2v5.4h-3.2zM174.0 216.4h3.3v5.4h-3.3zM174.0 276.2h3.3v5.4h-3.3zM174.0 401.2h3.3v5.4h-3.3zM184.3 216.4h3.7v5.4h-3.7zM188.0 216.4h3.8v5.4h-3.8zM195.8 129.4h4.1v5.4h-4.1zM195.8 455.6h4.1v10.9h-4.1zM204.2 205.5h4.5v5.4h-4.5zM228.4 287.1h5.4v5.4h-5.4zM194.6 221.8h4.4v5.4h-4.4zM194.6 259.9h4.4v5.4h-4.4z"/>
<path fill="rgb(138,138,138)" d="M139.8 75.0h2.2v10.9h-2.2zM139.8 205.5h2.2v5.4h-2.2zM144.3 254.4h2.3v5.4h-2.3zM154.0 439.3h2.6v5.4h-2.6zM159.3 96.8h2.8v5.4h-2.8zM162.1 205.5h2.9v5.4h-2.9zM164.9 118.5h2.9v5.4h-2.9zM174.0 281.6h3.3v5.4h-3.3zM177.3 75.0h3.4v10.9h-3.4zM177.3 450.2h3.4v5.4h-3.4zM180.7 466.5h3.5v5.4h-3.5zM191.8 205.5h4.0v10.9h-4.0zM195.8 325.1h4.1v5.4h-4.1zM204.2 134.8h4.5v5.4h-4.5zM204.2 471.9h4.5v5.4h-4.5zM208.7 216.4h4.7v5.4h-4.7zM194.6 140.2h4.4v5.4h-4.4zM194.6 243.6h4.4v5.4h-4.4z"/>
<path fill="rgb(141,141,141)" d="M139.8 265.3h2.2v5.4h-2.2zM144.3 428.4h2.3v5.4h-2.3zM146.6 107.6h2.4v5.4h-2.4zM164.9 194.6h2.9v5.4h-2.9zM167.8 276.2h3.0v5.4h-3.0zM174.0 221.8h3.3v5.4h-3.3zM177.3 455.6h3.4v5.4h-3.4zM180.7 85.9h3.5v5.4h-3.5zM195.8 205.5h4.1v5.4h-4.1zM195.8 259.9h4.1v5.4h-4.1zM199.9 183.8h4.3v5.4h-4.3zM199.9 216.4h4.3v5.4h-4.3zM204.2 129.4h4.5v5.4h-4.5zM218.2 428.4h5.0v16.3h-5.0zM218.2 504.6h5.0v17.4h-5.0z"/>
<path fill="rgb(144,144,144)" d="M133.6 75.0h2.0v10.9h-2.0zM139.8 216.4h2.2v5.4h-2.2zM139.8 281.6h2.2v5.4h-2.2zM146.6 113.1h2.4v5.4h-2.4zM154.0 210.9h2.6v5.4h-2.6zM159.3 259.9h2.8v5.4h-2.8zM162.1 210.9h2.9v5.4h-2.9zM170.9 210.9h3.2v10.9h-3.2zM177.3 243.6h3.4v5.4h-3.4zM195.8 75.0h4.1v10.9h-4.1zM170.3 113.1h5.5v5.4h-5.5zM170.3 145.7h5.5v5.4h-5.5zM194.6 178.3h4.4v5.4h-4.4zM212.0 75.0h4.0v5.4h-4.0z"/>
<path fill="rgb(147,147,147)" d="M135.6 210.9h2.1v5.4h-2.1zM142.0 210.9h2.3v5.4h-2.3zM142.0 390.4h2.3v5.4h-2.3zM146.6 276.2h2.4v5.4h-2.4zM154.0 216.4h2.6v5.4h-2.6zM159.3 91.3h2.8v5.4h-2.8zM164.9 210.9h2.9v10.9h-2.9zM177.3 259.9h3.4v5.4h-3.4zM180.7 210.9h3.5v5.4h-3.5zM184.3 75.0h3.7v10.9h-3.7zM188.0 210.9h3.8v5.4h-3.8zM170.3 107.6h5.5v5.4h-5.5z"/>
<path fill="rgb(150,150,150)" d="M137.7 75.0h2.1v10.9h-2.1zM142.0 75.0h2.3v10.9h-2.3zM144.3 406.7h2.3v5.4h-2.3zM146.6 75.0h2.4v10.9h-2.4zM149.0 216.4h2.5v5.4h-2.5zM154.0 75.0h2.6v10.9h-2.6zM154.0 254.4h2.6v5.4h-2.6zM156.6 210.9h2.7v5.4h-2.7zM156.6 270.8h2.7v5.4h-2.7zM159.3 205.5h2.8v5.4h-2.8zM174.0 85.9h3.3v5.4h-3.3zM177.3 461.1h3.4v5.4h-3.4zM180.7 216.4h3.5v5.4h-3.5zM184.3 488.2h3.7v5.4h-3.7zM204.2 477.4h4.5v5.4h-4.5zM233.9 75.0h5.7v10.9h-5.7zM156.0 118.5h3.6v5.4h-3.6z"/>
<path fill="rgb(153,153,153)" d="M133.6 216.4h2.0v5.4h-2.0zM144.3 96.8h2.3v5.4h-2.3zM144.3 270.8h2.3v5.4h-2.3zM167.8 210.9h3.0v5.4h-3.0zM188.0 390.4h3.8v5.4h-3.8zM218.2 75.0h5.0v10.9h-5.0zM170.3 129.4h5.5v5.4h-5.5zM212.0 113.1h4.0v5.4h-4.0z"/>
<path fill="rgb(156,156,156)" d="M135.6 75.0h2.1v10.9h-2.1zM139.8 270.8h2.2v5.4h-2.2zM142.0 270.8h2.3v5.4h-2.3zM156.6 265.3h2.7v5.4h-2.7zM184.3 493.7h3.7v5.4h-3.7zM228.4 75.0h5.4v10.9h-5.4zM170.3 123.9h5.5v5.4h-5.5zM170.3 178.3h5.5v10.9h-5.5z"/>
<path fill="rgb(159,159,159)" d="M139.8 254.4h2.2v5.4h-2.2zM142.0 216.4h2.3v5.4h-2.3zM144.3 216.4h2.3v5.4h-2.3zM146.6 210.9h2.4v5.4h-2.4zM151.4 75.0h2.5v10.9h-2.5zM151.4 210.9h2.5v5.4h-2.5zM159.3 75.0h2.8v10.9h-2.8zM162.1 216.4h2.9v5.4h-2.9zM174.0 96.8h3.3v5.4h-3.3zM177.3 210.9h3.4v5.4h-3.4zM184.3 210.9h3.7v5.4h-3.7zM156.0 178.3h3.6v5.4h-3.6zM170.3 91.3h5.5v10.9h-5.5z"/>
<path fill="rgb(162,162,162)" d="M139.8 210.9h2.2v5.4h-2.2zM144.3 210.9h2.3v5.4h-2.3zM146.6 265.3h2.4v5.4h-2.4zM151.4 270.8h2.5v5.4h-2.5zM159.3 210.9h2.8v5.4h-2.8zM159.3 254.4h2.8v5.4h-2.8zM174.0 75.0h3.3v10.9h-3.3zM177.3 216.4h3.4v5.4h-3.4zM223.2 75.0h5.2v10.9h-5.2zM139.0 221.8h4.0v5.4h-4.0zM156.0 80.4h3.6v5.4h-3.6zM156.0 129.4h3.6v5.4h-3.6zM170.3 189.2h5.5v5.4h-5.5zM212.0 91.3h4.0v5.4h-4.0zM228.0 107.6h4.4v5.4h-4.4z"/>
<path fill="rgb(165,165,165)" d="M144.3 265.3h2.3v5.4h-2.3zM154.0 259.9h2.6v5.4h-2.6zM159.3 216.4h2.8v5.4h-2.8zM156.0 156.6h3.6v5.4h-3.6zM156.0 200.1h3.6v16.3h-3.6zM170.3 167.4h5.5v5.4h-5.5z"/>
<path fill="rgb(168,168,168)" d="M146.6 216.4h2.4v5.4h-2.4zM156.6 85.9h2.7v5.4h-2.7zM195.8 216.4h4.1v5.4h-4.1zM199.9 210.9h4.3v5.4h-4.3zM223.2 96.8h5.2v5.4h-5.2zM139.0 129.4h4.0v5.4h-4.0zM156.0 123.9h3.6v5.4h-3.6zM170.3 162.0h5.5v5.4h-5.5zM170.3 172.9h5.5v5.4h-5.5zM212.0 80.4h4.0v5.4h-4.0zM228.0 123.9h4.4v5.4h-4.4z"/>
<path fill="rgb(171,171,171)" d="M135.6 216.4h2.1v5.4h-2.1zM139.8 276.2h2.2v5.4h-2.2zM146.6 254.4h2.4v5.4h-2.4zM146.6 270.8h2.4v5.4h-2.4zM149.0 276.2h2.5v5.4h-2.5zM156.6 259.9h2.7v5.4h-2.7zM162.1 75.0h2.9v10.9h-2.9zM204.2 75.0h4.5v10.9h-4.5zM156.0 102.2h3.6v5.4h-3.6zM170.3 102.2h5.5v5.4h-5.5z"/>
<path fill="rgb(174,174,174)" d="M146.6 259.9h2.4v5.4h-2.4zM149.0 254.4h2.5v5.4h-2.5zM191.8 216.4h4.0v5.4h-4.0zM208.7 75.0h4.7v10.9h-4.7zM223.2 91.3h5.2v5.4h-5.2zM139.0 85.9h4.0v5.4h-4.0zM139.0 162.0h4.0v5.4h-4.0zM139.0 210.9h4.0v5.4h-4.0zM156.0 113.1h3.6v5.4h-3.6zM156.0 162.0h3.6v5.4h-3.6zM156.0 189.2h3.6v5.4h-3.6zM170.3 151.1h5.5v5.4h-5.5zM212.0 96.8h4.0v5.4h-4.0zM228.0 91.3h4.4v5.4h-4.4z"/>
<path fill="rgb(177,177,177)" d="M144.3 75.0h2.3v10.9h-2.3zM159.3 270.8h2.8v5.4h-2.8zM162.1 85.9h2.9v5.4h-2.9zM139.0 118.5h4.0v5.4h-4.0zM156.0 172.9h3.6v5.4h-3.6zM170.3 134.8h5.5v10.9h-5.5zM170.3 156.6h5.5v5.4h-5.5zM228.0 102.2h4.4v5.4h-4.4z"/>
<path fill="rgb(180,180,180)" d="M137.7 210.9h2.1v5.4h-2.1zM156.6 254.4h2.7v5.4h-2.7zM204.2 216.4h4.5v5.4h-4.5zM139.0 80.4h4.0v5.4h-4.0zM139.0 183.8h4.0v5.4h-4.0zM139.0 194.6h4.0v5.4h-4.0zM156.0 167.4h3.6v5.4h-3.6zM212.0 107.6h4.0v5.4h-4.0z"/>
<path fill="rgb(183,183,183)" d="M149.0 259.9h2.5v5.4h-2.5zM223.2 85.9h5.2v5.4h-5.2zM139.0 75.0h4.0v5.4h-4.0zM139.0 172.9h4.0v5.4h-4.0z"/>
<path fill="rgb(186,186,186)" d="M142.0 254.4h2.3v5.4h-2.3zM156.6 75.0h2.7v10.9h-2.7zM164.9 75.0h2.9v10.9h-2.9zM139.0 113.1h4.0v5.4h-4.0zM139.0 123.9h4.0v5.4h-4.0zM139.0 167.4h4.0v5.4h-4.0zM156.0 91.3h3.6v5.4h-3.6zM156.0 140.2h3.6v10.9h-3.6zM156.0 194.6h3.6v5.4h-3.6zM228.0 75.0h4.4v5.4h-4.4z"/>
<path fill="rgb(189,189,189)" d="M149.0 85.9h2.5v5.4h-2.5zM170.9 75.0h3.2v10.9h-3.2zM174.0 210.9h3.3v5.4h-3.3zM184.3 85.9h3.7v5.4h-3.7zM188.0 75.0h3.8v10.9h-3.8zM139.0 134.8h4.0v5.4h-4.0zM156.0 96.8h3.6v5.4h-3.6zM212.0 85.9h4.0v5.4h-4.0zM212.0 102.2h4.0v5.4h-4.0zM228.0 80.4h4.4v10.9h-4.4zM228.0 118.5h4.4v5.4h-4.4z"/>
<path fill="rgb(192,192,192)" d="M159.3 85.9h2.8v5.4h-2.8zM184.3 91.3h3.7v5.4h-3.7zM139.0 145.7h4.0v5.4h-4.0zM139.0 200.1h4.0v5.4h-4.0zM139.0 216.4h4.0v5.4h-4.0z"/>
<path fill="rgb(195,195,195)" d="M180.7 75.0h3.5v10.9h-3.5zM199.9 75.0h4.3v10.9h-4.3zM139.0 96.8h4.0v5.4h-4.0zM156.0 75.0h3.6v5.4h-3.6zM228.0 96.8h4.4v5.4h-4.4zM228.0 129.4h4.4v5.4h-4.4z"/>
<path fill="rgb(198,198,198)" d="M213.3 75.0h4.8v10.9h-4.8zM139.0 91.3h4.0v5.4h-4.0zM170.3 118.5h5.5v5.4h-5.5zM228.0 113.1h4.4v5.4h-4.4z"/>
<path fill="rgb(201,201,201)" d="M139.0 178.3h4.0v5.4h-4.0zM156.0 134.8h3.6v5.4h-3.6zM156.0 183.8h3.6v5.4h-3.6z"/>
<path fill="rgb(204,204,204)" d="M139.8 259.9h2.2v5.4h-2.2zM139.0 156.6h4.0v5.4h-4.0zM139.0 189.2h4.0v5.4h-4.0zM156.0 107.6h3.6v5.4h-3.6z"/>
<path fill="rgb(207,207,207)" d="M191.8 75.0h4.0v10.9h-4.0zM156.0 85.9h3.6v5.4h-3.6z"/>
<path fill="rgb(210,210,210)" d="M156.0 151.1h3.6v5.4h-3.6z"/>
<path fill="rgb(213,213,213)" d="M139.0 140.2h4.0v5.4h-4.0zM139.0 205.5h4.0v5.4h-4.0z"/>
<path fill="rgb(216,216,216)" d="M139.0 151.1h4.0v5.4h-4.0z"/>
</g>
<g clip-path="url(#c2)" filter="url(#f2)">
<path fill="rgb(27,27,27)" d="M218.4 254.4h4.5v5.4h-4.5zM218.4 265.3h4.5v5.4h-4.5zM218.4 395.8h4.5v5.4h-4.5zM218.4 450.2h4.5v5.4h-4.5zM218.4 471.9h4.5v5.4h-4.5zM223.5 118.5h4.7v5.4h-4.7zM223.5 156.6h4.7v5.4h-4.7zM223.5 238.1h4.7v5.4h-4.7zM223.5 281.6h4.7v5.4h-4.7zM223.5 319.7h4.7v5.4h-4.7zM223.5 461.1h4.7v5.4h-4.7zM228.7 118.5h4.9v5.4h-4.9zM228.7 167.4h4.9v5.4h-4.9zM228.7 308.8h4.9v5.4h-4.9zM228.7 319.7h4.9v5.4h-4.9zM228.7 346.9h4.9v10.9h-4.9zM228.7 433.9h4.9v10.9h-4.9zM228.7 471.9h4.9v5.4h-4.9zM234.2 216.4h5.1v5.4h-5.1zM234.2 292.5h5.1v5.4h-5.1zM234.2 346.9h5.1v5.4h-5.1zM234.2 444.8h5.1v5.4h-5.1zM234.2 477.4h5.1v5.4h-5.1zM239.9 107.6h5.3v5.4h-5.3zM239.9 249.0h5.3v5.4h-5.3zM239.9 325.1h5.3v5.4h-5.3zM239.9 336.0h5.3v5.4h-5.3zM245.8 292.5h5.6v5.4h-5.6zM245.8 303.4h5.6v5.4h-5.6zM245.8 319.7h5.6v5.4h-5.6zM252.0 178.3h5.8v5.4h-5.8zM252.0 221.8h5.8v5.4h-5.8zM252.0 265.3h5.8v5.4h-5.8zM252.0 488.2h5.8v10.9h-5.8zM258.5 292.5h6.1v5.4h-6.1zM258.5 493.7h6.1v5.4h-6.1zM265.2 167.4h6.3v5.4h-6.3zM265.2 189.2h6.3v5.4h-6.3zM265.2 450.2h6.3v5.4h-6.3zM265.2 466.5h6.3v5.4h-6.3zM265.2 477.4h6.3v5.4h-6.3zM272.3 162.0h6.6v5.4h-6.6zM272.3 183.8h6.6v5.4h-6.6zM272.3 314.2h6.6v5.4h-6.6zM272.3 368.6h6.6v5.4h-6.6zM272.3 461.1h6.6v5.4h-6.6zM279.7 406.7h6.9v5.4h-6.9zM287.4 270.8h7.2v5.4h-7.2zM287.4 390.4h7.2v5.4h-7.2zM287.4 444.8h7.2v10.9h-7.2zM287.4 477.4h7.2v5.4h-7.2zM435.8 129.4h8.6v5.4h-8.6zM435.8 200.1h8.6v10.9h-8.6zM435.8 243.6h8.6v5.4h-8.6zM435.8 308.8h8.6v5.4h-8.6zM435.8 336.0h8.6v5.4h-8.6zM435.8 395.8h8.6v5.4h-8.6zM435.8 412.1h8.6v5.4h-8.6zM435.8 423.0h8.6v5.4h-8.6zM435.8 433.9h8.6v5.4h-8.6zM435.8 461.1h8.6v5.4h-8.6zM435.8 477.4h8.6v21.8h-8.6zM445.4 113.1h9.4v5.4h-9.4zM445.4 156.6h9.4v5.4h-9.4zM445.4 243.6h9.4v5.4h-9.4zM445.4 265.3h9.4v5.4h-9.4zM445.4 303.4h9.4v5.4h-9.4zM445.4 319.7h9.4v5.4h-9.4zM445.4 466.5h9.4v5.4h-9.4zM445.4 493.7h9.4v5.4h-9.4z"/>
<path fill="rgb(30,30,30)" d="M218.4 401.2h4.5v5.4h-4.5zM223.5 287.1h4.7v5.4h-4.7zM223.5 455.6h4.7v5.4h-4.7zM223.5 499.1h4.7v5.4h-4.7zM228.7 162.0h4.9v5.4h-4.9zM228.7 450.2h4.9v5.4h-4.9zM239.9 243.6h5.3v5.4h-5.3zM252.0 259.9h5.8v5.4h-5.8zM265.2 200.1h6.3v5.4h-6.3zM265.2 210.9h6.3v5.4h-6.3zM279.7 417.6h6.9v5.4h-6.9zM287.4 341.4h7.2v5.4h-7.2zM435.8 259.9h8.6v5.4h-8.6zM435.8 379.5h8.6v5.4h-8.6zM445.4 254.4h9.4v5.4h-9.4z"/>
<path fill="rgb(33,33,33)" d="M218.4 276.2h4.5v5.4h-4.5zM218.4 330.6h4.5v5.4h-4.5zM218.4 384.9h4.5v5.4h-4.5zM223.5 406.7h4.7v5.4h-4.7zM245.8 254.4h5.6v5.4h-5.6zM252.0 433.9h5.8v5.4h-5.8zM258.5 390.4h6.1v5.4h-6.1zM272.3 145.7h6.6v5.4h-6.6zM272.3 395.8h6.6v5.4h-6.6zM287.4 254.4h7.2v5.4h-7.2zM435.8 123.9h8.6v5.4h-8.6zM435.8 134.8h8.6v10.9h-8.6zM435.8 172.9h8.6v5.4h-8.6zM435.8 254.4h8.6v5.4h-8.6zM435.8 303.4h8.6v5.4h-8.6zM435.8 390.4h8.6v5.4h-8.6zM445.4 189.2h9.4v5.4h-9.4zM445.4 200.1h9.4v5.4h-9.4zM445.4 330.6h9.4v5.4h-9.4z"/>
<path fill="rgb(36,36,36)" d="M218.4 319.7h4.5v5.4h-4.5zM223.5 205.5h4.7v5.4h-4.7zM223.5 341.4h4.7v5.4h-4.7zM223.5 417.6h4.7v5.4h-4.7zM228.7 395.8h4.9v5.4h-4.9zM234.2 325.1h5.1v5.4h-5.1zM239.9 118.5h5.3v5.4h-5.3zM239.9 145.7h5.3v5.4h-5.3zM239.9 471.9h5.3v5.4h-5.3zM245.8 232.7h5.6v5.4h-5.6zM252.0 162.0h5.8v5.4h-5.8zM252.0 439.3h5.8v5.4h-5.8zM258.5 357.8h6.1v5.4h-6.1zM258.5 384.9h6.1v5.4h-6.1zM258.5 406.7h6.1v5.4h-6.1zM265.2 325.1h6.3v5.4h-6.3zM265.2 352.3h6.3v5.4h-6.3zM272.3 357.8h6.6v5.4h-6.6zM272.3 384.9h6.6v5.4h-6.6zM279.7 374.1h6.9v5.4h-6.9zM279.7 504.6h6.9v17.4h-6.9zM287.4 221.8h7.2v5.4h-7.2zM295.4 200.1h7.5v5.4h-7.5zM435.8 156.6h8.6v5.4h-8.6zM435.8 194.6h8.6v5.4h-8.6zM435.8 221.8h8.6v5.4h-8.6zM435.8 346.9h8.6v5.4h-8.6zM445.4 194.6h9.4v5.4h-9.4zM445.4 221.8h9.4v16.3h-9.4zM445.4 390.4h9.4v5.4h-9.4z"/>
<path fill="rgb(39,39,39)" d="M223.5 134.8h4.7v5.4h-4.7zM223.5 308.8h4.7v5.4h-4.7zM239.9 140.2h5.3v5.4h-5.3zM245.8 194.6h5.6v5.4h-5.6zM245.8 466.5h5.6v5.4h-5.6zM245.8 499.1h5.6v5.4h-5.6zM252.0 167.4h5.8v5.4h-5.8zM252.0 423.0h5.8v5.4h-5.8zM252.0 466.5h5.8v5.4h-5.8zM258.5 238.1h6.1v5.4h-6.1zM258.5 417.6h6.1v5.4h-6.1zM258.5 450.2h6.1v5.4h-6.1zM258.5 466.5h6.1v5.4h-6.1zM258.5 477.4h6.1v5.4h-6.1zM265.2 140.2h6.3v5.4h-6.3zM272.3 200.1h6.6v5.4h-6.6zM279.7 151.1h6.9v5.4h-6.9zM287.4 412.1h7.2v10.9h-7.2zM435.8 178.3h8.6v5.4h-8.6zM435.8 216.4h8.6v5.4h-8.6zM435.8 227.2h8.6v5.4h-8.6zM435.8 384.9h8.6v5.4h-8.6zM435.8 455.6h8.6v5.4h-8.6zM445.4 134.8h9.4v5.4h-9.4zM445.4 395.8h9.4v5.4h-9.4zM445.4 471.9h9.4v5.4h-9.4z"/>
<path fill="rgb(42,42,42)" d="M218.4 297.9h4.5v5.4h-4.5zM218.4 423.0h4.5v5.4h-4.5zM223.5 471.9h4.7v5.4h-4.7zM228.7 129.4h4.9v5.4h-4.9zM228.7 330.6h4.9v5.4h-4.9zM239.9 227.2h5.3v5.4h-5.3zM239.9 265.3h5.3v5.4h-5.3zM239.9 357.8h5.3v5.4h-5.3zM239.9 374.1h5.3v5.4h-5.3zM239.9 488.2h5.3v5.4h-5.3zM245.8 336.0h5.6v5.4h-5.6zM252.0 243.6h5.8v5.4h-5.8zM258.5 346.9h6.1v5.4h-6.1zM265.2 162.0h6.3v5.4h-6.3zM265.2 265.3h6.3v5.4h-6.3zM265.2 384.9h6.3v5.4h-6.3zM272.3 134.8h6.6v5.4h-6.6zM272.3 189.2h6.6v5.4h-6.6zM272.3 259.9h6.6v5.4h-6.6zM272.3 276.2h6.6v5.4h-6.6zM272.3 455.6h6.6v5.4h-6.6zM279.7 189.2h6.9v5.4h-6.9zM279.7 232.7h6.9v5.4h-6.9zM279.7 243.6h6.9v5.4h-6.9zM279.7 336.0h6.9v5.4h-6.9zM279.7 439.3h6.9v5.4h-6.9zM279.7 477.4h6.9v5.4h-6.9zM287.4 276.2h7.2v5.4h-7.2zM303.8 145.7h7.7v5.4h-7.7zM303.8 221.8h7.7v5.4h-7.7zM303.8 287.1h7.7v5.4h-7.7zM312.4 113.1h7.8v5.4h-7.8zM312.4 123.9h7.8v5.4h-7.8zM312.4 216.4h7.8v5.4h-7.8zM312.4 314.2h7.8v5.4h-7.8zM312.4 384.9h7.8v5.4h-7.8zM312.4 401.2h7.8v5.4h-7.8zM312.4 439.3h7.8v10.9h-7.8zM312.4 493.7h7.8v5.4h-7.8zM321.0 183.8h7.8v5.4h-7.8zM321.0 227.2h7.8v5.4h-7.8zM321.0 352.3h7.8v5.4h-7.8zM321.0 461.1h7.8v5.4h-7.8zM329.7 178.3h7.8v5.4h-7.8zM329.7 216.4h7.8v5.4h-7.8zM329.7 357.8h7.8v5.4h-7.8zM329.7 428.4h7.8v5.4h-7.8zM329.7 466.5h7.8v5.4h-7.8zM338.4 314.2h7.8v5.4h-7.8zM338.4 374.1h7.8v5.4h-7.8zM347.1 167.4h7.9v5.4h-7.9zM347.1 270.8h7.9v5.4h-7.9zM347.1 281.6h7.9v5.4h-7.9zM347.1 374.1h7.9v5.4h-7.9zM355.9 167.4h7.9v5.4h-7.9zM355.9 232.7h7.9v5.4h-7.9zM355.9 259.9h7.9v5.4h-7.9zM355.9 270.8h7.9v5.4h-7.9zM355.9 297.9h7.9v5.4h-7.9zM355.9 319.7h7.9v5.4h-7.9zM355.9 341.4h7.9v5.4h-7.9zM355.9 363.2h7.9v5.4h-7.9zM355.9 471.9h7.9v5.4h-7.9zM364.6 200.1h7.9v10.9h-7.9zM364.6 325.1h7.9v5.4h-7.9zM373.4 151.1h7.9v5.4h-7.9zM373.4 162.0h7.9v5.4h-7.9zM373.4 243.6h7.9v5.4h-7.9zM373.4 346.9h7.9v10.9h-7.9zM373.4 488.2h7.9v5.4h-7.9zM382.3 189.2h8.0v5.4h-8.0zM382.3 205.5h8.0v5.4h-8.0zM382.3 265.3h8.0v5.4h-8.0zM382.3 287.1h8.0v5.4h-8.0zM382.3 390.4h8.0v5.4h-8.0zM382.3 455.6h8.0v10.9h-8.0zM391.1 102.2h8.0v5.4h-8.0zM391.1 145.7h8.0v5.4h-8.0zM391.1 259.9h8.0v5.4h-8.0zM391.1 368.6h8.0v5.4h-8.0zM391.1 504.6h8.0v17.4h-8.0zM400.0 145.7h8.0v5.4h-8.0zM400.0 156.6h8.0v5.4h-8.0zM400.0 172.9h8.0v5.4h-8.0zM400.0 254.4h8.0v5.4h-8.0zM400.0 406.7h8.0v5.4h-8.0zM400.0 477.4h8.0v10.9h-8.0zM408.9 287.1h8.0v5.4h-8.0zM408.9 363.2h8.0v5.4h-8.0zM408.9 384.9h8.0v5.4h-8.0zM417.8 118.5h8.1v5.4h-8.1zM417.8 183.8h8.1v5.4h-8.1zM417.8 297.9h8.1v16.3h-8.1zM417.8 395.8h8.1v5.4h-8.1zM426.8 167.4h8.1v5.4h-8.1zM426.8 303.4h8.1v5.4h-8.1zM426.8 417.6h8.1v5.4h-8.1zM435.8 232.7h8.6v5.4h-8.6zM435.8 281.6h8.6v5.4h-8.6zM435.8 297.9h8.6v5.4h-8.6zM435.8 406.7h8.6v5.4h-8.6zM445.4 178.3h9.4v5.4h-9.4zM445.4 210.9h9.4v5.4h-9.4zM445.4 450.2h9.4v5.4h-9.4zM445.4 461.1h9.4v5.4h-9.4z"/>
<path fill="rgb(45,45,45)" d="M218.4 189.2h4.5v5.4h-4.5zM218.4 227.2h4.5v5.4h-4.5zM218.4 341.4h4.5v5.4h-4.5zM218.4 444.8h4.5v5.4h-4.5zM218.4 455.6h4.5v5.4h-4.5zM223.5 151.1h4.7v5.4h-4.7zM223.5 172.9h4.7v5.4h-4.7zM223.5 189.2h4.7v5.4h-4.7zM223.5 346.9h4.7v5.4h-4.7zM228.7 406.7h4.9v5.4h-4.9zM234.2 401.2h5.1v10.9h-5.1zM234.2 471.9h5.1v5.4h-5.1zM239.9 183.8h5.3v5.4h-5.3zM245.8 287.1h5.6v5.4h-5.6zM245.8 352.3h5.6v5.4h-5.6zM252.0 319.7h5.8v5.4h-5.8zM258.5 167.4h6.1v5.4h-6.1zM258.5 200.1h6.1v5.4h-6.1zM258.5 341.4h6.1v5.4h-6.1zM258.5 439.3h6.1v5.4h-6.1zM265.2 341.4h6.3v5.4h-6.3zM272.3 254.4h6.6v5.4h-6.6zM272.3 341.4h6.6v5.4h-6.6zM272.3 417.6h6.6v5.4h-6.6zM272.3 439.3h6.6v5.4h-6.6zM279.7 167.4h6.9v5.4h-6.9zM303.8 357.8h7.7v5.4h-7.7zM303.8 379.5h7.7v5.4h-7.7zM303.8 493.7h7.7v5.4h-7.7zM303.8 504.6h7.7v17.4h-7.7zM312.4 194.6h7.8v5.4h-7.8zM312.4 210.9h7.8v5.4h-7.8zM312.4 368.6h7.8v5.4h-7.8zM312.4 466.5h7.8v5.4h-7.8zM321.0 276.2h7.8v5.4h-7.8zM321.0 363.2h7.8v5.4h-7.8zM321.0 428.4h7.8v5.4h-7.8zM321.0 493.7h7.8v5.4h-7.8zM338.4 107.6h7.8v5.4h-7.8zM338.4 123.9h7.8v5.4h-7.8zM338.4 183.8h7.8v5.4h-7.8zM338.4 232.7h7.8v5.4h-7.8zM338.4 336.0h7.8v5.4h-7.8zM347.1 129.4h7.9v5.4h-7.9zM347.1 189.2h7.9v10.9h-7.9zM355.9 178.3h7.9v5.4h-7.9zM355.9 194.6h7.9v5.4h-7.9zM355.9 308.8h7.9v5.4h-7.9zM364.6 134.8h7.9v5.4h-7.9zM364.6 162.0h7.9v10.9h-7.9zM364.6 210.9h7.9v5.4h-7.9zM364.6 297.9h7.9v5.4h-7.9zM364.6 346.9h7.9v5.4h-7.9zM364.6 423.0h7.9v5.4h-7.9zM364.6 488.2h7.9v5.4h-7.9zM373.4 368.6h7.9v5.4h-7.9zM382.3 140.2h8.0v5.4h-8.0zM382.3 210.9h8.0v5.4h-8.0zM391.1 134.8h8.0v5.4h-8.0zM391.1 499.1h8.0v5.4h-8.0zM400.0 221.8h8.0v5.4h-8.0zM400.0 238.1h8.0v5.4h-8.0zM400.0 341.4h8.0v5.4h-8.0zM400.0 390.4h8.0v5.4h-8.0zM400.0 412.1h8.0v5.4h-8.0zM400.0 461.1h8.0v5.4h-8.0zM400.0 504.6h8.0v17.4h-8.0zM408.9 423.0h8.0v5.4h-8.0zM408.9 466.5h8.0v5.4h-8.0zM417.8 123.9h8.1v5.4h-8.1zM417.8 151.1h8.1v5.4h-8.1zM417.8 281.6h8.1v5.4h-8.1zM417.8 439.3h8.1v5.4h-8.1zM417.8 488.2h8.1v10.9h-8.1zM417.8 504.6h8.1v17.4h-8.1zM426.8 205.5h8.1v5.4h-8.1zM426.8 297.9h8.1v5.4h-8.1zM426.8 346.9h8.1v10.9h-8.1zM426.8 384.9h8.1v5.4h-8.1zM435.8 210.9h8.6v5.4h-8.6zM435.8 265.3h8.6v5.4h-8.6zM445.4 123.9h9.4v5.4h-9.4zM445.4 167.4h9.4v10.9h-9.4zM445.4 259.9h9.4v5.4h-9.4zM445.4 276.2h9.4v5.4h-9.4zM445.4 363.2h9.4v5.4h-9.4zM445.4 384.9h9.4v5.4h-9.4zM445.4 428.4h9.4v5.4h-9.4zM445.4 488.2h9.4v5.4h-9.4zM445.4 499.1h9.4v5.4h-9.4z"/>
<path fill="rgb(48,48,48)" d="M223.5 167.4h4.7v5.4h-4.7zM223.5 178.3h4.7v5.4h-4.7zM223.5 401.2h4.7v5.4h-4.7zM223.5 439.3h4.7v5.4h-4.7zM228.7 221.8h4.9v5.4h-4.9zM228.7 336.0h4.9v5.4h-4.9zM228.7 466.5h4.9v5.4h-4.9zM228.7 488.2h4.9v5.4h-4.9zM234.2 450.2h5.1v5.4h-5.1zM234.2 504.6h5.1v17.4h-5.1zM239.9 216.4h5.3v5.4h-5.3zM239.9 254.4h5.3v5.4h-5.3zM239.9 270.8h5.3v16.3h-5.3zM239.9 395.8h5.3v5.4h-5.3zM239.9 461.1h5.3v5.4h-5.3zM245.8 145.7h5.6v5.4h-5.6zM245.8 357.8h5.6v5.4h-5.6zM245.8 439.3h5.6v5.4h-5.6zM252.0 254.4h5.8v5.4h-5.8zM252.0 314.2h5.8v5.4h-5.8zM252.0 363.2h5.8v5.4h-5.8zM252.0 390.4h5.8v5.4h-5.8zM258.5 216.4h6.1v5.4h-6.1zM258.5 303.4h6.1v10.9h-6.1zM258.5 428.4h6.1v5.4h-6.1zM265.2 406.7h6.3v5.4h-6.3zM272.3 249.0h6.6v5.4h-6.6zM279.7 205.5h6.9v5.4h-6.9zM279.7 238.1h6.9v5.4h-6.9zM279.7 314.2h6.9v5.4h-6.9zM279.7 384.9h6.9v5.4h-6.9zM279.7 428.4h6.9v5.4h-6.9zM287.4 134.8h7.2v10.9h-7.2zM287.4 265.3h7.2v5.4h-7.2zM287.4 395.8h7.2v5.4h-7.2zM287.4 482.8h7.2v5.4h-7.2zM295.4 162.0h7.5v5.4h-7.5zM303.8 134.8h7.7v5.4h-7.7zM303.8 259.9h7.7v5.4h-7.7zM303.8 461.1h7.7v5.4h-7.7zM303.8 471.9h7.7v5.4h-7.7zM312.4 129.4h7.8v5.4h-7.8zM312.4 183.8h7.8v5.4h-7.8zM312.4 319.7h7.8v5.4h-7.8zM312.4 412.1h7.8v5.4h-7.8zM321.0 216.4h7.8v5.4h-7.8zM321.0 423.0h7.8v5.4h-7.8zM321.0 444.8h7.8v5.4h-7.8zM329.7 210.9h7.8v5.4h-7.8zM329.7 238.1h7.8v5.4h-7.8zM329.7 249.0h7.8v5.4h-7.8zM338.4 118.5h7.8v5.4h-7.8zM338.4 243.6h7.8v5.4h-7.8zM338.4 303.4h7.8v5.4h-7.8zM338.4 450.2h7.8v10.9h-7.8zM347.1 172.9h7.9v5.4h-7.9zM347.1 357.8h7.9v5.4h-7.9zM347.1 471.9h7.9v5.4h-7.9zM347.1 482.8h7.9v5.4h-7.9zM355.9 330.6h7.9v5.4h-7.9zM355.9 390.4h7.9v5.4h-7.9zM364.6 151.1h7.9v5.4h-7.9zM364.6 314.2h7.9v5.4h-7.9zM364.6 352.3h7.9v5.4h-7.9zM373.4 319.7h7.9v5.4h-7.9zM373.4 499.1h7.9v5.4h-7.9zM382.3 151.1h8.0v10.9h-8.0zM382.3 172.9h8.0v5.4h-8.0zM382.3 346.9h8.0v5.4h-8.0zM382.3 363.2h8.0v5.4h-8.0zM382.3 379.5h8.0v5.4h-8.0zM382.3 471.9h8.0v5.4h-8.0zM391.1 417.6h8.0v5.4h-8.0zM400.0 123.9h8.0v5.4h-8.0zM400.0 281.6h8.0v5.4h-8.0zM400.0 336.0h8.0v5.4h-8.0zM400.0 423.0h8.0v5.4h-8.0zM408.9 145.7h8.0v5.4h-8.0zM408.9 162.0h8.0v5.4h-8.0zM408.9 346.9h8.0v5.4h-8.0zM417.8 200.1h8.1v5.4h-8.1zM417.8 216.4h8.1v5.4h-8.1zM417.8 249.0h8.1v10.9h-8.1zM417.8 287.1h8.1v5.4h-8.1zM417.8 374.1h8.1v5.4h-8.1zM417.8 412.1h8.1v5.4h-8.1zM426.8 319.7h8.1v5.4h-8.1zM435.8 189.2h8.6v5.4h-8.6zM435.8 319.7h8.6v5.4h-8.6zM435.8 352.3h8.6v5.4h-8.6zM445.4 151.1h9.4v5.4h-9.4zM445.4 183.8h9.4v5.4h-9.4zM445.4 270.8h9.4v5.4h-9.4zM445.4 325.1h9.4v5.4h-9.4zM445.4 346.9h9.4v5.4h-9.4zM445.4 374.1h9.4v5.4h-9.4zM445.4 406.7h9.4v5.4h-9.4zM445.4 455.6h9.4v5.4h-9.4zM445.4 477.4h9.4v5.4h-9.4z"/>
<path fill="rgb(51,51,51)" d="M218.4 123.9h4.5v5.4h-4.5zM218.4 162.0h4.5v5.4h-4.5zM218.4 249.0h4.5v5.4h-4.5zM223.5 363.2h4.7v5.4h-4.7zM223.5 412.1h4.7v5.4h-4.7zM228.7 390.4h4.9v5.4h-4.9zM228.7 482.8h4.9v5.4h-4.9zM234.2 221.8h5.1v5.4h-5.1zM234.2 238.1h5.1v5.4h-5.1zM234.2 276.2h5.1v5.4h-5.1zM234.2 287.1h5.1v5.4h-5.1zM234.2 461.1h5.1v5.4h-5.1zM239.9 221.8h5.3v5.4h-5.3zM239.9 363.2h5.3v5.4h-5.3zM239.9 379.5h5.3v5.4h-5.3zM239.9 406.7h5.3v5.4h-5.3zM239.9 439.3h5.3v5.4h-5.3zM239.9 477.4h5.3v5.4h-5.3zM245.8 314.2h5.6v5.4h-5.6zM245.8 488.2h5.6v5.4h-5.6zM252.0 346.9h5.8v5.4h-5.8zM252.0 401.2h5.8v5.4h-5.8zM252.0 450.2h5.8v5.4h-5.8zM258.5 172.9h6.1v5.4h-6.1zM258.5 259.9h6.1v5.4h-6.1zM258.5 297.9h6.1v5.4h-6.1zM265.2 107.6h6.3v5.4h-6.3zM265.2 129.4h6.3v5.4h-6.3zM265.2 221.8h6.3v5.4h-6.3zM265.2 471.9h6.3v5.4h-6.3zM272.3 330.6h6.6v5.4h-6.6zM272.3 488.2h6.6v5.4h-6.6zM279.7 259.9h6.9v5.4h-6.9zM279.7 433.9h6.9v5.4h-6.9zM287.4 123.9h7.2v5.4h-7.2zM287.4 287.1h7.2v5.4h-7.2zM287.4 352.3h7.2v5.4h-7.2zM295.4 265.3h7.5v5.4h-7.5zM303.8 243.6h7.7v5.4h-7.7zM303.8 303.4h7.7v5.4h-7.7zM312.4 254.4h7.8v5.4h-7.8zM312.4 270.8h7.8v5.4h-7.8zM312.4 477.4h7.8v5.4h-7.8zM321.0 210.9h7.8v5.4h-7.8zM321.0 238.1h7.8v5.4h-7.8zM321.0 330.6h7.8v5.4h-7.8zM321.0 395.8h7.8v5.4h-7.8zM321.0 406.7h7.8v5.4h-7.8zM321.0 433.9h7.8v5.4h-7.8zM321.0 471.9h7.8v5.4h-7.8zM329.7 145.7h7.8v5.4h-7.8zM329.7 167.4h7.8v5.4h-7.8zM329.7 308.8h7.8v5.4h-7.8zM329.7 363.2h7.8v5.4h-7.8zM329.7 493.7h7.8v10.9h-7.8zM338.4 205.5h7.8v5.4h-7.8zM338.4 254.4h7.8v5.4h-7.8zM338.4 395.8h7.8v5.4h-7.8zM338.4 444.8h7.8v5.4h-7.8zM347.1 134.8h7.9v5.4h-7.9zM347.1 297.9h7.9v5.4h-7.9zM355.9 129.4h7.9v5.4h-7.9zM355.9 281.6h7.9v5.4h-7.9zM355.9 303.4h7.9v5.4h-7.9zM355.9 444.8h7.9v10.9h-7.9zM364.6 243.6h7.9v5.4h-7.9zM364.6 287.1h7.9v5.4h-7.9zM364.6 384.9h7.9v5.4h-7.9zM373.4 183.8h7.9v5.4h-7.9zM373.4 200.1h7.9v10.9h-7.9zM373.4 287.1h7.9v5.4h-7.9zM373.4 374.1h7.9v5.4h-7.9zM382.3 221.8h8.0v5.4h-8.0zM382.3 417.6h8.0v5.4h-8.0zM391.1 189.2h8.0v5.4h-8.0zM391.1 205.5h8.0v5.4h-8.0zM391.1 428.4h8.0v5.4h-8.0zM391.1 477.4h8.0v5.4h-8.0zM400.0 183.8h8.0v5.4h-8.0zM408.9 134.8h8.0v5.4h-8.0zM408.9 232.7h8.0v10.9h-8.0zM408.9 352.3h8.0v5.4h-8.0zM417.8 368.6h8.1v5.4h-8.1zM417.8 477.4h8.1v5.4h-8.1zM417.8 499.1h8.1v5.4h-8.1zM426.8 330.6h8.1v5.4h-8.1zM426.8 390.4h8.1v5.4h-8.1zM426.8 428.4h8.1v5.4h-8.1zM435.8 325.1h8.6v5.4h-8.6zM435.8 368.6h8.6v5.4h-8.6zM435.8 471.9h8.6v5.4h-8.6zM445.4 352.3h9.4v10.9h-9.4zM445.4 368.6h9.4v5.4h-9.4zM445.4 379.5h9.4v5.4h-9.4zM445.4 482.8h9.4v5.4h-9.4z"/>
<path fill="rgb(54,54,54)" d="M218.4 314.2h4.5v5.4h-4.5zM218.4 406.7h4.5v5.4h-4.5zM223.5 330.6h4.7v5.4h-4.7zM223.5 488.2h4.7v5.4h-4.7zM228.7 368.6h4.9v5.4h-4.9zM228.7 401.2h4.9v5.4h-4.9zM234.2 232.7h5.1v5.4h-5.1zM234.2 243.6h5.1v5.4h-5.1zM234.2 466.5h5.1v5.4h-5.1zM239.9 232.7h5.3v5.4h-5.3zM239.9 444.8h5.3v5.4h-5.3zM245.8 140.2h5.6v5.4h-5.6zM245.8 205.5h5.6v5.4h-5.6zM245.8 238.1h5.6v5.4h-5.6zM245.8 412.1h5.6v5.4h-5.6zM245.8 450.2h5.6v5.4h-5.6zM252.0 444.8h5.8v5.4h-5.8zM252.0 455.6h5.8v5.4h-5.8zM258.5 287.1h6.1v5.4h-6.1zM265.2 482.8h6.3v5.4h-6.3zM272.3 113.1h6.6v5.4h-6.6zM272.3 265.3h6.6v5.4h-6.6zM272.3 308.8h6.6v5.4h-6.6zM279.7 249.0h6.9v5.4h-6.9zM279.7 352.3h6.9v5.4h-6.9zM279.7 401.2h6.9v5.4h-6.9zM279.7 493.7h6.9v5.4h-6.9zM287.4 303.4h7.2v5.4h-7.2zM287.4 499.1h7.2v5.4h-7.2zM295.4 249.0h7.5v5.4h-7.5zM295.4 401.2h7.5v5.4h-7.5zM295.4 471.9h7.5v5.4h-7.5zM303.8 292.5h7.7v5.4h-7.7zM303.8 390.4h7.7v5.4h-7.7zM303.8 466.5h7.7v5.4h-7.7zM312.4 308.8h7.8v5.4h-7.8zM312.4 379.5h7.8v5.4h-7.8zM312.4 390.4h7.8v5.4h-7.8zM321.0 297.9h7.8v10.9h-7.8zM321.0 319.7h7.8v5.4h-7.8zM321.0 357.8h7.8v5.4h-7.8zM321.0 368.6h7.8v5.4h-7.8zM321.0 401.2h7.8v5.4h-7.8zM321.0 504.6h7.8v17.4h-7.8zM329.7 189.2h7.8v10.9h-7.8zM329.7 265.3h7.8v5.4h-7.8zM329.7 504.6h7.8v17.4h-7.8zM338.4 352.3h7.8v5.4h-7.8zM338.4 384.9h7.8v10.9h-7.8zM338.4 461.1h7.8v5.4h-7.8zM338.4 488.2h7.8v5.4h-7.8zM338.4 499.1h7.8v5.4h-7.8zM347.1 205.5h7.9v5.4h-7.9zM347.1 308.8h7.9v10.9h-7.9zM347.1 433.9h7.9v5.4h-7.9zM347.1 461.1h7.9v10.9h-7.9zM347.1 477.4h7.9v5.4h-7.9zM355.9 102.2h7.9v5.4h-7.9zM355.9 276.2h7.9v5.4h-7.9zM355.9 374.1h7.9v5.4h-7.9zM355.9 428.4h7.9v5.4h-7.9zM364.6 140.2h7.9v10.9h-7.9zM364.6 156.6h7.9v5.4h-7.9zM364.6 178.3h7.9v5.4h-7.9zM364.6 221.8h7.9v5.4h-7.9zM364.6 330.6h7.9v5.4h-7.9zM364.6 395.8h7.9v5.4h-7.9zM364.6 417.6h7.9v5.4h-7.9zM364.6 455.6h7.9v5.4h-7.9zM373.4 156.6h7.9v5.4h-7.9zM373.4 167.4h7.9v5.4h-7.9zM373.4 292.5h7.9v5.4h-7.9zM373.4 330.6h7.9v5.4h-7.9zM373.4 390.4h7.9v5.4h-7.9zM373.4 444.8h7.9v10.9h-7.9zM373.4 471.9h7.9v5.4h-7.9zM373.4 504.6h7.9v17.4h-7.9zM382.3 259.9h8.0v5.4h-8.0zM382.3 297.9h8.0v5.4h-8.0zM382.3 433.9h8.0v5.4h-8.0zM382.3 488.2h8.0v5.4h-8.0zM391.1 178.3h8.0v5.4h-8.0zM391.1 216.4h8.0v5.4h-8.0zM391.1 243.6h8.0v5.4h-8.0zM391.1 390.4h8.0v5.4h-8.0zM391.1 433.9h8.0v5.4h-8.0zM391.1 444.8h8.0v5.4h-8.0zM391.1 488.2h8.0v5.4h-8.0zM400.0 162.0h8.0v5.4h-8.0zM400.0 292.5h8.0v5.4h-8.0zM400.0 357.8h8.0v5.4h-8.0zM400.0 428.4h8.0v5.4h-8.0zM400.0 471.9h8.0v5.4h-8.0zM400.0 499.1h8.0v5.4h-8.0zM408.9 249.0h8.0v5.4h-8.0zM408.9 433.9h8.0v5.4h-8.0zM408.9 450.2h8.0v5.4h-8.0zM408.9 504.6h8.0v17.4h-8.0zM417.8 178.3h8.1v5.4h-8.1zM417.8 265.3h8.1v10.9h-8.1zM417.8 406.7h8.1v5.4h-8.1zM426.8 140.2h8.1v5.4h-8.1zM426.8 194.6h8.1v5.4h-8.1zM426.8 254.4h8.1v5.4h-8.1zM426.8 325.1h8.1v5.4h-8.1zM426.8 336.0h8.1v5.4h-8.1zM426.8 412.1h8.1v5.4h-8.1zM426.8 504.6h8.1v17.4h-8.1zM435.8 183.8h8.6v5.4h-8.6zM435.8 428.4h8.6v5.4h-8.6zM435.8 450.2h8.6v5.4h-8.6zM445.4 205.5h9.4v5.4h-9.4zM445.4 292.5h9.4v5.4h-9.4zM445.4 412.1h9.4v5.4h-9.4zM445.4 423.0h9.4v5.4h-9.4zM445.4 444.8h9.4v5.4h-9.4zM445.4 504.6h9.4v17.4h-9.4z"/>
<path fill="rgb(57,57,57)" d="M218.4 303.4h4.5v5.4h-4.5zM218.4 363.2h4.5v5.4h-4.5zM218.4 417.6h4.5v5.4h-4.5zM223.5 145.7h4.7v5.4h-4.7zM223.5 384.9h4.7v5.4h-4.7zM228.7 178.3h4.9v5.4h-4.9zM234.2 281.6h5.1v5.4h-5.1zM234.2 297.9h5.1v5.4h-5.1zM239.9 189.2h5.3v5.4h-5.3zM239.9 352.3h5.3v5.4h-5.3zM245.8 428.4h5.6v5.4h-5.6zM245.8 461.1h5.6v5.4h-5.6zM252.0 287.1h5.8v5.4h-5.8zM252.0 341.4h5.8v5.4h-5.8zM252.0 482.8h5.8v5.4h-5.8zM258.5 281.6h6.1v5.4h-6.1zM265.2 287.1h6.3v10.9h-6.3zM265.2 330.6h6.3v5.4h-6.3zM265.2 374.1h6.3v5.4h-6.3zM272.3 129.4h6.6v5.4h-6.6zM272.3 156.6h6.6v5.4h-6.6zM272.3 450.2h6.6v5.4h-6.6zM279.7 183.8h6.9v5.4h-6.9zM279.7 210.9h6.9v5.4h-6.9zM279.7 341.4h6.9v10.9h-6.9zM279.7 461.1h6.9v5.4h-6.9zM279.7 471.9h6.9v5.4h-6.9zM287.4 319.7h7.2v10.9h-7.2zM287.4 346.9h7.2v5.4h-7.2zM287.4 439.3h7.2v5.4h-7.2zM295.4 297.9h7.5v5.4h-7.5zM303.8 113.1h7.7v5.4h-7.7zM303.8 172.9h7.7v5.4h-7.7zM303.8 308.8h7.7v5.4h-7.7zM303.8 330.6h7.7v5.4h-7.7zM303.8 374.1h7.7v5.4h-7.7zM303.8 439.3h7.7v5.4h-7.7zM312.4 140.2h7.8v10.9h-7.8zM312.4 357.8h7.8v5.4h-7.8zM312.4 417.6h7.8v5.4h-7.8zM312.4 455.6h7.8v5.4h-7.8zM321.0 205.5h7.8v5.4h-7.8zM329.7 107.6h7.8v5.4h-7.8zM329.7 172.9h7.8v5.4h-7.8zM329.7 200.1h7.8v5.4h-7.8zM329.7 221.8h7.8v5.4h-7.8zM329.7 232.7h7.8v5.4h-7.8zM329.7 319.7h7.8v5.4h-7.8zM329.7 352.3h7.8v5.4h-7.8zM329.7 368.6h7.8v5.4h-7.8zM329.7 384.9h7.8v5.4h-7.8zM329.7 433.9h7.8v10.9h-7.8zM329.7 477.4h7.8v5.4h-7.8zM338.4 194.6h7.8v5.4h-7.8zM338.4 227.2h7.8v5.4h-7.8zM338.4 406.7h7.8v5.4h-7.8zM338.4 471.9h7.8v5.4h-7.8zM347.1 113.1h7.9v5.4h-7.9zM347.1 123.9h7.9v5.4h-7.9zM347.1 145.7h7.9v5.4h-7.9zM347.1 232.7h7.9v5.4h-7.9zM347.1 346.9h7.9v5.4h-7.9zM347.1 390.4h7.9v5.4h-7.9zM347.1 417.6h7.9v5.4h-7.9zM355.9 210.9h7.9v5.4h-7.9zM355.9 249.0h7.9v5.4h-7.9zM355.9 265.3h7.9v5.4h-7.9zM355.9 357.8h7.9v5.4h-7.9zM355.9 395.8h7.9v10.9h-7.9zM355.9 423.0h7.9v5.4h-7.9zM355.9 461.1h7.9v5.4h-7.9zM364.6 281.6h7.9v5.4h-7.9zM364.6 439.3h7.9v5.4h-7.9zM373.4 129.4h7.9v5.4h-7.9zM373.4 221.8h7.9v5.4h-7.9zM373.4 249.0h7.9v10.9h-7.9zM373.4 466.5h7.9v5.4h-7.9zM382.3 200.1h8.0v5.4h-8.0zM382.3 325.1h8.0v5.4h-8.0zM382.3 336.0h8.0v5.4h-8.0zM382.3 444.8h8.0v5.4h-8.0zM382.3 499.1h8.0v5.4h-8.0zM391.1 162.0h8.0v5.4h-8.0zM391.1 232.7h8.0v5.4h-8.0zM391.1 270.8h8.0v5.4h-8.0zM391.1 303.4h8.0v5.4h-8.0zM391.1 336.0h8.0v5.4h-8.0zM391.1 439.3h8.0v5.4h-8.0zM391.1 461.1h8.0v5.4h-8.0zM391.1 471.9h8.0v5.4h-8.0zM391.1 482.8h8.0v5.4h-8.0zM400.0 314.2h8.0v5.4h-8.0zM400.0 493.7h8.0v5.4h-8.0zM408.9 183.8h8.0v5.4h-8.0zM408.9 379.5h8.0v5.4h-8.0zM408.9 444.8h8.0v5.4h-8.0zM417.8 145.7h8.1v5.4h-8.1zM417.8 156.6h8.1v5.4h-8.1zM417.8 189.2h8.1v5.4h-8.1zM417.8 243.6h8.1v5.4h-8.1zM417.8 325.1h8.1v10.9h-8.1zM417.8 357.8h8.1v5.4h-8.1zM417.8 390.4h8.1v5.4h-8.1zM417.8 401.2h8.1v5.4h-8.1zM426.8 238.1h8.1v5.4h-8.1zM426.8 363.2h8.1v5.4h-8.1zM426.8 401.2h8.1v5.4h-8.1zM426.8 455.6h8.1v5.4h-8.1zM435.8 167.4h8.6v5.4h-8.6zM435.8 270.8h8.6v5.4h-8.6zM435.8 292.5h8.6v5.4h-8.6zM435.8 314.2h8.6v5.4h-8.6zM435.8 401.2h8.6v5.4h-8.6zM435.8 444.8h8.6v5.4h-8.6zM435.8 466.5h8.6v5.4h-8.6zM445.4 238.1h9.4v5.4h-9.4zM445.4 287.1h9.4v5.4h-9.4zM445.4 297.9h9.4v5.4h-9.4zM445.4 341.4h9.4v5.4h-9.4z"/>
<path fill="rgb(60,60,60)" d="M218.4 151.1h4.5v5.4h-4.5zM218.4 200.1h4.5v5.4h-4.5zM218.4 374.1h4.5v10.9h-4.5zM218.4 482.8h4.5v5.4h-4.5zM223.5 129.4h4.7v5.4h-4.7zM223.5 232.7h4.7v5.4h-4.7zM223.5 390.4h4.7v5.4h-4.7zM223.5 450.2h4.7v5.4h-4.7zM228.7 243.6h4.9v5.4h-4.9zM228.7 477.4h4.9v5.4h-4.9zM234.2 319.7h5.1v5.4h-5.1zM234.2 341.4h5.1v5.4h-5.1zM234.2 384.9h5.1v5.4h-5.1zM234.2 428.4h5.1v5.4h-5.1zM239.9 368.6h5.3v5.4h-5.3zM239.9 450.2h5.3v5.4h-5.3zM245.8 363.2h5.6v5.4h-5.6zM245.8 482.8h5.6v5.4h-5.6zM252.0 232.7h5.8v5.4h-5.8zM252.0 374.1h5.8v5.4h-5.8zM258.5 107.6h6.1v5.4h-6.1zM258.5 151.1h6.1v5.4h-6.1zM265.2 249.0h6.3v5.4h-6.3zM265.2 303.4h6.3v10.9h-6.3zM265.2 319.7h6.3v5.4h-6.3zM265.2 357.8h6.3v10.9h-6.3zM265.2 423.0h6.3v5.4h-6.3zM265.2 455.6h6.3v5.4h-6.3zM272.3 238.1h6.6v5.4h-6.6zM272.3 281.6h6.6v5.4h-6.6zM272.3 336.0h6.6v5.4h-6.6zM272.3 401.2h6.6v5.4h-6.6zM272.3 444.8h6.6v5.4h-6.6zM279.7 134.8h6.9v5.4h-6.9zM279.7 145.7h6.9v5.4h-6.9zM279.7 156.6h6.9v5.4h-6.9zM279.7 172.9h6.9v5.4h-6.9zM279.7 270.8h6.9v5.4h-6.9zM287.4 145.7h7.2v5.4h-7.2zM287.4 374.1h7.2v5.4h-7.2zM287.4 461.1h7.2v5.4h-7.2zM303.8 102.2h7.7v5.4h-7.7zM303.8 270.8h7.7v5.4h-7.7zM303.8 428.4h7.7v5.4h-7.7zM303.8 444.8h7.7v5.4h-7.7zM312.4 107.6h7.8v5.4h-7.8zM312.4 221.8h7.8v5.4h-7.8zM321.0 172.9h7.8v5.4h-7.8zM321.0 232.7h7.8v5.4h-7.8zM321.0 254.4h7.8v5.4h-7.8zM321.0 281.6h7.8v5.4h-7.8zM321.0 325.1h7.8v5.4h-7.8zM321.0 417.6h7.8v5.4h-7.8zM329.7 151.1h7.8v5.4h-7.8zM329.7 374.1h7.8v5.4h-7.8zM329.7 406.7h7.8v5.4h-7.8zM329.7 423.0h7.8v5.4h-7.8zM338.4 167.4h7.8v5.4h-7.8zM338.4 178.3h7.8v5.4h-7.8zM338.4 200.1h7.8v5.4h-7.8zM338.4 210.9h7.8v10.9h-7.8zM338.4 423.0h7.8v5.4h-7.8zM338.4 439.3h7.8v5.4h-7.8zM347.1 156.6h7.9v5.4h-7.9zM347.1 259.9h7.9v5.4h-7.9zM347.1 325.1h7.9v5.4h-7.9zM347.1 401.2h7.9v10.9h-7.9zM355.9 113.1h7.9v5.4h-7.9zM355.9 172.9h7.9v5.4h-7.9zM355.9 200.1h7.9v5.4h-7.9zM355.9 238.1h7.9v5.4h-7.9zM355.9 292.5h7.9v5.4h-7.9zM355.9 352.3h7.9v5.4h-7.9zM355.9 439.3h7.9v5.4h-7.9zM364.6 118.5h7.9v5.4h-7.9zM364.6 254.4h7.9v5.4h-7.9zM364.6 308.8h7.9v5.4h-7.9zM364.6 461.1h7.9v5.4h-7.9zM373.4 145.7h7.9v5.4h-7.9zM373.4 423.0h7.9v5.4h-7.9zM373.4 482.8h7.9v5.4h-7.9zM382.3 129.4h8.0v5.4h-8.0zM382.3 249.0h8.0v5.4h-8.0zM382.3 303.4h8.0v10.9h-8.0zM382.3 395.8h8.0v5.4h-8.0zM382.3 428.4h8.0v5.4h-8.0zM391.1 194.6h8.0v5.4h-8.0zM391.1 238.1h8.0v5.4h-8.0zM391.1 423.0h8.0v5.4h-8.0zM400.0 210.9h8.0v5.4h-8.0zM400.0 265.3h8.0v5.4h-8.0zM400.0 325.1h8.0v5.4h-8.0zM400.0 379.5h8.0v5.4h-8.0zM400.0 488.2h8.0v5.4h-8.0zM408.9 129.4h8.0v5.4h-8.0zM408.9 167.4h8.0v5.4h-8.0zM408.9 194.6h8.0v5.4h-8.0zM408.9 265.3h8.0v5.4h-8.0zM408.9 330.6h8.0v16.3h-8.0zM408.9 461.1h8.0v5.4h-8.0zM417.8 140.2h8.1v5.4h-8.1zM417.8 352.3h8.1v5.4h-8.1zM417.8 444.8h8.1v5.4h-8.1zM417.8 466.5h8.1v5.4h-8.1zM426.8 123.9h8.1v5.4h-8.1zM426.8 145.7h8.1v5.4h-8.1zM426.8 156.6h8.1v10.9h-8.1zM426.8 178.3h8.1v5.4h-8.1zM426.8 210.9h8.1v5.4h-8.1zM426.8 221.8h8.1v5.4h-8.1zM426.8 406.7h8.1v5.4h-8.1zM426.8 444.8h8.1v5.4h-8.1zM426.8 488.2h8.1v10.9h-8.1zM435.8 151.1h8.6v5.4h-8.6zM435.8 363.2h8.6v5.4h-8.6zM445.4 216.4h9.4v5.4h-9.4zM445.4 281.6h9.4v5.4h-9.4zM445.4 433.9h9.4v5.4h-9.4z"/>
<path fill="rgb(63,63,63)" d="M218.4 167.4h4.5v5.4h-4.5zM218.4 210.9h4.5v5.4h-4.5zM223.5 102.2h4.7v5.4h-4.7zM228.7 281.6h4.9v5.4h-4.9zM228.7 461.1h4.9v5.4h-4.9zM234.2 140.2h5.1v5.4h-5.1zM234.2 167.4h5.1v5.4h-5.1zM234.2 357.8h5.1v5.4h-5.1zM234.2 390.4h5.1v5.4h-5.1zM239.9 178.3h5.3v5.4h-5.3zM239.9 292.5h5.3v5.4h-5.3zM239.9 455.6h5.3v5.4h-5.3zM245.8 330.6h5.6v5.4h-5.6zM245.8 417.6h5.6v5.4h-5.6zM252.0 102.2h5.8v5.4h-5.8zM252.0 134.8h5.8v5.4h-5.8zM252.0 297.9h5.8v5.4h-5.8zM258.5 254.4h6.1v5.4h-6.1zM258.5 363.2h6.1v5.4h-6.1zM265.2 123.9h6.3v5.4h-6.3zM265.2 205.5h6.3v5.4h-6.3zM265.2 227.2h6.3v5.4h-6.3zM265.2 238.1h6.3v5.4h-6.3zM265.2 281.6h6.3v5.4h-6.3zM279.7 140.2h6.9v5.4h-6.9zM279.7 162.0h6.9v5.4h-6.9zM279.7 297.9h6.9v5.4h-6.9zM279.7 325.1h6.9v10.9h-6.9zM279.7 379.5h6.9v5.4h-6.9zM287.4 227.2h7.2v5.4h-7.2zM287.4 292.5h7.2v5.4h-7.2zM287.4 423.0h7.2v5.4h-7.2zM303.8 200.1h7.7v5.4h-7.7zM303.8 216.4h7.7v5.4h-7.7zM303.8 254.4h7.7v5.4h-7.7zM303.8 395.8h7.7v5.4h-7.7zM303.8 412.1h7.7v5.4h-7.7zM312.4 488.2h7.8v5.4h-7.8zM312.4 499.1h7.8v5.4h-7.8zM321.0 140.2h7.8v5.4h-7.8zM321.0 151.1h7.8v5.4h-7.8zM321.0 259.9h7.8v5.4h-7.8zM321.0 384.9h7.8v10.9h-7.8zM338.4 249.0h7.8v5.4h-7.8zM338.4 259.9h7.8v5.4h-7.8zM338.4 357.8h7.8v5.4h-7.8zM338.4 401.2h7.8v5.4h-7.8zM347.1 151.1h7.9v5.4h-7.9zM347.1 368.6h7.9v5.4h-7.9zM347.1 395.8h7.9v5.4h-7.9zM347.1 439.3h7.9v5.4h-7.9zM355.9 433.9h7.9v5.4h-7.9zM355.9 477.4h7.9v5.4h-7.9zM355.9 499.1h7.9v22.9h-7.9zM364.6 368.6h7.9v10.9h-7.9zM364.6 482.8h7.9v5.4h-7.9zM373.4 194.6h7.9v5.4h-7.9zM373.4 357.8h7.9v5.4h-7.9zM373.4 379.5h7.9v5.4h-7.9zM382.3 183.8h8.0v5.4h-8.0zM382.3 194.6h8.0v5.4h-8.0zM382.3 504.6h8.0v17.4h-8.0zM391.1 151.1h8.0v5.4h-8.0zM391.1 172.9h8.0v5.4h-8.0zM391.1 379.5h8.0v10.9h-8.0zM400.0 140.2h8.0v5.4h-8.0zM400.0 189.2h8.0v10.9h-8.0zM408.9 270.8h8.0v5.4h-8.0zM408.9 368.6h8.0v5.4h-8.0zM408.9 401.2h8.0v5.4h-8.0zM417.8 276.2h8.1v5.4h-8.1zM417.8 314.2h8.1v5.4h-8.1zM426.8 265.3h8.1v5.4h-8.1zM426.8 374.1h8.1v5.4h-8.1zM426.8 477.4h8.1v10.9h-8.1zM435.8 249.0h8.6v5.4h-8.6zM435.8 417.6h8.6v5.4h-8.6zM445.4 162.0h9.4v5.4h-9.4zM445.4 308.8h9.4v5.4h-9.4z"/>
<path fill="rgb(66,66,66)" d="M218.4 113.1h4.5v5.4h-4.5zM218.4 140.2h4.5v5.4h-4.5zM218.4 270.8h4.5v5.4h-4.5zM218.4 466.5h4.5v5.4h-4.5zM223.5 140.2h4.7v5.4h-4.7zM234.2 118.5h5.1v5.4h-5.1zM234.2 145.7h5.1v5.4h-5.1zM234.2 162.0h5.1v5.4h-5.1zM234.2 433.9h5.1v5.4h-5.1zM234.2 493.7h5.1v5.4h-5.1zM239.9 287.1h5.3v5.4h-5.3zM239.9 297.9h5.3v5.4h-5.3zM239.9 346.9h5.3v5.4h-5.3zM239.9 423.0h5.3v5.4h-5.3zM245.8 210.9h5.6v5.4h-5.6zM245.8 259.9h5.6v5.4h-5.6zM245.8 281.6h5.6v5.4h-5.6zM245.8 384.9h5.6v5.4h-5.6zM245.8 477.4h5.6v5.4h-5.6zM258.5 145.7h6.1v5.4h-6.1zM258.5 194.6h6.1v5.4h-6.1zM258.5 368.6h6.1v10.9h-6.1zM265.2 270.8h6.3v5.4h-6.3zM265.2 428.4h6.3v5.4h-6.3zM272.3 352.3h6.6v5.4h-6.6zM272.3 379.5h6.6v5.4h-6.6zM272.3 423.0h6.6v5.4h-6.6zM272.3 493.7h6.6v5.4h-6.6zM279.7 178.3h6.9v5.4h-6.9zM279.7 254.4h6.9v5.4h-6.9zM279.7 287.1h6.9v5.4h-6.9zM279.7 319.7h6.9v5.4h-6.9zM279.7 395.8h6.9v5.4h-6.9zM287.4 189.2h7.2v5.4h-7.2zM287.4 363.2h7.2v5.4h-7.2zM287.4 428.4h7.2v5.4h-7.2zM287.4 493.7h7.2v5.4h-7.2zM303.8 118.5h7.7v5.4h-7.7zM303.8 151.1h7.7v5.4h-7.7zM303.8 189.2h7.7v5.4h-7.7zM303.8 363.2h7.7v5.4h-7.7zM312.4 205.5h7.8v5.4h-7.8zM312.4 238.1h7.8v5.4h-7.8zM312.4 276.2h7.8v5.4h-7.8zM312.4 428.4h7.8v5.4h-7.8zM321.0 200.1h7.8v5.4h-7.8zM321.0 336.0h7.8v5.4h-7.8zM329.7 140.2h7.8v5.4h-7.8zM329.7 303.4h7.8v5.4h-7.8zM329.7 444.8h7.8v10.9h-7.8zM329.7 471.9h7.8v5.4h-7.8zM338.4 134.8h7.8v5.4h-7.8zM338.4 221.8h7.8v5.4h-7.8zM338.4 325.1h7.8v5.4h-7.8zM338.4 504.6h7.8v17.4h-7.8zM347.1 216.4h7.9v5.4h-7.9zM347.1 249.0h7.9v5.4h-7.9zM347.1 287.1h7.9v5.4h-7.9zM347.1 455.6h7.9v5.4h-7.9zM347.1 499.1h7.9v22.9h-7.9zM355.9 406.7h7.9v5.4h-7.9zM355.9 482.8h7.9v5.4h-7.9zM364.6 216.4h7.9v5.4h-7.9zM364.6 238.1h7.9v5.4h-7.9zM364.6 319.7h7.9v5.4h-7.9zM364.6 379.5h7.9v5.4h-7.9zM373.4 395.8h7.9v5.4h-7.9zM373.4 493.7h7.9v5.4h-7.9zM382.3 232.7h8.0v10.9h-8.0zM382.3 384.9h8.0v5.4h-8.0zM382.3 401.2h8.0v5.4h-8.0zM382.3 493.7h8.0v5.4h-8.0zM391.1 249.0h8.0v5.4h-8.0zM391.1 292.5h8.0v5.4h-8.0zM400.0 249.0h8.0v5.4h-8.0zM400.0 319.7h8.0v5.4h-8.0zM408.9 118.5h8.0v5.4h-8.0zM408.9 151.1h8.0v5.4h-8.0zM408.9 281.6h8.0v5.4h-8.0zM408.9 292.5h8.0v10.9h-8.0zM408.9 319.7h8.0v10.9h-8.0zM408.9 482.8h8.0v21.8h-8.0zM417.8 194.6h8.1v5.4h-8.1zM417.8 221.8h8.1v5.4h-8.1zM426.8 270.8h8.1v5.4h-8.1zM426.8 292.5h8.1v5.4h-8.1zM426.8 357.8h8.1v5.4h-8.1zM435.8 374.1h8.6v5.4h-8.6zM445.4 401.2h9.4v5.4h-9.4z"/>
<path fill="rgb(69,69,69)" d="M218.4 281.6h4.5v5.4h-4.5zM228.7 412.1h4.9v5.4h-4.9zM234.2 308.8h5.1v5.4h-5.1zM234.2 412.1h5.1v5.4h-5.1zM239.9 151.1h5.3v5.4h-5.3zM239.9 172.9h5.3v5.4h-5.3zM239.9 210.9h5.3v5.4h-5.3zM239.9 314.2h5.3v5.4h-5.3zM239.9 390.4h5.3v5.4h-5.3zM239.9 412.1h5.3v5.4h-5.3zM239.9 433.9h5.3v5.4h-5.3zM245.8 249.0h5.6v5.4h-5.6zM245.8 270.8h5.6v5.4h-5.6zM245.8 297.9h5.6v5.4h-5.6zM252.0 151.1h5.8v5.4h-5.8zM252.0 308.8h5.8v5.4h-5.8zM258.5 178.3h6.1v5.4h-6.1zM258.5 232.7h6.1v5.4h-6.1zM265.2 401.2h6.3v5.4h-6.3zM272.3 140.2h6.6v5.4h-6.6zM272.3 471.9h6.6v5.4h-6.6zM287.4 118.5h7.2v5.4h-7.2zM287.4 466.5h7.2v5.4h-7.2zM303.8 183.8h7.7v5.4h-7.7zM303.8 210.9h7.7v5.4h-7.7zM303.8 227.2h7.7v5.4h-7.7zM303.8 281.6h7.7v5.4h-7.7zM303.8 477.4h7.7v5.4h-7.7zM312.4 151.1h7.8v5.4h-7.8zM312.4 287.1h7.8v5.4h-7.8zM312.4 406.7h7.8v5.4h-7.8zM312.4 423.0h7.8v5.4h-7.8zM321.0 265.3h7.8v5.4h-7.8zM321.0 488.2h7.8v5.4h-7.8zM329.7 162.0h7.8v5.4h-7.8zM338.4 287.1h7.8v5.4h-7.8zM338.4 412.1h7.8v5.4h-7.8zM347.1 352.3h7.9v5.4h-7.9zM347.1 428.4h7.9v5.4h-7.9zM355.9 145.7h7.9v5.4h-7.9zM355.9 243.6h7.9v5.4h-7.9zM355.9 254.4h7.9v5.4h-7.9zM364.6 401.2h7.9v5.4h-7.9zM373.4 140.2h7.9v5.4h-7.9zM373.4 406.7h7.9v5.4h-7.9zM382.3 406.7h8.0v5.4h-8.0zM382.3 423.0h8.0v5.4h-8.0zM391.1 167.4h8.0v5.4h-8.0zM391.1 200.1h8.0v5.4h-8.0zM391.1 276.2h8.0v10.9h-8.0zM391.1 357.8h8.0v5.4h-8.0zM400.0 303.4h8.0v5.4h-8.0zM400.0 330.6h8.0v5.4h-8.0zM400.0 401.2h8.0v5.4h-8.0zM408.9 200.1h8.0v5.4h-8.0zM408.9 276.2h8.0v5.4h-8.0zM408.9 357.8h8.0v5.4h-8.0zM417.8 461.1h8.1v5.4h-8.1zM426.8 227.2h8.1v5.4h-8.1zM426.8 276.2h8.1v5.4h-8.1zM426.8 368.6h8.1v5.4h-8.1zM426.8 461.1h8.1v10.9h-8.1zM435.8 357.8h8.6v5.4h-8.6z"/>
<path fill="rgb(72,72,72)" d="M218.4 287.1h4.5v5.4h-4.5zM234.2 249.0h5.1v5.4h-5.1zM234.2 488.2h5.1v5.4h-5.1zM239.9 493.7h5.3v5.4h-5.3zM245.8 189.2h5.6v5.4h-5.6zM245.8 325.1h5.6v5.4h-5.6zM245.8 368.6h5.6v5.4h-5.6zM245.8 401.2h5.6v5.4h-5.6zM252.0 156.6h5.8v5.4h-5.8zM252.0 172.9h5.8v5.4h-5.8zM252.0 205.5h5.8v5.4h-5.8zM252.0 281.6h5.8v5.4h-5.8zM252.0 357.8h5.8v5.4h-5.8zM252.0 504.6h5.8v17.4h-5.8zM265.2 172.9h6.3v5.4h-6.3zM265.2 433.9h6.3v5.4h-6.3zM272.3 210.9h6.6v5.4h-6.6zM287.4 200.1h7.2v5.4h-7.2zM303.8 178.3h7.7v5.4h-7.7zM303.8 352.3h7.7v5.4h-7.7zM303.8 499.1h7.7v5.4h-7.7zM312.4 374.1h7.8v5.4h-7.8zM321.0 156.6h7.8v5.4h-7.8zM329.7 129.4h7.8v5.4h-7.8zM329.7 390.4h7.8v5.4h-7.8zM338.4 172.9h7.8v5.4h-7.8zM338.4 363.2h7.8v5.4h-7.8zM347.1 254.4h7.9v5.4h-7.9zM347.1 488.2h7.9v5.4h-7.9zM364.6 183.8h7.9v5.4h-7.9zM364.6 303.4h7.9v5.4h-7.9zM373.4 314.2h7.9v5.4h-7.9zM373.4 401.2h7.9v5.4h-7.9zM382.3 477.4h8.0v5.4h-8.0zM391.1 129.4h8.0v5.4h-8.0zM400.0 205.5h8.0v5.4h-8.0zM400.0 352.3h8.0v5.4h-8.0zM400.0 363.2h8.0v5.4h-8.0zM417.8 259.9h8.1v5.4h-8.1zM426.8 439.3h8.1v5.4h-8.1zM426.8 499.1h8.1v5.4h-8.1zM435.8 162.0h8.6v5.4h-8.6zM435.8 330.6h8.6v5.4h-8.6z"/>
<path fill="rgb(75,75,75)" d="M218.4 145.7h4.5v5.4h-4.5zM218.4 238.1h4.5v5.4h-4.5zM223.5 162.0h4.7v5.4h-4.7zM223.5 249.0h4.7v5.4h-4.7zM223.5 259.9h4.7v5.4h-4.7zM228.7 314.2h4.9v5.4h-4.9zM228.7 455.6h4.9v5.4h-4.9zM234.2 368.6h5.1v5.4h-5.1zM234.2 423.0h5.1v5.4h-5.1zM239.9 194.6h5.3v5.4h-5.3zM245.8 390.4h5.6v5.4h-5.6zM245.8 493.7h5.6v5.4h-5.6zM252.0 210.9h5.8v5.4h-5.8zM252.0 276.2h5.8v5.4h-5.8zM252.0 368.6h5.8v5.4h-5.8zM252.0 477.4h5.8v5.4h-5.8zM258.5 156.6h6.1v5.4h-6.1zM258.5 189.2h6.1v5.4h-6.1zM258.5 249.0h6.1v5.4h-6.1zM265.2 297.9h6.3v5.4h-6.3zM265.2 379.5h6.3v5.4h-6.3zM265.2 417.6h6.3v5.4h-6.3zM265.2 439.3h6.3v5.4h-6.3zM272.3 292.5h6.6v5.4h-6.6zM272.3 406.7h6.6v5.4h-6.6zM272.3 504.6h6.6v17.4h-6.6zM279.7 194.6h6.9v5.4h-6.9zM279.7 499.1h6.9v5.4h-6.9zM287.4 107.6h7.2v5.4h-7.2zM287.4 194.6h7.2v5.4h-7.2zM287.4 205.5h7.2v5.4h-7.2zM303.8 314.2h7.7v5.4h-7.7zM312.4 189.2h7.8v5.4h-7.8zM321.0 287.1h7.8v5.4h-7.8zM329.7 118.5h7.8v5.4h-7.8zM329.7 276.2h7.8v10.9h-7.8zM338.4 129.4h7.8v5.4h-7.8zM347.1 363.2h7.9v5.4h-7.9zM364.6 189.2h7.9v5.4h-7.9zM373.4 216.4h7.9v5.4h-7.9zM382.3 341.4h8.0v5.4h-8.0zM391.1 287.1h8.0v5.4h-8.0zM408.9 428.4h8.0v5.4h-8.0zM426.8 189.2h8.1v5.4h-8.1zM426.8 341.4h8.1v5.4h-8.1z"/>
<path fill="rgb(78,78,78)" d="M228.7 493.7h4.9v5.4h-4.9zM228.7 504.6h4.9v17.4h-4.9zM234.2 151.1h5.1v5.4h-5.1zM234.2 200.1h5.1v5.4h-5.1zM239.9 238.1h5.3v5.4h-5.3zM245.8 216.4h5.6v16.3h-5.6zM245.8 243.6h5.6v5.4h-5.6zM245.8 341.4h5.6v5.4h-5.6zM245.8 444.8h5.6v5.4h-5.6zM252.0 183.8h5.8v5.4h-5.8zM252.0 216.4h5.8v5.4h-5.8zM252.0 270.8h5.8v5.4h-5.8zM252.0 379.5h5.8v5.4h-5.8zM252.0 412.1h5.8v10.9h-5.8zM252.0 471.9h5.8v5.4h-5.8zM258.5 205.5h6.1v10.9h-6.1zM258.5 227.2h6.1v5.4h-6.1zM258.5 379.5h6.1v5.4h-6.1zM258.5 471.9h6.1v5.4h-6.1zM265.2 254.4h6.3v5.4h-6.3zM272.3 374.1h6.6v5.4h-6.6zM279.7 423.0h6.9v5.4h-6.9zM287.4 357.8h7.2v5.4h-7.2zM303.8 167.4h7.7v5.4h-7.7zM303.8 401.2h7.7v5.4h-7.7zM312.4 134.8h7.8v5.4h-7.8zM321.0 292.5h7.8v5.4h-7.8zM347.1 140.2h7.9v5.4h-7.9zM355.9 140.2h7.9v5.4h-7.9zM355.9 183.8h7.9v5.4h-7.9zM373.4 172.9h7.9v5.4h-7.9zM400.0 232.7h8.0v5.4h-8.0zM417.8 210.9h8.1v5.4h-8.1zM417.8 433.9h8.1v5.4h-8.1zM426.8 259.9h8.1v5.4h-8.1z"/>
<path fill="rgb(81,81,81)" d="M218.4 156.6h4.5v5.4h-4.5zM218.4 216.4h4.5v5.4h-4.5zM223.5 227.2h4.7v5.4h-4.7zM223.5 254.4h4.7v5.4h-4.7zM223.5 314.2h4.7v5.4h-4.7zM223.5 352.3h4.7v5.4h-4.7zM223.5 493.7h4.7v5.4h-4.7zM228.7 140.2h4.9v5.4h-4.9zM228.7 270.8h4.9v10.9h-4.9zM234.2 123.9h5.1v5.4h-5.1zM234.2 270.8h5.1v5.4h-5.1zM234.2 336.0h5.1v5.4h-5.1zM252.0 395.8h5.8v5.4h-5.8zM265.2 216.4h6.3v5.4h-6.3zM272.3 428.4h6.6v5.4h-6.6zM279.7 363.2h6.9v5.4h-6.9zM287.4 379.5h7.2v5.4h-7.2zM312.4 482.8h7.8v5.4h-7.8zM355.9 336.0h7.9v5.4h-7.9zM382.3 352.3h8.0v5.4h-8.0zM391.1 314.2h8.0v5.4h-8.0zM400.0 270.8h8.0v5.4h-8.0zM426.8 314.2h8.1v5.4h-8.1z"/>
<path fill="rgb(84,84,84)" d="M223.5 477.4h4.7v5.4h-4.7zM228.7 189.2h4.9v10.9h-4.9zM245.8 455.6h5.6v5.4h-5.6zM252.0 194.6h5.8v5.4h-5.8zM258.5 504.6h6.1v17.4h-6.1zM265.2 232.7h6.3v5.4h-6.3zM265.2 314.2h6.3v5.4h-6.3zM265.2 390.4h6.3v5.4h-6.3zM272.3 151.1h6.6v5.4h-6.6zM321.0 477.4h7.8v5.4h-7.8zM338.4 238.1h7.8v5.4h-7.8zM347.1 183.8h7.9v5.4h-7.9z"/>
<path fill="rgb(87,87,87)" d="M218.4 85.9h4.5v5.4h-4.5zM223.5 368.6h4.7v10.9h-4.7zM228.7 254.4h4.9v5.4h-4.9zM228.7 265.3h4.9v5.4h-4.9zM245.8 433.9h5.6v5.4h-5.6zM252.0 238.1h5.8v5.4h-5.8zM258.5 276.2h6.1v5.4h-6.1zM258.5 401.2h6.1v5.4h-6.1zM287.4 249.0h7.2v5.4h-7.2z"/>
<path fill="rgb(90,90,90)" d="M218.4 205.5h4.5v5.4h-4.5zM223.5 292.5h4.7v5.4h-4.7zM223.5 379.5h4.7v5.4h-4.7zM228.7 259.9h4.9v5.4h-4.9zM228.7 303.4h4.9v5.4h-4.9zM228.7 379.5h4.9v10.9h-4.9zM234.2 156.6h5.1v5.4h-5.1zM239.9 167.4h5.3v5.4h-5.3zM258.5 444.8h6.1v5.4h-6.1zM265.2 145.7h6.3v5.4h-6.3zM265.2 412.1h6.3v5.4h-6.3zM272.3 232.7h6.6v5.4h-6.6zM272.3 287.1h6.6v5.4h-6.6zM364.6 444.8h7.9v5.4h-7.9z"/>
<path fill="rgb(93,93,93)" d="M239.9 162.0h5.3v5.4h-5.3zM239.9 319.7h5.3v5.4h-5.3zM245.8 183.8h5.6v5.4h-5.6zM258.5 123.9h6.1v5.4h-6.1zM258.5 330.6h6.1v5.4h-6.1zM272.3 205.5h6.6v5.4h-6.6z"/>
<path fill="rgb(96,96,96)" d="M228.7 156.6h4.9v5.4h-4.9zM258.5 183.8h6.1v5.4h-6.1zM258.5 270.8h6.1v5.4h-6.1zM258.5 499.1h6.1v5.4h-6.1z"/>
<path fill="rgb(99,99,99)" d="M245.8 504.6h5.6v17.4h-5.6zM265.2 194.6h6.3v5.4h-6.3zM265.2 336.0h6.3v5.4h-6.3zM272.3 433.9h6.6v5.4h-6.6z"/>
<path fill="rgb(102,102,102)" d="M218.4 292.5h4.5v5.4h-4.5zM218.4 412.1h4.5v5.4h-4.5zM218.4 493.7h4.5v5.4h-4.5zM223.5 303.4h4.7v5.4h-4.7zM228.7 325.1h4.9v5.4h-4.9z"/>
<path fill="rgb(108,108,108)" d="M234.2 172.9h5.1v5.4h-5.1zM234.2 227.2h5.1v5.4h-5.1zM258.5 75.0h6.1v10.9h-6.1z"/>
<path fill="rgb(114,114,114)" d="M223.5 221.8h4.7v5.4h-4.7zM228.7 374.1h4.9v5.4h-4.9z"/>
<path fill="rgb(117,117,117)" d="M279.7 75.0h6.9v10.9h-6.9z"/>
<path fill="rgb(120,120,120)" d="M218.4 336.0h4.5v5.4h-4.5zM223.5 210.9h4.7v5.4h-4.7zM223.5 270.8h4.7v5.4h-4.7zM228.7 210.9h4.9v10.9h-4.9z"/>
<path fill="rgb(123,123,123)" d="M223.5 216.4h4.7v5.4h-4.7zM279.7 281.6h6.9v5.4h-6.9zM287.4 75.0h7.2v10.9h-7.2z"/>
<path fill="rgb(126,126,126)" d="M265.2 75.0h6.3v10.9h-6.3zM303.8 75.0h7.7v10.9h-7.7zM408.9 75.0h8.0v10.9h-8.0z"/>
<path fill="rgb(129,129,129)" d="M228.7 205.5h4.9v5.4h-4.9z"/>
<path fill="rgb(132,132,132)" d="M223.5 297.9h4.7v5.4h-4.7zM435.8 75.0h8.6v10.9h-8.6zM445.4 75.0h9.4v10.9h-9.4z"/>
<path fill="rgb(135,135,135)" d="M228.7 287.1h4.9v5.4h-4.9zM417.8 75.0h8.1v10.9h-8.1z"/>
<path fill="rgb(141,141,141)" d="M218.4 428.4h4.5v16.3h-4.5zM218.4 504.6h4.5v17.4h-4.5zM329.7 75.0h7.8v10.9h-7.8z"/>
<path fill="rgb(147,147,147)" d="M321.0 75.0h7.8v10.9h-7.8z"/>
<path fill="rgb(150,150,150)" d="M234.2 75.0h5.1v10.9h-5.1z"/>
<path fill="rgb(153,153,153)" d="M218.4 75.0h4.5v10.9h-4.5zM364.6 75.0h7.9v10.9h-7.9z"/>
<path fill="rgb(156,156,156)" d="M228.7 75.0h4.9v10.9h-4.9zM382.3 75.0h8.0v10.9h-8.0zM391.1 75.0h8.0v10.9h-8.0zM426.8 75.0h8.1v10.9h-8.1z"/>
<path fill="rgb(159,159,159)" d="M338.4 75.0h7.8v10.9h-7.8zM373.4 75.0h7.9v10.9h-7.9z"/>
<path fill="rgb(162,162,162)" d="M223.5 75.0h4.7v10.9h-4.7zM295.4 75.0h7.5v10.9h-7.5zM312.4 75.0h7.8v10.9h-7.8zM228.0 107.6h4.4v5.4h-4.4z"/>
<path fill="rgb(165,165,165)" d="M239.9 75.0h5.3v10.9h-5.3zM355.9 75.0h7.9v10.9h-7.9z"/>
<path fill="rgb(168,168,168)" d="M223.5 96.8h4.7v5.4h-4.7zM228.0 123.9h4.4v5.4h-4.4z"/>
<path fill="rgb(171,171,171)" d="M252.0 75.0h5.8v10.9h-5.8z"/>
<path fill="rgb(174,174,174)" d="M223.5 91.3h4.7v5.4h-4.7zM228.0 91.3h4.4v5.4h-4.4z"/>
<path fill="rgb(177,177,177)" d="M245.8 75.0h5.6v10.9h-5.6zM400.0 75.0h8.0v10.9h-8.0zM228.0 102.2h4.4v5.4h-4.4z"/>
<path fill="rgb(183,183,183)" d="M223.5 85.9h4.7v5.4h-4.7zM347.1 75.0h7.9v10.9h-7.9z"/>
<path fill="rgb(186,186,186)" d="M228.0 75.0h4.4v5.4h-4.4z"/>
<path fill="rgb(189,189,189)" d="M272.3 75.0h6.6v10.9h-6.6zM228.0 80.4h4.4v10.9h-4.4zM228.0 118.5h4.4v5.4h-4.4z"/>
<path fill="rgb(195,195,195)" d="M228.0 96.8h4.4v5.4h-4.4zM228.0 129.4h4.4v5.4h-4.4z"/>
<path fill="rgb(198,198,198)" d="M228.0 113.1h4.4v5.4h-4.4z"/>
</g>
<g clip-path="url(#c3)" filter="url(#f3)">
<path fill="rgb(27,27,27)" d="M436.5 129.4h7.2v5.4h-7.2zM436.5 200.1h7.2v10.9h-7.2zM436.5 243.6h7.2v5.4h-7.2zM436.5 308.8h7.2v5.4h-7.2zM436.5 336.0h7.2v5.4h-7.2zM436.5 395.8h7.2v5.4h-7.2zM436.5 412.1h7.2v5.4h-7.2zM436.5 423.0h7.2v5.4h-7.2zM436.5 433.9h7.2v5.4h-7.2zM436.5 461.1h7.2v5.4h-7.2zM436.5 477.4h7.2v21.8h-7.2zM446.1 113.1h8.0v5.4h-8.0zM446.1 156.6h8.0v5.4h-8.0zM446.1 243.6h8.0v5.4h-8.0zM446.1 265.3h8.0v5.4h-8.0zM446.1 303.4h8.0v5.4h-8.0zM446.1 319.7h8.0v5.4h-8.0zM446.1 466.5h8.0v5.4h-8.0zM446.1 493.7h8.0v5.4h-8.0zM456.7 113.1h8.8v5.4h-8.8zM456.7 183.8h8.8v5.4h-8.8zM456.7 243.6h8.8v5.4h-8.8zM456.7 303.4h8.8v5.4h-8.8zM456.7 330.6h8.8v5.4h-8.8zM456.7 352.3h8.8v5.4h-8.8zM456.7 374.1h8.8v5.4h-8.8zM456.7 488.2h8.8v10.9h-8.8zM468.4 145.7h9.6v5.4h-9.6zM468.4 156.6h9.6v5.4h-9.6zM468.4 178.3h9.6v5.4h-9.6zM468.4 194.6h9.6v5.4h-9.6zM468.4 379.5h9.6v5.4h-9.6zM468.4 401.2h9.6v5.4h-9.6zM468.4 444.8h9.6v5.4h-9.6zM468.4 455.6h9.6v5.4h-9.6zM468.4 477.4h9.6v5.4h-9.6zM481.2 140.2h10.6v5.4h-10.6zM481.2 270.8h10.6v5.4h-10.6zM481.2 336.0h10.6v5.4h-10.6zM481.2 401.2h10.6v5.4h-10.6zM481.2 433.9h10.6v5.4h-10.6zM481.2 504.6h10.6v17.4h-10.6zM494.9 151.1h8.7v5.4h-8.7zM494.9 363.2h8.7v5.4h-8.7zM494.9 374.1h8.7v5.4h-8.7zM494.9 412.1h8.7v5.4h-8.7zM494.9 433.9h8.7v5.4h-8.7zM494.9 471.9h8.7v5.4h-8.7zM494.9 504.6h8.7v17.4h-8.7zM507.1 145.7h13.3v5.4h-13.3zM507.1 172.9h13.3v10.9h-13.3zM507.1 243.6h13.3v5.4h-13.3zM507.1 281.6h13.3v5.4h-13.3zM507.1 303.4h13.3v5.4h-13.3zM507.1 455.6h13.3v5.4h-13.3zM507.1 488.2h13.3v5.4h-13.3zM507.1 499.1h13.3v5.4h-13.3zM540.8 270.8h12.7v5.4h-12.7zM574.5 297.9h12.9v5.4h-12.9zM590.8 444.8h24.0v5.4h-24.0z"/>
<path fill="rgb(30,30,30)" d="M436.5 259.9h7.2v5.4h-7.2zM436.5 379.5h7.2v5.4h-7.2zM446.1 254.4h8.0v5.4h-8.0zM456.7 265.3h8.8v5.4h-8.8zM456.7 346.9h8.8v5.4h-8.8zM456.7 477.4h8.8v5.4h-8.8zM468.4 314.2h9.6v5.4h-9.6zM468.4 374.1h9.6v5.4h-9.6zM468.4 488.2h9.6v5.4h-9.6zM481.2 221.8h10.6v5.4h-10.6zM481.2 243.6h10.6v5.4h-10.6zM481.2 482.8h10.6v5.4h-10.6zM494.9 308.8h8.7v10.9h-8.7zM494.9 428.4h8.7v5.4h-8.7zM507.1 325.1h13.3v5.4h-13.3zM524.5 249.0h12.3v5.4h-12.3zM524.5 303.4h12.3v5.4h-12.3zM524.5 461.1h12.3v5.4h-12.3zM540.8 439.3h12.7v10.9h-12.7zM574.5 259.9h12.9v5.4h-12.9zM574.5 314.2h12.9v5.4h-12.9z"/>
<path fill="rgb(33,33,33)" d="M436.5 123.9h7.2v5.4h-7.2zM436.5 134.8h7.2v10.9h-7.2zM436.5 172.9h7.2v5.4h-7.2zM436.5 254.4h7.2v5.4h-7.2zM436.5 303.4h7.2v5.4h-7.2zM436.5 390.4h7.2v5.4h-7.2zM446.1 189.2h8.0v5.4h-8.0zM446.1 200.1h8.0v5.4h-8.0zM446.1 330.6h8.0v5.4h-8.0zM456.7 151.1h8.8v5.4h-8.8zM456.7 287.1h8.8v5.4h-8.8zM456.7 297.9h8.8v5.4h-8.8zM456.7 314.2h8.8v5.4h-8.8zM456.7 379.5h8.8v5.4h-8.8zM456.7 428.4h8.8v5.4h-8.8zM456.7 444.8h8.8v5.4h-8.8zM468.4 140.2h9.6v5.4h-9.6zM468.4 172.9h9.6v5.4h-9.6zM468.4 238.1h9.6v5.4h-9.6zM468.4 276.2h9.6v5.4h-9.6zM468.4 303.4h9.6v5.4h-9.6zM468.4 325.1h9.6v5.4h-9.6zM468.4 395.8h9.6v5.4h-9.6zM468.4 412.1h9.6v5.4h-9.6zM468.4 499.1h9.6v5.4h-9.6zM481.2 129.4h10.6v5.4h-10.6zM481.2 151.1h10.6v5.4h-10.6zM481.2 178.3h10.6v5.4h-10.6zM481.2 227.2h10.6v5.4h-10.6zM481.2 428.4h10.6v5.4h-10.6zM494.9 172.9h8.7v5.4h-8.7zM494.9 265.3h8.7v5.4h-8.7zM494.9 461.1h8.7v5.4h-8.7zM507.1 254.4h13.3v5.4h-13.3zM507.1 374.1h13.3v5.4h-13.3zM507.1 406.7h13.3v5.4h-13.3zM524.5 221.8h12.3v5.4h-12.3zM524.5 341.4h12.3v5.4h-12.3zM524.5 444.8h12.3v5.4h-12.3zM540.8 357.8h12.7v5.4h-12.7zM540.8 390.4h12.7v5.4h-12.7zM557.5 254.4h12.9v5.4h-12.9zM557.5 336.0h12.9v5.4h-12.9zM557.5 482.8h12.9v5.4h-12.9zM574.5 417.6h12.9v5.4h-12.9zM574.5 433.9h12.9v5.4h-12.9z"/>
<path fill="rgb(36,36,36)" d="M436.5 156.6h7.2v5.4h-7.2zM436.5 194.6h7.2v5.4h-7.2zM436.5 221.8h7.2v5.4h-7.2zM436.5 346.9h7.2v5.4h-7.2zM446.1 194.6h8.0v5.4h-8.0zM446.1 221.8h8.0v16.3h-8.0zM446.1 390.4h8.0v5.4h-8.0zM456.7 205.5h8.8v5.4h-8.8zM456.7 216.4h8.8v5.4h-8.8zM456.7 249.0h8.8v5.4h-8.8zM456.7 319.7h8.8v5.4h-8.8zM456.7 406.7h8.8v5.4h-8.8zM456.7 499.1h8.8v5.4h-8.8zM468.4 134.8h9.6v5.4h-9.6zM468.4 210.9h9.6v5.4h-9.6zM468.4 249.0h9.6v5.4h-9.6zM468.4 482.8h9.6v5.4h-9.6zM481.2 162.0h10.6v5.4h-10.6zM481.2 232.7h10.6v5.4h-10.6zM481.2 303.4h10.6v5.4h-10.6zM481.2 330.6h10.6v5.4h-10.6zM481.2 390.4h10.6v5.4h-10.6zM481.2 423.0h10.6v5.4h-10.6zM494.9 216.4h8.7v10.9h-8.7zM494.9 254.4h8.7v5.4h-8.7zM494.9 270.8h8.7v5.4h-8.7zM494.9 325.1h8.7v5.4h-8.7zM507.1 194.6h13.3v5.4h-13.3zM507.1 216.4h13.3v5.4h-13.3zM507.1 352.3h13.3v5.4h-13.3zM507.1 444.8h13.3v5.4h-13.3zM524.5 200.1h12.3v5.4h-12.3zM524.5 238.1h12.3v5.4h-12.3zM524.5 270.8h12.3v5.4h-12.3zM524.5 281.6h12.3v5.4h-12.3zM524.5 401.2h12.3v5.4h-12.3zM524.5 439.3h12.3v5.4h-12.3zM524.5 471.9h12.3v5.4h-12.3zM540.8 194.6h12.7v5.4h-12.7zM540.8 227.2h12.7v5.4h-12.7zM540.8 363.2h12.7v5.4h-12.7zM557.5 232.7h12.9v5.4h-12.9zM557.5 249.0h12.9v5.4h-12.9zM557.5 314.2h12.9v5.4h-12.9zM557.5 390.4h12.9v5.4h-12.9zM557.5 428.4h12.9v5.4h-12.9zM557.5 450.2h12.9v5.4h-12.9zM557.5 461.1h12.9v5.4h-12.9zM557.5 471.9h12.9v5.4h-12.9zM574.5 205.5h12.9v10.9h-12.9zM574.5 482.8h12.9v5.4h-12.9zM590.8 210.9h24.0v5.4h-24.0zM590.8 401.2h24.0v5.4h-24.0z"/>
<path fill="rgb(39,39,39)" d="M436.5 178.3h7.2v5.4h-7.2zM436.5 216.4h7.2v5.4h-7.2zM436.5 227.2h7.2v5.4h-7.2zM436.5 384.9h7.2v5.4h-7.2zM436.5 455.6h7.2v5.4h-7.2zM446.1 134.8h8.0v5.4h-8.0zM446.1 395.8h8.0v5.4h-8.0zM446.1 471.9h8.0v5.4h-8.0zM456.7 178.3h8.8v5.4h-8.8zM456.7 461.1h8.8v5.4h-8.8zM468.4 183.8h9.6v5.4h-9.6zM468.4 221.8h9.6v5.4h-9.6zM468.4 341.4h9.6v5.4h-9.6zM468.4 384.9h9.6v5.4h-9.6zM468.4 406.7h9.6v5.4h-9.6zM468.4 461.1h9.6v5.4h-9.6zM481.2 189.2h10.6v5.4h-10.6zM481.2 259.9h10.6v10.9h-10.6zM481.2 276.2h10.6v5.4h-10.6zM481.2 292.5h10.6v5.4h-10.6zM481.2 406.7h10.6v5.4h-10.6zM481.2 444.8h10.6v5.4h-10.6zM481.2 455.6h10.6v5.4h-10.6zM481.2 488.2h10.6v5.4h-10.6zM481.2 499.1h10.6v5.4h-10.6zM494.9 276.2h8.7v10.9h-8.7zM494.9 379.5h8.7v5.4h-8.7zM507.1 205.5h13.3v5.4h-13.3zM507.1 297.9h13.3v5.4h-13.3zM507.1 319.7h13.3v5.4h-13.3zM507.1 390.4h13.3v5.4h-13.3zM507.1 433.9h13.3v5.4h-13.3zM507.1 493.7h13.3v5.4h-13.3zM524.5 308.8h12.3v5.4h-12.3zM524.5 379.5h12.3v5.4h-12.3zM524.5 395.8h12.3v5.4h-12.3zM524.5 450.2h12.3v10.9h-12.3zM524.5 488.2h12.3v10.9h-12.3zM540.8 221.8h12.7v5.4h-12.7zM540.8 232.7h12.7v10.9h-12.7zM540.8 406.7h12.7v5.4h-12.7zM540.8 455.6h12.7v5.4h-12.7zM557.5 384.9h12.9v5.4h-12.9zM574.5 276.2h12.9v5.4h-12.9zM574.5 319.7h12.9v5.4h-12.9zM574.5 368.6h12.9v5.4h-12.9zM574.5 444.8h12.9v5.4h-12.9zM574.5 466.5h12.9v5.4h-12.9zM590.8 368.6h24.0v5.4h-24.0zM590.8 499.1h24.0v5.4h-24.0z"/>
<path fill="rgb(42,42,42)" d="M427.4 167.4h6.8v5.4h-6.8zM427.4 303.4h6.8v5.4h-6.8zM427.4 417.6h6.8v5.4h-6.8zM436.5 232.7h7.2v5.4h-7.2zM436.5 281.6h7.2v5.4h-7.2zM436.5 297.9h7.2v5.4h-7.2zM436.5 406.7h7.2v5.4h-7.2zM446.1 178.3h8.0v5.4h-8.0zM446.1 210.9h8.0v5.4h-8.0zM446.1 450.2h8.0v5.4h-8.0zM446.1 461.1h8.0v5.4h-8.0zM456.7 259.9h8.8v5.4h-8.8zM456.7 270.8h8.8v5.4h-8.8zM456.7 281.6h8.8v5.4h-8.8zM456.7 363.2h8.8v5.4h-8.8zM456.7 384.9h8.8v5.4h-8.8zM456.7 433.9h8.8v5.4h-8.8zM468.4 319.7h9.6v5.4h-9.6zM468.4 433.9h9.6v5.4h-9.6zM481.2 145.7h10.6v5.4h-10.6zM481.2 156.6h10.6v5.4h-10.6zM481.2 314.2h10.6v5.4h-10.6zM481.2 374.1h10.6v5.4h-10.6zM481.2 417.6h10.6v5.4h-10.6zM481.2 461.1h10.6v5.4h-10.6zM494.9 194.6h8.7v5.4h-8.7zM494.9 205.5h8.7v5.4h-8.7zM494.9 259.9h8.7v5.4h-8.7zM494.9 368.6h8.7v5.4h-8.7zM494.9 488.2h8.7v5.4h-8.7zM507.1 227.2h13.3v5.4h-13.3zM507.1 265.3h13.3v5.4h-13.3zM507.1 379.5h13.3v5.4h-13.3zM507.1 401.2h13.3v5.4h-13.3zM507.1 466.5h13.3v5.4h-13.3zM524.5 156.6h12.3v16.3h-12.3zM524.5 183.8h12.3v5.4h-12.3zM524.5 243.6h12.3v5.4h-12.3zM524.5 254.4h12.3v5.4h-12.3zM524.5 330.6h12.3v5.4h-12.3zM524.5 352.3h12.3v5.4h-12.3zM524.5 374.1h12.3v5.4h-12.3zM524.5 390.4h12.3v5.4h-12.3zM524.5 482.8h12.3v5.4h-12.3zM524.5 499.1h12.3v5.4h-12.3zM540.8 140.2h12.7v5.4h-12.7zM540.8 210.9h12.7v5.4h-12.7zM540.8 346.9h12.7v5.4h-12.7zM540.8 395.8h12.7v5.4h-12.7zM557.5 292.5h12.9v5.4h-12.9zM557.5 341.4h12.9v5.4h-12.9zM557.5 499.1h12.9v5.4h-12.9zM574.5 363.2h12.9v5.4h-12.9zM590.8 270.8h24.0v5.4h-24.0zM590.8 287.1h24.0v5.4h-24.0zM590.8 319.7h24.0v5.4h-24.0zM590.8 423.0h24.0v5.4h-24.0z"/>
<path fill="rgb(45,45,45)" d="M427.4 205.5h6.8v5.4h-6.8zM427.4 297.9h6.8v5.4h-6.8zM427.4 346.9h6.8v10.9h-6.8zM427.4 384.9h6.8v5.4h-6.8zM436.5 210.9h7.2v5.4h-7.2zM436.5 265.3h7.2v5.4h-7.2zM446.1 123.9h8.0v5.4h-8.0zM446.1 167.4h8.0v10.9h-8.0zM446.1 259.9h8.0v5.4h-8.0zM446.1 276.2h8.0v5.4h-8.0zM446.1 363.2h8.0v5.4h-8.0zM446.1 384.9h8.0v5.4h-8.0zM446.1 428.4h8.0v5.4h-8.0zM446.1 488.2h8.0v5.4h-8.0zM446.1 499.1h8.0v5.4h-8.0zM456.7 145.7h8.8v5.4h-8.8zM456.7 156.6h8.8v5.4h-8.8zM456.7 189.2h8.8v5.4h-8.8zM456.7 200.1h8.8v5.4h-8.8zM456.7 341.4h8.8v5.4h-8.8zM456.7 357.8h8.8v5.4h-8.8zM456.7 401.2h8.8v5.4h-8.8zM456.7 504.6h8.8v17.4h-8.8zM468.4 205.5h9.6v5.4h-9.6zM468.4 232.7h9.6v5.4h-9.6zM468.4 265.3h9.6v5.4h-9.6zM468.4 308.8h9.6v5.4h-9.6zM468.4 368.6h9.6v5.4h-9.6zM468.4 439.3h9.6v5.4h-9.6zM481.2 200.1h10.6v5.4h-10.6zM481.2 297.9h10.6v5.4h-10.6zM481.2 379.5h10.6v5.4h-10.6zM494.9 162.0h8.7v5.4h-8.7zM494.9 346.9h8.7v5.4h-8.7zM494.9 390.4h8.7v5.4h-8.7zM494.9 401.2h8.7v5.4h-8.7zM494.9 417.6h8.7v5.4h-8.7zM494.9 499.1h8.7v5.4h-8.7zM507.1 412.1h13.3v5.4h-13.3zM507.1 428.4h13.3v5.4h-13.3zM507.1 461.1h13.3v5.4h-13.3zM507.1 471.9h13.3v5.4h-13.3zM507.1 482.8h13.3v5.4h-13.3zM524.5 151.1h12.3v5.4h-12.3zM524.5 172.9h12.3v10.9h-12.3zM524.5 216.4h12.3v5.4h-12.3zM524.5 259.9h12.3v5.4h-12.3zM524.5 384.9h12.3v5.4h-12.3zM524.5 406.7h12.3v5.4h-12.3zM524.5 477.4h12.3v5.4h-12.3zM540.8 205.5h12.7v5.4h-12.7zM540.8 287.1h12.7v5.4h-12.7zM540.8 308.8h12.7v5.4h-12.7zM540.8 401.2h12.7v5.4h-12.7zM540.8 471.9h12.7v5.4h-12.7zM557.5 276.2h12.9v10.9h-12.9zM557.5 401.2h12.9v5.4h-12.9zM557.5 493.7h12.9v5.4h-12.9zM574.5 243.6h12.9v5.4h-12.9zM574.5 308.8h12.9v5.4h-12.9zM574.5 423.0h12.9v5.4h-12.9zM590.8 314.2h24.0v5.4h-24.0zM590.8 412.1h24.0v5.4h-24.0z"/>
<path fill="rgb(48,48,48)" d="M427.4 319.7h6.8v5.4h-6.8zM436.5 189.2h7.2v5.4h-7.2zM436.5 319.7h7.2v5.4h-7.2zM436.5 352.3h7.2v5.4h-7.2zM446.1 151.1h8.0v5.4h-8.0zM446.1 183.8h8.0v5.4h-8.0zM446.1 270.8h8.0v5.4h-8.0zM446.1 325.1h8.0v5.4h-8.0zM446.1 346.9h8.0v5.4h-8.0zM446.1 374.1h8.0v5.4h-8.0zM446.1 406.7h8.0v5.4h-8.0zM446.1 455.6h8.0v5.4h-8.0zM446.1 477.4h8.0v5.4h-8.0zM456.7 221.8h8.8v5.4h-8.8zM456.7 466.5h8.8v5.4h-8.8zM468.4 200.1h9.6v5.4h-9.6zM468.4 270.8h9.6v5.4h-9.6zM468.4 287.1h9.6v10.9h-9.6zM468.4 352.3h9.6v10.9h-9.6zM481.2 172.9h10.6v5.4h-10.6zM481.2 308.8h10.6v5.4h-10.6zM481.2 450.2h10.6v5.4h-10.6zM481.2 466.5h10.6v5.4h-10.6zM494.9 134.8h8.7v5.4h-8.7zM494.9 330.6h8.7v10.9h-8.7zM507.1 129.4h13.3v5.4h-13.3zM507.1 292.5h13.3v5.4h-13.3zM507.1 477.4h13.3v5.4h-13.3zM524.5 205.5h12.3v5.4h-12.3zM524.5 276.2h12.3v5.4h-12.3zM524.5 297.9h12.3v5.4h-12.3zM524.5 319.7h12.3v5.4h-12.3zM524.5 336.0h12.3v5.4h-12.3zM524.5 433.9h12.3v5.4h-12.3zM540.8 156.6h12.7v5.4h-12.7zM540.8 189.2h12.7v5.4h-12.7zM557.5 216.4h12.9v5.4h-12.9zM574.5 330.6h12.9v5.4h-12.9zM574.5 504.6h12.9v17.4h-12.9z"/>
<path fill="rgb(51,51,51)" d="M427.4 330.6h6.8v5.4h-6.8zM427.4 390.4h6.8v5.4h-6.8zM427.4 428.4h6.8v5.4h-6.8zM436.5 325.1h7.2v5.4h-7.2zM436.5 368.6h7.2v5.4h-7.2zM436.5 471.9h7.2v5.4h-7.2zM446.1 352.3h8.0v10.9h-8.0zM446.1 368.6h8.0v5.4h-8.0zM446.1 379.5h8.0v5.4h-8.0zM446.1 482.8h8.0v5.4h-8.0zM456.7 162.0h8.8v5.4h-8.8zM456.7 194.6h8.8v5.4h-8.8zM456.7 325.1h8.8v5.4h-8.8zM456.7 439.3h8.8v5.4h-8.8zM468.4 227.2h9.6v5.4h-9.6zM468.4 281.6h9.6v5.4h-9.6zM468.4 336.0h9.6v5.4h-9.6zM481.2 281.6h10.6v5.4h-10.6zM481.2 319.7h10.6v5.4h-10.6zM481.2 341.4h10.6v5.4h-10.6zM494.9 156.6h8.7v5.4h-8.7zM494.9 189.2h8.7v5.4h-8.7zM494.9 232.7h8.7v5.4h-8.7zM494.9 249.0h8.7v5.4h-8.7zM494.9 352.3h8.7v5.4h-8.7zM494.9 423.0h8.7v5.4h-8.7zM494.9 439.3h8.7v5.4h-8.7zM494.9 477.4h8.7v5.4h-8.7zM507.1 156.6h13.3v5.4h-13.3zM507.1 221.8h13.3v5.4h-13.3zM507.1 423.0h13.3v5.4h-13.3zM524.5 189.2h12.3v5.4h-12.3zM524.5 314.2h12.3v5.4h-12.3zM524.5 428.4h12.3v5.4h-12.3zM540.8 254.4h12.7v5.4h-12.7zM540.8 336.0h12.7v5.4h-12.7zM557.5 287.1h12.9v5.4h-12.9zM557.5 357.8h12.9v5.4h-12.9z"/>
<path fill="rgb(54,54,54)" d="M427.4 140.2h6.8v5.4h-6.8zM427.4 194.6h6.8v5.4h-6.8zM427.4 254.4h6.8v5.4h-6.8zM427.4 325.1h6.8v5.4h-6.8zM427.4 336.0h6.8v5.4h-6.8zM427.4 412.1h6.8v5.4h-6.8zM427.4 504.6h6.8v17.4h-6.8zM436.5 183.8h7.2v5.4h-7.2zM436.5 428.4h7.2v5.4h-7.2zM436.5 450.2h7.2v5.4h-7.2zM446.1 205.5h8.0v5.4h-8.0zM446.1 292.5h8.0v5.4h-8.0zM446.1 412.1h8.0v5.4h-8.0zM446.1 423.0h8.0v5.4h-8.0zM446.1 444.8h8.0v5.4h-8.0zM446.1 504.6h8.0v17.4h-8.0zM456.7 210.9h8.8v5.4h-8.8zM456.7 238.1h8.8v5.4h-8.8zM456.7 336.0h8.8v5.4h-8.8zM456.7 368.6h8.8v5.4h-8.8zM456.7 395.8h8.8v5.4h-8.8zM456.7 455.6h8.8v5.4h-8.8zM468.4 243.6h9.6v5.4h-9.6zM468.4 330.6h9.6v5.4h-9.6zM468.4 423.0h9.6v10.9h-9.6zM468.4 471.9h9.6v5.4h-9.6zM468.4 493.7h9.6v5.4h-9.6zM481.2 134.8h10.6v5.4h-10.6zM494.9 178.3h8.7v5.4h-8.7zM494.9 200.1h8.7v5.4h-8.7zM494.9 444.8h8.7v10.9h-8.7zM507.1 314.2h13.3v5.4h-13.3zM507.1 357.8h13.3v5.4h-13.3zM507.1 368.6h13.3v5.4h-13.3zM524.5 466.5h12.3v5.4h-12.3zM540.8 428.4h12.7v5.4h-12.7zM540.8 488.2h12.7v10.9h-12.7z"/>
<path fill="rgb(57,57,57)" d="M427.4 238.1h6.8v5.4h-6.8zM427.4 363.2h6.8v5.4h-6.8zM427.4 401.2h6.8v5.4h-6.8zM427.4 455.6h6.8v5.4h-6.8zM436.5 167.4h7.2v5.4h-7.2zM436.5 270.8h7.2v5.4h-7.2zM436.5 292.5h7.2v5.4h-7.2zM436.5 314.2h7.2v5.4h-7.2zM436.5 401.2h7.2v5.4h-7.2zM436.5 444.8h7.2v5.4h-7.2zM436.5 466.5h7.2v5.4h-7.2zM446.1 238.1h8.0v5.4h-8.0zM446.1 287.1h8.0v5.4h-8.0zM446.1 297.9h8.0v5.4h-8.0zM446.1 341.4h8.0v5.4h-8.0zM456.7 227.2h8.8v5.4h-8.8zM456.7 292.5h8.8v5.4h-8.8zM456.7 417.6h8.8v5.4h-8.8zM468.4 189.2h9.6v5.4h-9.6zM468.4 216.4h9.6v5.4h-9.6zM468.4 254.4h9.6v5.4h-9.6zM468.4 363.2h9.6v5.4h-9.6zM481.2 194.6h10.6v5.4h-10.6zM481.2 238.1h10.6v5.4h-10.6zM481.2 357.8h10.6v5.4h-10.6zM481.2 471.9h10.6v5.4h-10.6zM494.9 319.7h8.7v5.4h-8.7zM494.9 341.4h8.7v5.4h-8.7zM494.9 357.8h8.7v5.4h-8.7zM507.1 162.0h13.3v5.4h-13.3zM507.1 330.6h13.3v10.9h-13.3zM524.5 368.6h12.3v5.4h-12.3z"/>
<path fill="rgb(60,60,60)" d="M427.4 123.9h6.8v5.4h-6.8zM427.4 145.7h6.8v5.4h-6.8zM427.4 156.6h6.8v10.9h-6.8zM427.4 178.3h6.8v5.4h-6.8zM427.4 210.9h6.8v5.4h-6.8zM427.4 221.8h6.8v5.4h-6.8zM427.4 406.7h6.8v5.4h-6.8zM427.4 444.8h6.8v5.4h-6.8zM427.4 488.2h6.8v10.9h-6.8zM436.5 151.1h7.2v5.4h-7.2zM436.5 363.2h7.2v5.4h-7.2zM446.1 216.4h8.0v5.4h-8.0zM446.1 281.6h8.0v5.4h-8.0zM446.1 433.9h8.0v5.4h-8.0zM456.7 140.2h8.8v5.4h-8.8zM456.7 471.9h8.8v5.4h-8.8zM468.4 162.0h9.6v5.4h-9.6zM468.4 297.9h9.6v5.4h-9.6zM481.2 205.5h10.6v16.3h-10.6zM494.9 210.9h8.7v5.4h-8.7zM494.9 384.9h8.7v5.4h-8.7zM494.9 395.8h8.7v5.4h-8.7zM507.1 276.2h13.3v5.4h-13.3z"/>
<path fill="rgb(63,63,63)" d="M427.4 265.3h6.8v5.4h-6.8zM427.4 374.1h6.8v5.4h-6.8zM427.4 477.4h6.8v10.9h-6.8zM436.5 249.0h7.2v5.4h-7.2zM436.5 417.6h7.2v5.4h-7.2zM446.1 162.0h8.0v5.4h-8.0zM446.1 308.8h8.0v5.4h-8.0zM456.7 276.2h8.8v5.4h-8.8zM456.7 308.8h8.8v5.4h-8.8zM456.7 450.2h8.8v5.4h-8.8zM468.4 259.9h9.6v5.4h-9.6zM481.2 363.2h10.6v10.9h-10.6zM481.2 384.9h10.6v5.4h-10.6zM494.9 466.5h8.7v5.4h-8.7zM507.1 183.8h13.3v5.4h-13.3zM507.1 200.1h13.3v5.4h-13.3zM507.1 232.7h13.3v5.4h-13.3zM507.1 270.8h13.3v5.4h-13.3zM507.1 363.2h13.3v5.4h-13.3z"/>
<path fill="rgb(66,66,66)" d="M427.4 270.8h6.8v5.4h-6.8zM427.4 292.5h6.8v5.4h-6.8zM427.4 357.8h6.8v5.4h-6.8zM436.5 374.1h7.2v5.4h-7.2zM446.1 401.2h8.0v5.4h-8.0zM468.4 151.1h9.6v5.4h-9.6zM481.2 287.1h10.6v5.4h-10.6zM481.2 412.1h10.6v5.4h-10.6zM494.9 482.8h8.7v5.4h-8.7zM507.1 346.9h13.3v5.4h-13.3z"/>
<path fill="rgb(69,69,69)" d="M427.4 227.2h6.8v5.4h-6.8zM427.4 276.2h6.8v5.4h-6.8zM427.4 368.6h6.8v5.4h-6.8zM427.4 461.1h6.8v10.9h-6.8zM436.5 357.8h7.2v5.4h-7.2zM456.7 172.9h8.8v5.4h-8.8zM468.4 417.6h9.6v5.4h-9.6z"/>
<path fill="rgb(72,72,72)" d="M427.4 439.3h6.8v5.4h-6.8zM427.4 499.1h6.8v5.4h-6.8zM436.5 162.0h7.2v5.4h-7.2zM436.5 330.6h7.2v5.4h-7.2zM456.7 390.4h8.8v5.4h-8.8zM481.2 249.0h10.6v5.4h-10.6zM494.9 167.4h8.7v5.4h-8.7zM507.1 384.9h13.3v5.4h-13.3zM507.1 450.2h13.3v5.4h-13.3z"/>
<path fill="rgb(75,75,75)" d="M427.4 189.2h6.8v5.4h-6.8zM427.4 341.4h6.8v5.4h-6.8z"/>
<path fill="rgb(78,78,78)" d="M427.4 259.9h6.8v5.4h-6.8zM481.2 75.0h10.6v10.9h-10.6z"/>
<path fill="rgb(81,81,81)" d="M427.4 314.2h6.8v5.4h-6.8zM456.7 412.1h8.8v5.4h-8.8zM481.2 167.4h10.6v5.4h-10.6z"/>
<path fill="rgb(87,87,87)" d="M468.4 75.0h9.6v10.9h-9.6zM507.1 134.8h13.3v5.4h-13.3z"/>
<path fill="rgb(93,93,93)" d="M494.9 75.0h8.7v10.9h-8.7z"/>
<path fill="rgb(105,105,105)" d="M456.7 75.0h8.8v10.9h-8.8z"/>
<path fill="rgb(132,132,132)" d="M436.5 75.0h7.2v10.9h-7.2zM446.1 75.0h8.0v10.9h-8.0z"/>
<path fill="rgb(135,135,135)" d="M524.5 75.0h12.3v10.9h-12.3z"/>
<path fill="rgb(138,138,138)" d="M507.1 75.0h13.3v10.9h-13.3z"/>
<path fill="rgb(144,144,144)" d="M590.8 75.0h24.0v10.9h-24.0z"/>
<path fill="rgb(147,147,147)" d="M574.5 75.0h12.9v10.9h-12.9z"/>
<path fill="rgb(150,150,150)" d="M540.8 75.0h12.7v10.9h-12.7z"/>
<path fill="rgb(156,156,156)" d="M427.4 75.0h6.8v10.9h-6.8z"/>
<path fill="rgb(159,159,159)" d="M557.5 75.0h12.9v10.9h-12.9z"/>
</g>
<filter id="fb" filterUnits="userSpaceOnUse" x="50" y="50" width="580" height="60" color-interpolation-filters="sRGB"><feGaussianBlur stdDeviation="1.1 0.8"/><feComponentTransfer><feFuncR type="table" tableValues="0 0 0 0 0 0 0 0 0 0 0 0 0 0 0 0 0 0.25 0.5 0.75 1"/><feFuncG type="table" tableValues="0 0 0 0 0 0.25 0.5 0.75 1 1 1 1 1 1 1 1 1 1 1 1 1"/><feFuncB type="table" tableValues="0.5 0.625 0.75 0.875 1 1 1 1 1 0.875 0.75 0.625 0.5 0.375 0.25 0.125 0 0 0 0 0"/><feFuncA type="table" tableValues="0 0 0 0 0 0 0 0 0 0 0 0 0 0 0 0 0 0 0 0 0 0 0 0 0.167 0.5 0.833 1 1 1 1 1 1 1 1 1 1 1 1 1 1 1 1 1 1 1 1 1 1 1 1"/></feComponentTransfer></filter><clipPath id="cbd"><rect x="80" y="60" width="520" height="30"/></clipPath>
<g clip-path="url(#cbd)" filter="url(#fb)">
<path fill="rgb(54,54,54)" d="M479.6 75.1h14.0v11h-14.0z"/>
<path fill="rgb(60,60,60)" d="M466.9 75.1h12.7v11h-12.7z"/>
<path fill="rgb(66,66,66)" d="M82.1 75.1h0.7v11h-0.7zM84.4 75.1h0.8v11h-0.8zM111.0 75.1h1.3v11h-1.3z"/>
<path fill="rgb(69,69,69)" d="M493.5 75.1h11.5v11h-11.5z"/>
<path fill="rgb(78,78,78)" d="M97.0 75.1h1.0v11h-1.0zM455.3 75.1h11.5v11h-11.5z"/>
<path fill="rgb(81,81,81)" d="M112.3 75.1h1.4v11h-1.4zM258.1 75.1h6.7v11h-6.7z"/>
<path fill="rgb(87,87,87)" d="M83.6 75.1h0.8v11h-0.8zM84.4 76.7h0.8v7.8h-0.8zM96.0 75.1h1.0v11h-1.0z"/>
<path fill="rgb(90,90,90)" d="M82.1 76.7h0.7v7.8h-0.7zM91.2 75.1h0.9v11h-0.9zM111.0 76.7h1.3v7.8h-1.3zM481.0 76.9h11.2v7.6h-11.2z"/>
<path fill="rgb(93,93,93)" d="M104.7 75.1h1.2v11h-1.2zM105.9 75.1h1.2v11h-1.2zM119.5 75.1h1.6v11h-1.6zM279.3 75.1h7.7v11h-7.7z"/>
<path fill="rgb(96,96,96)" d="M468.2 76.9h10.2v7.6h-10.2z"/>
<path fill="rgb(99,99,99)" d="M81.4 75.1h0.7v11h-0.7zM85.2 75.1h0.8v11h-0.8zM264.9 75.1h7.0v11h-7.0zM287.0 75.1h8.0v11h-8.0zM303.4 75.1h8.6v11h-8.6zM408.4 75.1h8.9v11h-8.9z"/>
<path fill="rgb(102,102,102)" d="M97.0 76.7h1.0v7.8h-1.0zM115.1 75.1h1.5v11h-1.5zM116.5 75.1h1.5v11h-1.5z"/>
<path fill="rgb(105,105,105)" d="M112.3 76.7h1.4v7.8h-1.4zM494.7 76.9h9.2v7.6h-9.2z"/>
<path fill="rgb(108,108,108)" d="M96.0 76.7h1.0v7.8h-1.0zM107.2 75.1h1.2v11h-1.2zM435.3 75.1h9.5v11h-9.5zM444.9 75.1h10.5v11h-10.5z"/>
<path fill="rgb(111,111,111)" d="M68.0 75.1h12.7v11h-12.7zM83.6 76.7h0.8v7.8h-0.8zM90.3 75.1h0.9v11h-0.9zM101.3 75.1h1.1v11h-1.1zM103.6 75.1h1.2v11h-1.2zM167.8 75.1h3.0v11h-3.0zM417.4 75.1h9.0v11h-9.0zM522.5 75.1h16.2v11h-16.2z"/>
<path fill="rgb(114,114,114)" d="M91.2 76.7h0.9v7.8h-0.9zM105.9 76.7h1.2v7.8h-1.2zM113.7 75.1h1.4v11h-1.4zM149.0 75.1h2.5v11h-2.5zM456.5 76.9h9.2v7.6h-9.2zM505.0 75.1h17.5v11h-17.5z"/>
<path fill="rgb(117,117,117)" d="M94.0 75.1h1.0v11h-1.0zM104.7 76.7h1.2v7.8h-1.2zM119.5 76.7h1.6v7.8h-1.6zM126.2 75.1h1.8v11h-1.8zM258.8 76.9h5.4v7.6h-5.4zM329.3 75.1h8.7v11h-8.7z"/>
<path fill="rgb(120,120,120)" d="M81.4 76.7h0.7v7.8h-0.7zM85.2 76.7h0.8v7.8h-0.8zM589.5 75.1h26.5v11h-26.5z"/>
<path fill="rgb(123,123,123)" d="M115.1 76.7h1.5v7.8h-1.5zM139.8 75.1h2.2v11h-2.2zM177.3 75.1h3.4v11h-3.4zM320.6 75.1h8.7v11h-8.7zM538.8 75.1h16.8v11h-16.8zM572.5 75.1h17.0v11h-17.0z"/>
<path fill="rgb(126,126,126)" d="M87.7 75.1h0.9v11h-0.9zM99.1 75.1h1.1v11h-1.1zM109.7 75.1h1.3v11h-1.3zM116.5 76.7h1.5v7.8h-1.5zM233.9 75.1h5.7v11h-5.7z"/>
<path fill="rgb(129,129,129)" d="M92.1 75.1h0.9v11h-0.9zM107.2 76.7h1.2v7.8h-1.2zM129.8 75.1h1.9v11h-1.9zM133.6 75.1h2.0v11h-2.0zM195.8 75.1h4.1v11h-4.1zM218.2 75.1h5.0v11h-5.0zM228.4 75.1h5.4v11h-5.4zM280.0 76.9h6.1v7.6h-6.1zM364.2 75.1h8.8v11h-8.8zM390.7 75.1h8.9v11h-8.9z"/>
<path fill="rgb(132,132,132)" d="M90.3 76.7h0.9v7.8h-0.9zM98.0 75.1h1.1v11h-1.1zM102.4 75.1h1.1v11h-1.1zM142.0 75.1h2.3v11h-2.3zM167.8 76.7h3.0v7.8h-3.0zM184.3 75.1h3.7v11h-3.7zM373.0 75.1h8.8v11h-8.8zM381.8 75.1h8.9v11h-8.9zM426.3 75.1h9.0v11h-9.0zM555.5 75.1h17.0v11h-17.0z"/>
<path fill="rgb(135,135,135)" d="M68.0 76.7h12.7v7.8h-12.7zM88.5 75.1h0.9v11h-0.9zM100.2 75.1h1.1v11h-1.1zM101.3 76.7h1.1v7.8h-1.1zM103.6 76.7h1.2v7.8h-1.2zM137.7 75.1h2.1v11h-2.1zM146.6 75.1h2.4v11h-2.4zM149.0 76.7h2.5v7.8h-2.5zM154.0 75.1h2.6v11h-2.6zM265.6 76.9h5.6v7.6h-5.6zM287.8 76.9h6.4v7.6h-6.4zM304.2 76.9h6.9v7.6h-6.9zM312.0 75.1h8.6v11h-8.6zM338.0 75.1h8.7v11h-8.7zM409.3 76.9h7.1v7.6h-7.1z"/>
<path fill="rgb(138,138,138)" d="M113.7 76.7h1.4v7.8h-1.4zM124.4 75.1h1.7v11h-1.7zM126.2 76.7h1.8v7.8h-1.8zM223.2 75.1h5.2v11h-5.2zM239.6 75.1h5.9v11h-5.9zM295.0 75.1h8.4v11h-8.4zM355.4 75.1h8.8v11h-8.8z"/>
<path fill="rgb(141,141,141)" d="M82.9 75.1h0.8v11h-0.8zM94.0 76.7h1.0v7.8h-1.0zM108.4 75.1h1.3v11h-1.3zM135.6 75.1h2.1v11h-2.1z"/>
<path fill="rgb(144,144,144)" d="M151.4 75.1h2.5v11h-2.5zM159.3 75.1h2.8v11h-2.8zM177.3 76.7h3.4v7.8h-3.4zM436.3 76.9h7.6v7.6h-7.6zM445.9 76.9h8.4v7.6h-8.4z"/>
<path fill="rgb(147,147,147)" d="M99.1 76.7h1.1v7.8h-1.1zM109.7 76.7h1.3v7.8h-1.3zM139.8 76.7h2.2v7.8h-2.2zM174.0 75.1h3.3v11h-3.3zM251.7 75.1h6.5v11h-6.5zM418.3 76.9h7.2v7.6h-7.2zM524.1 76.9h13.0v7.6h-13.0z"/>
<path fill="rgb(150,150,150)" d="M86.8 75.1h0.8v11h-0.8zM87.7 76.7h0.9v7.8h-0.9zM89.4 75.1h0.9v11h-0.9zM195.8 76.7h4.1v7.8h-4.1zM245.5 75.1h6.2v11h-6.2zM330.1 76.9h7.0v7.6h-7.0zM399.5 75.1h8.9v11h-8.9zM506.8 76.9h14.0v7.6h-14.0z"/>
<path fill="rgb(153,153,153)" d="M86.0 75.1h0.8v11h-0.8zM92.1 76.7h0.9v7.8h-0.9zM98.0 76.7h1.1v7.8h-1.1zM102.4 76.7h1.1v7.8h-1.1zM129.8 76.7h1.9v7.8h-1.9zM133.6 76.7h2.0v7.8h-2.0z"/>
<path fill="rgb(156,156,156)" d="M131.7 75.1h1.9v11h-1.9zM142.0 76.7h2.3v7.8h-2.3zM146.6 76.7h2.4v7.8h-2.4zM154.0 76.7h2.6v7.8h-2.6zM162.1 75.1h2.9v11h-2.9zM184.3 76.7h3.7v7.8h-3.7zM204.2 75.1h4.5v11h-4.5zM208.7 75.1h4.7v11h-4.7zM346.7 75.1h8.7v11h-8.7zM590.5 76.9h8.4v7.6h-8.4z"/>
<path fill="rgb(159,159,159)" d="M88.5 76.7h0.9v7.8h-0.9zM100.2 76.7h1.1v7.8h-1.1zM137.7 76.7h2.1v7.8h-2.1zM321.5 76.9h6.9v7.6h-6.9zM540.4 76.9h13.4v7.6h-13.4zM574.2 76.9h13.6v7.6h-13.6z"/>
<path fill="rgb(162,162,162)" d="M82.9 76.7h0.8v7.8h-0.8zM108.4 76.7h1.3v7.8h-1.3zM118.0 75.1h1.5v11h-1.5zM124.4 76.7h1.7v7.8h-1.7zM144.3 75.1h2.3v11h-2.3zM234.5 76.9h4.5v7.6h-4.5zM271.9 75.1h7.4v11h-7.4zM365.1 76.9h7.0v7.6h-7.0z"/>
<path fill="rgb(165,165,165)" d="M135.6 76.7h2.1v7.8h-2.1zM218.7 76.9h4.0v7.6h-4.0zM229.0 76.9h4.4v7.6h-4.4zM391.5 76.9h7.1v7.6h-7.1z"/>
<path fill="rgb(168,168,168)" d="M128.0 75.1h1.8v11h-1.8zM151.4 76.7h2.5v7.8h-2.5zM159.3 76.7h2.8v7.8h-2.8zM373.9 76.9h7.1v7.6h-7.1zM382.7 76.9h7.1v7.6h-7.1zM427.2 76.9h7.2v7.6h-7.2zM557.2 76.9h13.6v7.6h-13.6z"/>
<path fill="rgb(171,171,171)" d="M122.8 75.1h1.7v11h-1.7zM156.6 75.1h2.7v11h-2.7zM164.9 75.1h2.9v11h-2.9zM174.0 76.7h3.3v7.8h-3.3zM312.8 76.9h6.9v7.6h-6.9zM338.8 76.9h7.0v7.6h-7.0z"/>
<path fill="rgb(174,174,174)" d="M86.0 76.7h0.8v7.8h-0.8zM86.8 76.7h0.8v7.8h-0.8zM89.4 76.7h0.9v7.8h-0.9zM170.9 75.1h3.2v11h-3.2zM188.0 75.1h3.8v11h-3.8zM223.7 76.9h4.2v7.6h-4.2zM240.2 76.9h4.7v7.6h-4.7zM295.8 76.9h6.7v7.6h-6.7zM356.3 76.9h7.0v7.6h-7.0z"/>
<path fill="rgb(177,177,177)" d="M162.1 76.7h2.9v7.8h-2.9zM180.7 75.1h3.5v11h-3.5z"/>
<path fill="rgb(180,180,180)" d="M93.0 75.1h1.0v11h-1.0zM131.7 76.7h1.9v7.8h-1.9zM199.9 75.1h4.3v11h-4.3zM204.2 76.7h4.5v7.8h-4.5zM208.7 76.7h4.7v7.8h-4.7z"/>
<path fill="rgb(183,183,183)" d="M118.0 76.7h1.5v7.8h-1.5zM121.1 75.1h1.6v11h-1.6zM213.3 75.1h4.8v11h-4.8zM252.3 76.9h5.2v7.6h-5.2z"/>
<path fill="rgb(186,186,186)" d="M144.3 76.7h2.3v7.8h-2.3zM246.1 76.9h4.9v7.6h-4.9zM400.4 76.9h7.1v7.6h-7.1z"/>
<path fill="rgb(189,189,189)" d="M95.0 75.1h1.0v11h-1.0z"/>
<path fill="rgb(192,192,192)" d="M128.0 76.7h1.8v7.8h-1.8zM164.9 76.7h2.9v7.8h-2.9zM191.8 75.1h4.0v11h-4.0zM347.5 76.9h7.0v7.6h-7.0z"/>
<path fill="rgb(195,195,195)" d="M122.8 76.7h1.7v7.8h-1.7zM156.6 76.7h2.7v7.8h-2.7zM170.9 76.7h3.2v7.8h-3.2z"/>
<path fill="rgb(198,198,198)" d="M80.7 75.1h0.7v11h-0.7zM188.0 76.7h3.8v7.8h-3.8zM272.7 76.9h5.9v7.6h-5.9z"/>
<path fill="rgb(201,201,201)" d="M180.7 76.7h3.5v7.8h-3.5z"/>
<path fill="rgb(204,204,204)" d="M93.0 76.7h1.0v7.8h-1.0zM199.9 76.7h4.3v7.8h-4.3zM213.3 76.7h4.8v7.8h-4.8z"/>
<path fill="rgb(207,207,207)" d="M121.1 76.7h1.6v7.8h-1.6z"/>
<path fill="rgb(210,210,210)" d="M95.0 76.7h1.0v7.8h-1.0z"/>
<path fill="rgb(216,216,216)" d="M191.8 76.7h4.0v7.8h-4.0z"/>
<path fill="rgb(222,222,222)" d="M80.7 76.7h0.7v7.8h-0.7z"/>
</g>
<path d="M505.25 76V86.3M522.75 76V86.3M539.00 76V86.3M555.75 76V86.3M572.75 76V86.3M589.75 76V86.3M446.25 76V86.3M434.75 76V86.3M424.25 76V86.3M417.25 76V86.3M411.25 76V86.3" stroke="#001" stroke-width="1" opacity="0.7" fill="none"/>
<path class="k" d="M79.5 59.0V511.0M79.0 59.5H601.0M70.0 60.5H80.0M75.0 66.5H80.0M75.0 72.5H80.0M75.0 78.5H80.0M75.0 84.5H80.0M75.0 90.5H80.0M75.0 96.5H80.0M75.0 102.5H80.0M75.0 108.5H80.0M75.0 114.5H80.0M70.0 120.5H80.0M75.0 126.5H80.0M75.0 132.5H80.0M75.0 138.5H80.0M75.0 144.5H80.0M75.0 150.5H80.0M75.0 156.5H80.0M75.0 162.5H80.0M75.0 168.5H80.0M75.0 174.5H80.0M70.0 180.5H80.0M75.0 186.5H80.0M75.0 192.5H80.0M75.0 198.5H80.0M75.0 204.5H80.0M75.0 210.5H80.0M75.0 216.5H80.0M75.0 222.5H80.0M75.0 228.5H80.0M75.0 234.5H80.0M70.0 240.5H80.0M75.0 246.5H80.0M75.0 252.5H80.0M75.0 258.5H80.0M75.0 264.5H80.0M75.0 270.5H80.0M75.0 276.5H80.0M75.0 282.5H80.0M75.0 288.5H80.0M75.0 294.5H80.0M70.0 300.5H80.0M75.0 306.5H80.0M75.0 312.5H80.0M75.0 318.5H80.0M75.0 324.5H80.0M75.0 330.5H80.0M75.0 336.5H80.0M75.0 342.5H80.0M75.0 348.5H80.0M75.0 354.5H80.0M70.0 360.5H80.0M75.0 366.5H80.0M75.0 372.5H80.0M75.0 378.5H80.0M75.0 384.5H80.0M75.0 390.5H80.0M75.0 397.5H80.0M75.0 403.5H80.0M75.0 409.5H80.0M75.0 415.5H80.0M70.0 421.5H80.0M75.0 427.5H80.0M75.0 433.5H80.0M75.0 439.5H80.0M75.0 445.5H80.0M75.0 451.5H80.0M75.0 457.5H80.0M75.0 463.5H80.0M75.0 469.5H80.0M75.0 475.5H80.0M70.0 481.5H80.0M75.0 487.5H80.0M75.0 493.5H80.0M75.0 499.5H80.0M75.0 505.5H80.0M79.0 510.5H601.0M80.5 510.0V515.0M89.5 510.0V515.0M99.5 510.0V515.0M108.5 510.0V515.0M118.5 510.0V515.0M128.5 510.0V515.0M137.5 510.0V515.0M147.5 510.0V515.0M157.5 510.0V515.0M166.5 510.0V520.0M176.5 510.0V515.0M185.5 510.0V515.0M195.5 510.0V515.0M205.5 510.0V515.0M214.5 510.0V515.0M224.5 510.0V515.0M234.5 510.0V515.0M243.5 510.0V515.0M253.5 510.0V515.0M262.5 510.0V520.0M272.5 510.0V515.0M282.5 510.0V515.0M291.5 510.0V515.0M301.5 510.0V515.0M311.5 510.0V515.0M320.5 510.0V515.0M330.5 510.0V515.0M340.5 510.0V515.0M349.5 510.0V515.0M359.5 510.0V520.0M368.5 510.0V515.0M378.5 510.0V515.0M388.5 510.0V515.0M397.5 510.0V515.0M407.5 510.0V515.0M417.5 510.0V515.0M426.5 510.0V515.0M436.5 510.0V515.0M445.5 510.0V515.0M455.5 510.0V520.0M465.5 510.0V515.0M474.5 510.0V515.0M484.5 510.0V515.0M494.5 510.0V515.0M503.5 510.0V515.0M513.5 510.0V515.0M522.5 510.0V515.0M532.5 510.0V515.0M542.5 510.0V515.0M551.5 510.0V520.0M561.5 510.0V515.0M571.5 510.0V515.0M580.5 510.0V515.0M590.5 510.0V515.0M600.5 510.0V515.0M600.5 59.0V511.0M600.0 60.5H610.0M600.0 100.5H605.0M600.0 140.5H610.0M600.0 180.5H605.0M600.0 220.5H610.0M600.0 260.5H605.0M600.0 300.5H610.0M600.0 341.5H605.0M600.0 381.5H610.0M600.0 421.5H605.0M600.0 461.5H610.0M600.0 501.5H605.0"/>
<text class="tk" x="69.0" y="65.1" text-anchor="end">0.</text>
<text class="tk" x="69.0" y="125.1" text-anchor="end">1.</text>
<text class="tk" x="69.0" y="185.1" text-anchor="end">2.</text>
<text class="tk" x="69.0" y="245.1" text-anchor="end">3.</text>
<text class="tk" x="69.0" y="305.1" text-anchor="end">4.</text>
<text class="tk" x="69.0" y="365.1" text-anchor="end">5.</text>
<text class="tk" x="69.0" y="426.1" text-anchor="end">6.</text>
<text class="tk" x="69.0" y="486.1" text-anchor="end">7.</text>
<text class="tk" x="161.6" y="537.0">1.</text>
<text class="tk" x="257.6" y="537.0">2.</text>
<text class="tk" x="354.6" y="537.0">3.</text>
<text class="tk" x="450.6" y="537.0">4.</text>
<text class="tk" x="546.6" y="537.0">5.</text>
<text class="tr" x="613.2" y="65.1">0.</text>
<text class="tr" x="613.2" y="145.1">200.</text>
<text class="tr" x="613.2" y="225.1">400.</text>
<text class="tr" x="613.2" y="305.1">600.</text>
<text class="tr" x="613.2" y="386.1">800.</text>
<text class="tr" x="613.2" y="466.1">1000.</text>
<text class="t" transform="translate(39.5,330) rotate(-90)" textLength="101.5" lengthAdjust="spacing">Time Delay (ms)</text>
<text class="t" transform="translate(652.5,216.5) rotate(90)" textLength="135.5" lengthAdjust="spacing">Apparent Range (km)</text>
<text class="t" x="294.5" y="557.7" textLength="106.6" lengthAdjust="spacing">Frequency (MHz)</text>
<defs><linearGradient id="cb" x1="0" y1="0" x2="0" y2="1">
<stop offset="0.0000" stop-color="rgb(255,0,0)"/>
<stop offset="0.3611" stop-color="rgb(255,255,0)"/>
<stop offset="0.4967" stop-color="rgb(0,255,0)"/>
<stop offset="0.7433" stop-color="rgb(0,255,255)"/>
<stop offset="0.8744" stop-color="rgb(0,0,255)"/>
<stop offset="1.0000" stop-color="rgb(0,0,128)"/>
</linearGradient></defs>
<rect x="740" y="60" width="21" height="450" fill="url(#cb)"/>
<path class="k" d="M740.5 59.0V511.0M760.5 59.0V511.0M740.0 510.5H761.0M730.0 510.5H740.0M761.0 510.5H771.0M735.0 493.5H740.0M761.0 493.5H766.0M735.0 483.5H740.0M761.0 483.5H766.0M735.0 476.5H740.0M761.0 476.5H766.0M735.0 470.5H740.0M761.0 470.5H766.0M735.0 466.5H740.0M761.0 466.5H766.0M735.0 462.5H740.0M761.0 462.5H766.0M735.0 459.5H740.0M761.0 459.5H766.0M735.0 456.5H740.0M761.0 456.5H766.0M730.0 453.5H740.0M761.0 453.5H771.0M735.0 436.5H740.0M761.0 436.5H766.0M735.0 426.5H740.0M761.0 426.5H766.0M735.0 419.5H740.0M761.0 419.5H766.0M735.0 414.5H740.0M761.0 414.5H766.0M735.0 409.5H740.0M761.0 409.5H766.0M735.0 406.5H740.0M761.0 406.5H766.0M735.0 402.5H740.0M761.0 402.5H766.0M735.0 400.5H740.0M761.0 400.5H766.0M730.0 397.5H740.0M761.0 397.5H771.0M735.0 380.5H740.0M761.0 380.5H766.0M735.0 370.5H740.0M761.0 370.5H766.0M735.0 363.5H740.0M761.0 363.5H766.0M735.0 358.5H740.0M761.0 358.5H766.0M735.0 353.5H740.0M761.0 353.5H766.0M735.0 349.5H740.0M761.0 349.5H766.0M735.0 346.5H740.0M761.0 346.5H766.0M735.0 343.5H740.0M761.0 343.5H766.0M730.0 341.5H740.0M761.0 341.5H771.0M735.0 324.5H740.0M761.0 324.5H766.0M735.0 314.5H740.0M761.0 314.5H766.0M735.0 307.5H740.0M761.0 307.5H766.0M735.0 301.5H740.0M761.0 301.5H766.0M735.0 297.5H740.0M761.0 297.5H766.0M735.0 293.5H740.0M761.0 293.5H766.0M735.0 290.5H740.0M761.0 290.5H766.0M735.0 287.5H740.0M761.0 287.5H766.0M730.0 285.5H740.0M761.0 285.5H771.0M735.0 268.5H740.0M761.0 268.5H766.0M735.0 258.5H740.0M761.0 258.5H766.0M735.0 251.5H740.0M761.0 251.5H766.0M735.0 245.5H740.0M761.0 245.5H766.0M735.0 241.5H740.0M761.0 241.5H766.0M735.0 237.5H740.0M761.0 237.5H766.0M735.0 234.5H740.0M761.0 234.5H766.0M735.0 231.5H740.0M761.0 231.5H766.0M730.0 228.5H740.0M761.0 228.5H771.0M735.0 211.5H740.0M761.0 211.5H766.0M735.0 201.5H740.0M761.0 201.5H766.0M735.0 194.5H740.0M761.0 194.5H766.0M735.0 189.5H740.0M761.0 189.5H766.0M735.0 184.5H740.0M761.0 184.5H766.0M735.0 181.5H740.0M761.0 181.5H766.0M735.0 177.5H740.0M761.0 177.5H766.0M735.0 175.5H740.0M761.0 175.5H766.0M730.0 172.5H740.0M761.0 172.5H771.0M735.0 155.5H740.0M761.0 155.5H766.0M735.0 145.5H740.0M761.0 145.5H766.0M735.0 138.5H740.0M761.0 138.5H766.0M735.0 133.5H740.0M761.0 133.5H766.0M735.0 128.5H740.0M761.0 128.5H766.0M735.0 124.5H740.0M761.0 124.5H766.0M735.0 121.5H740.0M761.0 121.5H766.0M735.0 118.5H740.0M761.0 118.5H766.0M730.0 116.5H740.0M761.0 116.5H771.0M735.0 99.5H740.0M761.0 99.5H766.0M735.0 89.5H740.0M761.0 89.5H766.0M735.0 82.5H740.0M761.0 82.5H766.0M735.0 76.5H740.0M761.0 76.5H766.0M735.0 72.5H740.0M761.0 72.5H766.0M735.0 68.5H740.0M761.0 68.5H766.0M735.0 65.5H740.0M761.0 65.5H766.0M735.0 62.5H740.0M761.0 62.5H766.0M730.0 60.5H740.0M761.0 60.5H771.0"/>
<text class="t" x="730.0" y="511.2" text-anchor="end">-17</text>
<text class="t" x="709.5" y="518.0" text-anchor="end">10</text>
<text class="t" x="730.0" y="454.9" text-anchor="end">-16</text>
<text class="t" x="709.5" y="461.8" text-anchor="end">10</text>
<text class="t" x="730.0" y="398.7" text-anchor="end">-15</text>
<text class="t" x="709.5" y="405.5" text-anchor="end">10</text>
<text class="t" x="730.0" y="342.4" text-anchor="end">-14</text>
<text class="t" x="709.5" y="349.2" text-anchor="end">10</text>
<text class="t" x="730.0" y="286.2" text-anchor="end">-13</text>
<text class="t" x="709.5" y="293.0" text-anchor="end">10</text>
<text class="t" x="730.0" y="229.9" text-anchor="end">-12</text>
<text class="t" x="709.5" y="236.8" text-anchor="end">10</text>
<text class="t" x="730.0" y="173.7" text-anchor="end">-11</text>
<text class="t" x="709.5" y="180.5" text-anchor="end">10</text>
<text class="t" x="730.0" y="117.5" text-anchor="end">-10</text>
<text class="t" x="709.5" y="124.2" text-anchor="end">10</text>
<text class="t" x="730.0" y="61.2" text-anchor="end">-9</text>
<text class="t" x="717.0" y="68.0" text-anchor="end">10</text>
<text class="t" x="712.2" y="552.0">V</text>
<text class="s" x="724.4" y="547.0">2</text>
<text class="t" x="733.2" y="552.0">m</text>
<text class="s" x="746.8" y="547.0">-2</text>
<text class="t" x="758.2" y="552.0">Hz</text>
<text class="s" x="776.0" y="547.0">-1</text>
<text class="u" x="724.0" y="581.7" textLength="58.0" lengthAdjust="spacing">UIOWA 20121009</text>
</svg></body></html>
